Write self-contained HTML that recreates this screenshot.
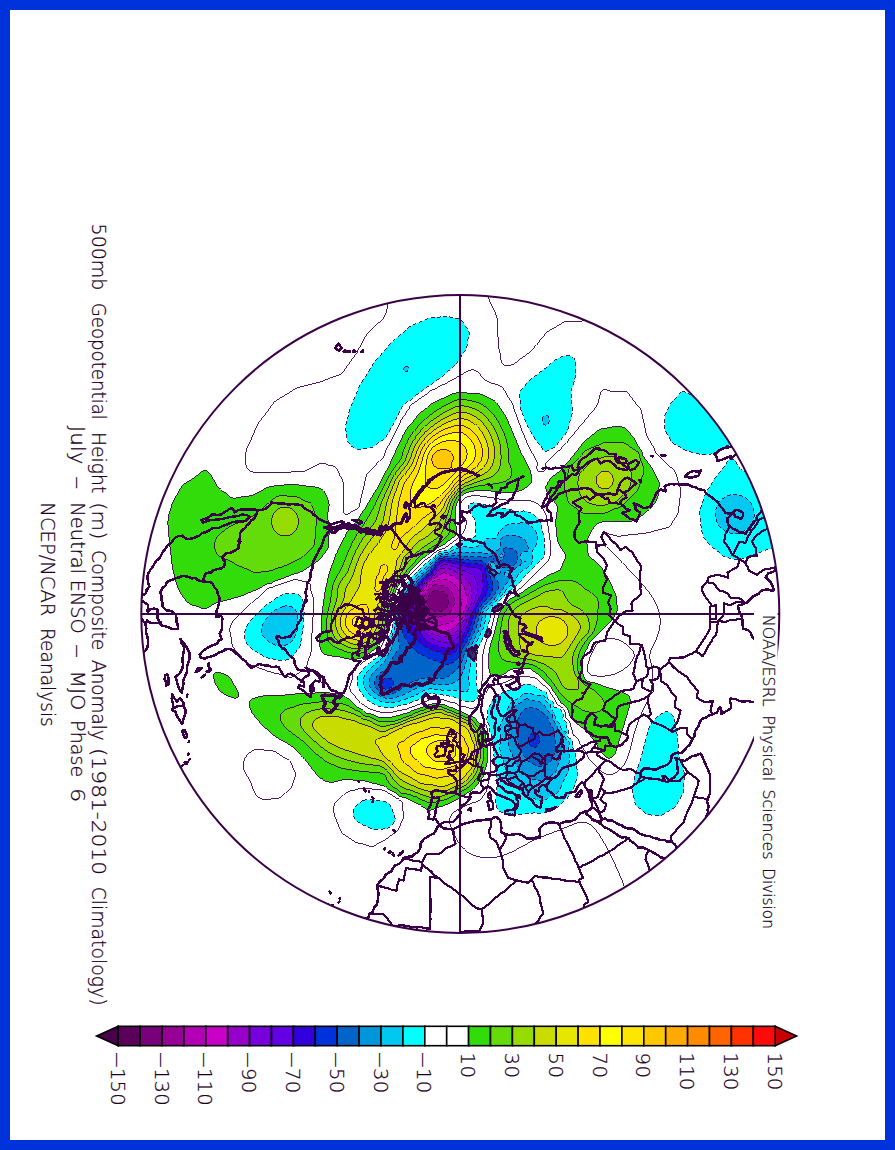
<!DOCTYPE html>
<html lang="en"><head><meta charset="utf-8"><title>500mb Geopotential Height Composite Anomaly</title>
<style>
html,body{margin:0;padding:0;background:#0032dc;}
body{width:895px;height:1150px;overflow:hidden;position:relative;}
svg{position:absolute;left:0;top:0;display:block;}
.t{font-family:"DejaVu Sans","Liberation Sans",sans-serif;font-weight:200;fill:#1c0024;stroke:#1c0024;stroke-width:0.25px;}
</style></head><body>
<svg width="895" height="1150" viewBox="0 0 895 1150">
<rect x="0" y="0" width="895" height="1150" fill="#0032dc"/>
<rect x="10" y="10" width="875" height="1130" fill="#ffffff"/>
<defs><clipPath id="c"><circle cx="460.3" cy="613.9" r="319.0"/></clipPath></defs>
<g clip-path="url(#c)" shape-rendering="crispEdges">
<g id="fills" shape-rendering="crispEdges">
<path fill="#32dc0a" fill-rule="evenodd" d="M703.8,288.9 705.3,288.9 707.3,288.9 709.3,288.9 711.3,288.9 713.3,288.9 715.3,288.9 717.3,288.9 719.3,288.9 721.3,288.9 723.3,288.9 725.3,288.9 727.3,288.9 729.3,288.9 731.3,288.9 733.3,288.9 735.3,288.9 737.3,288.9 739.3,288.9 741.3,288.9 743.3,288.9 745.3,288.9 747.3,288.9 749.3,288.9 751.3,288.9 753.3,288.9 755.3,288.9 757.3,288.9 759.3,288.9 761.3,288.9 763.3,288.9 765.3,288.9 767.3,288.9 769.3,288.9 771.3,288.9 773.3,288.9 775.3,288.9 777.3,288.9 779.3,288.9 781.3,288.9 783.3,288.9 785.3,288.9 785.3,290.9 785.3,292.9 785.3,294.9 785.3,296.9 785.3,298.9 785.3,300.9 785.3,302.9 785.3,304.9 785.3,306.9 785.3,308.9 785.3,310.9 785.3,312.9 785.3,314.9 785.3,316.9 785.3,318.1 783.3,317.8 781.3,317.6 779.3,317.4 777.3,317.2 775.3,317.1 773.3,317.0 772.1,316.9 771.3,316.9 769.3,316.8 767.3,316.7 765.3,316.7 763.3,316.6 761.3,316.6 759.3,316.6 757.3,316.6 755.3,316.7 753.3,316.7 751.3,316.8 749.3,316.8 747.3,316.8 745.3,316.9 743.3,316.9 741.3,316.9 739.3,316.8 737.3,316.7 735.3,316.6 733.3,316.4 731.3,316.1 729.3,315.7 727.3,315.2 726.5,314.9 725.3,314.5 723.3,313.6 722.1,312.9 721.3,312.5 719.3,311.1 719.0,310.9 717.3,309.4 716.7,308.9 715.3,307.5 714.8,306.9 713.3,305.1 713.1,304.9 711.6,302.9 711.3,302.5 710.3,300.9 709.3,299.4 709.0,298.9 707.8,296.9 707.3,295.9 706.7,294.9 705.7,292.9 705.3,292.1 704.7,290.9ZM457.1,392.9 457.3,392.9 459.3,392.8 461.3,392.7 463.3,392.6 465.3,392.8 466.5,392.9 467.3,393.0 469.3,393.2 471.3,393.3 473.3,393.3 475.3,393.3 477.3,393.4 479.3,393.7 481.3,394.3 482.7,394.9 483.3,395.2 485.3,396.3 486.4,396.9 487.3,397.4 489.3,398.4 490.5,398.9 491.3,399.3 493.3,400.2 494.4,400.9 495.3,401.5 496.7,402.9 497.3,403.6 498.2,404.9 499.3,406.7 499.4,406.9 500.7,408.9 501.3,409.7 502.2,410.9 503.3,412.4 503.6,412.9 504.9,414.9 505.3,415.5 506.1,416.9 507.1,418.9 507.3,419.3 508.0,420.9 508.7,422.9 509.3,424.7 509.4,424.9 510.3,426.9 511.2,428.9 511.3,429.2 512.0,430.9 512.9,432.9 513.3,434.0 513.7,434.9 514.5,436.9 515.3,438.7 515.4,438.9 516.2,440.9 517.0,442.9 517.3,443.7 517.8,444.9 518.5,446.9 519.3,448.8 519.4,448.9 520.2,450.9 521.2,452.9 521.3,453.1 522.2,454.9 523.3,456.9 523.3,456.9 524.3,458.9 525.3,460.7 525.4,460.9 526.4,462.9 527.3,464.6 527.4,464.9 528.4,466.9 529.3,468.7 529.4,468.9 530.2,470.9 530.7,472.9 531.1,474.9 531.3,476.0 531.5,476.9 531.9,478.9 532.0,480.9 531.3,482.9 531.3,482.9 529.3,484.9 529.3,484.9 527.3,486.5 526.8,486.9 525.3,488.0 524.0,488.9 523.3,489.3 521.3,490.2 519.5,490.9 519.3,491.0 517.3,491.5 515.3,491.9 513.3,492.3 511.3,492.5 509.3,492.5 507.3,492.5 505.3,492.5 503.3,492.3 501.3,492.1 499.3,491.8 497.3,491.6 495.3,491.4 493.3,491.2 491.3,491.0 489.5,490.9 489.3,490.9 487.3,490.8 485.3,490.7 483.3,490.7 481.3,490.6 479.3,490.6 477.3,490.7 475.3,490.9 475.1,490.9 473.3,491.2 471.3,491.5 469.3,491.8 467.3,492.4 465.8,492.9 465.3,493.1 463.3,494.4 462.7,494.9 461.3,496.3 460.7,496.9 459.3,498.6 459.1,498.9 457.9,500.9 457.3,502.2 457.0,502.9 456.2,504.9 455.6,506.9 455.3,508.9 455.3,509.2 455.2,510.9 455.1,512.9 455.0,514.9 455.1,516.9 455.2,518.9 455.3,520.8 455.3,520.9 455.4,522.9 455.7,524.9 456.1,526.9 456.3,528.9 456.5,530.9 456.6,532.9 456.1,534.9 455.3,535.8 454.0,536.9 453.3,537.4 451.3,538.8 451.2,538.9 449.3,540.3 448.6,540.9 447.3,542.0 446.2,542.9 445.3,543.6 443.5,544.9 443.3,545.0 441.3,546.1 439.7,546.9 439.3,547.1 437.3,547.9 435.5,548.9 435.3,549.0 433.3,550.4 432.6,550.9 431.3,552.0 430.2,552.9 429.3,553.6 427.5,554.9 427.3,555.1 425.3,556.5 424.7,556.9 423.3,558.0 422.3,558.9 421.3,559.9 420.3,560.9 419.3,561.9 418.4,562.9 417.3,564.1 416.5,564.9 415.3,566.0 414.4,566.9 413.3,568.0 412.4,568.9 411.3,570.1 410.5,570.9 409.3,572.3 408.8,572.9 407.3,574.6 407.0,574.9 405.3,576.7 405.1,576.9 403.3,578.9 403.3,578.9 401.8,580.9 401.3,581.5 400.3,582.9 399.3,584.3 398.9,584.9 397.6,586.9 397.3,587.6 396.7,588.9 395.8,590.9 395.3,592.0 394.9,592.9 393.9,594.9 393.3,596.1 392.9,596.9 392.4,598.9 392.0,600.9 391.7,602.9 391.4,604.9 391.3,605.4 391.1,606.9 390.8,608.9 390.4,610.9 390.0,612.9 389.6,614.9 389.3,616.4 389.2,616.9 388.8,618.9 388.5,620.9 388.2,622.9 387.9,624.9 387.6,626.9 387.3,627.9 387.0,628.9 386.2,630.9 385.3,632.7 385.2,632.9 384.2,634.9 383.3,636.6 383.1,636.9 382.0,638.9 381.3,640.2 380.9,640.9 379.7,642.9 379.3,643.5 378.3,644.9 377.3,646.3 376.8,646.9 375.3,648.5 374.9,648.9 373.3,650.3 372.5,650.9 371.3,651.9 369.9,652.9 369.3,653.3 367.3,654.7 367.0,654.9 365.3,655.9 363.3,656.9 363.3,656.9 361.3,657.8 359.3,658.5 357.5,658.9 357.3,659.0 355.3,659.3 353.3,659.4 351.3,659.3 349.3,659.1 348.3,658.9 347.3,658.7 345.3,658.3 343.3,657.8 341.3,657.3 340.1,656.9 339.3,656.7 337.3,656.4 335.3,656.3 333.3,656.1 331.3,655.9 329.3,655.6 327.3,655.2 326.3,654.9 325.3,654.6 323.3,653.4 322.8,652.9 321.3,650.9 321.3,650.8 320.6,648.9 320.1,646.9 319.6,644.9 319.4,642.9 319.4,640.9 319.7,638.9 320.1,636.9 320.6,634.9 321.0,632.9 321.3,631.6 321.4,630.9 321.6,628.9 321.7,626.9 321.7,624.9 321.8,622.9 321.8,620.9 321.8,618.9 321.9,616.9 322.0,614.9 322.2,612.9 322.3,610.9 322.6,608.9 322.9,606.9 323.3,604.9 323.3,604.6 323.6,602.9 323.8,600.9 324.0,598.9 324.3,596.9 324.6,594.9 324.9,592.9 325.3,590.9 325.3,590.8 325.6,588.9 326.1,586.9 326.6,584.9 327.1,582.9 327.3,581.9 327.5,580.9 327.8,578.9 328.2,576.9 328.8,574.9 329.3,573.1 329.4,572.9 329.9,570.9 330.6,568.9 331.3,567.2 331.4,566.9 332.2,564.9 332.9,562.9 333.3,561.9 333.6,560.9 334.2,558.9 335.0,556.9 335.3,556.2 335.7,554.9 336.5,552.9 337.3,551.5 337.5,550.9 338.6,548.9 339.3,547.7 339.7,546.9 340.7,544.9 341.3,543.9 341.7,542.9 342.7,540.9 343.3,539.9 343.7,538.9 344.6,536.9 345.3,535.5 345.6,534.9 346.7,532.9 347.3,532.0 348.1,530.9 349.3,529.4 349.7,528.9 351.3,527.1 351.4,526.9 353.2,524.9 353.3,524.8 354.9,522.9 355.3,522.5 356.5,520.9 357.3,519.9 358.0,518.9 359.3,517.1 359.4,516.9 360.7,514.9 361.3,514.0 362.0,512.9 363.3,511.0 363.4,510.9 364.8,508.9 365.3,508.1 366.0,506.9 367.1,504.9 367.3,504.5 368.2,502.9 369.3,501.1 369.4,500.9 370.6,498.9 371.3,497.9 371.9,496.9 373.1,494.9 373.3,494.6 374.3,492.9 375.3,491.3 375.6,490.9 376.8,488.9 377.3,488.1 378.0,486.9 379.0,484.9 379.3,484.4 380.0,482.9 381.1,480.9 381.3,480.6 382.2,478.9 383.3,476.9 383.3,476.9 384.2,474.9 385.2,472.9 385.3,472.7 386.3,470.9 387.3,469.2 387.5,468.9 388.5,466.9 389.3,465.2 389.5,464.9 390.3,462.9 391.2,460.9 391.3,460.6 392.1,458.9 393.2,456.9 393.3,456.7 394.2,454.9 395.0,452.9 395.3,452.1 395.7,450.9 396.5,448.9 397.3,447.1 397.4,446.9 398.4,444.9 399.3,443.3 399.5,442.9 400.5,440.9 401.3,439.1 401.4,438.9 402.3,436.9 403.3,434.9 403.3,434.9 404.4,432.9 405.3,431.4 405.6,430.9 406.8,428.9 407.3,428.2 408.3,426.9 409.3,425.8 410.2,424.9 411.3,423.8 412.1,422.9 413.3,421.3 413.6,420.9 415.0,418.9 415.3,418.4 416.5,416.9 417.3,416.0 418.3,414.9 419.3,413.9 420.3,412.9 421.3,411.9 422.7,410.9 423.3,410.4 425.3,409.1 425.6,408.9 427.3,407.4 427.8,406.9 429.3,405.5 430.1,404.9 431.3,404.0 433.1,402.9 433.3,402.8 435.3,401.6 437.0,400.9 437.3,400.8 439.3,400.0 441.3,399.1 441.7,398.9 443.3,398.1 445.3,397.2 446.0,396.9 447.3,396.3 449.3,395.2 450.0,394.9 451.3,394.3 453.3,393.6 455.3,393.1ZM612.4,426.9 613.3,426.7 615.3,426.4 617.3,426.2 619.3,426.3 621.3,426.7 622.1,426.9 623.3,427.3 625.3,428.3 626.2,428.9 627.3,429.8 628.2,430.9 629.3,432.3 629.7,432.9 631.1,434.9 631.3,435.1 632.8,436.9 633.3,437.4 634.4,438.9 635.3,440.3 635.6,440.9 636.5,442.9 637.3,444.8 637.3,444.9 638.5,446.9 639.3,447.8 640.3,448.9 641.3,450.1 641.8,450.9 642.4,452.9 642.7,454.9 643.3,456.3 643.7,456.9 645.2,458.9 645.3,459.0 646.8,460.9 647.3,461.7 648.3,462.9 649.3,464.2 649.9,464.9 651.2,466.9 651.3,467.1 652.4,468.9 653.3,470.7 653.5,470.9 654.5,472.9 655.3,474.7 655.4,474.9 656.4,476.9 657.3,478.5 657.6,478.9 658.6,480.9 659.3,482.8 659.3,482.9 659.4,484.9 659.3,485.6 659.1,486.9 658.7,488.9 658.5,490.9 658.3,492.9 658.2,494.9 657.8,496.9 657.3,498.4 657.1,498.9 656.0,500.9 655.3,502.2 654.8,502.9 653.4,504.9 653.3,505.1 651.8,506.9 651.3,507.4 649.8,508.9 649.3,509.4 647.6,510.9 647.3,511.1 645.3,512.8 645.2,512.9 643.3,514.5 642.9,514.9 641.3,516.1 640.1,516.9 639.3,517.4 637.3,518.5 636.6,518.9 635.3,519.5 633.3,520.5 632.6,520.9 631.3,521.4 629.3,521.8 627.3,521.9 625.3,521.8 623.3,521.8 621.3,521.8 619.3,521.8 617.3,521.8 615.3,521.7 613.3,521.4 611.3,521.3 609.3,521.2 607.3,521.3 605.3,521.5 603.3,521.8 601.3,522.2 599.3,522.9 599.3,522.9 597.3,523.9 595.8,524.9 595.3,525.3 593.8,526.9 593.3,527.5 592.3,528.9 591.4,530.9 591.3,531.1 590.5,532.9 589.5,534.9 589.3,535.3 588.3,536.9 587.4,538.9 587.3,539.1 586.9,540.9 586.9,542.9 587.2,544.9 587.3,545.4 587.5,546.9 587.6,548.9 587.7,550.9 587.8,552.9 588.5,554.9 589.3,556.0 590.0,556.9 591.3,558.1 592.2,558.9 593.3,559.8 594.7,560.9 595.3,561.4 596.9,562.9 597.3,563.3 599.0,564.9 599.3,565.2 600.9,566.9 601.3,567.4 602.5,568.9 603.3,570.2 603.8,570.9 604.9,572.9 605.3,573.6 606.0,574.9 607.3,576.9 607.3,577.0 608.5,578.9 609.3,580.2 609.7,580.9 610.7,582.9 611.3,584.2 611.6,584.9 612.4,586.9 613.1,588.9 613.3,589.3 614.0,590.9 614.9,592.9 615.3,594.0 615.6,594.9 616.2,596.9 616.5,598.9 616.6,600.9 616.7,602.9 617.0,604.9 617.3,606.9 617.3,606.9 617.5,608.9 617.3,610.2 617.2,610.9 616.4,612.9 615.3,614.8 615.3,614.9 613.9,616.9 613.3,617.7 612.4,618.9 611.3,620.2 610.8,620.9 609.3,622.4 608.8,622.9 607.3,624.3 606.8,624.9 605.3,626.3 604.8,626.9 603.3,628.3 602.8,628.9 601.3,630.4 600.9,630.9 599.3,632.4 598.9,632.9 597.3,634.4 596.9,634.9 595.3,636.5 594.9,636.9 593.3,638.5 592.9,638.9 591.3,640.4 590.9,640.9 589.7,642.9 589.3,643.6 588.7,644.9 587.8,646.9 587.3,648.0 586.8,648.9 585.7,650.9 585.3,651.7 584.7,652.9 583.9,654.9 583.4,656.9 583.3,657.3 583.0,658.9 582.7,660.9 582.2,662.9 581.6,664.9 581.3,666.4 581.2,666.9 581.1,668.9 581.3,669.5 581.7,670.9 582.4,672.9 583.2,674.9 583.3,675.2 584.0,676.9 584.8,678.9 585.3,679.7 586.7,680.9 587.3,681.3 589.3,681.9 591.3,682.3 593.3,682.6 594.4,682.9 595.3,683.1 597.3,683.8 599.3,684.5 600.4,684.9 601.3,685.2 603.3,686.0 605.3,686.6 606.2,686.9 607.3,687.3 609.3,688.0 611.3,688.6 612.3,688.9 613.3,689.3 615.3,689.9 617.3,690.6 618.3,690.9 619.3,691.3 621.3,691.9 623.3,692.6 624.1,692.9 625.3,693.5 627.3,694.7 627.6,694.9 629.3,696.8 629.4,696.9 630.1,698.9 630.3,700.9 630.1,702.9 629.7,704.9 629.3,706.9 629.3,706.9 628.7,708.9 628.1,710.9 627.6,712.9 627.3,713.8 626.9,714.9 626.3,716.9 625.7,718.9 625.3,720.3 625.1,720.9 624.5,722.9 623.9,724.9 623.3,726.9 623.3,727.0 622.7,728.9 622.1,730.9 621.6,732.9 621.3,733.8 621.0,734.9 620.3,736.9 619.8,738.9 619.3,740.5 619.2,740.9 618.5,742.9 618.0,744.9 617.4,746.9 617.3,747.4 616.9,748.9 616.2,750.9 615.4,752.9 615.3,753.0 614.2,754.9 613.3,756.0 612.4,756.9 611.3,757.7 609.3,758.3 607.3,757.7 606.0,756.9 605.3,756.4 603.8,754.9 603.3,754.4 602.1,752.9 601.3,751.8 600.7,750.9 599.4,748.9 599.3,748.7 598.2,746.9 597.3,745.5 596.9,744.9 595.6,742.9 595.3,742.4 594.3,740.9 593.3,739.5 592.8,738.9 591.3,737.0 591.2,736.9 589.5,734.9 589.3,734.6 587.8,732.9 587.3,732.4 585.9,730.9 585.3,730.4 583.7,728.9 583.3,728.6 581.3,726.9 581.3,726.9 579.3,725.4 578.6,724.9 577.3,724.0 576.2,722.9 575.3,722.1 574.4,720.9 573.3,719.7 572.6,718.9 571.3,717.5 570.8,716.9 569.3,714.9 569.3,714.9 568.9,712.9 568.5,710.9 567.6,708.9 567.3,708.4 566.2,706.9 565.3,706.0 563.9,704.9 563.3,704.4 561.3,702.9 561.3,702.9 559.7,700.9 559.3,700.2 558.7,698.9 557.5,696.9 557.3,696.7 556.1,694.9 555.3,693.9 554.6,692.9 553.3,691.1 553.2,690.9 552.1,688.9 551.3,687.7 550.8,686.9 549.3,685.1 549.1,684.9 547.3,683.3 546.7,682.9 545.3,681.7 544.5,680.9 543.3,679.3 543.0,678.9 541.3,676.9 541.3,676.9 539.3,675.1 539.0,674.9 537.3,673.7 536.1,672.9 535.3,672.4 533.3,671.0 533.1,670.9 531.3,669.8 529.5,668.9 529.3,668.8 527.3,668.5 525.3,668.4 523.3,668.5 521.3,668.6 519.3,668.7 517.3,668.7 515.3,668.7 513.3,668.9 513.3,668.9 511.3,669.5 509.3,670.5 508.6,670.9 507.3,671.8 505.7,672.9 505.3,673.2 503.3,674.4 502.1,674.9 501.3,675.2 499.3,675.7 497.3,676.0 495.3,676.0 493.3,675.8 491.3,675.1 491.0,674.9 489.7,672.9 489.3,671.5 489.2,670.9 489.0,668.9 488.8,666.9 488.7,664.9 488.6,662.9 488.5,660.9 488.5,658.9 488.7,656.9 488.8,654.9 489.0,652.9 489.2,650.9 489.3,650.4 489.6,648.9 490.1,646.9 490.6,644.9 491.1,642.9 491.3,642.0 491.6,640.9 492.3,638.9 493.0,636.9 493.3,636.0 493.7,634.9 494.4,632.9 494.9,630.9 495.3,629.2 495.4,628.9 495.9,626.9 496.4,624.9 496.9,622.9 497.3,621.2 497.4,620.9 497.8,618.9 498.3,616.9 498.9,614.9 499.3,613.9 499.7,612.9 500.7,610.9 501.3,609.9 501.9,608.9 503.3,606.9 503.3,606.8 504.8,604.9 505.3,604.4 506.6,602.9 507.3,602.1 508.5,600.9 509.3,600.1 510.6,598.9 511.3,598.4 513.3,597.2 513.8,596.9 515.3,596.2 517.3,595.2 517.9,594.9 519.3,594.1 521.3,592.9 521.3,592.9 523.3,591.6 524.3,590.9 525.3,590.1 527.0,588.9 527.3,588.6 529.3,587.3 530.0,586.9 531.3,586.0 533.3,584.9 533.3,584.9 535.3,583.5 536.3,582.9 537.3,582.2 539.3,581.0 539.6,580.9 541.3,579.9 543.2,578.9 543.3,578.8 545.3,577.4 546.1,576.9 547.3,576.1 549.3,575.0 549.6,574.9 551.3,574.0 553.3,573.1 553.8,572.9 555.3,572.2 557.3,571.3 558.3,570.9 559.3,570.2 560.8,568.9 561.3,567.9 561.8,566.9 562.4,564.9 563.1,562.9 563.3,562.4 564.0,560.9 565.0,558.9 565.3,558.0 565.6,556.9 565.3,554.9 565.3,554.9 564.3,552.9 563.3,551.4 563.0,550.9 561.6,548.9 561.3,548.5 560.4,546.9 559.3,545.0 559.3,544.9 558.4,542.9 557.5,540.9 557.3,539.9 557.1,538.9 557.0,536.9 556.8,534.9 556.6,532.9 556.4,530.9 556.2,528.9 556.0,526.9 555.7,524.9 555.7,522.9 555.8,520.9 556.0,518.9 556.2,516.9 556.5,514.9 556.9,512.9 557.3,510.9 557.3,510.5 557.4,508.9 557.3,506.9 557.3,506.9 556.5,504.9 555.3,503.0 555.3,502.9 553.7,500.9 553.3,500.4 552.0,498.9 551.3,498.1 550.3,496.9 549.3,495.6 548.8,494.9 547.5,492.9 547.3,492.4 546.5,490.9 545.9,488.9 545.8,486.9 546.4,484.9 547.3,483.5 547.6,482.9 549.0,480.9 549.3,480.5 550.4,478.9 551.3,477.9 552.2,476.9 553.3,476.0 554.7,474.9 555.3,474.4 557.3,473.0 557.5,472.9 559.3,471.8 560.6,470.9 561.3,470.4 562.7,468.9 563.3,468.0 563.8,466.9 565.2,464.9 565.3,464.8 567.2,462.9 567.3,462.8 569.2,460.9 569.3,460.7 570.5,458.9 571.3,457.9 572.1,456.9 573.3,455.6 573.9,454.9 575.3,453.0 575.4,452.9 576.9,450.9 577.3,450.4 578.6,448.9 579.3,448.1 580.2,446.9 581.3,445.3 581.6,444.9 583.2,442.9 583.3,442.7 585.2,440.9 585.3,440.8 587.3,439.0 587.5,438.9 589.3,437.4 590.1,436.9 591.3,435.9 592.6,434.9 593.3,434.3 594.9,432.9 595.3,432.5 597.3,430.9 597.3,430.9 599.3,429.7 601.3,429.0 601.6,428.9 603.3,428.5 605.3,428.2 607.3,428.0 609.3,427.6 611.3,427.1ZM202.7,470.9 203.3,470.6 205.3,470.3 206.8,470.9 207.3,471.2 209.2,472.9 209.3,473.0 210.7,474.9 211.3,475.7 212.0,476.9 213.2,478.9 213.3,479.0 214.3,480.9 215.3,482.8 215.4,482.9 216.4,484.9 217.3,486.3 217.7,486.9 219.3,488.7 219.5,488.9 221.3,490.2 222.3,490.9 223.3,491.5 225.3,492.8 225.4,492.9 227.3,494.6 227.7,494.9 229.3,496.2 230.2,496.9 231.3,497.5 233.3,498.1 235.3,498.1 237.3,497.8 239.3,497.4 241.3,496.9 241.5,496.9 243.3,496.6 245.3,496.5 247.3,496.3 249.3,496.0 251.3,495.6 253.3,494.9 253.4,494.9 255.3,494.1 257.3,493.0 257.5,492.9 259.3,491.9 261.0,490.9 261.3,490.8 263.3,489.6 264.6,488.9 265.3,488.5 267.3,487.6 269.1,486.9 269.3,486.8 271.3,486.4 273.3,486.1 275.3,485.9 277.3,485.7 279.3,485.6 281.3,485.4 283.3,485.1 284.5,484.9 285.3,484.8 287.3,484.5 289.3,484.3 291.3,484.1 293.3,484.2 295.3,484.5 297.3,484.8 298.0,484.9 299.3,485.1 301.3,485.4 303.3,485.6 305.3,485.9 307.3,486.1 309.3,486.3 311.3,486.6 313.3,486.8 313.8,486.9 315.3,487.1 317.3,487.5 319.3,488.1 321.1,488.9 321.3,489.0 323.3,490.5 323.7,490.9 325.2,492.9 325.3,493.1 326.2,494.9 327.1,496.9 327.3,497.5 327.7,498.9 328.3,500.9 328.8,502.9 329.1,504.9 328.9,506.9 328.6,508.9 328.3,510.9 327.9,512.9 327.7,514.9 327.8,516.9 327.9,518.9 328.1,520.9 328.4,522.9 328.6,524.9 328.8,526.9 329.0,528.9 329.1,530.9 329.1,532.9 329.0,534.9 328.8,536.9 328.6,538.9 328.5,540.9 328.4,542.9 328.4,544.9 328.2,546.9 327.6,548.9 327.3,549.4 326.4,550.9 325.3,552.2 324.8,552.9 323.3,554.7 323.1,554.9 321.8,556.9 321.3,557.6 320.3,558.9 319.3,559.9 318.1,560.9 317.3,561.4 315.3,562.7 315.0,562.9 313.3,564.0 311.8,564.9 311.3,565.2 309.3,566.7 309.0,566.9 307.3,568.1 306.2,568.9 305.3,569.4 303.3,570.6 302.8,570.9 301.3,571.6 299.3,572.3 297.9,572.9 297.3,573.1 295.3,573.7 293.3,574.2 291.4,574.9 291.3,574.9 289.3,575.8 287.3,576.7 286.8,576.9 285.3,577.3 283.3,578.1 281.5,578.9 281.3,579.0 279.3,579.6 277.3,580.2 275.7,580.9 275.3,581.0 273.3,582.1 271.9,582.9 271.3,583.2 269.3,583.7 267.3,584.0 265.3,584.7 265.0,584.9 263.3,585.9 261.9,586.9 261.3,587.3 259.3,588.5 258.3,588.9 257.3,589.4 255.3,590.2 253.5,590.9 253.3,591.0 251.3,591.8 249.3,592.6 248.6,592.9 247.3,593.4 245.3,594.3 243.9,594.9 243.3,595.2 241.3,596.0 239.3,596.7 238.6,596.9 237.3,597.3 235.3,597.8 233.3,598.3 231.3,598.8 231.0,598.9 229.3,599.4 227.3,600.0 225.3,600.5 223.8,600.9 223.3,601.0 221.3,601.5 219.3,602.1 217.3,602.7 216.6,602.9 215.3,603.4 213.3,604.5 212.7,604.9 211.3,605.7 209.4,606.9 209.3,606.9 207.3,607.9 205.3,608.6 203.3,608.5 201.3,608.0 199.3,607.2 198.5,606.9 197.3,606.5 195.3,605.9 193.3,605.4 191.9,604.9 191.3,604.7 189.3,603.5 188.5,602.9 187.3,601.9 186.3,600.9 185.3,599.8 184.6,598.9 183.3,597.2 183.1,596.9 181.7,594.9 181.3,594.3 180.4,592.9 179.3,590.9 179.3,590.9 178.4,588.9 177.6,586.9 177.3,586.2 176.9,584.9 176.3,582.9 175.8,580.9 175.3,578.9 175.3,578.9 174.9,576.9 174.3,574.9 173.8,572.9 173.3,570.9 173.3,570.9 172.8,568.9 172.5,566.9 172.2,564.9 171.9,562.9 171.7,560.9 171.5,558.9 171.3,557.1 171.3,556.9 171.0,554.9 170.8,552.9 170.5,550.9 170.3,548.9 170.0,546.9 169.8,544.9 169.6,542.9 169.4,540.9 169.3,539.7 169.2,538.9 169.0,536.9 168.8,534.9 168.6,532.9 168.4,530.9 168.2,528.9 168.0,526.9 168.0,524.9 167.9,522.9 168.0,520.9 168.1,518.9 168.4,516.9 168.8,514.9 169.3,513.1 169.4,512.9 170.0,510.9 170.7,508.9 171.2,506.9 171.3,506.7 171.8,504.9 172.5,502.9 173.3,501.1 173.4,500.9 174.5,498.9 175.3,497.6 175.7,496.9 177.0,494.9 177.3,494.4 178.2,492.9 179.2,490.9 179.3,490.7 180.3,488.9 181.3,487.2 181.5,486.9 183.1,484.9 183.3,484.7 185.3,483.2 185.7,482.9 187.3,481.9 189.1,480.9 189.3,480.8 191.3,479.5 192.3,478.9 193.3,478.2 195.2,476.9 195.3,476.8 197.3,475.3 197.8,474.9 199.3,473.5 200.0,472.9 201.3,471.8ZM214.9,672.9 215.3,672.7 217.3,672.3 219.3,672.5 220.5,672.9 221.3,673.1 223.3,673.9 225.3,674.7 225.7,674.9 227.3,675.6 229.1,676.9 229.3,677.1 230.9,678.9 231.3,679.5 232.1,680.9 233.0,682.9 233.3,683.5 234.3,684.9 235.3,686.7 235.5,686.9 236.7,688.9 237.3,690.3 237.7,690.9 238.6,692.9 239.0,694.9 238.5,696.9 237.3,697.7 235.3,698.1 233.3,697.9 231.3,697.3 230.3,696.9 229.3,696.5 227.3,695.6 226.2,694.9 225.3,694.5 223.3,693.4 222.5,692.9 221.3,692.2 219.9,690.9 219.3,690.2 218.4,688.9 217.4,686.9 217.3,686.8 216.1,684.9 215.3,683.3 215.1,682.9 214.3,680.9 213.9,678.9 213.6,676.9 213.7,674.9ZM315.9,692.9 317.3,692.6 319.3,692.3 321.3,692.1 323.3,692.0 325.3,692.1 327.3,692.4 329.3,692.8 329.7,692.9 331.3,693.2 333.3,693.6 335.3,693.7 337.3,693.8 339.3,694.0 341.3,694.5 342.3,694.9 343.3,695.3 345.3,696.5 345.7,696.9 347.3,698.0 348.4,698.9 349.3,699.6 350.8,700.9 351.3,701.3 352.8,702.9 353.3,703.4 354.7,704.9 355.3,705.5 356.8,706.9 357.3,707.2 359.3,708.0 361.2,708.9 361.3,709.0 363.3,710.5 363.7,710.9 365.3,712.6 365.7,712.9 367.3,713.6 369.3,713.7 371.3,714.0 373.3,714.6 374.0,714.9 375.3,715.5 377.3,716.5 378.2,716.9 379.3,717.3 381.3,717.4 383.3,717.3 385.3,717.1 387.3,717.1 389.3,717.2 391.3,717.1 392.9,716.9 393.3,716.8 395.3,716.2 397.3,715.5 399.3,715.1 400.1,714.9 401.3,714.6 403.3,714.0 405.3,713.5 407.3,713.0 407.7,712.9 409.3,712.2 411.3,711.0 411.6,710.9 413.3,710.3 415.3,709.5 417.0,708.9 417.3,708.8 419.3,708.1 421.3,707.4 423.0,706.9 423.3,706.8 425.3,706.0 427.3,705.3 428.4,704.9 429.3,704.6 431.3,704.1 433.3,703.9 435.3,703.9 437.3,704.1 439.3,704.2 441.3,704.2 443.3,704.4 444.5,704.9 445.3,705.2 447.3,706.2 449.0,706.9 449.3,707.0 451.3,707.5 453.3,708.3 454.4,708.9 455.3,709.3 457.3,710.3 459.0,710.9 459.3,711.0 461.3,711.6 463.3,712.5 464.1,712.9 465.3,713.4 467.3,714.5 468.0,714.9 469.3,715.5 471.3,716.1 473.1,716.9 473.3,717.0 475.3,718.4 475.7,718.9 477.1,720.9 477.3,721.1 479.1,722.9 479.3,723.1 481.2,724.9 481.3,725.0 482.9,726.9 483.3,727.8 483.8,728.9 484.3,730.9 484.7,732.9 485.2,734.9 485.3,735.6 485.5,736.9 485.8,738.9 485.9,740.9 486.3,742.9 486.9,744.9 487.2,746.9 487.2,748.9 487.2,750.9 487.2,752.9 487.2,754.9 487.3,756.9 487.3,757.0 487.4,758.9 487.4,760.9 487.3,761.4 487.1,762.9 486.5,764.9 485.9,766.9 485.3,768.8 485.3,768.9 484.8,770.9 484.4,772.9 483.7,774.9 483.3,775.9 482.9,776.9 481.6,778.9 481.3,779.3 480.0,780.9 479.3,781.8 478.5,782.9 477.3,784.6 477.1,784.9 475.6,786.9 475.3,787.2 473.5,788.9 473.3,789.1 471.3,790.6 470.8,790.9 469.3,791.8 467.3,792.9 467.3,792.9 465.3,794.4 464.5,794.9 463.3,795.8 461.6,796.9 461.3,797.1 459.3,798.3 458.2,798.9 457.3,799.3 455.3,800.3 454.0,800.9 453.3,801.2 451.3,802.3 450.1,802.9 449.3,803.3 447.3,804.3 445.7,804.9 445.3,805.1 443.3,805.8 441.3,806.4 439.6,806.9 439.3,807.0 437.3,807.8 435.3,808.7 434.7,808.9 433.3,809.5 431.3,810.0 429.3,810.1 427.3,809.5 426.2,808.9 425.3,808.5 423.3,807.1 423.1,806.9 421.3,805.9 419.5,804.9 419.3,804.8 417.3,803.9 415.4,802.9 415.3,802.9 413.3,801.8 411.7,800.9 411.3,800.7 409.3,799.6 408.0,798.9 407.3,798.6 405.3,797.8 403.3,797.3 401.3,796.9 401.2,796.9 399.3,796.2 397.7,794.9 397.3,794.4 395.8,792.9 395.3,792.5 393.3,791.4 392.1,790.9 391.3,790.6 389.3,789.7 387.9,788.9 387.3,788.4 385.5,786.9 385.3,786.7 383.3,785.6 381.3,785.2 379.4,784.9 379.3,784.9 377.3,784.1 375.3,783.6 373.3,783.2 371.4,782.9 371.3,782.9 369.3,782.2 367.3,781.6 365.3,781.1 363.7,780.9 363.3,780.8 361.3,780.6 359.3,780.4 357.3,780.2 355.3,780.1 353.3,780.0 351.3,779.8 349.3,779.6 347.3,779.4 345.3,779.5 343.3,779.7 341.3,780.1 339.3,780.6 338.2,780.9 337.3,781.2 335.3,781.7 333.3,782.2 331.3,782.3 329.3,782.1 327.3,781.7 325.3,781.0 325.0,780.9 323.3,780.1 321.5,778.9 321.3,778.8 319.3,777.1 319.1,776.9 317.3,775.1 317.1,774.9 315.4,772.9 315.3,772.8 313.7,770.9 313.3,770.4 312.2,768.9 311.3,767.7 310.7,766.9 309.3,765.0 309.2,764.9 307.8,762.9 307.3,762.2 306.3,760.9 305.3,759.7 304.6,758.9 303.3,757.5 302.7,756.9 301.3,755.5 300.6,754.9 299.3,753.7 298.5,752.9 297.3,751.6 296.7,750.9 295.3,749.4 294.8,748.9 293.3,747.5 292.6,746.9 291.3,745.9 289.9,744.9 289.3,744.5 287.3,743.3 286.6,742.9 285.3,742.2 283.3,741.1 282.9,740.9 281.3,740.0 279.3,738.9 279.3,738.9 277.3,737.7 275.9,736.9 275.3,736.5 273.3,735.0 273.2,734.9 271.3,733.3 270.9,732.9 269.3,731.4 268.7,730.9 267.3,729.6 266.4,728.9 265.3,727.9 264.1,726.9 263.3,726.1 262.1,724.9 261.3,723.9 260.4,722.9 259.3,721.5 258.7,720.9 257.3,719.2 257.0,718.9 255.3,717.0 255.2,716.9 253.5,714.9 253.3,714.5 252.2,712.9 251.3,711.1 251.2,710.9 250.4,708.9 249.8,706.9 249.5,704.9 249.5,702.9 250.2,700.9 251.3,699.9 252.6,698.9 253.3,698.6 255.3,697.8 257.3,697.2 258.2,696.9 259.3,696.7 261.3,696.3 263.3,695.9 265.3,695.7 267.3,695.5 269.3,695.4 271.3,695.4 273.3,695.3 275.3,695.3 277.3,695.2 279.3,695.2 281.3,695.1 283.3,695.1 285.3,695.0 287.2,694.9 287.3,694.9 289.3,694.7 291.3,694.5 293.3,694.3 295.3,694.0 297.3,693.8 299.3,693.6 301.3,693.4 303.3,693.4 305.3,693.5 307.3,693.6 309.3,693.7 311.3,693.6 313.3,693.3 315.3,693.0Z"/>
<path fill="#64dc0a" fill-rule="evenodd" d="M454.6,400.9 455.3,400.6 457.3,400.0 459.3,399.6 461.3,399.5 463.3,399.6 465.3,399.8 467.3,400.1 469.3,400.5 471.3,400.9 471.3,400.9 473.3,401.3 475.3,401.9 477.3,402.5 478.3,402.9 479.3,403.3 481.3,404.3 482.4,404.9 483.3,405.4 485.3,406.7 485.6,406.9 487.3,408.2 488.2,408.9 489.3,409.9 490.3,410.9 491.3,411.9 492.1,412.9 493.3,414.3 493.7,414.9 495.2,416.9 495.3,417.0 496.6,418.9 497.3,420.0 497.9,420.9 499.0,422.9 499.3,423.4 500.1,424.9 501.1,426.9 501.3,427.4 502.0,428.9 502.9,430.9 503.3,431.8 503.8,432.9 504.6,434.9 505.3,436.9 505.3,436.9 506.0,438.9 506.6,440.9 507.1,442.9 507.3,443.7 507.6,444.9 507.9,446.9 508.2,448.9 508.3,450.9 508.3,452.9 508.2,454.9 508.1,456.9 508.1,458.9 508.5,460.9 509.1,462.9 509.3,463.6 509.8,464.9 510.5,466.9 511.2,468.9 511.3,469.6 511.6,470.9 511.8,472.9 511.5,474.9 511.3,475.3 510.6,476.9 509.3,478.4 508.9,478.9 507.3,480.0 505.9,480.9 505.3,481.2 503.3,482.0 501.3,482.6 500.0,482.9 499.3,483.0 497.3,483.4 495.3,483.7 493.3,484.0 491.3,484.3 489.3,484.6 487.3,484.8 486.6,484.9 485.3,485.0 483.3,485.3 481.3,485.5 479.3,485.8 477.3,486.2 475.3,486.7 474.4,486.9 473.3,487.2 471.3,487.7 469.3,488.3 467.3,488.9 467.3,488.9 465.3,489.7 463.3,490.9 463.2,490.9 461.3,492.4 460.8,492.9 459.3,494.4 458.9,494.9 457.3,496.8 457.2,496.9 455.9,498.9 455.3,500.0 454.8,500.9 453.9,502.9 453.3,504.6 453.2,504.9 452.6,506.9 452.2,508.9 451.8,510.9 451.4,512.9 451.3,513.3 451.0,514.9 450.7,516.9 450.4,518.9 450.1,520.9 450.0,522.9 449.9,524.9 449.9,526.9 449.9,528.9 449.8,530.9 449.3,532.8 449.3,532.9 448.1,534.9 447.3,535.8 446.3,536.9 445.3,537.9 444.3,538.9 443.3,539.8 442.1,540.9 441.3,541.5 439.4,542.9 439.3,543.0 437.3,544.1 435.9,544.9 435.3,545.2 433.3,546.4 432.5,546.9 431.3,547.7 429.6,548.9 429.3,549.1 427.3,550.5 426.8,550.9 425.3,552.0 424.1,552.9 423.3,553.5 421.6,554.9 421.3,555.1 419.3,556.9 419.3,556.9 417.4,558.9 417.3,559.0 415.5,560.9 415.3,561.2 413.7,562.9 413.3,563.3 411.8,564.9 411.3,565.4 410.0,566.9 409.3,567.7 408.3,568.9 407.3,570.1 406.7,570.9 405.3,572.6 405.0,572.9 403.3,574.9 403.3,574.9 401.7,576.9 401.3,577.3 400.1,578.9 399.3,580.0 398.6,580.9 397.3,582.8 397.2,582.9 396.0,584.9 395.3,586.3 395.0,586.9 394.2,588.9 393.3,590.9 393.3,590.9 392.4,592.9 391.4,594.9 391.3,595.1 390.5,596.9 389.9,598.9 389.4,600.9 389.3,601.4 389.0,602.9 388.6,604.9 388.2,606.9 387.8,608.9 387.4,610.9 387.3,611.7 387.1,612.9 386.7,614.9 386.4,616.9 386.1,618.9 385.8,620.9 385.6,622.9 385.3,624.7 385.3,624.9 384.7,626.9 384.0,628.9 383.3,630.5 383.1,630.9 382.1,632.9 381.3,634.4 381.0,634.9 379.8,636.9 379.3,637.7 378.5,638.9 377.3,640.7 377.2,640.9 375.6,642.9 375.3,643.3 373.8,644.9 373.3,645.4 371.7,646.9 371.3,647.2 369.3,648.8 369.1,648.9 367.3,650.1 366.0,650.9 365.3,651.3 363.3,652.2 361.3,652.9 361.3,652.9 359.3,653.4 357.3,653.6 355.3,653.6 353.3,653.4 351.3,653.0 350.7,652.9 349.3,652.6 347.3,652.0 345.3,651.3 344.1,650.9 343.3,650.6 341.3,649.8 339.3,649.0 338.9,648.9 337.3,648.2 335.3,647.2 334.6,646.9 333.3,646.1 331.7,644.9 331.3,644.6 329.8,642.9 329.3,642.1 328.6,640.9 327.9,638.9 327.5,636.9 327.3,634.9 327.3,634.8 327.2,632.9 327.1,630.9 326.9,628.9 326.9,626.9 326.8,624.9 326.8,622.9 326.8,620.9 326.9,618.9 327.1,616.9 327.3,615.8 327.4,614.9 327.7,612.9 328.1,610.9 328.6,608.9 329.0,606.9 329.3,605.7 329.5,604.9 330.0,602.9 330.4,600.9 330.7,598.9 331.1,596.9 331.3,595.4 331.4,594.9 331.6,592.9 331.9,590.9 332.2,588.9 332.6,586.9 333.1,584.9 333.3,584.4 333.8,582.9 334.5,580.9 335.3,579.2 335.4,578.9 336.5,576.9 337.3,575.4 337.6,574.9 338.8,572.9 339.3,572.1 340.0,570.9 341.2,568.9 341.3,568.6 342.2,566.9 343.0,564.9 343.3,564.3 343.8,562.9 344.6,560.9 345.3,559.1 345.4,558.9 346.1,556.9 346.9,554.9 347.3,554.0 347.7,552.9 348.6,550.9 349.3,549.3 349.5,548.9 350.4,546.9 351.3,545.0 351.3,544.9 352.3,542.9 353.3,540.9 353.3,540.9 354.4,538.9 355.3,537.2 355.5,536.9 356.7,534.9 357.3,533.9 357.9,532.9 359.3,530.9 359.3,530.9 360.7,528.9 361.3,528.0 362.1,526.9 363.3,525.1 363.4,524.9 364.7,522.9 365.3,521.9 366.0,520.9 367.1,518.9 367.3,518.6 368.3,516.9 369.3,515.1 369.4,514.9 370.5,512.9 371.3,511.4 371.6,510.9 372.6,508.9 373.3,507.5 373.6,506.9 374.6,504.9 375.3,503.5 375.6,502.9 376.6,500.9 377.3,499.6 377.6,498.9 378.6,496.9 379.3,495.7 379.7,494.9 380.7,492.9 381.3,491.9 381.8,490.9 382.8,488.9 383.3,487.9 383.8,486.9 384.8,484.9 385.3,483.8 385.7,482.9 386.7,480.9 387.3,479.7 387.7,478.9 388.7,476.9 389.3,475.8 389.8,474.9 390.9,472.9 391.3,472.3 392.2,470.9 393.3,469.2 393.5,468.9 394.9,466.9 395.3,466.3 396.3,464.9 397.3,463.7 398.0,462.9 399.3,461.3 399.6,460.9 401.0,458.9 401.3,458.1 401.7,456.9 402.2,454.9 402.8,452.9 403.3,451.3 403.4,450.9 404.1,448.9 404.9,446.9 405.3,445.9 405.7,444.9 406.6,442.9 407.3,441.5 407.6,440.9 408.7,438.9 409.3,437.8 409.8,436.9 411.1,434.9 411.3,434.6 412.5,432.9 413.3,431.9 414.1,430.9 415.3,429.5 415.8,428.9 417.3,427.2 417.6,426.9 419.3,425.0 419.4,424.9 421.3,422.9 421.3,422.9 423.3,421.0 423.4,420.9 425.3,419.2 425.6,418.9 427.3,417.5 428.0,416.9 429.3,415.9 430.6,414.9 431.3,414.4 433.3,412.9 433.3,412.9 435.3,411.4 436.1,410.9 437.3,410.1 439.2,408.9 439.3,408.8 441.3,407.6 442.6,406.9 443.3,406.5 445.3,405.4 446.3,404.9 447.3,404.4 449.3,403.3 450.2,402.9 451.3,402.3 453.3,401.4ZM603.2,442.9 603.3,442.8 605.3,442.3 607.3,442.1 609.3,442.1 611.3,442.3 613.3,442.5 615.3,442.7 617.3,442.5 619.3,442.4 621.3,442.4 623.3,442.6 624.2,442.9 625.3,443.3 627.3,444.5 627.8,444.9 629.3,446.0 630.3,446.9 631.3,447.6 633.1,448.9 633.3,449.0 635.3,450.3 636.2,450.9 637.3,451.6 638.8,452.9 639.3,454.4 639.4,454.9 639.6,456.9 640.2,458.9 641.1,460.9 641.3,461.3 642.0,462.9 642.7,464.9 643.3,466.9 643.3,466.9 643.8,468.9 643.9,470.9 643.7,472.9 643.3,474.1 643.1,474.9 642.2,476.9 641.3,478.9 641.3,478.9 640.7,480.9 640.3,482.9 639.7,484.9 639.3,486.1 639.0,486.9 638.1,488.9 637.3,490.2 636.9,490.9 635.3,492.8 635.3,492.9 633.3,494.7 633.1,494.9 631.3,496.4 630.8,496.9 629.3,498.5 629.0,498.9 627.3,500.9 627.3,500.9 625.4,502.9 625.3,503.0 623.3,504.8 623.1,504.9 621.3,506.3 620.3,506.9 619.3,507.5 617.3,508.3 615.3,508.8 614.8,508.9 613.3,509.3 611.3,510.2 609.9,510.9 609.3,511.2 607.3,512.2 605.7,512.9 605.3,513.0 603.3,513.6 601.3,513.9 599.3,513.9 597.3,513.8 595.3,513.6 593.3,513.4 591.3,513.4 589.3,513.4 587.3,513.5 585.3,513.4 583.3,513.0 583.1,512.9 581.3,512.2 579.4,510.9 579.3,510.8 577.3,509.0 577.1,508.9 575.3,507.5 574.3,506.9 573.3,506.4 571.3,505.1 571.0,504.9 569.3,503.3 569.0,502.9 568.1,500.9 567.5,498.9 567.3,498.1 567.0,496.9 566.5,494.9 565.9,492.9 565.3,491.3 565.1,490.9 564.5,488.9 564.1,486.9 564.1,484.9 564.5,482.9 565.2,480.9 565.3,480.6 566.0,478.9 566.8,476.9 567.3,475.5 567.5,474.9 568.1,472.9 568.6,470.9 569.1,468.9 569.3,468.5 570.2,466.9 571.3,465.8 572.3,464.9 573.3,464.0 574.4,462.9 575.3,461.8 576.1,460.9 577.3,459.3 577.6,458.9 579.3,457.3 579.7,456.9 581.3,455.3 581.7,454.9 583.3,453.0 583.4,452.9 585.2,450.9 585.3,450.8 587.3,449.6 588.8,448.9 589.3,448.7 591.3,447.9 593.3,447.3 594.4,446.9 595.3,446.5 597.3,445.6 598.8,444.9 599.3,444.7 601.3,443.7ZM276.4,496.9 277.3,496.5 279.3,495.8 281.3,495.5 283.3,495.6 285.3,495.8 287.3,496.1 289.3,496.3 291.3,496.4 293.3,496.5 295.3,496.7 296.4,496.9 297.3,497.1 299.3,497.9 301.2,498.9 301.3,499.0 303.3,500.1 305.0,500.9 305.3,501.0 307.3,501.9 309.3,502.8 309.5,502.9 311.3,504.5 311.6,504.9 312.6,506.9 313.2,508.9 313.3,509.2 313.8,510.9 314.7,512.9 315.3,514.1 315.6,514.9 316.3,516.9 316.6,518.9 316.5,520.9 316.3,522.9 316.1,524.9 315.8,526.9 315.6,528.9 315.5,530.9 315.3,532.9 315.3,533.0 315.2,534.9 315.1,536.9 315.0,538.9 314.9,540.9 314.6,542.9 314.1,544.9 313.3,546.6 313.1,546.9 311.3,548.8 311.2,548.9 309.3,550.5 308.8,550.9 307.3,552.3 306.8,552.9 305.3,554.4 304.8,554.9 303.3,556.4 302.6,556.9 301.3,557.8 299.4,558.9 299.3,558.9 297.3,559.9 295.3,560.7 294.9,560.9 293.3,561.7 291.3,562.8 291.1,562.9 289.3,563.8 287.3,564.8 287.0,564.9 285.3,565.6 283.3,566.5 282.2,566.9 281.3,567.2 279.3,567.7 277.3,568.3 275.7,568.9 275.3,569.1 273.3,569.9 271.3,570.5 269.6,570.9 269.3,571.0 267.3,571.4 265.3,571.7 263.3,571.8 261.3,571.9 259.3,572.2 257.3,572.4 255.3,572.4 253.3,572.0 251.3,571.3 250.5,570.9 249.3,570.3 247.3,569.3 246.3,568.9 245.3,568.5 243.3,567.7 241.3,566.9 241.3,566.9 239.3,566.0 237.3,565.0 237.1,564.9 235.3,563.9 233.4,562.9 233.3,562.9 231.3,561.9 229.4,560.9 229.3,560.8 227.3,559.9 225.3,559.0 224.9,558.9 223.3,558.2 221.3,557.3 220.7,556.9 219.3,556.0 218.1,554.9 217.3,554.0 216.6,552.9 215.6,550.9 215.3,549.9 215.0,548.9 214.7,546.9 214.6,544.9 214.8,542.9 215.3,540.9 215.3,540.8 216.0,538.9 217.1,536.9 217.3,536.6 218.7,534.9 219.3,534.3 221.0,532.9 221.3,532.7 223.3,531.3 223.8,530.9 225.3,529.8 226.3,528.9 227.3,528.2 229.0,526.9 229.3,526.7 231.3,525.7 233.1,524.9 233.3,524.8 235.3,524.0 237.3,523.2 238.1,522.9 239.3,522.5 241.3,521.7 243.2,520.9 243.3,520.9 245.3,520.0 247.3,519.0 247.5,518.9 249.3,518.0 251.2,516.9 251.3,516.8 253.3,515.6 254.3,514.9 255.3,514.3 257.1,512.9 257.3,512.8 259.3,511.1 259.5,510.9 261.3,509.4 261.8,508.9 263.3,507.6 264.1,506.9 265.3,505.9 266.4,504.9 267.3,504.1 268.7,502.9 269.3,502.4 270.8,500.9 271.3,500.5 273.2,498.9 273.3,498.8 275.3,497.5ZM558.8,580.9 559.3,580.8 561.3,580.5 563.3,580.4 565.3,580.3 567.3,580.2 569.3,580.3 571.3,580.5 573.0,580.9 573.3,581.0 575.3,581.7 577.3,582.7 577.7,582.9 579.3,584.1 580.4,584.9 581.3,585.7 582.7,586.9 583.3,587.4 585.3,588.9 585.3,588.9 587.3,590.2 588.4,590.9 589.3,591.4 591.3,592.6 591.6,592.9 593.3,594.1 594.3,594.9 595.3,595.8 596.2,596.9 597.3,598.5 597.5,598.9 598.1,600.9 598.2,602.9 598.1,604.9 598.0,606.9 598.0,608.9 597.9,610.9 597.9,612.9 597.8,614.9 597.7,616.9 597.4,618.9 597.3,619.4 597.1,620.9 596.6,622.9 596.1,624.9 595.5,626.9 595.3,627.3 594.8,628.9 593.9,630.9 593.3,631.9 592.8,632.9 591.3,634.9 591.3,634.9 589.5,636.9 589.3,637.1 587.6,638.9 587.3,639.2 585.9,640.9 585.3,641.8 584.5,642.9 583.3,644.9 583.3,644.9 582.1,646.9 581.3,648.4 581.0,648.9 580.1,650.9 579.3,652.9 579.3,652.9 578.7,654.9 578.3,656.9 577.9,658.9 577.7,660.9 577.5,662.9 577.3,664.9 577.3,666.9 577.5,668.9 577.9,670.9 578.7,672.9 579.3,674.4 579.5,674.9 580.4,676.9 581.2,678.9 581.3,679.2 582.0,680.9 583.1,682.9 583.3,683.2 585.1,684.9 585.3,685.1 587.3,686.3 588.5,686.9 589.3,687.4 591.3,688.5 592.1,688.9 593.3,689.7 595.0,690.9 595.3,691.2 597.3,692.9 597.3,692.9 599.3,694.8 599.4,694.9 601.1,696.9 601.3,697.2 602.5,698.9 603.3,700.4 603.6,700.9 604.2,702.9 604.2,704.9 603.6,706.9 603.3,707.5 602.3,708.9 601.3,709.8 599.8,710.9 599.3,711.2 597.3,711.9 595.3,712.3 593.3,712.4 591.3,712.2 589.3,712.0 587.3,711.7 585.3,711.2 584.3,710.9 583.3,710.5 581.3,709.5 580.5,708.9 579.3,708.1 577.7,706.9 577.3,706.7 575.3,705.6 574.2,704.9 573.3,704.4 571.3,703.1 571.1,702.9 569.3,701.7 568.1,700.9 567.3,700.3 565.4,698.9 565.3,698.8 563.5,696.9 563.3,696.7 561.8,694.9 561.3,694.3 560.1,692.9 559.3,691.9 558.5,690.9 557.3,689.3 557.0,688.9 555.8,686.9 555.3,686.1 554.5,684.9 553.3,683.1 553.1,682.9 551.5,680.9 551.3,680.6 549.7,678.9 549.3,678.4 548.0,676.9 547.3,676.0 546.4,674.9 545.3,673.7 544.6,672.9 543.3,671.7 542.4,670.9 541.3,670.1 539.7,668.9 539.3,668.6 537.3,667.4 536.5,666.9 535.3,666.2 533.3,665.3 532.4,664.9 531.3,664.5 529.3,664.0 527.3,663.6 525.3,663.4 523.3,663.3 521.3,663.2 519.3,663.1 517.4,662.9 517.3,662.9 515.3,662.6 513.3,662.3 511.3,662.0 509.3,661.6 507.3,661.2 505.9,660.9 505.3,660.7 503.3,659.7 502.2,658.9 501.3,657.8 500.8,656.9 499.9,654.9 499.3,653.2 499.2,652.9 498.7,650.9 498.5,648.9 498.4,646.9 498.5,644.9 498.7,642.9 499.0,640.9 499.3,638.9 499.3,638.8 499.6,636.9 499.9,634.9 500.2,632.9 500.5,630.9 500.7,628.9 501.0,626.9 501.3,625.3 501.4,624.9 501.7,622.9 502.1,620.9 502.5,618.9 503.1,616.9 503.3,616.3 503.8,614.9 504.8,612.9 505.3,611.9 505.9,610.9 507.1,608.9 507.3,608.7 508.6,606.9 509.3,606.1 510.4,604.9 511.3,604.0 512.5,602.9 513.3,602.3 515.3,601.0 515.6,600.9 517.3,600.1 519.3,599.1 519.7,598.9 521.3,598.1 523.3,597.1 523.7,596.9 525.3,596.0 527.2,594.9 527.3,594.8 529.3,593.7 530.6,592.9 531.3,592.5 533.3,591.4 534.1,590.9 535.3,590.2 537.3,589.1 537.6,588.9 539.3,588.0 541.3,586.9 541.3,586.9 543.3,585.9 545.3,585.0 545.7,584.9 547.3,584.2 549.3,583.5 550.9,582.9 551.3,582.8 553.3,582.1 555.3,581.6 557.3,581.2ZM312.6,702.9 313.3,702.8 315.3,702.6 317.3,702.3 319.3,702.0 321.3,701.7 323.3,701.5 325.3,701.5 327.3,701.7 329.3,702.0 331.3,702.4 333.3,702.7 334.4,702.9 335.3,703.0 337.3,703.1 339.3,703.3 341.3,703.5 343.3,704.0 345.3,704.6 346.0,704.9 347.3,705.4 349.3,706.4 350.1,706.9 351.3,707.5 353.3,708.8 353.4,708.9 355.3,710.1 357.3,710.9 357.3,710.9 359.3,711.7 361.0,712.9 361.3,713.2 363.1,714.9 363.3,715.0 365.3,716.1 367.3,716.5 369.3,716.6 370.2,716.9 371.3,717.4 373.3,718.5 374.0,718.9 375.3,719.7 377.3,720.7 377.9,720.9 379.3,721.3 381.3,721.6 383.3,721.4 385.3,721.2 387.3,721.0 389.3,721.2 391.3,721.2 393.3,721.2 395.3,720.9 395.3,720.9 397.3,720.1 399.3,719.4 401.2,718.9 401.3,718.9 403.3,718.0 405.3,717.2 406.1,716.9 407.3,716.5 409.3,716.0 411.3,715.2 411.9,714.9 413.3,714.0 415.3,713.1 415.7,712.9 417.3,712.2 419.3,711.4 420.8,710.9 421.3,710.7 423.3,710.1 425.3,709.4 426.7,708.9 427.3,708.7 429.3,708.0 431.3,707.5 433.3,707.1 435.3,706.9 435.3,706.9 437.3,706.8 439.3,706.7 441.3,706.9 441.3,706.9 443.3,707.5 445.3,708.4 446.3,708.9 447.3,709.3 449.3,710.1 451.3,710.8 451.4,710.9 453.3,711.6 455.3,712.5 456.2,712.9 457.3,713.4 459.3,714.2 460.9,714.9 461.3,715.1 463.3,716.0 465.2,716.9 465.3,717.0 467.3,717.9 469.3,718.7 469.6,718.9 471.3,719.8 472.8,720.9 473.3,721.4 474.6,722.9 475.3,723.7 476.3,724.9 477.3,726.1 478.0,726.9 479.3,728.9 479.3,728.9 480.2,730.9 480.9,732.9 481.3,734.7 481.4,734.9 481.7,736.9 481.9,738.9 481.9,740.9 481.8,742.9 482.0,744.9 482.7,746.9 483.3,748.9 483.3,748.9 483.7,750.9 483.8,752.9 483.9,754.9 483.8,756.9 483.6,758.9 483.3,760.3 483.2,760.9 482.5,762.9 481.7,764.9 481.3,766.3 481.2,766.9 480.8,768.9 480.4,770.9 479.7,772.9 479.3,773.8 478.8,774.9 477.6,776.9 477.3,777.4 476.2,778.9 475.3,780.1 474.7,780.9 473.3,782.6 473.1,782.9 471.3,784.8 471.2,784.9 469.3,786.6 468.8,786.9 467.3,788.0 465.8,788.9 465.3,789.2 463.3,790.3 462.3,790.9 461.3,791.5 459.3,792.6 458.9,792.9 457.3,793.8 455.3,794.9 455.3,794.9 453.3,796.0 451.3,796.9 451.3,796.9 449.3,797.9 447.3,798.7 446.8,798.9 445.3,799.5 443.3,800.1 441.3,800.7 440.6,800.9 439.3,801.3 437.3,801.8 435.3,802.2 433.3,802.6 431.3,802.8 429.3,802.6 427.3,802.1 425.3,801.3 424.5,800.9 423.3,800.4 421.3,799.5 420.1,798.9 419.3,798.6 417.3,797.7 415.5,796.9 415.3,796.8 413.3,796.0 411.3,795.2 410.3,794.9 409.3,794.6 407.3,794.0 405.3,793.7 403.3,793.5 401.3,793.0 401.1,792.9 399.3,791.4 398.9,790.9 397.3,789.5 396.5,788.9 395.3,788.1 393.3,786.9 393.3,786.9 391.3,785.5 390.6,784.9 389.3,783.4 388.9,782.9 387.7,780.9 387.3,780.1 386.7,778.9 385.9,776.9 385.3,775.8 384.5,774.9 383.3,774.1 381.3,773.2 379.9,772.9 379.3,772.8 377.3,772.6 375.3,772.4 373.3,772.4 371.3,772.2 369.3,772.0 367.3,771.8 365.3,771.6 363.3,771.5 361.3,771.3 359.3,771.1 357.8,770.9 357.3,770.8 355.3,770.5 353.3,770.2 351.3,769.8 349.3,769.5 347.3,769.2 345.3,768.9 345.3,768.9 343.3,768.6 341.3,768.1 339.3,767.4 338.1,766.9 337.3,766.6 335.3,765.7 333.3,764.9 333.3,764.9 331.3,764.2 329.3,763.4 328.3,762.9 327.3,762.4 325.3,760.9 325.2,760.9 323.3,759.4 322.7,758.9 321.3,757.8 320.1,756.9 319.3,756.4 317.4,754.9 317.3,754.8 315.3,753.0 315.2,752.9 313.3,751.1 313.1,750.9 311.3,749.0 311.2,748.9 309.3,746.9 309.3,746.9 307.3,744.9 307.3,744.9 305.3,743.0 305.1,742.9 303.3,741.5 302.5,740.9 301.3,740.0 299.8,738.9 299.3,738.5 297.3,737.0 297.1,736.9 295.3,735.5 294.4,734.9 293.3,734.0 291.8,732.9 291.3,732.5 289.3,730.9 289.3,730.9 287.3,729.1 287.0,728.9 285.3,727.2 285.0,726.9 283.4,724.9 283.3,724.7 282.1,722.9 281.3,721.2 281.1,720.9 280.5,718.9 280.3,716.9 280.7,714.9 281.3,713.8 281.8,712.9 283.3,711.4 283.8,710.9 285.3,709.9 287.3,709.0 287.5,708.9 289.3,708.3 291.3,707.7 293.3,707.1 293.8,706.9 295.3,706.4 297.3,705.6 299.3,704.9 299.4,704.9 301.3,704.3 303.3,703.9 305.3,703.6 307.3,703.4 309.3,703.2 311.3,703.0Z"/>
<path fill="#96dc00" fill-rule="evenodd" d="M455.7,406.9 457.3,406.4 459.3,406.0 461.3,405.8 463.3,405.9 465.3,406.1 467.3,406.5 468.9,406.9 469.3,407.0 471.3,407.6 473.3,408.4 474.5,408.9 475.3,409.2 477.3,410.3 478.4,410.9 479.3,411.5 481.3,412.9 481.4,412.9 483.3,414.5 483.8,414.9 485.3,416.3 485.9,416.9 487.3,418.4 487.7,418.9 489.3,420.9 489.3,420.9 490.8,422.9 491.3,423.7 492.1,424.9 493.3,426.9 493.3,426.9 494.4,428.9 495.3,430.7 495.4,430.9 496.3,432.9 497.2,434.9 497.3,435.3 497.9,436.9 498.6,438.9 499.2,440.9 499.3,441.3 499.7,442.9 500.1,444.9 500.5,446.9 500.7,448.9 500.8,450.9 500.9,452.9 501.0,454.9 501.0,456.9 501.0,458.9 500.8,460.9 500.5,462.9 500.2,464.9 499.7,466.9 499.3,468.1 499.0,468.9 498.0,470.9 497.3,471.9 496.5,472.9 495.3,474.1 494.4,474.9 493.3,475.6 491.3,476.9 491.2,476.9 489.3,477.8 487.3,478.6 486.7,478.9 485.3,479.4 483.3,480.0 481.3,480.7 480.6,480.9 479.3,481.3 477.3,482.0 475.3,482.7 474.7,482.9 473.3,483.4 471.3,484.1 469.3,484.9 469.2,484.9 467.3,485.6 465.3,486.5 464.6,486.9 463.3,487.6 461.6,488.9 461.3,489.1 459.3,490.9 459.3,490.9 457.5,492.9 457.3,493.1 455.9,494.9 455.3,495.6 454.4,496.9 453.3,498.7 453.1,498.9 452.1,500.9 451.3,502.6 451.2,502.9 450.4,504.9 449.8,506.9 449.3,508.8 449.3,508.9 448.7,510.9 448.0,512.9 447.4,514.9 447.3,515.1 446.7,516.9 446.0,518.9 445.5,520.9 445.3,521.5 444.9,522.9 444.4,524.9 443.9,526.9 443.3,528.8 443.3,528.9 442.5,530.9 441.4,532.9 441.3,533.1 440.0,534.9 439.3,535.7 438.2,536.9 437.3,537.7 436.0,538.9 435.3,539.4 433.3,540.8 433.2,540.9 431.3,542.1 430.0,542.9 429.3,543.3 427.3,544.6 426.8,544.9 425.3,545.9 423.8,546.9 423.3,547.3 421.3,548.8 421.1,548.9 419.3,550.4 418.7,550.9 417.3,552.2 416.6,552.9 415.3,554.2 414.6,554.9 413.3,556.2 412.6,556.9 411.3,558.3 410.7,558.9 409.3,560.6 409.0,560.9 407.6,562.9 407.3,563.4 406.4,564.9 405.3,566.6 405.1,566.9 403.9,568.9 403.3,569.8 402.6,570.9 401.3,572.8 401.3,572.9 399.8,574.9 399.3,575.6 398.4,576.9 397.3,578.5 397.0,578.9 395.7,580.9 395.3,581.4 394.4,582.9 393.4,584.9 393.3,585.2 392.6,586.9 391.8,588.9 391.3,590.0 390.9,590.9 390.0,592.9 389.3,594.4 389.1,594.9 388.2,596.9 387.4,598.9 387.3,599.3 386.8,600.9 386.2,602.9 385.7,604.9 385.3,606.4 385.2,606.9 384.7,608.9 384.2,610.9 383.8,612.9 383.5,614.9 383.3,616.3 383.2,616.9 382.9,618.9 382.7,620.9 382.3,622.9 381.9,624.9 381.3,626.9 381.3,626.9 380.5,628.9 379.5,630.9 379.3,631.3 378.4,632.9 377.3,634.7 377.2,634.9 375.8,636.9 375.3,637.6 374.3,638.9 373.3,640.2 372.7,640.9 371.3,642.4 370.7,642.9 369.3,644.2 368.3,644.9 367.3,645.6 365.3,646.9 365.2,646.9 363.3,647.8 361.3,648.5 359.3,648.9 358.7,648.9 357.3,649.0 355.3,648.9 355.2,648.9 353.3,648.6 351.3,648.1 349.3,647.5 347.8,646.9 347.3,646.7 345.3,645.8 343.6,644.9 343.3,644.8 341.3,643.6 340.2,642.9 339.3,642.3 337.6,640.9 337.3,640.6 335.7,638.9 335.3,638.4 334.3,636.9 333.3,634.9 333.3,634.8 332.6,632.9 332.1,630.9 331.7,628.9 331.3,626.9 331.3,626.6 331.1,624.9 331.0,622.9 331.1,620.9 331.3,618.9 331.3,618.8 331.6,616.9 332.0,614.9 332.5,612.9 333.1,610.9 333.3,610.2 333.7,608.9 334.4,606.9 335.1,604.9 335.3,604.1 335.7,602.9 336.3,600.9 336.8,598.9 337.1,596.9 337.3,595.4 337.4,594.9 337.5,592.9 337.6,590.9 337.8,588.9 338.2,586.9 338.9,584.9 339.3,584.1 340.0,582.9 341.3,580.9 341.3,580.9 342.7,578.9 343.3,578.1 344.2,576.9 345.3,575.3 345.5,574.9 346.8,572.9 347.3,572.0 347.9,570.9 348.7,568.9 349.3,567.4 349.5,566.9 350.2,564.9 350.9,562.9 351.3,561.7 351.6,560.9 352.4,558.9 353.2,556.9 353.3,556.6 354.0,554.9 354.9,552.9 355.3,552.0 355.8,550.9 356.8,548.9 357.3,548.0 357.9,546.9 359.0,544.9 359.3,544.4 360.2,542.9 361.3,541.1 361.4,540.9 362.7,538.9 363.3,538.1 364.1,536.9 365.3,535.2 365.5,534.9 366.9,532.9 367.3,532.4 368.4,530.9 369.3,529.7 369.9,528.9 371.3,527.0 371.4,526.9 372.8,524.9 373.3,524.2 374.2,522.9 375.3,521.1 375.4,520.9 376.4,518.9 377.2,516.9 377.3,516.7 377.8,514.9 378.4,512.9 378.9,510.9 379.3,509.7 379.5,508.9 380.1,506.9 380.8,504.9 381.3,503.4 381.5,502.9 382.2,500.9 383.0,498.9 383.3,498.2 383.9,496.9 384.8,494.9 385.3,493.7 385.7,492.9 386.6,490.9 387.3,489.4 387.5,488.9 388.4,486.9 389.3,484.9 389.3,484.9 390.2,482.9 391.1,480.9 391.3,480.5 392.1,478.9 393.1,476.9 393.3,476.6 394.3,474.9 395.3,473.5 395.7,472.9 397.2,470.9 397.3,470.8 398.8,468.9 399.3,468.3 400.5,466.9 401.3,465.9 402.1,464.9 403.3,463.2 403.5,462.9 404.6,460.9 405.3,459.5 405.6,458.9 406.4,456.9 407.2,454.9 407.3,454.6 407.9,452.9 408.6,450.9 409.3,449.1 409.4,448.9 410.2,446.9 411.1,444.9 411.3,444.5 412.1,442.9 413.2,440.9 413.3,440.7 414.4,438.9 415.3,437.5 415.7,436.9 417.2,434.9 417.3,434.8 418.8,432.9 419.3,432.4 420.6,430.9 421.3,430.2 422.5,428.9 423.3,428.1 424.5,426.9 425.3,426.2 426.7,424.9 427.3,424.4 429.1,422.9 429.3,422.7 431.3,421.1 431.6,420.9 433.3,419.6 434.3,418.9 435.3,418.2 437.1,416.9 437.3,416.8 439.3,415.5 440.2,414.9 441.3,414.2 443.3,413.0 443.5,412.9 445.3,411.8 447.0,410.9 447.3,410.7 449.3,409.7 450.9,408.9 451.3,408.7 453.3,407.8 455.3,407.0ZM604.6,456.9 605.3,456.7 607.3,456.3 609.3,456.3 611.3,456.5 613.3,456.8 613.8,456.9 615.3,457.3 617.3,457.8 619.3,458.5 621.0,458.9 621.3,459.0 623.3,459.3 625.3,459.8 627.3,460.6 627.7,460.9 628.7,462.9 628.9,464.9 629.1,466.9 629.3,467.4 630.0,468.9 630.7,470.9 631.3,472.9 631.3,473.0 631.6,474.9 631.7,476.9 631.7,478.9 631.3,480.9 631.3,481.1 630.9,482.9 630.3,484.9 629.6,486.9 629.3,487.6 628.7,488.9 627.6,490.9 627.3,491.3 625.7,492.9 625.3,493.3 623.5,494.9 623.3,495.1 621.4,496.9 621.3,497.0 619.4,498.9 619.3,499.0 617.3,500.8 617.2,500.9 615.3,501.8 613.3,502.4 611.7,502.9 611.3,503.0 609.3,503.6 607.3,504.3 605.5,504.9 605.3,505.0 603.3,505.5 601.3,505.7 599.3,505.6 597.3,505.3 595.3,504.9 595.3,504.9 593.3,504.4 591.3,503.8 589.3,503.1 588.9,502.9 587.3,501.9 586.0,500.9 585.3,500.3 583.7,498.9 583.3,498.5 581.9,496.9 581.3,496.1 580.5,494.9 579.6,492.9 579.3,492.1 578.9,490.9 578.4,488.9 578.1,486.9 578.0,484.9 577.9,482.9 578.0,480.9 578.2,478.9 578.6,476.9 579.2,474.9 579.3,474.8 580.3,472.9 581.3,471.7 582.0,470.9 583.3,469.5 583.9,468.9 585.3,467.6 586.1,466.9 587.3,465.9 588.3,464.9 589.3,463.8 590.1,462.9 591.3,461.8 592.7,460.9 593.3,460.5 595.3,459.7 597.3,459.2 598.3,458.9 599.3,458.7 601.3,458.0 603.3,457.3ZM278.5,508.9 279.3,508.4 281.3,507.6 283.3,507.1 285.3,507.0 287.3,507.3 289.3,507.9 291.3,508.7 291.6,508.9 293.3,510.2 294.1,510.9 295.3,512.3 295.8,512.9 296.9,514.9 297.3,515.8 297.7,516.9 298.2,518.9 298.4,520.9 298.3,522.9 298.0,524.9 297.4,526.9 297.3,527.2 296.5,528.9 295.3,530.8 295.3,530.9 293.3,532.9 293.3,532.9 291.3,534.3 290.1,534.9 289.3,535.3 287.3,535.8 285.3,536.0 283.3,535.9 281.3,535.5 279.9,534.9 279.3,534.6 277.3,533.4 276.7,532.9 275.3,531.6 274.8,530.9 273.5,528.9 273.3,528.6 272.5,526.9 271.9,524.9 271.6,522.9 271.6,520.9 271.8,518.9 272.3,516.9 273.1,514.9 273.3,514.5 274.3,512.9 275.3,511.7 276.1,510.9 277.3,509.8ZM549.4,590.9 551.3,590.6 553.3,590.3 555.3,590.0 557.3,589.9 559.3,590.0 561.3,590.7 561.5,590.9 563.3,592.8 563.4,592.9 564.6,594.9 565.3,596.3 565.6,596.9 566.7,598.9 567.3,599.8 568.1,600.9 569.3,602.3 569.9,602.9 571.3,604.1 572.3,604.9 573.3,605.5 575.3,606.7 575.6,606.9 577.3,607.8 579.3,608.8 579.4,608.9 581.3,610.0 582.5,610.9 583.3,611.5 584.7,612.9 585.3,613.5 586.3,614.9 587.3,616.6 587.5,616.9 588.3,618.9 588.8,620.9 589.2,622.9 589.3,623.5 589.4,624.9 589.5,626.9 589.3,628.9 589.3,629.0 588.9,630.9 587.9,632.9 587.3,633.6 586.0,634.9 585.3,635.5 583.7,636.9 583.3,637.3 581.8,638.9 581.3,639.5 580.2,640.9 579.3,642.1 578.8,642.9 577.5,644.9 577.3,645.3 576.4,646.9 575.4,648.9 575.3,649.1 574.5,650.9 573.8,652.9 573.3,654.7 573.2,654.9 572.8,656.9 572.6,658.9 572.6,660.9 572.7,662.9 573.0,664.9 573.3,666.9 573.3,667.0 573.6,668.9 574.0,670.9 574.6,672.9 575.3,674.2 575.6,674.9 576.7,676.9 577.3,677.9 577.8,678.9 578.4,680.9 578.6,682.9 578.8,684.9 578.9,686.9 578.7,688.9 577.3,689.6 575.3,689.6 573.3,689.8 571.3,690.0 569.3,689.8 567.3,689.2 566.7,688.9 565.3,688.1 563.9,686.9 563.3,686.4 562.1,684.9 561.3,683.8 560.8,682.9 559.7,680.9 559.3,680.0 558.8,678.9 558.0,676.9 557.3,675.3 557.1,674.9 555.9,672.9 555.3,672.3 554.0,670.9 553.3,670.3 551.7,668.9 551.3,668.6 549.3,667.2 548.9,666.9 547.3,666.0 545.4,664.9 545.3,664.9 543.3,663.9 541.3,663.0 541.0,662.9 539.3,662.3 537.3,661.6 535.3,660.9 535.2,660.9 533.3,660.3 531.3,659.8 529.3,659.4 527.3,659.1 526.0,658.9 525.3,658.8 523.3,658.6 521.3,658.3 519.3,657.9 517.3,657.2 516.7,656.9 515.3,656.1 513.7,654.9 513.3,654.4 512.0,652.9 511.3,651.6 510.9,650.9 510.3,648.9 510.0,646.9 509.9,644.9 509.9,642.9 510.0,640.9 509.8,638.9 509.4,636.9 509.3,636.4 509.0,634.9 508.6,632.9 508.3,630.9 508.2,628.9 508.1,626.9 508.1,624.9 508.3,622.9 508.6,620.9 509.0,618.9 509.3,618.1 509.7,616.9 510.5,614.9 511.3,613.5 511.6,612.9 513.0,610.9 513.3,610.5 514.8,608.9 515.3,608.4 517.1,606.9 517.3,606.8 519.3,605.6 520.5,604.9 521.3,604.5 523.3,603.5 524.5,602.9 525.3,602.5 527.3,601.6 528.7,600.9 529.3,600.6 531.3,599.6 532.7,598.9 533.3,598.6 535.3,597.6 536.5,596.9 537.3,596.5 539.3,595.3 540.0,594.9 541.3,594.1 543.3,592.9 543.3,592.9 545.3,592.0 547.3,591.4 549.3,590.9ZM581.3,692.9 581.3,692.8 583.3,692.2 584.0,692.9 583.3,694.0 581.3,692.9ZM321.2,708.9 321.3,708.9 323.3,708.7 325.3,708.7 327.3,708.8 329.2,708.9 329.3,708.9 331.3,709.1 333.3,709.3 335.3,709.4 337.3,709.6 339.3,709.9 341.3,710.2 343.3,710.6 344.7,710.9 345.3,711.1 347.3,711.6 349.3,712.3 350.8,712.9 351.3,713.1 353.3,713.9 355.3,714.7 355.8,714.9 357.3,715.6 359.3,716.8 359.5,716.9 361.3,718.0 363.1,718.9 363.3,719.0 365.3,719.6 367.3,720.1 369.3,720.7 369.7,720.9 371.3,721.7 373.3,722.9 373.3,722.9 375.3,724.0 377.1,724.9 377.3,725.0 379.3,725.8 381.3,726.2 383.3,726.4 385.3,726.1 387.3,725.6 389.3,725.2 390.9,724.9 391.3,724.8 393.3,724.5 395.3,724.0 397.3,723.4 398.5,722.9 399.3,722.6 401.3,721.8 403.3,721.0 403.5,720.9 405.3,720.1 407.3,719.2 407.8,718.9 409.3,718.3 411.3,717.8 413.3,717.1 413.8,716.9 415.3,716.3 417.3,715.5 418.7,714.9 419.3,714.7 421.3,713.9 423.3,713.2 424.2,712.9 425.3,712.5 427.3,711.9 429.3,711.2 430.3,710.9 431.3,710.6 433.3,710.1 435.3,709.6 437.3,709.3 439.3,709.0 441.3,709.4 443.3,710.3 444.5,710.9 445.3,711.3 447.3,712.1 449.3,712.8 449.5,712.9 451.3,713.5 453.3,714.2 454.9,714.9 455.3,715.1 457.3,716.0 459.2,716.9 459.3,717.0 461.3,717.9 463.3,718.9 463.3,718.9 465.3,719.8 467.3,720.7 467.8,720.9 469.3,721.6 471.0,722.9 471.3,723.2 472.7,724.9 473.3,725.7 474.2,726.9 475.3,728.6 475.5,728.9 476.5,730.9 477.3,732.9 477.3,732.9 477.9,734.9 478.3,736.9 478.6,738.9 478.7,740.9 478.7,742.9 478.9,744.9 479.3,746.8 479.3,746.9 480.0,748.9 480.4,750.9 480.6,752.9 480.6,754.9 480.4,756.9 480.1,758.9 479.5,760.9 479.3,761.3 478.8,762.9 478.2,764.9 477.9,766.9 477.5,768.9 477.3,769.6 476.9,770.9 476.0,772.9 475.3,774.2 474.9,774.9 473.5,776.9 473.3,777.2 472.0,778.9 471.3,779.7 470.3,780.9 469.3,782.0 468.4,782.9 467.3,783.8 465.9,784.9 465.3,785.3 463.3,786.5 462.5,786.9 461.3,787.5 459.3,788.5 458.4,788.9 457.3,789.5 455.3,790.6 454.6,790.9 453.3,791.6 451.3,792.6 450.6,792.9 449.3,793.5 447.3,794.3 445.6,794.9 445.3,795.0 443.3,795.6 441.3,796.1 439.3,796.5 437.3,796.8 436.7,796.9 435.3,797.1 433.3,797.3 431.3,797.3 429.3,797.0 428.9,796.9 427.3,796.5 425.3,795.8 423.3,795.1 422.8,794.9 421.3,794.3 419.3,793.6 417.6,792.9 417.3,792.8 415.3,792.0 413.3,791.2 412.3,790.9 411.3,790.5 409.3,789.9 407.3,789.3 405.8,788.9 405.3,788.7 403.3,787.9 401.6,786.9 401.3,786.7 399.3,785.2 398.9,784.9 397.3,783.6 396.4,782.9 395.3,781.8 394.5,780.9 393.3,779.4 393.0,778.9 391.7,776.9 391.3,776.3 390.5,774.9 389.3,773.2 389.1,772.9 387.4,770.9 387.3,770.7 385.3,768.9 385.3,768.9 383.3,767.4 382.2,766.9 381.3,766.5 379.3,765.9 377.3,765.5 375.3,765.2 373.3,765.0 372.0,764.9 371.3,764.8 369.3,764.6 367.3,764.3 365.3,764.0 363.3,763.7 361.3,763.3 359.3,763.0 359.0,762.9 357.3,762.5 355.3,762.1 353.3,761.6 351.3,761.1 350.4,760.9 349.3,760.6 347.3,760.1 345.3,759.5 343.6,758.9 343.3,758.8 341.3,758.1 339.3,757.3 338.3,756.9 337.3,756.5 335.3,755.6 333.9,754.9 333.3,754.6 331.3,753.6 330.1,752.9 329.3,752.5 327.3,751.3 326.7,750.9 325.3,750.0 323.7,748.9 323.3,748.6 321.3,747.1 321.0,746.9 319.3,745.4 318.7,744.9 317.3,743.6 316.5,742.9 315.3,741.8 314.3,740.9 313.3,740.0 312.1,738.9 311.3,738.2 309.9,736.9 309.3,736.3 307.8,734.9 307.3,734.4 305.8,732.9 305.3,732.3 304.0,730.9 303.3,729.9 302.6,728.9 301.4,726.9 301.3,726.6 300.6,724.9 300.2,722.9 300.2,720.9 300.7,718.9 301.3,717.9 301.9,716.9 303.3,715.3 303.7,714.9 305.3,713.7 306.7,712.9 307.3,712.6 309.3,711.7 311.3,711.0 311.5,710.9 313.3,710.4 315.3,709.9 317.3,709.5 319.3,709.1Z"/>
<path fill="#c8dc00" fill-rule="evenodd" d="M456.1,412.9 457.3,412.6 459.3,412.2 461.3,412.0 463.3,412.1 465.3,412.5 467.0,412.9 467.3,413.0 469.3,413.6 471.3,414.5 472.1,414.9 473.3,415.5 475.3,416.7 475.6,416.9 477.3,418.1 478.3,418.9 479.3,419.7 480.6,420.9 481.3,421.6 482.5,422.9 483.3,423.8 484.2,424.9 485.3,426.3 485.8,426.9 487.1,428.9 487.3,429.2 488.3,430.9 489.3,432.7 489.4,432.9 490.4,434.9 491.2,436.9 491.3,437.0 492.0,438.9 492.7,440.9 493.2,442.9 493.3,443.1 493.7,444.9 494.1,446.9 494.3,448.9 494.5,450.9 494.6,452.9 494.5,454.9 494.3,456.9 494.0,458.9 493.7,460.9 493.3,462.3 493.1,462.9 492.4,464.9 491.4,466.9 491.3,467.0 490.0,468.9 489.3,469.7 488.1,470.9 487.3,471.6 485.6,472.9 485.3,473.1 483.3,474.3 482.4,474.9 481.3,475.5 479.3,476.5 478.5,476.9 477.3,477.5 475.3,478.4 474.4,478.9 473.3,479.4 471.3,480.4 470.2,480.9 469.3,481.3 467.3,482.1 465.7,482.9 465.3,483.1 463.3,484.2 462.4,484.9 461.3,485.7 459.9,486.9 459.3,487.5 457.9,488.9 457.3,489.5 456.2,490.9 455.3,491.9 454.6,492.9 453.3,494.6 453.0,494.9 451.6,496.9 451.3,497.4 450.3,498.9 449.3,500.9 449.3,500.9 448.4,502.9 447.6,504.9 447.3,506.0 447.0,506.9 446.3,508.9 445.4,510.9 445.3,511.1 444.3,512.9 443.3,514.9 443.3,514.9 442.1,516.9 441.3,518.4 441.0,518.9 439.8,520.9 439.3,521.9 438.7,522.9 437.5,524.9 437.3,525.2 436.2,526.9 435.3,528.3 434.8,528.9 433.3,530.9 433.3,530.9 431.5,532.9 431.3,533.0 429.3,534.8 429.2,534.9 427.3,536.3 426.4,536.9 425.3,537.6 423.3,538.8 423.1,538.9 421.3,539.9 419.6,540.9 419.3,541.1 417.3,542.5 416.9,542.9 415.3,544.5 415.0,544.9 413.5,546.9 413.3,547.1 411.9,548.9 411.3,549.6 410.2,550.9 409.3,551.9 408.3,552.9 407.3,553.8 406.0,554.9 405.3,555.6 404.1,556.9 403.3,558.3 403.1,558.9 402.4,560.9 401.8,562.9 401.3,564.6 401.2,564.9 400.5,566.9 399.7,568.9 399.3,569.7 398.7,570.9 397.7,572.9 397.3,573.5 396.4,574.9 395.3,576.7 395.1,576.9 393.8,578.9 393.3,579.7 392.6,580.9 391.6,582.9 391.3,583.6 390.7,584.9 390.0,586.9 389.3,588.9 389.3,589.0 388.5,590.9 387.6,592.9 387.3,593.5 386.5,594.9 385.5,596.9 385.3,597.4 384.6,598.9 383.8,600.9 383.3,602.2 383.0,602.9 382.3,604.9 381.7,606.9 381.3,608.2 381.1,608.9 380.5,610.9 380.1,612.9 379.7,614.9 379.4,616.9 379.3,617.9 379.2,618.9 378.8,620.9 378.4,622.9 377.9,624.9 377.3,626.6 377.2,626.9 376.2,628.9 375.3,630.6 375.2,630.9 373.9,632.9 373.3,633.8 372.6,634.9 371.3,636.6 371.1,636.9 369.4,638.9 369.3,639.0 367.3,640.9 367.2,640.9 365.3,642.3 364.3,642.9 363.3,643.4 361.3,644.2 359.3,644.6 357.3,644.7 355.3,644.5 353.3,644.1 351.3,643.4 350.1,642.9 349.3,642.6 347.3,641.5 346.3,640.9 345.3,640.2 343.5,638.9 343.3,638.8 341.3,637.0 341.2,636.9 339.4,634.9 339.3,634.7 338.1,632.9 337.3,631.2 337.2,630.9 336.4,628.9 335.9,626.9 335.6,624.9 335.4,622.9 335.4,620.9 335.7,618.9 336.1,616.9 336.6,614.9 337.3,612.9 337.3,612.9 338.1,610.9 339.0,608.9 339.3,608.2 339.9,606.9 341.0,604.9 341.3,604.3 342.0,602.9 343.1,600.9 343.3,600.3 343.8,598.9 344.3,596.9 344.7,594.9 344.9,592.9 345.2,590.9 345.3,590.5 345.7,588.9 346.5,586.9 347.3,585.4 347.6,584.9 348.8,582.9 349.3,582.1 350.0,580.9 351.2,578.9 351.3,578.7 352.2,576.9 353.0,574.9 353.3,574.2 353.8,572.9 354.5,570.9 355.1,568.9 355.3,568.3 355.7,566.9 356.4,564.9 357.2,562.9 357.3,562.5 358.0,560.9 358.8,558.9 359.3,557.8 359.7,556.9 360.7,554.9 361.3,553.8 361.8,552.9 362.9,550.9 363.3,550.3 364.2,548.9 365.3,547.2 365.5,546.9 366.9,544.9 367.3,544.3 368.4,542.9 369.3,541.6 369.9,540.9 371.3,539.0 371.4,538.9 372.9,536.9 373.3,536.3 374.4,534.9 375.3,533.7 375.9,532.9 377.3,530.9 377.3,530.9 378.7,528.9 379.3,528.0 380.0,526.9 381.1,524.9 381.3,524.6 382.1,522.9 382.9,520.9 383.3,519.6 383.5,518.9 383.9,516.9 384.3,514.9 384.6,512.9 385.0,510.9 385.3,509.0 385.3,508.9 385.7,506.9 386.2,504.9 386.7,502.9 387.2,500.9 387.3,500.7 387.9,498.9 388.7,496.9 389.3,495.3 389.5,494.9 390.3,492.9 391.1,490.9 391.3,490.5 391.9,488.9 392.7,486.9 393.3,485.4 393.5,484.9 394.3,482.9 395.2,480.9 395.3,480.7 396.2,478.9 397.3,477.1 397.4,476.9 398.9,474.9 399.3,474.4 400.5,472.9 401.3,472.0 402.2,470.9 403.3,469.6 403.9,468.9 405.3,467.1 405.5,466.9 406.8,464.9 407.3,464.1 408.0,462.9 409.1,460.9 409.3,460.5 410.0,458.9 410.8,456.9 411.3,455.5 411.5,454.9 412.2,452.9 413.0,450.9 413.3,450.2 413.8,448.9 414.7,446.9 415.3,445.8 415.7,444.9 416.9,442.9 417.3,442.2 418.1,440.9 419.3,439.2 419.5,438.9 421.0,436.9 421.3,436.6 422.8,434.9 423.3,434.3 424.6,432.9 425.3,432.2 426.7,430.9 427.3,430.3 428.9,428.9 429.3,428.6 431.3,427.0 431.4,426.9 433.3,425.4 434.1,424.9 435.3,424.0 436.9,422.9 437.3,422.6 439.3,421.3 440.0,420.9 441.3,420.1 443.3,418.9 443.3,418.9 445.3,417.8 446.9,416.9 447.3,416.7 449.3,415.7 450.9,414.9 451.3,414.7 453.3,413.9 455.3,413.1ZM599.6,472.9 601.3,471.8 603.3,471.2 605.3,471.0 607.3,471.4 609.3,472.4 610.0,472.9 611.3,474.2 611.8,474.9 612.8,476.9 613.3,478.9 613.3,480.9 612.9,482.9 612.0,484.9 611.3,485.8 610.3,486.9 609.3,487.7 607.3,488.7 605.9,488.9 605.3,489.0 603.5,488.9 603.3,488.9 601.3,488.3 599.3,486.9 599.3,486.9 597.7,484.9 597.3,484.2 596.7,482.9 596.3,480.9 596.3,478.9 596.8,476.9 597.3,475.9 597.8,474.9 599.3,473.2ZM538.1,606.9 539.3,606.6 541.3,606.3 543.3,606.2 545.3,606.4 547.2,606.9 547.3,606.9 549.3,607.6 551.3,608.4 552.9,608.9 553.3,609.0 555.3,609.1 557.3,609.2 559.3,609.4 561.3,609.9 563.3,610.6 564.0,610.9 565.3,611.5 567.3,612.5 567.9,612.9 569.3,613.7 571.1,614.9 571.3,615.1 573.3,616.6 573.7,616.9 575.3,618.3 576.0,618.9 577.3,620.4 577.7,620.9 579.0,622.9 579.3,623.5 579.9,624.9 580.3,626.9 580.1,628.9 579.3,630.9 579.3,630.9 578.1,632.9 577.3,634.1 576.9,634.9 575.6,636.9 575.3,637.4 574.4,638.9 573.3,640.8 573.2,640.9 572.0,642.9 571.3,644.0 570.7,644.9 569.5,646.9 569.3,647.2 568.2,648.9 567.3,650.5 567.0,650.9 565.7,652.9 565.3,653.6 564.3,654.9 563.3,656.2 562.3,656.9 561.3,657.5 559.3,657.9 557.3,657.8 555.3,657.4 553.3,657.1 552.0,656.9 551.3,656.8 549.3,656.6 547.3,656.4 545.3,656.2 543.3,656.0 541.3,655.8 539.3,655.5 537.3,655.3 535.3,655.0 534.7,654.9 533.3,654.5 531.3,653.9 529.3,653.3 527.7,652.9 527.3,652.8 525.3,652.1 523.3,651.2 522.9,650.9 521.3,649.2 521.1,648.9 520.3,646.9 519.9,644.9 519.7,642.9 519.6,640.9 519.4,638.9 519.3,637.7 519.2,636.9 519.0,634.9 518.8,632.9 518.5,630.9 518.3,628.9 518.2,626.9 518.2,624.9 518.4,622.9 518.9,620.9 519.3,619.6 519.6,618.9 520.7,616.9 521.3,616.1 522.4,614.9 523.3,614.0 524.7,612.9 525.3,612.5 527.3,611.3 527.9,610.9 529.3,610.2 531.3,609.3 532.2,608.9 533.3,608.5 535.3,607.7 537.3,607.1ZM435.2,712.9 435.3,712.9 437.3,712.6 439.3,712.5 441.1,712.9 441.3,712.9 443.3,713.8 445.3,714.5 446.6,714.9 447.3,715.1 449.3,715.6 451.3,716.1 453.3,716.7 453.7,716.9 455.3,717.7 457.3,718.8 457.5,718.9 459.3,719.9 461.2,720.9 461.3,721.0 463.3,722.0 465.3,722.9 465.4,722.9 467.3,723.9 468.7,724.9 469.3,725.4 470.6,726.9 471.3,727.9 471.9,728.9 472.9,730.9 473.3,731.8 473.8,732.9 474.4,734.9 475.0,736.9 475.3,738.1 475.5,738.9 475.9,740.9 476.3,742.9 476.7,744.9 477.1,746.9 477.3,748.5 477.4,748.9 477.5,750.9 477.6,752.9 477.5,754.9 477.3,756.8 477.3,756.9 476.9,758.9 476.5,760.9 476.1,762.9 475.8,764.9 475.4,766.9 475.3,767.2 474.7,768.9 473.7,770.9 473.3,771.5 472.3,772.9 471.3,774.3 470.8,774.9 469.3,776.9 469.3,776.9 467.7,778.9 467.3,779.3 465.8,780.9 465.3,781.4 463.3,782.9 463.2,782.9 461.3,783.9 459.3,784.8 459.1,784.9 457.3,785.7 455.3,786.5 454.5,786.9 453.3,787.5 451.3,788.4 450.2,788.9 449.3,789.3 447.3,790.1 445.3,790.8 444.9,790.9 443.3,791.3 441.3,791.6 439.3,791.8 437.3,791.8 435.3,791.8 433.3,791.7 431.3,791.5 429.3,791.2 427.8,790.9 427.3,790.8 425.3,790.4 423.3,789.8 421.3,789.3 420.3,788.9 419.3,788.5 417.3,787.7 415.4,786.9 415.3,786.9 413.3,785.9 411.3,785.1 410.9,784.9 409.3,784.2 407.3,783.2 406.6,782.9 405.3,782.2 403.3,781.1 403.0,780.9 401.3,779.7 400.2,778.9 399.3,778.2 397.9,776.9 397.3,776.4 395.9,774.9 395.3,774.2 394.2,772.9 393.3,771.8 392.6,770.9 391.3,769.3 390.9,768.9 389.3,767.0 389.2,766.9 387.4,764.9 387.3,764.8 385.3,762.9 385.3,762.9 383.3,761.6 381.7,760.9 381.3,760.7 379.3,760.0 377.3,759.4 375.3,758.9 375.0,758.9 373.3,758.5 371.3,758.0 369.3,757.5 367.4,756.9 367.3,756.9 365.3,756.2 363.3,755.6 361.3,755.0 360.8,754.9 359.3,754.4 357.3,753.8 355.3,753.2 354.5,752.9 353.3,752.5 351.3,751.8 349.3,751.2 348.3,750.9 347.3,750.6 345.3,750.0 343.3,749.3 342.3,748.9 341.3,748.5 339.3,747.6 338.0,746.9 337.3,746.5 335.3,745.5 334.0,744.9 333.3,744.5 331.3,743.6 329.8,742.9 329.3,742.6 327.3,741.4 326.7,740.9 325.3,739.7 324.4,738.9 323.3,737.9 322.3,736.9 321.3,736.0 320.0,734.9 319.3,734.3 317.7,732.9 317.3,732.5 315.7,730.9 315.3,730.4 314.2,728.9 313.3,727.3 313.1,726.9 312.5,724.9 312.6,722.9 313.3,721.5 313.7,720.9 315.3,719.4 316.0,718.9 317.3,718.2 319.3,717.3 320.5,716.9 321.3,716.7 323.3,716.4 325.3,716.4 327.3,716.5 329.3,716.5 331.3,716.5 333.3,716.4 335.3,716.5 337.3,716.7 338.2,716.9 339.3,717.2 341.3,717.7 343.3,718.3 345.3,718.8 345.8,718.9 347.3,719.2 349.3,719.7 351.3,720.2 353.3,720.8 353.5,720.9 355.3,721.5 357.3,722.3 358.9,722.9 359.3,723.1 361.3,723.8 363.3,724.4 365.1,724.9 365.3,725.0 367.3,725.6 369.3,726.3 370.7,726.9 371.3,727.2 373.3,728.3 374.4,728.9 375.3,729.4 377.3,730.4 378.5,730.9 379.3,731.2 381.3,731.7 383.3,731.9 385.3,731.7 386.7,730.9 387.3,730.6 389.3,729.4 390.3,728.9 391.3,728.5 393.3,727.7 395.3,727.0 395.6,726.9 397.3,726.3 399.3,725.5 400.7,724.9 401.3,724.6 403.3,723.8 405.2,722.9 405.3,722.9 407.3,722.0 409.3,721.1 409.9,720.9 411.3,720.4 413.3,719.9 415.3,719.4 416.8,718.9 417.3,718.7 419.3,718.0 421.3,717.3 422.4,716.9 423.3,716.6 425.3,715.9 427.3,715.2 428.3,714.9 429.3,714.6 431.3,714.0 433.3,713.4Z"/>
<path fill="#e6e600" fill-rule="evenodd" d="M457.1,418.9 457.3,418.8 459.3,418.6 461.3,418.5 463.3,418.8 463.9,418.9 465.3,419.2 467.3,419.9 469.3,420.8 469.6,420.9 471.3,421.9 472.9,422.9 473.3,423.2 475.3,424.7 475.5,424.9 477.3,426.6 477.6,426.9 479.3,428.8 479.4,428.9 481.0,430.9 481.3,431.3 482.3,432.9 483.3,434.5 483.6,434.9 484.6,436.9 485.3,438.4 485.5,438.9 486.3,440.9 487.0,442.9 487.3,444.0 487.6,444.9 488.0,446.9 488.3,448.9 488.5,450.9 488.6,452.9 488.6,454.9 488.4,456.9 488.0,458.9 487.4,460.9 487.3,461.1 486.5,462.9 485.3,464.8 485.3,464.9 483.7,466.9 483.3,467.3 481.7,468.9 481.3,469.2 479.3,470.8 479.2,470.9 477.3,472.2 476.3,472.9 475.3,473.5 473.3,474.7 472.9,474.9 471.3,475.8 469.3,476.9 469.3,476.9 467.3,478.0 465.6,478.9 465.3,479.1 463.3,480.4 462.6,480.9 461.3,481.9 460.2,482.9 459.3,483.7 458.1,484.9 457.3,485.8 456.3,486.9 455.3,488.1 454.7,488.9 453.3,490.8 453.2,490.9 451.6,492.9 451.3,493.3 450.0,494.9 449.3,495.9 448.5,496.9 447.3,498.8 447.3,498.9 446.1,500.9 445.3,502.7 445.2,502.9 444.3,504.9 443.5,506.9 443.3,507.2 442.3,508.9 441.3,510.4 440.9,510.9 439.3,512.9 439.3,512.9 437.5,514.9 437.3,515.1 435.6,516.9 435.3,517.2 433.5,518.9 433.3,519.0 431.3,520.8 431.2,520.9 429.3,522.8 429.2,522.9 427.4,524.9 427.3,525.0 425.5,526.9 425.3,527.1 423.4,528.9 423.3,529.0 421.3,530.6 420.9,530.9 419.3,532.1 418.1,532.9 417.3,533.5 415.3,534.8 415.2,534.9 413.3,536.3 412.7,536.9 411.3,538.3 410.8,538.9 409.4,540.9 409.3,541.1 408.3,542.9 407.3,544.8 407.2,544.9 406.1,546.9 405.3,548.2 404.9,548.9 403.5,550.9 403.3,551.1 401.7,552.9 401.3,553.3 399.7,554.9 399.3,555.5 398.3,556.9 397.4,558.9 397.3,559.3 396.8,560.9 396.4,562.9 396.1,564.9 395.8,566.9 395.4,568.9 395.3,569.1 394.7,570.9 393.9,572.9 393.3,573.9 392.6,574.9 391.3,576.9 391.3,577.0 390.1,578.9 389.3,580.4 389.1,580.9 388.3,582.9 387.7,584.9 387.3,586.5 387.2,586.9 386.6,588.9 385.8,590.9 385.3,591.9 384.6,592.9 383.3,594.9 383.3,594.9 382.0,596.9 381.3,598.1 380.8,598.9 379.8,600.9 379.3,602.0 378.8,602.9 377.8,604.9 377.3,606.3 377.1,606.9 376.3,608.9 375.8,610.9 375.4,612.9 375.3,613.3 375.0,614.9 374.8,616.9 374.6,618.9 374.3,620.9 373.8,622.9 373.3,624.7 373.2,624.9 372.4,626.9 371.4,628.9 371.3,629.1 370.2,630.9 369.3,632.3 368.9,632.9 367.3,634.9 367.3,634.9 365.4,636.9 365.3,637.0 363.3,638.5 362.6,638.9 361.3,639.5 359.3,640.1 357.3,640.1 355.3,639.8 353.3,639.3 352.4,638.9 351.3,638.4 349.3,637.3 348.7,636.9 347.3,635.9 346.1,634.9 345.3,634.1 344.2,632.9 343.3,631.8 342.7,630.9 341.6,628.9 341.3,628.2 340.8,626.9 340.3,624.9 340.0,622.9 340.1,620.9 340.4,618.9 340.9,616.9 341.3,615.6 341.6,614.9 342.5,612.9 343.3,611.3 343.5,610.9 344.8,608.9 345.3,608.2 346.3,606.9 347.3,605.5 347.8,604.9 349.3,602.9 349.3,602.9 350.8,600.9 351.3,600.0 352.1,598.9 353.3,596.9 353.3,596.8 354.5,594.9 355.3,593.4 355.7,592.9 356.8,590.9 357.3,590.0 357.9,588.9 358.9,586.9 359.3,585.8 359.6,584.9 360.2,582.9 360.5,580.9 360.7,578.9 360.8,576.9 361.0,574.9 361.1,572.9 361.3,571.6 361.4,570.9 361.9,568.9 362.5,566.9 363.3,564.9 363.3,564.9 364.3,562.9 365.3,560.9 365.3,560.8 366.4,558.9 367.3,557.2 367.5,556.9 368.7,554.9 369.3,554.1 370.2,552.9 371.3,551.5 371.8,550.9 373.3,549.2 373.6,548.9 375.3,546.9 375.3,546.9 376.9,544.9 377.3,544.4 378.4,542.9 379.3,541.5 379.7,540.9 381.0,538.9 381.3,538.4 382.2,536.9 383.3,535.1 383.4,534.9 384.6,532.9 385.3,531.5 385.6,530.9 386.5,528.9 387.3,527.0 387.4,526.9 388.1,524.9 388.7,522.9 389.1,520.9 389.3,520.1 389.5,518.9 389.9,516.9 390.2,514.9 390.5,512.9 390.7,510.9 391.0,508.9 391.3,506.9 391.3,506.8 391.6,504.9 392.0,502.9 392.5,500.9 393.1,498.9 393.3,498.4 393.8,496.9 394.5,494.9 395.2,492.9 395.3,492.7 395.9,490.9 396.6,488.9 397.3,486.9 397.3,486.8 398.0,484.9 398.7,482.9 399.3,481.4 399.6,480.9 400.8,478.9 401.3,478.2 402.4,476.9 403.3,475.8 404.1,474.9 405.3,473.5 405.8,472.9 407.3,471.1 407.5,470.9 408.9,468.9 409.3,468.3 410.2,466.9 411.3,465.0 411.4,464.9 412.4,462.9 413.3,460.9 413.3,460.8 414.0,458.9 414.8,456.9 415.3,455.5 415.5,454.9 416.3,452.9 417.1,450.9 417.3,450.6 418.0,448.9 419.0,446.9 419.3,446.4 420.2,444.9 421.3,443.1 421.4,442.9 422.9,440.9 423.3,440.4 424.5,438.9 425.3,438.0 426.3,436.9 427.3,435.9 428.4,434.9 429.3,434.1 430.7,432.9 431.3,432.4 433.2,430.9 433.3,430.8 435.3,429.4 436.1,428.9 437.3,428.1 439.2,426.9 439.3,426.8 441.3,425.6 442.6,424.9 443.3,424.5 445.3,423.4 446.4,422.9 447.3,422.5 449.3,421.5 450.8,420.9 451.3,420.7 453.3,420.0 455.3,419.3ZM548.6,616.9 549.3,616.8 551.3,616.6 553.3,616.6 554.9,616.9 555.3,617.0 557.3,617.5 559.3,618.2 560.8,618.9 561.3,619.2 563.3,620.8 563.5,620.9 565.3,622.9 565.3,623.0 566.6,624.9 567.3,626.5 567.5,626.9 567.9,628.9 568.0,630.9 567.8,632.9 567.3,634.9 567.3,635.0 566.5,636.9 565.4,638.9 565.3,639.0 563.6,640.9 563.3,641.2 561.3,642.8 561.1,642.9 559.3,643.9 557.3,644.7 556.7,644.9 555.3,645.2 553.3,645.5 551.3,645.5 549.3,645.2 547.7,644.9 547.3,644.8 545.3,644.1 543.3,643.2 542.7,642.9 541.3,642.0 540.0,640.9 539.3,640.1 538.5,638.9 537.4,636.9 537.3,636.7 536.5,634.9 536.1,632.9 536.0,630.9 536.1,628.9 536.6,626.9 537.3,625.3 537.4,624.9 538.7,622.9 539.3,622.1 540.4,620.9 541.3,620.2 543.1,618.9 543.3,618.8 545.3,617.9 547.3,617.2ZM429.5,718.9 431.3,718.4 433.3,717.9 435.3,717.7 437.3,717.7 439.3,717.9 441.3,718.4 443.3,718.7 445.3,718.8 447.3,718.8 449.3,718.9 449.4,718.9 451.3,719.1 453.3,720.0 454.9,720.9 455.3,721.2 457.3,722.6 457.8,722.9 459.3,723.9 461.2,724.9 461.3,725.0 463.3,726.1 464.8,726.9 465.3,727.2 467.3,728.7 467.5,728.9 468.7,730.9 469.3,732.3 469.5,732.9 470.2,734.9 470.9,736.9 471.3,737.8 471.7,738.9 472.4,740.9 473.3,742.6 473.4,742.9 474.2,744.9 474.6,746.9 474.5,748.9 474.4,750.9 474.2,752.9 474.0,754.9 473.7,756.9 473.5,758.9 473.4,760.9 473.4,762.9 473.3,764.9 473.3,765.0 472.4,766.9 471.3,768.6 471.0,768.9 469.3,770.7 469.1,770.9 467.3,772.9 467.3,772.9 465.7,774.9 465.3,775.4 464.2,776.9 463.3,778.1 462.5,778.9 461.3,779.7 459.3,780.7 458.7,780.9 457.3,781.3 455.3,782.0 453.3,782.8 453.0,782.9 451.3,783.5 449.3,784.3 447.9,784.9 447.3,785.1 445.3,785.9 443.3,786.4 441.3,786.5 439.3,786.3 437.3,786.0 435.3,785.6 433.3,785.1 431.9,784.9 431.3,784.8 429.3,784.6 427.3,784.4 425.3,784.2 423.3,783.9 421.3,783.4 420.1,782.9 419.3,782.5 417.3,781.3 416.6,780.9 415.3,780.1 413.3,778.9 413.2,778.9 411.3,777.9 409.6,776.9 409.3,776.7 407.3,775.6 406.1,774.9 405.3,774.5 403.3,773.5 402.3,772.9 401.3,772.4 399.3,771.1 399.1,770.9 397.3,769.1 397.1,768.9 395.3,767.1 395.1,766.9 393.3,765.0 393.2,764.9 391.5,762.9 391.3,762.7 389.4,760.9 389.3,760.8 387.3,759.0 387.2,758.9 385.3,756.9 385.3,756.9 383.3,755.0 383.2,754.9 381.5,752.9 381.3,752.5 380.3,750.9 379.5,748.9 379.3,748.2 378.6,746.9 377.3,745.1 377.0,744.9 375.4,742.9 375.3,742.4 375.0,740.9 375.3,740.7 377.3,739.2 377.6,738.9 379.3,738.3 381.3,737.4 382.6,736.9 383.3,736.8 385.3,736.4 387.3,735.4 388.0,734.9 389.3,734.0 390.9,732.9 391.3,732.7 393.3,731.8 395.1,730.9 395.3,730.8 397.3,730.0 399.3,729.1 399.7,728.9 401.3,728.2 403.3,727.1 403.7,726.9 405.3,726.2 407.3,725.6 409.2,724.9 409.3,724.9 411.3,724.3 413.3,723.8 415.3,723.3 417.0,722.9 417.3,722.8 419.3,722.3 421.3,721.6 423.0,720.9 423.3,720.8 425.3,720.2 427.3,719.6 429.3,719.0Z"/>
<path fill="#ffe100" fill-rule="evenodd" d="M450.9,426.9 451.3,426.7 453.3,426.2 455.3,425.8 457.3,425.5 459.3,425.5 461.3,425.6 463.3,425.9 465.3,426.5 466.1,426.9 467.3,427.4 469.3,428.6 469.8,428.9 471.3,430.0 472.3,430.9 473.3,431.8 474.3,432.9 475.3,434.0 476.0,434.9 477.3,436.8 477.4,436.9 478.6,438.9 479.3,440.3 479.6,440.9 480.4,442.9 481.2,444.9 481.3,445.4 481.7,446.9 482.1,448.9 482.4,450.9 482.5,452.9 482.4,454.9 482.1,456.9 481.5,458.9 481.3,459.5 480.7,460.9 479.5,462.9 479.3,463.1 477.9,464.9 477.3,465.5 476.0,466.9 475.3,467.5 473.6,468.9 473.3,469.1 471.3,470.6 470.8,470.9 469.3,471.9 467.8,472.9 467.3,473.2 465.3,474.4 464.6,474.9 463.3,475.8 462.0,476.9 461.3,477.5 459.8,478.9 459.3,479.4 457.8,480.9 457.3,481.4 456.0,482.9 455.3,483.7 454.4,484.9 453.3,486.3 452.9,486.9 451.5,488.9 451.3,489.2 449.9,490.9 449.3,491.7 448.1,492.9 447.3,493.9 446.3,494.9 445.3,496.2 444.7,496.9 443.3,498.9 443.3,499.0 442.0,500.9 441.3,502.0 440.7,502.9 439.3,504.9 439.3,504.9 437.6,506.9 437.3,507.2 435.5,508.9 435.3,509.1 433.3,510.7 433.1,510.9 431.3,512.2 430.3,512.9 429.3,513.6 427.4,514.9 427.3,515.0 425.3,516.5 424.7,516.9 423.3,518.1 422.3,518.9 421.3,519.8 420.1,520.9 419.3,521.7 418.0,522.9 417.3,523.5 415.8,524.9 415.3,525.4 413.6,526.9 413.3,527.2 411.4,528.9 411.3,529.0 409.3,530.7 409.1,530.9 407.3,532.4 406.6,532.9 405.3,534.0 404.1,534.9 403.3,535.7 401.9,536.9 401.3,537.8 400.3,538.9 399.5,540.9 399.3,541.7 398.9,542.9 398.3,544.9 397.8,546.9 397.3,547.9 396.3,548.9 395.3,549.4 393.3,549.4 392.5,548.9 391.5,546.9 391.6,544.9 392.2,542.9 393.0,540.9 393.3,540.0 393.9,538.9 394.6,536.9 395.0,534.9 395.3,532.9 395.3,532.4 395.4,530.9 395.6,528.9 395.8,526.9 396.0,524.9 396.2,522.9 396.4,520.9 396.6,518.9 396.8,516.9 397.0,514.9 397.2,512.9 397.3,512.1 397.4,510.9 397.7,508.9 398.0,506.9 398.3,504.9 398.7,502.9 399.1,500.9 399.3,500.1 399.6,498.9 400.1,496.9 400.7,494.9 401.2,492.9 401.3,492.4 401.7,490.9 402.3,488.9 402.9,486.9 403.3,485.8 403.6,484.9 404.6,482.9 405.3,481.7 405.8,480.9 407.2,478.9 407.3,478.8 408.8,476.9 409.3,476.2 410.3,474.9 411.3,473.4 411.7,472.9 412.9,470.9 413.3,470.2 414.0,468.9 415.0,466.9 415.3,466.2 415.9,464.9 416.7,462.9 417.3,461.1 417.4,460.9 418.1,458.9 418.8,456.9 419.3,455.6 419.6,454.9 420.4,452.9 421.2,450.9 421.3,450.8 422.2,448.9 423.3,446.9 423.3,446.9 424.6,444.9 425.3,444.0 426.1,442.9 427.3,441.5 427.9,440.9 429.3,439.5 429.9,438.9 431.3,437.7 432.3,436.9 433.3,436.1 434.9,434.9 435.3,434.6 437.3,433.3 438.1,432.9 439.3,432.1 441.3,431.0 441.6,430.9 443.3,430.0 445.3,429.1 445.7,428.9 447.3,428.2 449.3,427.4ZM382.9,564.9 383.3,564.7 385.3,564.9 385.4,564.9 387.3,566.8 387.3,566.9 387.7,568.9 387.4,570.9 387.3,571.2 386.2,572.9 385.3,574.2 384.8,574.9 383.7,576.9 383.3,578.5 383.1,578.9 382.7,580.9 382.5,582.9 382.4,584.9 382.1,586.9 381.5,588.9 381.3,589.2 379.4,590.9 379.3,591.0 377.3,591.8 375.3,590.9 375.3,590.9 374.9,588.9 375.0,586.9 375.2,584.9 375.3,583.6 375.4,582.9 375.7,580.9 376.1,578.9 376.8,576.9 377.3,575.9 378.0,574.9 379.2,572.9 379.3,572.7 379.7,570.9 379.9,568.9 380.6,566.9 381.3,565.9ZM360.3,604.9 361.3,604.5 363.3,604.2 365.3,604.3 366.4,604.9 367.3,605.7 367.8,606.9 368.4,608.9 368.7,610.9 368.9,612.9 369.1,614.9 369.2,616.9 369.1,618.9 368.9,620.9 368.5,622.9 367.9,624.9 367.3,626.3 367.0,626.9 365.8,628.9 365.3,629.6 364.2,630.9 363.3,631.9 362.0,632.9 361.3,633.4 359.3,634.2 357.3,634.5 355.3,634.3 353.3,633.6 352.0,632.9 351.3,632.5 349.3,630.9 349.3,630.9 347.6,628.9 347.3,628.5 346.4,626.9 345.7,624.9 345.3,623.0 345.3,622.9 345.3,620.9 345.3,620.8 345.6,618.9 346.3,616.9 347.3,614.9 347.3,614.9 348.7,612.9 349.3,612.1 350.5,610.9 351.3,610.1 352.8,608.9 353.3,608.5 355.3,607.1 355.8,606.9 357.3,606.0 359.3,605.2ZM427.8,728.9 429.3,728.3 431.3,727.8 433.3,727.6 435.3,727.4 437.3,727.5 439.3,727.8 441.3,728.2 443.3,728.3 445.3,728.0 447.3,727.8 449.3,727.8 451.3,728.5 451.9,728.9 453.3,729.6 455.0,730.9 455.3,731.1 457.3,732.8 457.4,732.9 459.3,733.9 461.0,734.9 461.3,735.1 463.1,736.9 463.3,737.2 464.3,738.9 465.1,740.9 465.3,741.7 465.8,742.9 466.8,744.9 467.3,745.7 468.1,746.9 468.5,748.9 468.5,750.9 468.1,752.9 467.6,754.9 467.3,755.8 467.0,756.9 466.8,758.9 466.8,760.9 466.5,762.9 465.4,764.9 465.3,765.0 463.5,766.9 463.3,767.0 461.3,768.6 460.8,768.9 459.3,770.0 458.1,770.9 457.3,771.8 456.1,772.9 455.3,773.6 453.3,774.8 453.0,774.9 451.3,775.5 449.3,775.9 447.3,776.2 445.3,776.5 443.3,776.8 443.0,776.9 441.3,777.5 439.3,777.9 437.3,778.1 435.3,777.9 433.3,777.5 431.4,776.9 431.3,776.9 429.3,776.2 427.3,775.6 425.3,775.2 423.5,774.9 423.3,774.9 421.3,774.5 419.3,773.9 417.3,773.1 417.0,772.9 415.3,771.8 414.1,770.9 413.3,770.2 411.9,768.9 411.3,768.3 409.8,766.9 409.3,766.4 407.3,764.9 407.3,764.9 405.3,763.4 404.6,762.9 403.3,761.5 402.7,760.9 401.4,758.9 401.3,758.5 400.6,756.9 400.1,754.9 399.8,752.9 399.3,751.4 399.1,750.9 398.2,748.9 397.8,746.9 397.9,744.9 399.2,742.9 399.3,742.8 401.3,741.8 403.3,741.2 403.9,740.9 405.3,740.2 406.6,738.9 407.3,738.1 408.7,736.9 409.3,736.4 411.3,735.4 412.5,734.9 413.3,734.6 415.3,733.3 416.2,732.9 417.3,732.4 419.3,731.8 421.3,731.4 423.3,731.0 423.7,730.9 425.3,730.0 427.3,729.1Z"/>
<path fill="#ffff00" fill-rule="evenodd" d="M452.2,432.9 453.3,432.7 455.3,432.4 457.3,432.3 459.3,432.4 461.3,432.8 461.5,432.9 463.3,433.6 465.3,434.7 465.6,434.9 467.3,436.2 468.1,436.9 469.3,438.1 470.0,438.9 471.3,440.5 471.6,440.9 472.8,442.9 473.3,443.9 473.8,444.9 474.6,446.9 475.1,448.9 475.3,449.8 475.5,450.9 475.6,452.9 475.6,454.9 475.3,456.4 475.2,456.9 474.5,458.9 473.4,460.9 473.3,461.1 472.0,462.9 471.3,463.6 470.1,464.9 469.3,465.7 468.0,466.9 467.3,467.5 465.7,468.9 465.3,469.2 463.3,470.9 463.3,470.9 461.3,472.6 461.0,472.9 459.3,474.5 458.9,474.9 457.3,476.6 457.0,476.9 455.3,478.7 455.1,478.9 453.3,480.9 453.3,480.9 451.7,482.9 451.3,483.4 450.2,484.9 449.3,486.2 448.7,486.9 447.3,488.7 447.1,488.9 445.3,490.6 445.0,490.9 443.3,492.5 442.8,492.9 441.3,494.4 440.7,494.9 439.3,496.3 438.7,496.9 437.3,498.2 436.5,498.9 435.3,500.0 434.1,500.9 433.3,501.5 431.3,502.7 431.0,502.9 429.3,503.8 427.3,504.7 426.8,504.9 425.3,505.5 423.3,506.2 421.3,506.8 421.0,506.9 419.3,507.4 417.3,507.8 415.3,508.1 413.3,507.8 412.1,506.9 411.3,505.8 411.0,504.9 410.6,502.9 410.4,500.9 410.2,498.9 410.2,496.9 410.3,494.9 410.4,492.9 410.7,490.9 411.1,488.9 411.3,488.1 411.7,486.9 412.4,484.9 413.2,482.9 413.3,482.8 414.2,480.9 415.2,478.9 415.3,478.7 416.2,476.9 417.1,474.9 417.3,474.5 418.0,472.9 418.7,470.9 419.3,469.3 419.4,468.9 420.1,466.9 420.7,464.9 421.3,462.9 421.3,462.9 421.9,460.9 422.5,458.9 423.1,456.9 423.3,456.3 423.7,454.9 424.5,452.9 425.3,451.1 425.4,450.9 426.5,448.9 427.3,447.7 427.9,446.9 429.3,445.1 429.5,444.9 431.3,443.1 431.5,442.9 433.3,441.4 433.9,440.9 435.3,439.9 436.9,438.9 437.3,438.6 439.3,437.5 440.5,436.9 441.3,436.5 443.3,435.6 445.2,434.9 445.3,434.9 447.3,434.2 449.3,433.6 451.3,433.1ZM354.9,616.9 355.3,616.6 357.3,616.2 359.3,616.6 359.7,616.9 361.3,618.8 361.4,618.9 361.7,620.9 361.4,622.9 361.3,623.1 360.2,624.9 359.3,625.8 357.3,626.7 355.3,626.5 353.3,625.2 353.1,624.9 352.2,622.9 352.1,620.9 352.8,618.9 353.3,618.2ZM434.4,734.9 435.3,734.7 437.3,734.7 438.6,734.9 439.3,735.0 441.3,735.2 443.3,735.4 445.3,735.4 447.3,735.5 449.3,736.0 451.3,736.7 451.8,736.9 453.3,737.6 455.3,738.9 455.4,738.9 457.3,740.5 457.7,740.9 459.2,742.9 459.3,743.1 460.2,744.9 461.0,746.9 461.3,748.4 461.4,748.9 461.6,750.9 461.5,752.9 461.3,754.1 461.2,754.9 460.7,756.9 460.1,758.9 459.3,760.6 459.1,760.9 457.8,762.9 457.3,763.4 455.7,764.9 455.3,765.2 453.3,766.2 451.3,766.8 451.0,766.9 449.3,767.3 447.3,767.8 445.3,768.5 443.9,768.9 443.3,769.1 441.3,769.5 439.3,769.6 437.3,769.4 435.3,768.9 435.2,768.9 433.3,768.4 431.3,768.0 429.3,767.7 427.3,767.4 425.3,767.1 424.9,766.9 423.3,766.2 421.6,764.9 421.3,764.6 419.7,762.9 419.3,762.5 417.6,760.9 417.3,760.6 415.3,759.0 415.2,758.9 413.3,757.1 413.1,756.9 411.7,754.9 411.3,754.2 410.7,752.9 410.1,750.9 410.0,748.9 410.8,746.9 411.3,746.4 413.3,744.9 413.3,744.9 415.3,743.6 416.2,742.9 417.3,742.1 418.7,740.9 419.3,740.5 421.3,739.1 421.7,738.9 423.3,738.3 425.3,737.8 427.3,737.2 428.2,736.9 429.3,736.5 431.3,735.7 433.3,735.1Z"/>
<path fill="#ffe600" fill-rule="evenodd" d="M446.8,440.9 447.3,440.8 449.3,440.6 451.3,440.5 453.3,440.6 455.3,440.8 455.6,440.9 457.3,441.3 459.3,442.1 460.8,442.9 461.3,443.2 463.3,444.9 463.3,444.9 464.8,446.9 465.3,447.7 465.9,448.9 466.6,450.9 467.0,452.9 467.0,454.9 466.7,456.9 466.0,458.9 465.3,460.3 465.0,460.9 463.7,462.9 463.3,463.4 462.2,464.9 461.3,466.0 460.7,466.9 459.3,468.6 459.1,468.9 457.4,470.9 457.3,471.0 455.5,472.9 455.3,473.1 453.4,474.9 453.3,475.0 451.3,476.8 451.1,476.9 449.3,478.7 449.0,478.9 447.3,480.7 447.1,480.9 445.3,482.7 445.1,482.9 443.3,484.5 442.8,484.9 441.3,486.0 439.8,486.9 439.3,487.2 437.3,488.1 435.3,488.7 434.2,488.9 433.3,489.0 431.8,488.9 431.3,488.8 429.3,487.9 428.2,486.9 427.3,485.6 426.9,484.9 426.1,482.9 425.6,480.9 425.4,478.9 425.3,477.8 425.3,476.9 425.3,474.9 425.3,474.6 425.4,472.9 425.5,470.9 425.6,468.9 425.8,466.9 426.0,464.9 426.3,462.9 426.6,460.9 427.0,458.9 427.3,457.4 427.4,456.9 428.0,454.9 428.8,452.9 429.3,452.0 430.0,450.9 431.3,449.1 431.5,448.9 433.3,447.0 433.5,446.9 435.3,445.5 436.2,444.9 437.3,444.2 439.3,443.2 440.0,442.9 441.3,442.4 443.3,441.7 445.3,441.2ZM437.7,740.9 439.3,740.7 441.3,740.6 443.3,740.4 445.3,740.3 447.3,740.5 448.5,740.9 449.3,741.2 451.3,742.3 452.1,742.9 453.3,743.9 454.3,744.9 455.3,746.5 455.5,746.9 455.9,748.9 456.0,750.9 455.8,752.9 455.4,754.9 455.3,755.0 454.2,756.9 453.3,758.0 452.3,758.9 451.3,759.5 449.3,760.4 447.8,760.9 447.3,761.0 445.3,761.5 443.3,761.8 441.3,761.9 439.3,761.9 437.3,761.6 435.3,761.1 434.9,760.9 433.3,760.0 431.6,758.9 431.3,758.6 429.6,756.9 429.3,756.5 428.1,754.9 427.3,753.5 427.0,752.9 426.4,750.9 426.5,748.9 427.3,747.2 427.4,746.9 429.2,744.9 429.3,744.8 431.3,743.3 431.9,742.9 433.3,742.2 435.3,741.4 437.3,741.0Z"/>
<path fill="#ffc800" fill-rule="evenodd" d="M437.5,450.9 439.3,450.1 441.3,449.6 443.3,449.4 445.3,449.5 447.3,450.0 449.3,450.9 449.3,450.9 451.3,452.6 451.6,452.9 452.7,454.9 453.3,456.9 453.3,458.5 453.3,458.9 453.3,458.9 452.8,460.9 451.8,462.9 451.3,464.4 451.0,464.9 451.3,465.2 451.8,466.9 451.3,467.8 449.3,468.3 447.3,468.0 445.3,468.1 443.3,468.5 441.3,468.7 439.3,468.6 437.3,468.1 435.4,466.9 435.3,466.8 433.3,464.9 433.3,464.9 432.3,462.9 431.9,460.9 431.9,458.9 432.3,456.9 433.2,454.9 433.3,454.8 434.9,452.9 435.3,452.5 437.3,451.0Z"/>
<path fill="#00ffff" fill-rule="evenodd" d="M135.3,288.9 137.3,288.9 139.3,288.9 141.3,288.9 143.3,288.9 145.3,288.9 147.3,288.9 149.3,288.9 151.3,288.9 153.3,288.9 155.3,288.9 157.3,288.9 159.3,288.9 161.3,288.9 163.3,288.9 165.3,288.9 167.3,288.9 169.3,288.9 171.3,288.9 173.3,288.9 175.3,288.9 177.3,288.9 179.3,288.9 181.3,288.9 183.3,288.9 185.3,288.9 187.3,288.9 189.3,288.9 189.8,288.9 189.3,289.7 188.6,290.9 187.4,292.9 187.3,293.1 186.3,294.9 185.3,296.6 185.1,296.9 184.0,298.9 183.3,300.1 182.8,300.9 181.7,302.9 181.3,303.7 180.7,304.9 179.6,306.9 179.3,307.4 178.5,308.9 177.5,310.9 177.3,311.2 176.4,312.9 175.4,314.9 175.3,315.2 174.4,316.9 173.5,318.9 173.3,319.2 172.5,320.9 171.5,322.9 171.3,323.4 170.6,324.9 169.7,326.9 169.3,327.7 168.8,328.9 167.9,330.9 167.3,332.2 167.0,332.9 166.1,334.9 165.3,336.9 165.3,336.9 164.5,338.9 163.6,340.9 163.3,341.8 162.8,342.9 162.0,344.9 161.3,346.8 161.3,346.9 160.5,348.9 159.7,350.9 159.3,352.1 159.0,352.9 158.3,354.9 157.5,356.9 157.3,357.6 156.8,358.9 156.1,360.9 155.4,362.9 155.3,363.3 154.8,364.9 154.1,366.9 153.4,368.9 153.3,369.3 152.8,370.9 152.1,372.9 151.5,374.9 151.3,375.5 150.9,376.9 150.2,378.9 149.6,380.9 149.3,381.9 149.0,382.9 148.4,384.9 147.8,386.9 147.3,388.6 147.2,388.9 146.6,390.9 146.0,392.9 145.4,394.9 145.3,395.4 144.9,396.9 144.3,398.9 143.7,400.9 143.3,402.3 143.1,402.9 142.6,404.9 142.0,406.9 141.4,408.9 141.3,409.3 140.8,410.9 140.3,412.9 139.7,414.9 139.3,416.3 139.1,416.9 138.5,418.9 138.0,420.9 137.4,422.9 137.3,423.2 136.8,424.9 136.2,426.9 135.7,428.9 135.3,430.1 135.3,428.9 135.3,426.9 135.3,424.9 135.3,422.9 135.3,420.9 135.3,418.9 135.3,416.9 135.3,414.9 135.3,412.9 135.3,410.9 135.3,408.9 135.3,406.9 135.3,404.9 135.3,402.9 135.3,400.9 135.3,398.9 135.3,396.9 135.3,394.9 135.3,392.9 135.3,390.9 135.3,388.9 135.3,386.9 135.3,384.9 135.3,382.9 135.3,380.9 135.3,378.9 135.3,376.9 135.3,374.9 135.3,372.9 135.3,370.9 135.3,368.9 135.3,366.9 135.3,364.9 135.3,362.9 135.3,360.9 135.3,358.9 135.3,356.9 135.3,354.9 135.3,352.9 135.3,350.9 135.3,348.9 135.3,346.9 135.3,344.9 135.3,342.9 135.3,340.9 135.3,338.9 135.3,336.9 135.3,334.9 135.3,332.9 135.3,330.9 135.3,328.9 135.3,326.9 135.3,324.9 135.3,322.9 135.3,320.9 135.3,318.9 135.3,316.9 135.3,314.9 135.3,312.9 135.3,310.9 135.3,308.9 135.3,306.9 135.3,304.9 135.3,302.9 135.3,300.9 135.3,298.9 135.3,296.9 135.3,294.9 135.3,292.9 135.3,290.9ZM441.1,316.9 441.3,316.9 443.3,316.7 445.3,316.5 447.3,316.6 449.3,316.9 449.4,316.9 451.3,317.3 453.3,317.8 455.3,318.1 457.3,318.3 459.3,318.7 459.7,318.9 461.3,319.9 462.2,320.9 463.3,322.7 463.4,322.9 464.5,324.9 465.3,326.0 465.9,326.9 467.3,328.6 467.5,328.9 468.7,330.9 469.2,332.9 469.0,334.9 468.5,336.9 468.0,338.9 467.6,340.9 467.5,342.9 467.3,344.4 467.2,344.9 466.9,346.9 466.2,348.9 465.3,350.4 465.0,350.9 463.6,352.9 463.3,353.3 462.2,354.9 461.3,356.1 460.8,356.9 459.5,358.9 459.3,359.3 458.3,360.9 457.3,362.4 457.0,362.9 455.5,364.9 455.3,365.1 453.4,366.9 453.3,367.0 451.3,368.6 450.9,368.9 449.3,370.2 448.5,370.9 447.3,371.9 446.1,372.9 445.3,373.5 443.7,374.9 443.3,375.2 441.3,376.9 441.3,376.9 439.3,378.6 439.0,378.9 437.3,380.1 436.2,380.9 435.3,381.5 433.5,382.9 433.3,383.0 431.3,384.3 430.4,384.9 429.3,385.5 427.4,386.9 427.3,387.0 425.3,388.7 425.1,388.9 423.3,390.1 422.2,390.9 421.3,391.5 419.4,392.9 419.3,393.0 417.3,394.3 416.5,394.9 415.3,395.8 414.1,396.9 413.3,397.6 412.0,398.9 411.3,399.5 409.4,400.9 409.3,401.0 407.3,402.1 406.2,402.9 405.3,403.6 403.9,404.9 403.3,405.6 402.3,406.9 401.3,408.4 401.0,408.9 399.9,410.9 399.3,412.4 399.1,412.9 398.2,414.9 397.3,416.5 397.1,416.9 395.9,418.9 395.3,420.2 395.0,420.9 394.1,422.9 393.3,424.7 393.2,424.9 391.9,426.9 391.3,427.9 390.7,428.9 389.6,430.9 389.3,431.4 388.3,432.9 387.3,434.8 387.2,434.9 386.0,436.9 385.3,437.9 384.3,438.9 383.3,439.7 381.6,440.9 381.3,441.1 379.3,442.3 378.3,442.9 377.3,443.6 375.6,444.9 375.3,445.2 373.3,446.6 372.8,446.9 371.3,447.7 369.3,448.3 367.3,448.5 365.3,448.5 363.3,448.6 361.5,448.9 361.3,448.9 359.3,449.2 357.3,449.2 356.2,448.9 355.3,448.6 353.3,447.5 352.4,446.9 351.3,446.0 350.2,444.9 349.3,443.7 348.7,442.9 347.7,440.9 347.3,439.7 347.1,438.9 346.8,436.9 346.7,434.9 346.4,432.9 346.0,430.9 345.7,428.9 345.6,426.9 345.8,424.9 346.2,422.9 346.8,420.9 347.3,419.3 347.4,418.9 348.0,416.9 348.5,414.9 348.9,412.9 349.3,411.4 349.4,410.9 349.9,408.9 350.6,406.9 351.3,405.1 351.4,404.9 352.3,402.9 353.2,400.9 353.3,400.6 354.1,398.9 355.0,396.9 355.3,396.2 355.8,394.9 356.7,392.9 357.3,391.4 357.5,390.9 358.3,388.9 359.2,386.9 359.3,386.7 360.2,384.9 361.3,383.0 361.3,382.9 362.6,380.9 363.3,379.8 363.9,378.9 365.2,376.9 365.3,376.7 366.4,374.9 367.3,373.5 367.7,372.9 368.9,370.9 369.3,370.3 370.1,368.9 371.3,367.0 371.3,366.9 372.6,364.9 373.3,363.8 373.9,362.9 375.3,361.1 375.5,360.9 377.2,358.9 377.3,358.8 379.0,356.9 379.3,356.5 380.8,354.9 381.3,354.3 382.5,352.9 383.3,352.0 384.2,350.9 385.3,349.6 385.9,348.9 387.3,347.2 387.6,346.9 389.3,344.9 389.3,344.8 391.1,342.9 391.3,342.7 393.3,340.9 393.3,340.9 395.3,339.3 395.7,338.9 397.3,337.6 398.1,336.9 399.3,335.9 400.5,334.9 401.3,334.2 402.8,332.9 403.3,332.4 405.0,330.9 405.3,330.6 407.2,328.9 407.3,328.8 409.3,327.1 409.6,326.9 411.3,325.8 413.1,324.9 413.3,324.8 415.3,324.0 417.3,323.2 418.1,322.9 419.3,322.5 421.3,321.6 422.8,320.9 423.3,320.7 425.3,319.7 427.1,318.9 427.3,318.8 429.3,318.1 431.3,317.7 433.3,317.5 435.3,317.4 437.3,317.3 439.3,317.1ZM561.3,356.9 563.3,356.3 565.3,355.8 567.3,355.7 569.3,355.9 571.3,356.5 572.1,356.9 573.3,357.7 574.5,358.9 575.3,360.3 575.5,360.9 575.7,362.9 575.6,364.9 575.5,366.9 575.7,368.9 575.8,370.9 575.8,372.9 575.6,374.9 575.3,376.6 575.2,376.9 574.7,378.9 574.2,380.9 573.6,382.9 573.3,383.9 573.0,384.9 572.4,386.9 571.8,388.9 571.4,390.9 571.3,391.3 571.1,392.9 571.0,394.9 571.0,396.9 571.2,398.9 571.3,399.8 571.4,400.9 571.7,402.9 572.0,404.9 572.3,406.9 572.5,408.9 572.5,410.9 572.4,412.9 571.9,414.9 571.3,416.9 571.3,417.0 570.7,418.9 570.1,420.9 569.5,422.9 569.3,423.9 569.1,424.9 568.6,426.9 568.1,428.9 567.5,430.9 567.3,431.3 566.4,432.9 565.3,434.2 564.7,434.9 563.3,436.7 563.1,436.9 561.6,438.9 561.3,439.3 560.0,440.9 559.3,441.7 558.4,442.9 557.3,444.4 556.9,444.9 555.3,446.6 554.9,446.9 553.3,447.8 551.4,448.9 551.3,449.0 549.3,450.0 547.6,450.9 547.3,451.1 545.3,451.3 544.4,450.9 543.3,450.0 542.5,448.9 541.4,446.9 541.3,446.7 539.9,444.9 539.3,444.3 538.0,442.9 537.3,442.2 536.2,440.9 535.3,439.6 534.9,438.9 533.7,436.9 533.3,436.3 532.5,434.9 531.3,432.9 531.3,432.8 530.2,430.9 529.3,429.6 528.9,428.9 527.8,426.9 527.3,425.8 527.0,424.9 526.2,422.9 525.4,420.9 525.3,420.8 524.5,418.9 523.7,416.9 523.3,416.0 522.9,414.9 522.1,412.9 521.3,411.3 521.1,410.9 520.7,408.9 520.5,406.9 520.4,404.9 520.2,402.9 520.1,400.9 519.8,398.9 519.5,396.9 519.3,394.9 519.6,392.9 520.7,390.9 521.3,390.1 522.4,388.9 523.3,388.0 524.2,386.9 525.3,385.4 525.7,384.9 527.1,382.9 527.3,382.7 529.1,380.9 529.3,380.7 531.3,379.1 531.6,378.9 533.3,377.6 534.3,376.9 535.3,376.1 536.9,374.9 537.3,374.6 539.3,373.0 539.4,372.9 541.3,371.3 541.9,370.9 543.3,369.8 544.4,368.9 545.3,368.2 546.9,366.9 547.3,366.6 549.3,364.9 549.3,364.9 551.3,363.3 551.7,362.9 553.3,361.6 554.2,360.9 555.3,360.1 557.2,358.9 557.3,358.8 559.3,357.8 561.3,356.9ZM679.6,392.9 681.3,391.6 683.3,391.3 685.3,392.1 686.9,392.9 687.3,393.1 689.3,394.1 691.2,394.9 691.3,394.9 693.3,395.6 695.3,396.1 697.3,396.3 699.3,396.4 701.3,396.3 703.3,396.1 705.3,395.7 707.3,395.2 708.4,394.9 709.3,394.7 711.3,394.1 713.3,393.6 715.3,393.2 717.3,392.9 717.4,392.9 719.3,392.7 721.3,392.7 723.3,392.8 724.8,392.9 725.3,392.9 727.3,393.2 729.3,393.6 731.3,394.1 733.3,394.7 734.1,394.9 735.3,395.3 737.3,396.1 739.2,396.9 739.3,396.9 741.3,397.9 743.2,398.9 743.3,398.9 745.3,400.1 746.5,400.9 747.3,401.5 749.2,402.9 749.3,403.0 751.3,404.7 751.5,404.9 753.3,406.8 753.4,406.9 754.9,408.9 755.3,409.6 756.1,410.9 757.1,412.9 757.3,413.5 757.8,414.9 758.3,416.9 758.6,418.9 758.6,420.9 758.5,422.9 758.3,424.9 757.8,426.9 757.3,428.3 757.1,428.9 756.3,430.9 755.3,432.7 755.2,432.9 754.0,434.9 753.3,435.8 752.5,436.9 751.3,438.3 750.8,438.9 749.3,440.3 748.7,440.9 747.3,442.1 746.1,442.9 745.3,443.5 743.3,444.7 742.8,444.9 741.3,445.6 739.3,446.4 737.3,446.9 736.7,446.9 735.3,447.0 734.6,446.9 733.3,446.7 731.3,446.0 729.3,445.1 727.3,445.4 725.3,446.6 724.9,446.9 723.3,448.7 723.1,448.9 721.3,450.8 721.2,450.9 719.3,452.3 718.0,452.9 717.3,453.2 715.3,453.6 713.3,453.8 711.3,454.0 709.3,454.2 707.3,454.5 705.3,454.8 703.3,454.8 701.3,454.6 699.3,454.1 697.3,453.6 695.3,453.0 695.0,452.9 693.3,452.5 691.3,452.1 689.3,451.7 687.3,451.1 686.7,450.9 685.3,450.3 683.3,449.2 682.8,448.9 681.3,447.9 679.7,446.9 679.3,446.7 677.3,445.6 675.9,444.9 675.3,444.6 673.3,443.4 672.8,442.9 671.3,441.3 671.0,440.9 669.9,438.9 669.3,437.7 668.9,436.9 667.8,434.9 667.3,434.2 666.5,432.9 665.4,430.9 665.3,430.6 664.8,428.9 664.7,426.9 664.7,424.9 664.9,422.9 664.8,420.9 664.8,418.9 664.8,416.9 665.1,414.9 665.3,414.5 666.0,412.9 667.1,410.9 667.3,410.5 668.3,408.9 669.2,406.9 669.3,406.7 670.1,404.9 671.2,402.9 671.3,402.7 672.6,400.9 673.3,400.1 674.7,398.9 675.3,398.3 676.9,396.9 677.3,396.4 678.3,394.9 679.3,393.2ZM727.5,460.9 729.3,459.4 731.3,459.0 733.3,459.5 735.3,460.9 735.3,460.9 736.5,462.9 737.3,464.4 737.5,464.9 738.8,466.9 739.3,467.5 740.6,468.9 741.3,469.4 743.3,470.8 743.5,470.9 745.3,471.8 747.3,472.5 748.7,472.9 749.3,473.0 751.3,473.3 753.3,473.5 755.3,473.4 757.3,473.2 759.3,473.0 759.8,472.9 761.3,472.7 763.3,472.5 765.3,472.3 767.3,472.3 769.3,472.4 771.3,472.6 773.2,472.9 773.3,472.9 775.3,473.4 777.3,474.0 779.3,474.8 779.6,474.9 781.3,475.7 783.3,476.8 783.5,476.9 785.3,478.0 785.3,478.9 785.3,480.9 785.3,482.9 785.3,484.9 785.3,486.9 785.3,488.9 785.3,490.9 785.3,492.9 785.3,494.9 785.3,496.9 785.3,498.9 785.3,500.9 785.3,502.9 785.3,504.9 785.3,506.9 785.3,508.9 785.3,510.9 785.3,512.9 785.3,514.9 785.3,516.9 785.3,518.9 785.3,520.9 785.3,522.9 785.3,524.9 785.3,526.9 785.3,528.9 785.3,530.9 785.3,532.9 785.3,534.9 785.3,536.9 785.3,538.9 785.3,540.9 785.3,542.9 785.3,544.9 785.3,546.9 785.3,548.9 785.3,550.9 785.3,551.7 783.3,551.6 781.3,551.3 779.3,551.0 779.0,550.9 777.3,550.5 775.3,549.9 773.3,549.3 771.5,548.9 771.3,548.9 769.3,548.7 768.6,548.9 767.3,549.2 765.3,550.1 763.7,550.9 763.3,551.1 761.3,552.0 759.3,552.8 759.2,552.9 757.3,553.6 755.3,554.3 753.7,554.9 753.3,555.0 751.3,555.7 749.3,556.3 747.6,556.9 747.3,557.0 745.3,557.8 743.3,558.6 742.5,558.9 741.3,559.3 739.3,559.7 737.3,559.7 735.3,559.3 733.8,558.9 733.3,558.8 731.3,558.3 729.3,558.1 727.3,557.7 725.3,557.1 724.8,556.9 723.3,556.0 721.8,554.9 721.3,554.5 719.6,552.9 719.3,552.7 717.3,550.9 717.2,550.9 715.3,549.4 714.6,548.9 713.3,547.9 712.2,546.9 711.3,546.2 709.8,544.9 709.3,544.4 707.8,542.9 707.3,542.4 706.0,540.9 705.3,539.8 704.7,538.9 703.7,536.9 703.3,535.9 702.9,534.9 702.3,532.9 701.8,530.9 701.4,528.9 701.3,528.1 701.1,526.9 700.9,524.9 700.8,522.9 700.6,520.9 700.4,518.9 700.2,516.9 699.9,514.9 699.8,512.9 699.8,510.9 700.2,508.9 700.8,506.9 701.3,505.5 701.5,504.9 702.3,502.9 703.0,500.9 703.3,500.0 703.6,498.9 704.3,496.9 705.0,494.9 705.3,494.2 705.9,492.9 707.0,490.9 707.3,490.4 708.3,488.9 709.3,487.3 709.6,486.9 710.8,484.9 711.3,484.0 711.9,482.9 713.2,480.9 713.3,480.7 714.5,478.9 715.3,477.7 716.0,476.9 717.3,475.3 717.6,474.9 719.3,473.0 719.4,472.9 721.0,470.9 721.3,470.5 722.6,468.9 723.3,468.0 724.2,466.9 725.3,465.1 725.4,464.9 726.3,462.9 727.3,461.1ZM469.1,504.9 469.3,504.7 471.3,503.4 473.3,502.9 475.3,502.9 477.3,503.2 479.3,503.7 481.3,504.1 483.3,504.5 485.3,504.9 485.3,504.9 487.3,505.3 489.3,505.7 491.3,506.1 493.3,506.5 495.3,506.8 495.8,506.9 497.3,507.2 499.3,507.6 501.3,507.9 503.3,508.2 505.3,508.5 507.3,508.8 508.2,508.9 509.3,509.1 511.3,509.6 513.3,510.3 515.2,510.9 515.3,511.0 517.3,511.5 519.3,511.6 521.3,511.3 523.3,510.9 525.3,511.1 527.3,511.7 529.3,512.4 530.3,512.9 531.3,513.4 533.3,514.7 533.6,514.9 535.3,516.2 536.0,516.9 537.3,518.2 537.8,518.9 539.3,520.9 539.3,520.9 540.3,522.9 541.0,524.9 541.3,525.9 541.5,526.9 542.0,528.9 542.5,530.9 543.0,532.9 543.3,534.0 543.5,534.9 543.9,536.9 544.1,538.9 544.3,540.9 544.3,542.9 544.4,544.9 544.5,546.9 544.6,548.9 544.6,550.9 544.5,552.9 544.3,554.9 543.8,556.9 543.3,557.6 541.9,558.9 541.3,559.4 539.6,560.9 539.3,561.2 537.7,562.9 537.3,563.3 536.0,564.9 535.3,565.7 534.4,566.9 533.3,568.2 532.6,568.9 531.3,570.3 530.6,570.9 529.3,572.0 528.2,572.9 527.3,573.7 526.0,574.9 525.3,575.6 524.1,576.9 523.3,577.9 522.6,578.9 521.3,580.5 521.0,580.9 519.3,582.9 519.3,582.9 517.3,584.9 517.3,584.9 515.3,586.8 515.2,586.9 513.3,588.4 512.5,588.9 511.3,589.7 509.6,590.9 509.3,591.1 507.7,592.9 507.3,593.3 505.7,594.9 505.3,595.3 503.5,596.9 503.3,597.1 501.6,598.9 501.3,599.2 499.6,600.9 499.3,601.2 497.8,602.9 497.3,603.5 496.3,604.9 495.3,606.3 494.8,606.9 493.3,608.9 493.3,608.9 492.0,610.9 491.3,612.9 491.3,613.0 490.8,614.9 490.3,616.9 489.8,618.9 489.3,620.9 489.3,621.0 488.8,622.9 488.4,624.9 487.8,626.9 487.3,628.4 487.1,628.9 486.3,630.9 485.4,632.9 485.3,633.1 484.5,634.9 483.5,636.9 483.3,637.3 482.5,638.9 481.5,640.9 481.3,641.2 480.5,642.9 479.6,644.9 479.3,645.7 478.8,646.9 478.3,648.9 477.8,650.9 477.4,652.9 477.3,653.5 477.1,654.9 476.8,656.9 476.5,658.9 476.4,660.9 476.4,662.9 476.4,664.9 476.4,666.9 476.4,668.9 476.4,670.9 476.5,672.9 476.5,674.9 476.5,676.9 476.4,678.9 476.2,680.9 476.1,682.9 476.4,684.9 477.0,686.9 477.3,687.9 477.6,688.9 477.8,690.9 478.1,692.9 478.3,694.9 478.1,696.9 477.3,698.3 476.8,698.9 475.3,700.3 474.3,700.9 473.3,701.3 471.3,701.7 469.3,701.7 467.3,701.5 465.3,701.2 464.0,700.9 463.3,700.7 461.3,700.1 459.3,699.4 458.4,698.9 457.3,698.3 455.3,697.5 453.3,696.9 453.3,696.9 451.3,696.5 449.3,696.1 447.3,695.7 445.3,695.3 443.3,695.0 442.7,694.9 441.3,694.8 439.3,694.6 437.3,694.4 435.3,694.1 433.3,693.8 431.3,693.7 429.3,694.0 427.3,694.8 427.1,694.9 425.3,696.0 423.9,696.9 423.3,697.2 421.3,698.5 420.4,698.9 419.3,699.4 417.3,700.1 415.3,700.8 415.2,700.9 413.3,701.6 411.3,702.4 409.9,702.9 409.3,703.1 407.3,703.8 405.3,704.4 403.3,704.9 403.3,704.9 401.3,705.3 399.3,705.8 397.3,706.3 395.3,706.8 394.7,706.9 393.3,707.2 391.3,707.5 389.3,707.7 387.3,707.7 385.3,707.6 383.3,707.3 381.3,706.9 381.3,706.9 379.3,706.3 377.3,705.7 375.4,704.9 375.3,704.8 373.3,703.9 371.7,702.9 371.3,702.7 369.3,701.4 368.6,700.9 367.3,699.9 366.2,698.9 365.3,698.0 364.3,696.9 363.3,695.6 362.8,694.9 361.4,692.9 361.3,692.8 360.0,690.9 359.3,689.6 358.9,688.9 358.2,686.9 357.7,684.9 357.4,682.9 357.3,682.2 357.2,680.9 357.0,678.9 357.1,676.9 357.3,676.5 358.4,674.9 359.3,673.8 360.0,672.9 361.3,671.3 361.7,670.9 363.3,669.0 363.4,668.9 365.3,666.9 365.3,666.9 367.3,665.0 367.4,664.9 369.3,663.2 369.6,662.9 371.3,661.5 372.0,660.9 373.3,659.9 374.8,658.9 375.3,658.6 377.3,657.2 377.7,656.9 379.3,655.6 379.9,654.9 381.3,653.1 381.4,652.9 382.6,650.9 383.3,649.8 383.8,648.9 384.9,646.9 385.3,646.0 385.7,644.9 386.4,642.9 387.0,640.9 387.3,640.1 387.7,638.9 388.6,636.9 389.3,635.6 389.6,634.9 390.7,632.9 391.3,631.5 391.5,630.9 391.9,628.9 392.2,626.9 392.5,624.9 392.8,622.9 393.3,620.9 393.3,620.9 393.8,618.9 394.4,616.9 395.1,614.9 395.3,614.0 395.5,612.9 395.8,610.9 396.2,608.9 396.5,606.9 396.7,604.9 396.9,602.9 397.3,601.1 397.3,600.9 397.9,598.9 398.5,596.9 399.3,595.0 399.4,594.9 400.3,592.9 401.3,591.3 401.5,590.9 402.8,588.9 403.3,588.0 404.0,586.9 405.3,584.9 405.3,584.9 406.9,582.9 407.3,582.4 408.5,580.9 409.3,580.0 410.3,578.9 411.3,577.7 412.0,576.9 413.3,575.5 413.8,574.9 415.3,573.3 415.7,572.9 417.3,571.3 417.7,570.9 419.3,569.3 419.8,568.9 421.3,567.6 422.1,566.9 423.3,565.9 424.4,564.9 425.3,564.0 426.5,562.9 427.3,562.1 428.7,560.9 429.3,560.4 431.3,558.9 431.3,558.9 433.3,557.5 434.1,556.9 435.3,555.5 435.7,554.9 437.3,553.2 437.7,552.9 439.3,552.0 441.3,551.5 443.3,551.3 444.7,550.9 445.3,550.7 447.3,549.8 449.1,548.9 449.3,548.8 451.3,547.6 452.5,546.9 453.3,546.3 455.3,544.9 455.3,544.9 457.3,543.3 457.9,542.9 459.3,541.8 460.9,540.9 461.3,540.7 463.3,540.0 465.3,539.4 467.2,538.9 467.3,538.9 469.3,538.5 471.3,538.1 473.3,537.6 474.7,536.9 475.3,536.2 475.9,534.9 475.6,532.9 475.3,531.3 475.2,530.9 475.1,528.9 475.2,526.9 475.3,524.9 475.2,522.9 474.9,520.9 474.3,518.9 473.3,517.3 473.1,516.9 471.8,514.9 471.3,514.1 470.6,512.9 469.5,510.9 469.3,510.4 468.7,508.9 468.5,506.9ZM281.8,594.9 283.3,594.3 285.3,594.0 287.3,593.8 289.3,593.7 291.3,593.5 293.3,593.4 295.3,593.8 297.3,594.4 298.3,594.9 299.3,595.4 301.1,596.9 301.3,597.1 302.5,598.9 303.0,600.9 303.2,602.9 303.2,604.9 303.3,605.4 303.5,606.9 303.8,608.9 304.0,610.9 304.0,612.9 304.0,614.9 303.8,616.9 303.6,618.9 303.3,620.9 303.4,622.9 303.4,624.9 303.3,626.3 303.2,626.9 302.9,628.9 302.5,630.9 302.2,632.9 301.9,634.9 301.4,636.9 301.3,637.8 301.1,638.9 301.0,640.9 300.8,642.9 300.3,644.9 299.5,646.9 299.3,647.3 298.3,648.9 297.3,650.1 296.6,650.9 295.3,652.5 295.0,652.9 293.6,654.9 293.3,655.4 292.0,656.9 291.3,657.6 289.4,658.9 289.3,658.9 287.3,659.7 285.3,660.2 283.3,660.4 281.3,660.5 279.3,660.3 277.3,659.9 275.3,659.5 273.3,659.0 272.6,658.9 271.3,658.7 269.3,658.3 267.3,657.9 265.3,657.1 264.9,656.9 263.3,656.0 261.6,654.9 261.3,654.7 259.3,653.4 258.4,652.9 257.3,652.3 255.3,651.1 254.9,650.9 253.3,649.9 252.0,648.9 251.3,648.4 249.7,646.9 249.3,646.5 247.9,644.9 247.3,644.1 246.4,642.9 245.4,640.9 245.3,640.7 244.8,638.9 244.6,636.9 244.5,634.9 244.7,632.9 245.0,630.9 245.3,629.8 245.6,628.9 246.4,626.9 247.3,625.3 247.5,624.9 248.8,622.9 249.3,622.2 250.3,620.9 251.3,619.7 251.9,618.9 253.3,617.4 253.8,616.9 255.3,615.4 255.8,614.9 257.3,613.5 257.9,612.9 259.3,611.4 259.8,610.9 261.3,609.3 261.7,608.9 263.3,607.5 264.0,606.9 265.3,605.8 266.5,604.9 267.3,604.3 269.3,603.1 269.6,602.9 271.3,601.6 272.2,600.9 273.3,600.0 274.9,598.9 275.3,598.6 277.3,597.5 278.3,596.9 279.3,596.2 281.3,595.1ZM523.3,684.9 523.3,684.9 525.3,684.5 527.3,684.4 529.3,684.4 531.3,684.6 532.5,684.9 533.3,685.2 535.3,686.6 535.6,686.9 537.3,688.5 537.8,688.9 539.3,689.8 541.3,690.4 543.3,690.8 543.4,690.9 545.3,691.8 546.4,692.9 547.3,694.1 547.7,694.9 548.0,696.9 547.4,698.9 549.3,699.9 551.3,700.6 551.6,700.9 553.3,702.7 553.4,702.9 553.9,704.9 554.0,706.9 555.3,707.3 557.3,707.5 559.3,708.6 559.8,708.9 561.3,710.6 561.5,710.9 562.6,712.9 563.2,714.9 563.2,716.9 562.5,718.9 563.3,719.8 564.4,720.9 565.3,721.3 566.7,722.9 567.1,724.9 566.0,726.9 567.3,728.5 567.5,728.9 568.7,730.9 568.6,732.9 567.3,734.8 567.2,734.9 567.3,735.2 568.1,736.9 569.3,737.9 570.9,738.9 571.3,739.2 572.7,740.9 573.0,742.9 572.7,744.9 572.6,746.9 573.3,748.9 573.3,749.0 574.2,750.9 575.0,752.9 575.3,754.2 575.5,754.9 576.0,756.9 576.3,758.9 576.6,760.9 576.8,762.9 576.9,764.9 576.9,766.9 577.0,768.9 577.1,770.9 577.2,772.9 577.1,774.9 576.8,776.9 576.5,778.9 576.0,780.9 575.4,782.9 575.3,783.2 574.7,784.9 574.0,786.9 573.3,788.4 573.1,788.9 572.1,790.9 571.3,792.2 570.9,792.9 569.5,794.9 569.3,795.1 567.8,796.9 567.3,797.5 566.0,798.9 565.3,799.5 563.8,800.9 563.3,801.4 561.8,802.9 561.3,803.5 560.0,804.9 559.3,805.6 557.8,806.9 557.3,807.3 555.3,808.3 553.8,808.9 553.3,809.1 551.3,809.8 549.3,810.6 548.7,810.9 547.3,811.6 545.3,812.4 543.4,812.9 543.3,812.9 541.3,813.1 539.3,813.1 537.3,813.0 535.3,812.9 533.3,813.0 531.3,813.2 529.3,813.3 527.3,813.5 525.3,813.7 523.3,813.9 521.3,814.1 519.3,814.2 517.3,814.3 515.3,814.2 513.3,814.1 511.3,813.8 509.3,813.6 507.3,813.5 505.3,813.4 503.3,813.1 502.8,812.9 501.3,812.3 499.3,810.9 499.3,810.9 497.7,808.9 497.3,808.3 496.7,806.9 496.1,804.9 495.7,802.9 495.7,800.9 495.8,798.9 496.0,796.9 496.2,794.9 496.4,792.9 496.7,790.9 496.9,788.9 497.0,786.9 497.0,784.9 496.9,782.9 496.8,780.9 496.6,778.9 496.4,776.9 496.3,774.9 496.2,772.9 496.0,770.9 495.7,768.9 495.5,766.9 495.3,765.6 495.2,764.9 494.9,762.9 494.7,760.9 494.5,758.9 494.2,756.9 493.8,754.9 493.6,752.9 493.4,750.9 493.3,750.5 493.1,748.9 492.8,746.9 492.8,744.9 492.5,742.9 492.1,740.9 492.0,738.9 491.9,736.9 491.3,734.9 491.3,734.9 490.6,732.9 489.7,730.9 489.5,728.9 489.5,726.9 489.3,725.7 489.2,724.9 488.1,722.9 487.3,721.9 486.5,720.9 486.7,718.9 487.3,717.1 487.4,716.9 487.8,714.9 487.8,712.9 487.8,710.9 488.3,708.9 489.2,706.9 489.3,706.7 490.2,704.9 491.0,702.9 491.3,701.9 491.8,700.9 493.2,698.9 493.3,698.7 495.3,696.9 495.4,696.9 497.3,695.5 498.2,694.9 499.3,694.3 501.3,693.3 502.4,692.9 503.3,692.6 505.3,691.9 507.3,691.0 507.5,690.9 509.3,690.2 511.3,689.6 512.9,688.9 513.3,688.8 515.3,687.9 517.2,686.9 517.3,686.9 519.3,686.1 521.3,685.5ZM663.1,712.9 663.3,712.8 665.3,712.0 667.3,711.9 669.3,712.5 669.9,712.9 671.3,714.0 672.1,714.9 673.3,716.8 673.3,716.9 674.1,718.9 674.7,720.9 675.2,722.9 675.3,723.4 675.6,724.9 675.8,726.9 676.1,728.9 676.4,730.9 676.8,732.9 677.1,734.9 677.3,736.0 677.4,736.9 677.7,738.9 677.9,740.9 678.0,742.9 678.1,744.9 678.3,746.9 678.4,748.9 678.5,750.9 678.7,752.9 679.0,754.9 679.3,756.2 679.5,756.9 680.0,758.9 680.6,760.9 681.3,762.9 681.3,763.0 681.9,764.9 682.6,766.9 683.2,768.9 683.3,769.3 683.8,770.9 684.2,772.9 684.5,774.9 684.5,776.9 684.3,778.9 684.1,780.9 683.8,782.9 683.7,784.9 683.6,786.9 683.6,788.9 683.4,790.9 683.3,791.8 683.1,792.9 682.3,794.9 681.3,796.8 681.2,796.9 679.8,798.9 679.3,799.7 678.6,800.9 677.5,802.9 677.3,803.3 676.4,804.9 675.3,806.6 675.0,806.9 673.3,808.4 672.6,808.9 671.3,809.7 669.3,810.7 668.9,810.9 667.3,811.8 665.7,812.9 665.3,813.2 663.3,814.5 662.5,814.9 661.3,815.5 659.3,815.8 657.3,815.6 655.3,815.3 653.3,815.0 651.3,815.0 650.0,814.9 649.3,814.9 647.3,814.5 645.3,813.4 644.7,812.9 643.3,811.6 642.6,810.9 641.3,809.6 640.5,808.9 639.3,808.1 637.8,806.9 637.3,806.4 635.9,804.9 635.3,803.7 635.0,802.9 634.5,800.9 634.2,798.9 633.7,796.9 633.3,795.8 633.0,794.9 632.5,792.9 632.3,790.9 632.4,788.9 632.8,786.9 633.2,784.9 633.3,784.7 633.7,782.9 634.2,780.9 634.5,778.9 634.9,776.9 635.3,775.0 635.3,774.9 635.9,772.9 636.5,770.9 637.2,768.9 637.3,768.5 637.9,766.9 638.6,764.9 639.2,762.9 639.3,762.7 639.9,760.9 640.6,758.9 641.1,756.9 641.3,756.3 641.7,754.9 642.2,752.9 642.7,750.9 643.2,748.9 643.3,748.3 643.7,746.9 644.2,744.9 644.7,742.9 645.2,740.9 645.3,740.3 645.7,738.9 646.4,736.9 647.0,734.9 647.3,733.6 647.5,732.9 648.1,730.9 648.6,728.9 649.3,726.9 649.3,726.8 650.4,724.9 651.3,723.5 651.8,722.9 653.3,721.1 653.4,720.9 655.3,718.9 655.3,718.9 657.3,717.0 657.5,716.9 659.3,715.4 660.0,714.9 661.3,713.9ZM362.5,800.9 363.3,800.5 365.3,799.9 367.3,799.6 369.3,799.5 371.3,799.7 373.3,800.1 375.3,800.5 377.3,800.7 379.2,800.9 379.3,800.9 381.3,801.3 383.3,801.6 385.3,801.9 387.3,802.5 387.9,802.9 389.3,803.9 390.1,804.9 391.2,806.9 391.3,807.1 391.9,808.9 392.6,810.9 393.3,812.3 393.5,812.9 394.3,814.9 394.9,816.9 395.1,818.9 394.6,820.9 393.6,822.9 393.3,823.3 392.0,824.9 391.3,825.7 390.0,826.9 389.3,827.5 387.3,828.5 385.3,828.9 385.3,828.9 383.3,829.0 381.3,829.0 379.3,829.2 377.3,829.5 375.3,829.7 373.3,829.5 371.6,828.9 371.3,828.8 369.3,827.7 367.7,826.9 367.3,826.7 365.3,825.8 363.3,825.0 363.2,824.9 361.3,824.0 359.4,822.9 359.3,822.8 357.3,821.4 356.7,820.9 355.3,819.4 354.9,818.9 353.9,816.9 353.3,814.9 353.3,814.4 353.2,812.9 353.3,812.2 353.5,810.9 354.2,808.9 355.3,806.9 355.3,806.9 356.9,804.9 357.3,804.5 359.1,802.9 359.3,802.8 361.3,801.5Z"/>
<path fill="#00c8f0" fill-rule="evenodd" d="M404.9,366.9 405.3,366.6 407.3,366.5 407.9,366.9 408.8,368.9 407.7,370.9 407.3,371.2 405.3,371.6 404.0,370.9 403.3,368.9ZM543.2,416.9 543.3,416.8 545.3,415.5 547.3,415.7 548.6,416.9 549.3,418.4 549.4,418.9 549.5,420.9 549.3,421.7 548.8,422.9 547.3,424.6 546.1,424.9 545.3,425.1 544.9,424.9 543.3,423.9 542.8,422.9 542.3,420.9 542.4,418.9ZM730.8,494.9 731.3,494.8 733.3,494.5 735.3,494.5 737.3,494.7 738.6,494.9 739.3,495.0 741.3,495.6 743.3,496.5 744.1,496.9 745.3,497.6 747.3,498.9 747.3,498.9 749.3,500.8 749.4,500.9 750.8,502.9 751.3,503.7 752.0,504.9 752.9,506.9 753.3,508.3 753.5,508.9 754.0,510.9 754.2,512.9 754.2,514.9 754.1,516.9 753.7,518.9 753.3,520.0 753.0,520.9 752.1,522.9 751.3,524.2 750.9,524.9 749.4,526.9 749.3,527.0 747.3,528.9 747.3,528.9 745.3,530.4 744.4,530.9 743.3,531.5 741.3,532.4 739.6,532.9 739.3,533.0 737.3,533.3 735.3,533.5 733.3,533.5 731.3,533.2 730.0,532.9 729.3,532.7 727.3,532.0 725.3,531.1 725.0,530.9 723.3,529.8 722.1,528.9 721.3,528.2 720.1,526.9 719.3,526.0 718.5,524.9 717.4,522.9 717.3,522.8 716.5,520.9 715.9,518.9 715.5,516.9 715.3,515.6 715.2,514.9 715.2,512.9 715.3,512.4 715.5,510.9 715.9,508.9 716.6,506.9 717.3,505.3 717.5,504.9 718.7,502.9 719.3,502.1 720.3,500.9 721.3,499.9 722.4,498.9 723.3,498.2 725.3,496.9 725.3,496.9 727.3,495.9 729.3,495.2ZM519.8,522.9 521.3,522.5 523.3,522.4 525.3,522.7 526.0,522.9 527.3,523.4 529.3,524.6 529.7,524.9 531.3,526.2 532.1,526.9 533.3,528.1 534.0,528.9 535.3,530.7 535.4,530.9 536.4,532.9 537.1,534.9 537.3,536.5 537.4,536.9 537.4,538.9 537.4,540.9 537.3,541.4 537.0,542.9 536.3,544.9 535.3,546.6 535.1,546.9 533.7,548.9 533.3,549.4 532.6,550.9 532.1,552.9 532.3,554.9 532.6,556.9 532.7,558.9 532.4,560.9 531.6,562.9 531.3,563.5 530.4,564.9 529.3,566.1 528.4,566.9 527.3,567.7 525.5,568.9 525.3,569.0 523.3,570.2 522.1,570.9 521.3,571.6 519.8,572.9 519.3,573.4 518.1,574.9 517.3,576.4 517.0,576.9 516.1,578.9 515.3,580.5 515.1,580.9 513.7,582.9 513.3,583.4 511.8,584.9 511.3,585.3 509.4,586.9 509.3,586.9 507.3,588.8 507.2,588.9 505.6,590.9 505.3,591.3 504.0,592.9 503.3,593.6 501.9,594.9 501.3,595.5 499.9,596.9 499.3,597.5 498.0,598.9 497.3,599.7 496.3,600.9 495.3,602.1 494.6,602.9 493.3,604.3 492.7,604.9 491.3,606.2 490.5,606.9 489.3,608.0 488.1,608.9 487.3,609.8 486.5,610.9 486.1,612.9 485.9,614.9 485.8,616.9 485.5,618.9 485.3,620.2 485.2,620.9 484.8,622.9 484.3,624.9 483.7,626.9 483.3,628.1 483.0,628.9 482.2,630.9 481.3,632.7 481.2,632.9 480.2,634.9 479.3,636.5 479.1,636.9 477.9,638.9 477.3,640.0 476.9,640.9 476.1,642.9 475.3,644.8 475.3,644.9 474.5,646.9 473.9,648.9 473.3,650.9 473.3,650.9 472.7,652.9 472.2,654.9 471.7,656.9 471.3,658.5 471.2,658.9 470.8,660.9 470.6,662.9 470.4,664.9 470.2,666.9 469.9,668.9 469.5,670.9 469.3,672.2 469.2,672.9 469.0,674.9 468.9,676.9 468.9,678.9 469.0,680.9 469.0,682.9 469.0,684.9 469.1,686.9 468.9,688.9 467.7,690.9 467.3,691.2 465.3,691.6 463.3,691.5 461.3,691.1 460.5,690.9 459.3,690.6 457.3,690.3 455.3,690.0 453.3,690.1 451.3,690.3 449.3,690.4 447.3,690.4 445.3,690.3 443.3,690.2 441.3,690.0 439.3,689.7 437.3,689.4 435.3,689.1 433.3,688.9 432.7,688.9 431.3,688.9 430.7,688.9 429.3,689.0 427.3,689.5 425.3,690.2 423.7,690.9 423.3,691.1 421.3,692.2 420.1,692.9 419.3,693.3 417.3,694.4 416.2,694.9 415.3,695.3 413.3,696.1 411.5,696.9 411.3,697.0 409.3,697.8 407.3,698.5 406.4,698.9 405.3,699.3 403.3,699.9 401.3,700.5 400.1,700.9 399.3,701.1 397.3,701.7 395.3,702.2 393.3,702.6 391.3,702.9 390.6,702.9 389.3,703.0 387.3,702.9 387.2,702.9 385.3,702.7 383.3,702.2 381.3,701.6 379.7,700.9 379.3,700.7 377.3,699.8 375.5,698.9 375.3,698.8 373.3,697.6 372.3,696.9 371.3,696.2 369.9,694.9 369.3,694.3 368.1,692.9 367.3,691.9 366.6,690.9 365.4,688.9 365.3,688.7 364.4,686.9 363.7,684.9 363.3,683.1 363.2,682.9 363.1,680.9 363.3,678.9 363.3,678.8 364.0,676.9 365.1,674.9 365.3,674.7 366.5,672.9 367.3,671.9 368.1,670.9 369.3,669.6 369.9,668.9 371.3,667.5 371.9,666.9 373.3,665.6 374.1,664.9 375.3,663.9 376.6,662.9 377.3,662.4 379.1,660.9 379.3,660.8 381.3,658.9 381.3,658.9 383.0,656.9 383.3,656.5 384.3,654.9 385.3,653.0 385.4,652.9 386.4,650.9 387.3,649.2 387.5,648.9 388.3,646.9 388.9,644.9 389.3,643.4 389.4,642.9 389.9,640.9 390.5,638.9 391.3,637.1 391.4,636.9 392.3,634.9 393.2,632.9 393.3,632.6 393.8,630.9 394.2,628.9 394.4,626.9 394.7,624.9 395.1,622.9 395.3,622.2 395.6,620.9 396.1,618.9 396.7,616.9 397.2,614.9 397.3,614.7 397.7,612.9 398.0,610.9 398.3,608.9 398.6,606.9 398.9,604.9 399.2,602.9 399.3,602.4 399.6,600.9 400.2,598.9 401.0,596.9 401.3,596.2 401.9,594.9 403.0,592.9 403.3,592.4 404.2,590.9 405.3,589.1 405.4,588.9 406.7,586.9 407.3,586.1 408.2,584.9 409.3,583.6 409.9,582.9 411.3,581.3 411.7,580.9 413.3,579.1 413.4,578.9 415.2,576.9 415.3,576.8 417.1,574.9 417.3,574.7 419.2,572.9 419.3,572.8 421.3,571.0 421.4,570.9 423.3,569.4 423.9,568.9 425.3,567.6 426.0,566.9 427.3,565.5 427.8,564.9 429.3,563.3 429.7,562.9 431.3,561.3 431.7,560.9 433.3,559.6 434.1,558.9 435.3,557.8 436.2,556.9 437.3,555.4 437.9,554.9 439.3,553.9 441.3,553.3 443.3,553.1 444.6,552.9 445.3,552.8 447.3,552.2 449.3,551.5 451.2,550.9 451.3,550.9 453.3,550.1 455.3,549.2 456.2,548.9 457.3,548.4 459.3,547.6 461.3,547.0 462.1,546.9 463.3,546.7 465.3,546.7 467.2,546.9 467.3,546.9 469.3,547.1 471.3,547.2 473.3,547.0 474.4,546.9 475.3,546.8 477.3,546.3 479.3,545.6 480.7,544.9 481.3,544.5 482.9,542.9 483.3,542.5 484.5,540.9 485.3,539.9 486.5,538.9 487.3,538.4 489.3,537.8 491.3,537.9 493.3,538.3 495.3,538.6 496.6,536.9 497.3,535.3 497.4,534.9 498.4,532.9 499.3,531.6 499.9,530.9 501.3,529.4 501.8,528.9 503.3,527.4 503.9,526.9 505.3,525.8 506.9,524.9 507.3,524.7 509.3,524.0 511.3,523.7 513.3,523.7 515.3,523.7 517.3,523.5 519.3,523.1ZM281.8,606.9 283.3,606.4 285.3,606.0 287.3,605.8 289.3,606.0 291.3,606.6 291.9,606.9 293.3,607.7 294.6,608.9 295.3,609.7 296.0,610.9 296.9,612.9 297.3,614.8 297.3,614.9 297.5,616.9 297.6,618.9 297.8,620.9 298.0,622.9 298.3,624.9 298.3,626.9 297.7,628.9 297.3,630.1 296.9,630.9 296.1,632.9 295.4,634.9 295.3,635.2 294.6,636.9 293.6,638.9 293.3,639.4 292.0,640.9 291.3,641.6 289.7,642.9 289.3,643.2 287.3,644.3 286.0,644.9 285.3,645.2 283.3,645.7 281.3,646.0 279.3,645.9 277.3,645.7 275.3,645.2 274.5,644.9 273.3,644.4 271.3,643.4 270.4,642.9 269.3,642.1 267.8,640.9 267.3,640.5 265.7,638.9 265.3,638.5 264.0,636.9 263.3,636.0 262.6,634.9 261.7,632.9 261.3,630.9 261.4,628.9 261.9,626.9 262.7,624.9 263.3,623.6 263.6,622.9 264.7,620.9 265.3,620.0 266.0,618.9 267.3,617.3 267.6,616.9 269.3,615.0 269.4,614.9 271.3,613.0 271.4,612.9 273.3,611.2 273.7,610.9 275.3,609.8 276.9,608.9 277.3,608.7 279.3,607.9 281.3,607.1ZM522.3,694.9 523.3,694.2 525.3,693.3 527.3,693.0 529.3,693.1 531.3,693.6 533.3,694.4 534.6,694.9 535.3,695.1 537.3,695.4 539.3,695.2 541.3,695.0 543.3,695.2 545.3,696.6 545.4,696.9 545.4,698.9 545.6,700.9 547.3,702.6 548.5,702.9 549.3,703.3 550.7,704.9 550.3,706.9 550.5,708.9 551.3,709.9 552.5,710.9 553.3,711.5 554.7,712.9 554.7,714.9 555.1,716.9 555.3,717.7 555.9,718.9 556.9,720.9 557.3,721.4 558.6,722.9 559.3,723.8 560.8,724.9 560.8,726.9 561.2,728.9 561.3,729.0 563.3,730.7 564.0,730.9 565.3,731.4 566.3,732.9 565.3,734.8 565.3,734.9 564.9,736.9 565.3,738.0 565.7,738.9 567.3,740.4 568.1,740.9 569.3,742.3 569.5,742.9 569.3,743.9 569.0,744.9 568.6,746.9 568.7,748.9 569.3,750.9 569.3,751.3 569.5,752.9 569.4,754.9 569.3,756.9 569.3,757.3 569.2,758.9 569.1,760.9 569.0,762.9 568.9,764.9 568.9,766.9 568.8,768.9 568.4,770.9 567.6,772.9 567.3,773.6 566.6,774.9 565.5,776.9 565.3,777.4 564.6,778.9 563.6,780.9 563.3,781.6 562.7,782.9 561.9,784.9 561.3,786.5 561.2,786.9 560.3,788.9 559.3,790.7 559.2,790.9 557.3,792.6 556.8,792.9 555.3,793.8 553.3,794.8 553.2,794.9 551.3,795.9 549.6,796.9 549.3,797.1 547.3,798.5 546.7,798.9 545.3,799.8 543.3,800.7 542.1,800.9 541.3,801.0 540.8,800.9 539.3,800.6 537.3,800.0 535.3,799.3 534.3,798.9 533.3,798.6 531.3,798.1 529.3,797.7 527.3,797.2 526.1,796.9 525.3,796.6 523.3,795.4 522.7,794.9 521.3,793.3 521.0,792.9 519.6,790.9 519.3,790.5 518.0,788.9 517.3,788.1 516.2,786.9 515.3,785.8 514.5,784.9 513.3,783.6 512.6,782.9 511.3,781.6 510.7,780.9 509.3,779.0 509.2,778.9 508.2,776.9 507.4,774.9 507.3,774.5 506.9,772.9 506.3,770.9 505.8,768.9 505.3,767.5 505.1,766.9 504.4,764.9 503.8,762.9 503.3,761.1 503.2,760.9 502.3,758.9 501.5,756.9 501.3,756.2 500.9,754.9 500.5,752.9 500.1,750.9 499.7,748.9 499.6,746.9 499.9,744.9 500.4,742.9 500.4,740.9 500.3,738.9 500.3,736.9 500.6,734.9 500.4,732.9 499.3,730.9 499.3,730.9 497.3,729.1 497.0,728.9 497.3,728.6 498.7,726.9 499.3,726.7 500.5,724.9 501.3,723.5 501.5,722.9 502.0,720.9 503.3,718.9 503.3,718.9 504.4,716.9 505.3,715.1 505.4,714.9 506.2,712.9 507.3,710.9 507.3,710.9 507.9,708.9 508.4,706.9 509.3,705.0 509.3,704.9 510.8,702.9 511.3,702.5 513.2,700.9 513.3,700.8 515.3,699.7 517.1,698.9 517.3,698.8 519.3,697.7 520.2,696.9 521.3,695.8Z"/>
<path fill="#0096dc" fill-rule="evenodd" d="M502.8,536.9 503.3,536.5 505.3,535.7 507.3,535.3 509.3,535.2 511.3,535.2 513.3,535.3 515.3,535.5 517.3,535.9 519.3,536.6 520.0,536.9 521.3,537.4 523.3,538.6 523.6,538.9 525.3,540.8 525.3,540.9 526.5,542.9 527.3,544.5 527.4,544.9 528.0,546.9 528.2,548.9 527.9,550.9 527.3,551.6 525.3,551.6 523.3,551.7 521.8,552.9 521.3,553.3 520.6,554.9 520.2,556.9 520.4,558.9 521.3,560.9 521.3,560.9 523.3,562.9 521.3,564.1 520.7,564.9 519.3,565.8 517.8,566.9 517.3,567.3 515.4,568.9 515.3,569.0 513.3,570.0 511.3,570.1 509.3,570.0 507.3,570.6 506.7,570.9 505.3,572.5 504.3,572.9 504.5,574.9 505.3,575.4 507.3,576.8 507.5,576.9 509.3,578.3 509.7,578.9 509.4,580.9 509.3,581.0 507.4,582.9 507.3,583.0 505.6,584.9 505.3,585.2 504.2,586.9 503.3,588.4 503.0,588.9 501.7,590.9 501.3,591.4 499.9,592.9 499.3,593.5 498.0,594.9 497.3,595.7 496.3,596.9 495.3,598.1 494.7,598.9 493.3,600.5 493.0,600.9 491.3,602.6 491.0,602.9 489.3,604.4 488.6,604.9 487.3,606.0 486.1,606.9 485.3,607.7 484.3,608.9 483.3,610.9 483.3,611.1 482.9,612.9 482.5,614.9 482.2,616.9 481.9,618.9 481.5,620.9 481.3,621.7 481.0,622.9 480.5,624.9 479.9,626.9 479.3,628.6 479.2,628.9 478.4,630.9 477.5,632.9 477.3,633.2 476.5,634.9 475.3,636.9 475.3,637.0 474.3,638.9 473.4,640.9 473.3,641.1 472.5,642.9 471.7,644.9 471.3,645.8 470.9,646.9 470.1,648.9 469.4,650.9 469.3,651.1 468.7,652.9 468.1,654.9 467.5,656.9 467.3,657.5 466.9,658.9 466.4,660.9 465.9,662.9 465.4,664.9 465.3,665.1 464.7,666.9 464.0,668.9 463.3,670.7 463.2,670.9 462.4,672.9 461.5,674.9 461.3,675.3 460.4,676.9 459.3,678.5 459.0,678.9 457.3,680.5 456.8,680.9 455.3,681.8 453.3,682.8 453.0,682.9 451.3,683.5 449.3,684.2 447.3,684.7 445.8,684.9 445.3,685.0 443.3,685.0 441.6,684.9 441.3,684.9 439.3,684.7 437.3,684.4 435.3,684.2 433.3,684.0 431.3,683.9 429.3,684.0 427.3,684.3 425.3,684.7 424.7,684.9 423.3,685.3 421.3,686.1 419.4,686.9 419.3,686.9 417.3,687.9 415.3,688.9 415.2,688.9 413.3,689.8 411.3,690.9 411.2,690.9 409.3,691.8 407.3,692.8 407.1,692.9 405.3,693.8 403.3,694.7 402.8,694.9 401.3,695.5 399.3,696.3 397.7,696.9 397.3,697.0 395.3,697.6 393.3,698.1 391.3,698.4 389.3,698.5 387.3,698.4 385.3,698.1 383.3,697.5 381.9,696.9 381.3,696.6 379.3,695.7 377.6,694.9 377.3,694.8 375.3,693.5 374.5,692.9 373.3,691.8 372.4,690.9 371.3,689.3 371.0,688.9 370.0,686.9 369.3,684.9 369.3,684.8 369.0,682.9 369.0,680.9 369.3,679.5 369.4,678.9 370.2,676.9 371.3,675.0 371.4,674.9 372.9,672.9 373.3,672.4 374.7,670.9 375.3,670.3 376.9,668.9 377.3,668.5 379.2,666.9 379.3,666.8 381.3,665.1 381.6,664.9 383.3,663.2 383.5,662.9 385.1,660.9 385.3,660.6 386.3,658.9 387.3,656.9 387.3,656.9 388.3,654.9 389.2,652.9 389.3,652.8 390.4,650.9 391.3,648.9 391.3,648.9 392.1,646.9 392.6,644.9 392.8,642.9 393.0,640.9 393.3,639.8 393.5,638.9 394.4,636.9 395.1,634.9 395.3,634.4 395.8,632.9 396.2,630.9 396.4,628.9 396.7,626.9 397.0,624.9 397.3,623.5 397.4,622.9 397.9,620.9 398.3,618.9 398.7,616.9 399.2,614.9 399.3,614.4 399.6,612.9 400.0,610.9 400.3,608.9 400.6,606.9 400.8,604.9 401.2,602.9 401.3,602.5 401.7,600.9 402.4,598.9 403.3,596.9 403.3,596.9 404.3,594.9 405.3,593.0 405.4,592.9 406.6,590.9 407.3,589.8 407.9,588.9 409.3,587.0 409.4,586.9 411.0,584.9 411.3,584.6 412.8,582.9 413.3,582.3 414.6,580.9 415.3,580.1 416.4,578.9 417.3,577.9 418.2,576.9 419.3,575.8 420.3,574.9 421.3,574.0 422.7,572.9 423.3,572.5 425.3,571.0 425.4,570.9 427.3,569.0 427.3,568.9 428.8,566.9 429.3,566.3 430.3,564.9 431.3,563.8 432.1,562.9 433.3,561.6 434.0,560.9 435.3,559.6 435.9,558.9 437.3,557.4 437.9,556.9 439.3,555.7 441.3,555.0 442.0,554.9 443.3,554.7 445.3,554.5 447.3,554.2 449.3,553.8 451.3,553.4 453.3,553.1 454.3,552.9 455.3,552.7 457.3,552.4 459.3,552.2 461.3,552.1 463.3,552.2 465.3,552.4 467.3,552.6 469.3,552.8 471.3,552.8 473.3,552.7 475.3,552.5 477.3,552.4 479.3,552.4 481.3,552.6 483.3,552.9 483.3,552.9 485.3,553.3 487.3,553.6 489.3,553.8 491.3,553.3 492.2,552.9 493.3,552.2 495.3,551.4 496.4,550.9 497.3,550.5 499.3,548.9 499.3,548.8 500.0,546.9 500.2,544.9 500.2,542.9 500.6,540.9 501.1,538.9 501.3,538.4ZM491.3,562.8 491.2,562.9 490.7,564.9 491.3,566.7 491.4,566.9 492.9,568.9 493.3,569.5 494.7,570.9 495.3,571.5 497.3,572.8 497.8,572.9 499.3,573.2 500.3,572.9 500.3,570.9 499.4,568.9 499.3,568.8 497.4,566.9 497.3,566.8 495.5,564.9 495.3,564.7 493.6,562.9 493.3,562.8ZM501.3,553.3 499.8,554.9 499.4,556.9 501.3,558.0 502.2,556.9 502.6,554.9ZM524.5,560.9 525.3,560.6 526.0,560.9 525.3,562.1ZM526.7,698.9 527.3,698.8 527.9,698.9 529.3,699.2 531.3,699.8 533.3,700.4 535.3,700.8 536.3,700.9 537.3,701.1 539.3,701.4 541.3,702.6 541.6,702.9 543.3,704.6 543.5,704.9 545.3,706.8 545.3,706.9 546.7,708.9 547.3,709.7 548.1,710.9 549.3,711.9 550.6,712.9 551.3,713.5 552.3,714.9 552.6,716.9 552.9,718.9 553.3,720.0 553.6,720.9 555.0,722.9 555.3,723.3 556.5,724.9 557.3,726.7 557.4,726.9 557.9,728.9 558.6,730.9 559.3,732.3 559.7,732.9 560.6,734.9 560.8,736.9 560.9,738.9 561.0,740.9 561.0,742.9 561.0,744.9 561.3,746.7 561.3,746.9 561.8,748.9 562.1,750.9 561.9,752.9 561.6,754.9 561.3,755.9 561.1,756.9 560.5,758.9 559.7,760.9 559.3,761.9 558.8,762.9 558.0,764.9 557.4,766.9 557.3,767.4 556.9,768.9 556.1,770.9 555.3,772.4 554.9,772.9 553.3,774.4 552.6,774.9 551.3,775.8 549.3,776.9 549.2,776.9 547.3,778.5 546.8,778.9 545.3,780.1 543.6,780.9 543.3,781.0 541.3,781.1 540.4,780.9 539.3,780.7 537.3,780.1 535.3,779.7 533.3,779.4 531.3,779.1 530.7,778.9 529.3,778.4 527.3,776.9 527.3,776.9 525.4,774.9 525.3,774.7 523.7,772.9 523.3,772.5 521.7,770.9 521.3,770.5 519.5,768.9 519.3,768.7 517.6,766.9 517.3,766.5 516.2,764.9 515.3,763.0 515.3,762.9 514.5,760.9 513.8,758.9 513.3,757.6 513.1,756.9 512.3,754.9 511.3,752.9 511.3,752.9 510.4,750.9 509.5,748.9 509.3,748.2 508.9,746.9 508.6,744.9 508.5,742.9 508.5,740.9 508.4,738.9 508.3,736.9 508.2,734.9 508.1,732.9 508.0,730.9 507.8,728.9 507.6,726.9 507.7,724.9 508.2,722.9 508.9,720.9 509.3,720.0 509.7,718.9 510.5,716.9 511.2,714.9 511.3,714.6 512.0,712.9 512.7,710.9 513.3,708.9 513.3,708.8 514.4,706.9 515.3,706.0 516.8,704.9 517.3,704.6 519.3,703.4 520.1,702.9 521.3,702.2 523.0,700.9 523.3,700.6 525.3,699.2Z"/>
<path fill="#0064c8" fill-rule="evenodd" d="M503.3,548.9 503.3,548.8 505.3,547.6 507.3,547.7 509.3,548.2 511.3,548.6 512.5,548.9 513.3,549.1 515.3,550.0 516.0,550.9 517.1,552.9 517.3,553.5 517.5,554.9 517.8,556.9 517.7,558.9 517.3,560.5 517.1,560.9 515.8,562.9 515.3,563.5 513.9,564.9 513.3,565.4 511.3,566.2 509.3,566.6 508.8,566.9 507.3,567.4 505.3,567.9 503.3,567.7 501.9,566.9 501.3,566.4 499.8,564.9 499.3,564.2 497.7,562.9 497.3,562.3 495.3,561.8 493.3,561.7 491.3,561.2 489.3,561.3 488.2,562.9 488.4,564.9 489.0,566.9 489.3,567.8 489.8,568.9 490.7,570.9 491.3,572.3 491.7,572.9 492.9,574.9 493.3,575.5 494.4,576.9 495.3,578.1 496.0,578.9 497.3,580.7 497.5,580.9 498.5,582.9 498.9,584.9 498.7,586.9 498.0,588.9 497.3,590.2 496.9,590.9 495.6,592.9 495.3,593.3 494.1,594.9 493.3,596.0 492.7,596.9 491.3,598.6 491.1,598.9 489.3,600.9 489.3,600.9 487.3,602.8 487.2,602.9 485.3,604.5 484.9,604.9 483.3,606.4 482.9,606.9 481.7,608.9 481.3,609.7 480.8,610.9 480.2,612.9 479.7,614.9 479.3,616.4 479.1,616.9 478.6,618.9 478.1,620.9 477.6,622.9 477.3,624.0 477.0,624.9 476.4,626.9 475.8,628.9 475.3,630.1 475.0,630.9 474.2,632.9 473.3,634.7 473.2,634.9 472.2,636.9 471.3,638.6 471.2,638.9 470.2,640.9 469.3,642.7 469.2,642.9 468.3,644.9 467.3,646.9 467.3,647.0 466.4,648.9 465.6,650.9 465.3,651.7 464.8,652.9 464.1,654.9 463.5,656.9 463.3,657.4 462.8,658.9 462.1,660.9 461.3,662.6 461.2,662.9 460.0,664.9 459.3,666.0 458.7,666.9 457.3,668.8 457.2,668.9 455.5,670.9 455.3,671.1 453.4,672.9 453.3,673.0 451.3,674.6 450.9,674.9 449.3,675.9 447.3,676.9 447.3,676.9 445.3,677.6 443.3,678.1 441.3,678.4 439.3,678.4 437.3,678.3 435.3,678.0 433.3,677.8 431.3,677.6 429.3,677.5 427.3,677.7 425.3,677.9 423.3,678.4 421.6,678.9 421.3,679.0 419.3,679.5 417.3,680.1 415.3,680.8 415.1,680.9 413.3,681.6 411.3,682.6 410.7,682.9 409.3,683.7 407.4,684.9 407.3,685.0 405.3,686.3 404.5,686.9 403.3,687.7 401.7,688.9 401.3,689.1 399.3,690.4 398.5,690.9 397.3,691.6 395.3,692.5 394.5,692.9 393.3,693.3 391.3,693.9 389.3,694.2 387.3,694.2 385.3,693.9 383.3,693.4 382.1,692.9 381.3,692.6 379.3,691.5 378.5,690.9 377.3,689.8 376.4,688.9 375.3,687.1 375.2,686.9 374.6,684.9 374.4,682.9 374.6,680.9 375.3,679.0 375.3,678.9 376.6,676.9 377.3,676.0 378.3,674.9 379.3,673.9 380.6,672.9 381.3,672.3 383.3,670.9 383.3,670.9 385.3,669.5 386.1,668.9 387.3,667.8 388.3,666.9 389.3,665.6 389.9,664.9 391.0,662.9 391.3,662.1 391.8,660.9 392.4,658.9 392.9,656.9 393.3,655.9 393.9,654.9 395.3,653.3 395.7,652.9 397.3,651.1 397.5,650.9 399.1,648.9 399.3,648.4 399.9,646.9 399.8,644.9 399.3,643.8 398.9,642.9 398.1,640.9 398.0,638.9 398.2,636.9 398.6,634.9 398.8,632.9 398.9,630.9 399.0,628.9 399.2,626.9 399.3,626.1 399.5,624.9 399.9,622.9 400.2,620.9 400.5,618.9 400.8,616.9 401.2,614.9 401.3,614.3 401.6,612.9 402.0,610.9 402.3,608.9 402.5,606.9 402.8,604.9 403.2,602.9 403.3,602.5 403.9,600.9 404.7,598.9 405.3,597.5 405.6,596.9 406.6,594.9 407.3,593.6 407.7,592.9 408.9,590.9 409.3,590.4 410.4,588.9 411.3,587.7 412.0,586.9 413.3,585.4 413.7,584.9 415.3,583.1 415.5,582.9 417.3,580.9 417.3,580.9 419.1,578.9 419.3,578.7 421.1,576.9 421.3,576.7 423.3,575.0 423.4,574.9 425.3,573.5 426.2,572.9 427.3,572.0 428.3,570.9 429.3,569.6 429.7,568.9 431.0,566.9 431.3,566.5 432.5,564.9 433.3,563.9 434.1,562.9 435.3,561.5 435.8,560.9 437.3,559.2 437.6,558.9 439.3,557.4 440.6,556.9 441.3,556.6 443.3,556.3 445.3,556.2 447.3,556.1 449.3,555.9 451.3,555.8 453.3,555.7 455.3,555.6 457.3,555.6 459.3,555.7 461.3,555.9 463.3,556.1 465.3,556.3 467.3,556.4 469.3,556.6 471.3,556.6 473.3,556.6 475.3,556.5 477.3,556.5 479.3,556.6 481.2,556.9 481.3,556.9 483.3,557.3 485.3,557.7 487.3,557.9 489.3,557.1 489.5,556.9 491.3,556.1 493.3,555.3 494.9,554.9 495.3,554.7 496.4,554.9 496.6,556.9 497.0,558.9 497.3,559.9 498.8,560.9 499.3,561.2 499.7,560.9 501.3,560.6 502.9,558.9 503.3,558.3 503.8,556.9 504.2,554.9 504.2,552.9 503.3,550.9 503.3,550.4ZM525.5,708.9 527.3,708.2 529.3,707.9 531.3,707.8 533.3,708.0 535.3,708.3 537.2,708.9 537.3,708.9 539.3,710.0 540.6,710.9 541.3,711.4 543.2,712.9 543.3,713.0 545.3,714.7 545.5,714.9 547.3,716.8 547.4,716.9 548.2,718.9 549.0,720.9 549.3,721.5 549.9,722.9 551.0,724.9 551.3,725.4 552.3,726.9 553.3,728.9 553.3,728.9 553.9,730.9 554.4,732.9 554.8,734.9 554.9,736.9 555.0,738.9 555.1,740.9 555.2,742.9 555.3,743.7 555.4,744.9 555.7,746.9 555.6,748.9 555.3,750.6 555.2,750.9 554.6,752.9 553.9,754.9 553.3,756.7 553.2,756.9 552.2,758.9 551.3,760.4 550.9,760.9 549.3,762.6 549.0,762.9 547.3,764.2 546.2,764.9 545.3,765.4 543.3,766.1 541.3,766.3 539.3,766.3 537.3,765.9 535.3,765.3 534.3,764.9 533.3,764.4 531.3,763.2 530.8,762.9 529.3,761.7 528.3,760.9 527.3,759.9 526.3,758.9 525.3,757.6 524.8,756.9 523.5,754.9 523.3,754.5 522.6,752.9 521.7,750.9 521.3,750.0 520.8,748.9 519.8,746.9 519.3,745.9 518.8,744.9 518.0,742.9 517.5,740.9 517.3,739.6 517.2,738.9 517.1,736.9 517.0,734.9 516.8,732.9 516.6,730.9 516.4,728.9 516.3,726.9 516.3,724.9 516.7,722.9 517.2,720.9 517.3,720.4 517.9,718.9 518.8,716.9 519.3,715.8 519.8,714.9 521.0,712.9 521.3,712.4 522.6,710.9 523.3,710.3 525.3,709.0Z"/>
<path fill="#0032dc" fill-rule="evenodd" d="M439.7,558.9 441.3,558.3 443.3,558.0 445.3,557.9 447.3,558.0 449.3,558.0 451.3,558.1 453.3,558.2 455.3,558.3 457.3,558.6 459.3,558.9 459.6,558.9 461.3,559.2 463.3,559.4 465.3,559.7 467.3,559.8 469.3,560.0 471.3,560.0 473.3,560.0 475.3,560.0 477.3,560.0 479.3,560.2 481.3,560.7 482.0,560.9 483.3,561.5 484.9,562.9 485.3,563.3 486.1,564.9 487.0,566.9 487.3,567.9 487.6,568.9 488.1,570.9 488.7,572.9 489.3,574.7 489.4,574.9 490.2,576.9 491.0,578.9 491.3,579.7 491.9,580.9 492.6,582.9 493.1,584.9 493.2,586.9 492.9,588.9 492.2,590.9 491.3,592.7 491.2,592.9 490.1,594.9 489.3,596.0 488.8,596.9 487.3,598.9 487.3,598.9 485.6,600.9 485.3,601.2 483.5,602.9 483.3,603.0 481.5,604.9 481.3,605.1 480.1,606.9 479.3,608.6 479.1,608.9 478.4,610.9 477.6,612.9 477.3,613.9 476.9,614.9 476.2,616.9 475.5,618.9 475.3,619.7 474.9,620.9 474.4,622.9 473.8,624.9 473.3,626.5 473.2,626.9 472.5,628.9 471.8,630.9 471.3,632.2 471.0,632.9 470.1,634.9 469.3,636.4 469.0,636.9 468.0,638.9 467.3,640.2 466.9,640.9 465.9,642.9 465.3,644.0 464.8,644.9 463.7,646.9 463.3,647.7 462.6,648.9 461.6,650.9 461.3,651.5 460.5,652.9 459.6,654.9 459.3,655.5 458.5,656.9 457.3,658.8 457.2,658.9 455.3,660.9 455.3,660.9 453.3,662.3 452.2,662.9 451.3,663.4 449.3,664.1 447.3,664.5 445.3,664.6 443.3,664.2 441.3,663.4 440.4,662.9 439.3,662.4 437.3,661.5 435.9,660.9 435.3,660.7 433.3,660.0 431.3,659.2 430.6,658.9 429.3,658.4 427.3,657.6 425.9,656.9 425.3,656.7 423.3,655.9 421.4,654.9 421.3,654.9 419.3,653.8 418.1,652.9 417.3,652.4 415.6,650.9 415.3,650.6 413.6,648.9 413.3,648.6 411.8,646.9 411.3,646.4 410.1,644.9 409.3,643.9 408.5,642.9 407.3,641.4 406.9,640.9 405.5,638.9 405.3,638.7 404.3,636.9 403.5,634.9 403.3,634.3 403.0,632.9 402.7,630.9 402.5,628.9 402.5,626.9 402.6,624.9 402.7,622.9 402.8,620.9 403.0,618.9 403.1,616.9 403.3,615.8 403.4,614.9 403.8,612.9 404.2,610.9 404.4,608.9 404.6,606.9 404.9,604.9 405.3,603.1 405.4,602.9 406.2,600.9 407.1,598.9 407.3,598.4 408.0,596.9 409.0,594.9 409.3,594.3 410.1,592.9 411.3,591.1 411.4,590.9 412.9,588.9 413.3,588.4 414.5,586.9 415.3,586.0 416.2,584.9 417.3,583.7 418.1,582.9 419.3,581.5 419.8,580.9 421.3,579.2 421.6,578.9 423.3,577.3 423.7,576.9 425.3,575.6 426.3,574.9 427.3,574.2 429.0,572.9 429.3,572.6 430.5,570.9 431.3,569.6 431.7,568.9 432.9,566.9 433.3,566.4 434.4,564.9 435.3,563.7 436.0,562.9 437.3,561.2 437.6,560.9 439.3,559.1ZM492.5,558.9 493.3,558.4 493.8,558.9 493.3,559.6ZM384.5,678.9 385.3,678.5 387.3,678.1 389.3,678.1 391.3,678.7 391.6,678.9 393.3,680.5 393.5,680.9 394.0,682.9 393.5,684.9 393.3,685.2 392.1,686.9 391.3,687.5 389.3,688.7 388.8,688.9 387.3,689.2 385.3,689.3 383.5,688.9 383.3,688.8 381.3,687.3 381.0,686.9 380.4,684.9 380.6,682.9 381.3,681.5 381.8,680.9 383.3,679.5ZM532.5,732.9 533.3,732.5 535.3,732.6 535.7,732.9 537.3,733.8 538.1,734.9 539.1,736.9 539.3,737.8 539.6,738.9 539.6,740.9 539.3,742.2 539.2,742.9 538.3,744.9 537.3,746.1 536.1,746.9 535.3,747.3 533.3,747.5 532.1,746.9 531.3,746.5 529.9,744.9 529.3,743.9 528.9,742.9 528.4,740.9 528.4,738.9 528.9,736.9 529.3,736.0 530.0,734.9 531.3,733.4Z"/>
<path fill="#3200dc" fill-rule="evenodd" d="M440.0,560.9 441.3,560.3 443.3,559.9 445.3,559.9 447.3,560.0 449.3,560.2 451.3,560.4 453.3,560.7 454.3,560.9 455.3,561.1 457.3,561.5 459.3,561.9 461.3,562.3 463.3,562.7 464.6,562.9 465.3,563.0 467.3,563.3 469.3,563.4 471.3,563.5 473.3,563.5 475.3,563.6 477.3,563.6 479.3,563.9 481.3,564.4 482.3,564.9 483.3,565.5 484.5,566.9 485.3,568.7 485.3,568.9 485.6,570.9 485.8,572.9 486.2,574.9 486.6,576.9 487.0,578.9 487.3,580.2 487.5,580.9 487.9,582.9 488.1,584.9 488.2,586.9 487.9,588.9 487.4,590.9 487.3,591.2 486.7,592.9 485.7,594.9 485.3,595.5 484.5,596.9 483.3,598.5 483.0,598.9 481.3,600.8 481.3,600.9 479.6,602.9 479.3,603.3 478.4,604.9 477.5,606.9 477.3,607.3 476.6,608.9 475.8,610.9 475.3,612.0 474.9,612.9 474.0,614.9 473.3,616.5 473.2,616.9 472.5,618.9 471.9,620.9 471.3,622.9 471.3,622.9 470.6,624.9 470.0,626.9 469.3,628.8 469.3,628.9 468.5,630.9 467.7,632.9 467.3,633.8 466.8,634.9 465.7,636.9 465.3,637.7 464.7,638.9 463.5,640.9 463.3,641.3 462.3,642.9 461.3,644.5 461.0,644.9 459.5,646.9 459.3,647.2 457.9,648.9 457.3,649.7 456.1,650.9 455.3,651.7 453.7,652.9 453.3,653.2 451.3,654.1 449.3,654.5 447.3,654.5 445.3,654.2 443.3,653.6 441.3,652.9 441.3,652.9 439.3,652.2 437.3,651.6 435.3,651.0 434.9,650.9 433.3,650.4 431.3,649.7 429.4,648.9 429.3,648.9 427.3,647.9 425.6,646.9 425.3,646.7 423.3,645.4 422.6,644.9 421.3,643.9 420.1,642.9 419.3,642.2 417.9,640.9 417.3,640.4 415.8,638.9 415.3,638.4 413.8,636.9 413.3,636.4 411.9,634.9 411.3,634.2 410.2,632.9 409.3,631.7 408.8,630.9 407.8,628.9 407.3,627.7 407.1,626.9 406.6,624.9 406.4,622.9 406.2,620.9 406.1,618.9 406.1,616.9 406.3,614.9 406.5,612.9 406.7,610.9 406.9,608.9 407.1,606.9 407.3,605.7 407.4,604.9 408.1,602.9 408.9,600.9 409.3,599.9 409.8,598.9 410.7,596.9 411.3,595.6 411.6,594.9 412.7,592.9 413.3,591.9 413.9,590.9 415.3,588.9 415.3,588.9 416.9,586.9 417.3,586.4 418.6,584.9 419.3,584.1 420.3,582.9 421.3,581.8 422.0,580.9 423.3,579.5 423.9,578.9 425.3,577.6 426.1,576.9 427.3,576.0 428.8,574.9 429.3,574.5 430.9,572.9 431.3,572.4 432.3,570.9 433.3,569.2 433.5,568.9 434.8,566.9 435.3,566.2 436.3,564.9 437.3,563.7 438.0,562.9 439.3,561.4Z"/>
<path fill="#6400e6" fill-rule="evenodd" d="M441.0,562.9 441.3,562.7 443.3,562.1 445.3,562.1 447.3,562.3 449.3,562.6 450.9,562.9 451.3,563.0 453.3,563.5 455.3,564.1 457.3,564.6 458.3,564.9 459.3,565.2 461.3,565.8 463.3,566.3 465.3,566.7 466.3,566.9 467.3,567.1 469.3,567.5 471.3,567.7 473.3,567.9 475.3,568.0 477.3,568.2 479.3,568.7 479.7,568.9 481.3,570.5 481.5,570.9 481.9,572.9 482.1,574.9 482.3,576.9 482.6,578.9 482.8,580.9 483.0,582.9 483.2,584.9 483.1,586.9 482.9,588.9 482.4,590.9 481.8,592.9 481.3,593.9 480.9,594.9 479.8,596.9 479.3,597.7 478.6,598.9 477.4,600.9 477.3,601.0 476.5,602.9 475.8,604.9 475.3,606.0 474.9,606.9 474.0,608.9 473.3,610.4 473.0,610.9 472.0,612.9 471.3,614.2 470.9,614.9 470.2,616.9 469.6,618.9 469.3,620.0 469.0,620.9 468.3,622.9 467.5,624.9 467.3,625.5 466.7,626.9 465.9,628.9 465.3,630.5 465.1,630.9 464.2,632.9 463.3,634.8 463.3,634.9 462.2,636.9 461.3,638.4 461.0,638.9 459.6,640.9 459.3,641.3 457.9,642.9 457.3,643.5 455.6,644.9 455.3,645.2 453.3,646.4 452.1,646.9 451.3,647.3 449.3,647.7 447.3,647.8 445.3,647.7 443.3,647.4 441.3,647.0 441.0,646.9 439.3,646.5 437.3,645.9 435.3,645.2 434.5,644.9 433.3,644.4 431.3,643.5 430.3,642.9 429.3,642.3 427.3,640.9 427.2,640.9 425.3,639.2 425.0,638.9 423.3,637.0 423.2,636.9 421.7,634.9 421.3,634.1 420.5,632.9 419.3,631.2 419.0,630.9 417.3,629.4 416.7,628.9 415.3,627.8 414.3,626.9 413.3,625.9 412.6,624.9 411.4,622.9 411.3,622.8 410.6,620.9 410.1,618.9 409.9,616.9 409.8,614.9 409.8,612.9 409.9,610.9 410.0,608.9 410.2,606.9 410.6,604.9 411.2,602.9 411.3,602.6 411.9,600.9 412.8,598.9 413.3,597.6 413.6,596.9 414.4,594.9 415.2,592.9 415.3,592.8 416.2,590.9 417.3,589.2 417.5,588.9 419.1,586.9 419.3,586.7 420.8,584.9 421.3,584.4 422.5,582.9 423.3,581.9 424.1,580.9 425.3,579.6 426.0,578.9 427.3,577.8 428.4,576.9 429.3,576.2 430.9,574.9 431.3,574.5 432.8,572.9 433.3,572.1 434.1,570.9 435.3,568.9 435.3,568.8 436.7,566.9 437.3,566.2 438.6,564.9 439.3,564.2Z"/>
<path fill="#7800dc" fill-rule="evenodd" d="M443.0,564.9 443.3,564.8 445.3,564.7 447.0,564.9 447.3,564.9 449.3,565.5 451.3,566.1 453.3,566.8 453.7,566.9 455.3,567.5 457.3,568.2 459.2,568.9 459.3,569.0 461.3,569.7 463.3,570.5 464.4,570.9 465.3,571.3 467.3,572.1 469.1,572.9 469.3,573.0 471.3,574.2 472.3,574.9 473.3,575.7 474.5,576.9 475.3,578.1 475.7,578.9 476.5,580.9 477.0,582.9 477.3,584.9 477.3,584.9 477.4,586.9 477.4,588.9 477.3,589.5 477.1,590.9 476.8,592.9 476.3,594.9 475.7,596.9 475.3,598.2 475.1,598.9 474.6,600.9 474.0,602.9 473.3,604.8 473.2,604.9 472.3,606.9 471.3,608.9 471.3,609.0 470.2,610.9 469.3,612.4 469.0,612.9 468.1,614.9 467.6,616.9 467.3,617.9 467.1,618.9 466.4,620.9 465.4,622.9 465.3,623.2 464.4,624.9 463.4,626.9 463.3,627.2 462.5,628.9 461.6,630.9 461.3,631.4 460.5,632.9 459.3,634.8 459.3,634.9 457.8,636.9 457.3,637.6 455.9,638.9 455.3,639.5 453.3,640.7 452.9,640.9 451.3,641.5 449.3,642.0 447.3,642.2 445.3,642.2 443.3,642.1 441.3,641.7 439.3,641.3 438.0,640.9 437.3,640.7 435.3,639.9 433.3,639.1 433.0,638.9 431.3,638.0 429.7,636.9 429.3,636.6 427.6,634.9 427.3,634.6 426.1,632.9 425.3,631.5 425.0,630.9 424.0,628.9 423.3,627.9 422.3,626.9 421.3,626.1 419.6,624.9 419.3,624.7 417.3,622.9 417.3,622.9 415.8,620.9 415.3,619.9 414.8,618.9 414.2,616.9 413.9,614.9 413.7,612.9 413.6,610.9 413.6,608.9 413.7,606.9 413.9,604.9 414.4,602.9 415.1,600.9 415.3,600.3 415.8,598.9 416.4,596.9 416.9,594.9 417.3,593.6 417.5,592.9 418.3,590.9 419.3,589.3 419.6,588.9 421.3,586.9 421.3,586.9 423.0,584.9 423.3,584.5 424.5,582.9 425.3,581.9 426.1,580.9 427.3,579.6 428.0,578.9 429.3,577.8 430.6,576.9 431.3,576.3 433.0,574.9 433.3,574.6 434.7,572.9 435.3,572.0 436.0,570.9 437.2,568.9 437.3,568.8 439.2,566.9 439.3,566.8 441.3,565.5Z"/>
<path fill="#9600c8" fill-rule="evenodd" d="M440.5,568.9 441.3,568.5 443.3,568.0 445.3,568.0 447.3,568.5 448.5,568.9 449.3,569.2 451.3,570.1 453.3,570.9 453.3,570.9 455.3,571.8 457.3,572.7 457.8,572.9 459.3,573.7 461.3,574.8 461.5,574.9 463.3,576.2 464.3,576.9 465.3,577.9 466.4,578.9 467.3,580.0 468.0,580.9 469.2,582.9 469.3,583.0 470.2,584.9 470.8,586.9 471.3,588.9 471.3,589.1 471.5,590.9 471.7,592.9 471.8,594.9 471.9,596.9 471.9,598.9 471.7,600.9 471.3,602.8 471.3,602.9 470.4,604.9 469.5,606.9 469.3,607.3 468.4,608.9 467.3,610.9 467.3,610.9 466.3,612.9 465.7,614.9 465.3,616.5 465.2,616.9 464.6,618.9 463.7,620.9 463.3,621.6 462.4,622.9 461.3,624.7 461.2,624.9 459.9,626.9 459.3,628.0 458.7,628.9 457.3,630.8 457.2,630.9 455.4,632.9 455.3,633.1 453.3,634.7 452.9,634.9 451.3,635.7 449.3,636.4 447.3,636.7 445.3,636.8 443.3,636.7 441.3,636.4 439.3,636.0 437.3,635.6 435.3,635.1 434.7,634.9 433.3,634.4 431.3,633.3 430.9,632.9 429.3,631.6 428.8,630.9 427.3,628.9 427.3,628.8 426.1,626.9 425.3,625.8 424.4,624.9 423.3,623.8 422.2,622.9 421.3,621.9 420.3,620.9 419.3,619.2 419.1,618.9 418.3,616.9 417.9,614.9 417.6,612.9 417.4,610.9 417.3,610.1 417.1,608.9 416.9,606.9 416.9,604.9 417.2,602.9 417.3,602.7 417.8,600.9 418.6,598.9 418.9,596.9 419.1,594.9 419.3,594.0 419.5,592.9 420.2,590.9 421.3,589.3 421.6,588.9 423.3,587.1 423.5,586.9 425.1,584.9 425.3,584.6 426.5,582.9 427.3,581.8 428.0,580.9 429.3,579.6 430.1,578.9 431.3,578.0 433.0,576.9 433.3,576.7 435.3,575.0 435.5,574.9 437.1,572.9 437.3,572.5 438.4,570.9 439.3,569.7Z"/>
<path fill="#c800c8" fill-rule="evenodd" d="M442.9,572.9 443.3,572.8 444.3,572.9 445.3,573.0 447.3,573.8 449.3,574.7 449.8,574.9 451.3,575.5 453.3,576.3 454.6,576.9 455.3,577.3 457.3,578.5 457.8,578.9 459.3,580.3 459.9,580.9 461.3,582.7 461.5,582.9 462.7,584.9 463.3,586.0 463.8,586.9 464.6,588.9 465.3,590.9 465.3,591.0 465.8,592.9 466.2,594.9 466.7,596.9 467.3,598.9 467.3,598.9 467.6,600.9 467.4,602.9 467.3,603.3 466.9,604.9 466.1,606.9 465.3,608.6 465.1,608.9 464.1,610.9 463.5,612.9 463.3,613.7 463.0,614.9 462.6,616.9 461.7,618.9 461.3,619.6 460.2,620.9 459.3,622.1 458.6,622.9 457.3,624.5 456.9,624.9 455.3,626.6 455.0,626.9 453.3,628.3 452.3,628.9 451.3,629.5 449.3,630.4 447.5,630.9 447.3,631.0 445.3,631.3 443.3,631.5 441.3,631.6 439.3,631.6 437.3,631.3 435.6,630.9 435.3,630.8 433.3,630.0 431.4,628.9 431.3,628.8 429.6,626.9 429.3,626.5 428.3,624.9 427.3,623.7 426.6,622.9 425.3,621.7 424.5,620.9 423.3,619.4 422.9,618.9 422.0,616.9 421.4,614.9 421.3,614.6 421.0,612.9 420.7,610.9 420.2,608.9 419.6,606.9 419.4,604.9 419.5,602.9 420.0,600.9 420.7,598.9 421.0,596.9 421.0,594.9 421.3,593.0 421.3,592.9 422.1,590.9 423.3,589.4 423.8,588.9 425.3,587.4 425.8,586.9 427.1,584.9 427.3,584.7 428.5,582.9 429.3,581.8 430.1,580.9 431.3,579.9 433.0,578.9 433.3,578.7 435.3,577.7 436.7,576.9 437.3,576.5 439.3,575.2 439.7,574.9 441.3,573.5Z"/>
<path fill="#b400b4" fill-rule="evenodd" d="M433.8,580.9 435.3,580.4 437.3,579.9 439.3,579.5 441.3,579.0 443.3,579.0 445.3,579.4 447.3,580.1 449.2,580.9 449.3,580.9 451.3,582.0 452.7,582.9 453.3,583.4 454.9,584.9 455.3,585.4 456.6,586.9 457.3,587.9 457.9,588.9 458.9,590.9 459.3,591.9 459.6,592.9 460.1,594.9 460.6,596.9 461.0,598.9 461.3,600.4 461.4,600.9 461.5,602.9 461.4,604.9 461.3,605.3 460.9,606.9 460.2,608.9 459.6,610.9 459.3,611.9 459.0,612.9 458.3,614.9 457.4,616.9 457.3,617.0 455.6,618.9 455.3,619.2 453.3,620.8 453.1,620.9 451.3,622.0 449.5,622.9 449.3,623.0 447.3,623.7 445.3,624.3 443.3,624.7 442.2,624.9 441.3,625.0 439.3,625.2 437.3,625.1 436.6,624.9 435.3,624.6 433.3,623.4 432.7,622.9 431.3,621.8 430.4,620.9 429.3,620.0 428.1,618.9 427.3,618.2 426.2,616.9 425.3,615.7 424.9,614.9 424.0,612.9 423.4,610.9 423.3,610.7 422.7,608.9 422.0,606.9 421.5,604.9 421.4,602.9 421.8,600.9 422.4,598.9 422.8,596.9 422.9,594.9 423.2,592.9 423.3,592.5 424.1,590.9 425.3,589.8 426.3,588.9 427.3,587.8 428.1,586.9 429.3,585.1 429.4,584.9 430.9,582.9 431.3,582.4 433.3,581.1Z"/>
<path fill="#960096" fill-rule="evenodd" d="M434.0,584.9 435.3,584.5 437.3,584.7 438.6,584.9 439.3,585.0 441.3,585.2 443.3,585.6 445.3,586.5 446.1,586.9 447.3,587.6 449.1,588.9 449.3,589.1 450.9,590.9 451.3,591.5 452.1,592.9 453.1,594.9 453.3,595.4 453.8,596.9 454.2,598.9 454.3,600.9 454.3,602.9 454.0,604.9 453.3,606.8 453.3,606.9 452.3,608.9 451.3,610.6 451.1,610.9 449.5,612.9 449.3,613.1 447.3,614.5 446.5,614.9 445.3,615.6 443.3,616.4 441.3,616.9 440.9,616.9 439.3,617.0 437.3,617.0 436.4,616.9 435.3,616.8 433.3,616.1 431.3,615.0 431.2,614.9 429.3,613.8 428.3,612.9 427.3,611.9 426.6,610.9 425.4,608.9 425.3,608.6 424.6,606.9 423.9,604.9 423.4,602.9 423.5,600.9 424.3,598.9 424.8,596.9 425.0,594.9 425.3,593.7 425.6,592.9 427.2,590.9 427.3,590.8 429.3,589.0 429.4,588.9 431.3,586.9 431.3,586.9 433.3,585.1Z"/>
<path fill="#780078" fill-rule="evenodd" d="M434.1,590.9 435.3,590.5 437.3,590.3 439.3,590.5 441.0,590.9 441.3,591.0 443.3,591.8 444.9,592.9 445.3,593.3 446.8,594.9 447.3,595.7 447.9,596.9 448.5,598.9 448.7,600.9 448.5,602.9 447.9,604.9 447.3,606.3 446.9,606.9 445.3,608.7 445.1,608.9 443.3,610.2 441.8,610.9 441.3,611.1 439.3,611.5 437.3,611.6 435.3,611.3 433.9,610.9 433.3,610.7 431.3,609.6 430.5,608.9 429.3,607.7 428.7,606.9 427.5,604.9 427.3,604.4 426.9,602.9 426.8,600.9 427.2,598.9 427.3,598.6 427.9,596.9 428.8,594.9 429.3,594.1 430.6,592.9 431.3,592.4 433.3,591.2Z"/>
</g>
<g id="lines" fill="none" stroke="#3a0048" stroke-width="0.9">
<path d="M390.8,288.9 389.3,289.8 388.3,290.9 388.1,292.9 388.2,294.9 388.2,296.9 388.2,298.9 388.1,300.9 387.9,302.9 387.7,304.9 387.4,306.9 387.3,307.2 387.0,308.9 386.5,310.9 385.9,312.9 385.3,314.5 385.1,314.9 384.1,316.9 383.3,318.2 382.7,318.9 381.3,320.4 380.8,320.9 379.3,322.3 378.6,322.9 377.3,324.1 376.5,324.9 375.3,326.1 374.5,326.9 373.3,328.2 372.6,328.9 371.3,330.1 370.4,330.9 369.3,332.0 368.4,332.9 367.3,334.1 366.7,334.9 365.3,336.9 365.3,336.9 364.1,338.9 363.3,340.4 363.1,340.9 362.0,342.9 361.3,344.3 361.0,344.9 359.9,346.9 359.3,347.9 358.7,348.9 357.6,350.9 357.3,351.5 356.5,352.9 355.3,354.8 355.2,354.9 353.8,356.9 353.3,357.6 352.3,358.9 351.3,360.4 350.9,360.9 349.4,362.9 349.3,363.1 348.0,364.9 347.3,365.9 346.6,366.9 345.3,368.9 345.3,369.0 344.0,370.9 343.3,371.9 342.5,372.9 341.3,374.0 339.7,374.9 339.3,375.1 337.3,375.8 335.3,376.3 333.4,376.9 333.3,376.9 331.3,377.7 329.3,378.4 328.1,378.9 327.3,379.2 325.3,380.0 323.3,380.8 323.0,380.9 321.3,381.5 319.3,382.2 317.3,382.8 316.9,382.9 315.3,383.3 313.3,383.8 311.3,384.2 309.3,384.7 308.6,384.9 307.3,385.2 305.3,385.7 303.3,386.2 301.3,386.6 300.1,386.9 299.3,387.1 297.3,387.7 295.3,388.6 294.8,388.9 293.3,389.8 291.7,390.9 291.3,391.2 289.3,392.6 288.8,392.9 287.3,393.9 285.7,394.9 285.3,395.1 283.3,396.4 282.4,396.9 281.3,397.5 279.3,398.6 278.8,398.9 277.3,399.8 275.7,400.9 275.3,401.2 273.6,402.9 273.3,403.2 272.0,404.9 271.3,405.9 270.6,406.9 269.3,408.9 269.3,408.9 267.8,410.9 267.3,411.6 266.3,412.9 265.3,414.3 264.8,414.9 263.3,416.9 263.3,416.9 261.6,418.9 261.3,419.3 260.0,420.9 259.3,421.9 258.7,422.9 257.5,424.9 257.3,425.2 256.5,426.9 255.6,428.9 255.3,429.7 254.8,430.9 254.0,432.9 253.3,434.4 253.1,434.9 252.2,436.9 251.3,438.9 251.3,438.9 250.4,440.9 249.4,442.9 249.3,443.1 248.5,444.9 247.6,446.9 247.3,447.6 246.8,448.9 246.2,450.9 245.8,452.9 245.5,454.9 245.3,456.9 245.3,457.3 245.3,458.9 245.3,460.1 245.3,460.9 245.5,462.9 246.0,464.9 246.7,466.9 247.3,468.1 247.8,468.9 249.3,470.5 249.8,470.9 251.3,471.7 253.3,472.1 255.3,472.2 257.3,472.3 259.3,472.3 261.3,472.4 263.3,472.5 265.3,472.7 267.2,472.9 267.3,472.9 269.3,473.0 271.3,472.9 272.2,472.9 273.3,472.8 275.3,472.7 277.3,472.6 279.3,472.6 281.3,472.5 283.3,472.4 285.3,472.3 287.3,472.2 289.3,472.0 291.3,472.0 293.3,471.9 295.3,471.9 297.3,471.9 299.3,471.8 301.3,471.7 303.3,471.4 305.1,470.9 305.3,470.8 307.3,470.0 309.3,469.1 309.6,468.9 311.3,468.0 313.3,466.9 313.3,466.9 315.3,465.7 316.8,464.9 317.3,464.6 319.3,463.8 321.3,463.3 323.3,463.3 325.3,463.9 327.3,464.6 328.1,464.9 329.3,465.3 331.3,465.7 333.3,466.1 335.3,466.9 335.3,466.9 337.2,468.9 337.3,469.1 338.1,470.9 338.8,472.9 339.3,474.2 339.6,474.9 340.8,476.9 341.3,477.8 341.9,478.9 342.7,480.9 343.2,482.9 343.3,483.7 343.5,484.9 343.7,486.9 343.7,488.9 343.6,490.9 343.5,492.9 343.5,494.9 343.5,496.9 343.7,498.9 343.8,500.9 343.8,502.9 343.6,504.9 343.3,506.9 343.3,507.1 343.1,508.9 343.1,510.9 343.3,511.9 343.6,512.9 345.3,514.7 347.3,514.4 349.3,513.2 349.7,512.9 351.3,511.9 353.3,511.0 353.4,510.9 355.3,510.1 357.3,508.9 357.3,508.9 358.9,506.9 359.3,505.9 359.6,504.9 360.0,502.9 360.3,500.9 360.7,498.9 361.2,496.9 361.3,496.4 361.7,494.9 362.2,492.9 362.7,490.9 363.3,489.0 363.3,488.9 363.9,486.9 364.3,484.9 364.7,482.9 365.1,480.9 365.3,480.1 365.5,478.9 366.0,476.9 366.6,474.9 367.3,473.9 368.1,472.9 369.3,471.7 370.0,470.9 371.3,469.6 371.9,468.9 373.3,467.5 373.8,466.9 375.3,465.4 375.7,464.9 377.3,463.1 377.5,462.9 379.3,461.1 379.5,460.9 381.3,459.5 381.9,458.9 383.3,457.5 383.7,456.9 384.8,454.9 385.0,452.9 385.3,451.2 385.4,450.9 386.3,448.9 387.3,447.3 387.5,446.9 388.8,444.9 389.3,444.1 390.1,442.9 391.2,440.9 391.3,440.7 392.2,438.9 393.1,436.9 393.3,436.5 394.2,434.9 395.2,432.9 395.3,432.6 396.0,430.9 396.9,428.9 397.3,428.1 398.0,426.9 399.0,424.9 399.3,424.2 399.9,422.9 400.7,420.9 401.3,419.7 401.9,418.9 403.3,417.1 403.5,416.9 404.9,414.9 405.3,414.1 406.0,412.9 407.2,410.9 407.3,410.7 408.4,408.9 409.3,407.5 409.6,406.9 411.1,404.9 411.3,404.8 413.3,403.3 414.0,402.9 415.3,402.1 417.0,400.9 417.3,400.7 419.3,399.0 419.4,398.9 421.3,397.4 422.1,396.9 423.3,396.2 425.3,395.0 425.4,394.9 427.3,393.5 427.9,392.9 429.3,391.7 430.4,390.9 431.3,390.4 433.3,389.6 434.9,388.9 435.3,388.7 437.3,387.7 438.6,386.9 439.3,386.5 441.3,385.5 442.6,384.9 443.3,384.6 445.3,383.7 446.8,382.9 447.3,382.6 449.3,381.4 450.3,380.9 451.3,380.3 453.3,379.3 454.0,378.9 455.3,378.2 457.3,377.0 457.5,376.9 459.3,376.0 461.3,374.9 461.3,374.9 463.3,373.7 464.7,372.9 465.3,372.5 467.3,371.4 468.2,370.9 469.3,370.3 471.3,369.9 473.3,369.9 475.3,370.5 476.3,370.9 477.3,371.6 478.8,372.9 479.3,373.4 480.5,374.9 481.3,375.9 482.0,376.9 483.3,378.4 483.8,378.9 485.3,380.1 486.7,380.9 487.3,381.2 489.3,382.0 491.2,382.9 491.3,383.0 493.3,383.7 495.3,384.2 497.3,384.8 497.7,384.9 499.3,385.4 501.3,386.5 501.8,386.9 503.3,388.4 503.6,388.9 504.9,390.9 505.3,391.6 506.0,392.9 507.1,394.9 507.3,395.2 508.2,396.9 509.3,398.6 509.5,398.9 510.7,400.9 511.3,401.8 511.9,402.9 512.9,404.9 513.3,406.2 513.5,406.9 514.0,408.9 514.6,410.9 515.3,412.4 515.5,412.9 516.4,414.9 517.0,416.9 517.3,417.8 517.6,418.9 518.3,420.9 519.1,422.9 519.3,423.4 519.9,424.9 520.5,426.9 521.2,428.9 521.3,429.1 522.0,430.9 522.9,432.9 523.3,433.6 523.9,434.9 524.7,436.9 525.3,438.4 525.5,438.9 526.2,440.9 527.1,442.9 527.3,443.4 528.0,444.9 529.0,446.9 529.3,447.6 530.0,448.9 531.1,450.9 531.3,451.3 532.2,452.9 533.3,454.9 533.3,454.9 534.5,456.9 535.3,458.4 535.6,458.9 536.7,460.9 537.2,462.9 537.1,464.9 536.9,466.9 536.9,468.9 537.3,470.1 538.0,470.9 539.3,471.7 541.3,472.0 543.3,471.3 543.9,470.9 545.3,469.2 545.4,468.9 545.7,466.9 545.7,464.9 546.1,462.9 547.3,461.7 548.0,460.9 549.3,459.8 550.1,458.9 551.3,457.8 552.2,456.9 553.3,456.0 554.4,454.9 555.3,454.0 556.3,452.9 557.3,451.9 558.5,450.9 559.3,450.3 560.8,448.9 561.3,448.3 562.4,446.9 563.3,445.8 564.2,444.9 565.3,443.8 566.2,442.9 567.3,441.5 567.8,440.9 569.2,438.9 569.3,438.8 571.3,436.9 571.3,436.9 573.2,434.9 573.3,434.7 574.7,432.9 575.3,431.9 576.1,430.9 577.3,429.4 577.7,428.9 579.3,427.1 579.5,426.9 581.2,424.9 581.3,424.8 583.0,422.9 583.3,422.5 584.7,420.9 585.3,420.1 586.3,418.9 587.3,417.6 587.9,416.9 589.3,415.1 589.5,414.9 591.2,412.9 591.3,412.8 593.0,410.9 593.3,410.5 594.6,408.9 595.3,407.9 596.1,406.9 597.1,404.9 597.3,404.3 597.9,402.9 598.5,400.9 599.0,398.9 599.3,397.6 599.5,396.9 600.1,394.9 600.7,392.9 601.3,391.7 602.0,390.9 603.3,390.0 605.3,389.8 607.3,390.1 609.3,390.7 610.0,390.9 611.3,391.2 613.3,391.4 615.3,391.4 617.3,391.5 619.3,391.4 621.3,391.3 623.3,391.2 625.3,391.4 627.3,392.3 627.9,392.9 629.3,394.5 629.6,394.9 630.9,396.9 631.3,397.4 632.3,398.9 633.3,400.1 633.8,400.9 635.3,402.7 635.4,402.9 637.2,404.9 637.3,405.0 639.0,406.9 639.3,407.3 640.4,408.9 641.3,410.8 641.3,410.9 641.8,412.9 642.2,414.9 642.6,416.9 643.0,418.9 643.3,420.1 643.5,420.9 643.9,422.9 644.4,424.9 644.8,426.9 645.2,428.9 645.3,429.3 645.6,430.9 646.1,432.9 646.7,434.9 647.3,436.4 647.5,436.9 648.6,438.9 649.3,440.0 649.9,440.9 651.0,442.9 651.3,443.5 652.0,444.9 653.3,446.9 653.3,447.0 654.3,448.9 655.1,450.9 655.3,451.2 656.2,452.9 657.3,454.2 657.9,454.9 659.3,456.4 659.8,456.9 661.3,458.3 661.9,458.9 663.3,460.2 664.0,460.9 665.3,462.1 666.1,462.9 667.3,464.1 668.1,464.9 669.3,466.0 670.3,466.9 671.3,467.8 672.6,468.9 673.3,469.7 674.4,470.9 675.3,472.2 675.7,472.9 676.5,474.9 677.0,476.9 677.3,478.4 677.4,478.9 677.9,480.9 678.5,482.9 679.2,484.9 679.3,485.2 679.9,486.9 680.5,488.9 680.8,490.9 680.8,492.9 680.5,494.9 680.2,496.9 679.8,498.9 679.5,500.9 679.3,502.8 679.3,502.9 679.1,504.9 678.9,506.9 678.7,508.9 678.5,510.9 678.1,512.9 677.4,514.9 677.3,515.0 676.1,516.9 675.3,518.0 674.6,518.9 673.3,520.6 673.1,520.9 672.0,522.9 671.3,524.2 670.8,524.9 669.3,526.7 669.1,526.9 667.3,527.8 665.3,528.3 663.3,528.7 662.2,528.9 661.3,529.1 659.3,529.6 657.3,530.2 655.3,530.7 654.6,530.9 653.3,531.3 651.3,531.9 649.3,532.4 647.3,532.9 647.2,532.9 645.3,533.2 643.3,533.5 641.3,533.7 639.3,533.9 637.3,534.1 635.3,534.3 633.3,534.6 631.3,534.7 629.3,534.9 629.3,534.9 627.3,535.1 625.3,535.5 623.3,535.8 621.3,536.0 619.3,536.1 617.3,536.0 615.3,535.8 613.3,535.5 611.5,534.9 611.3,534.8 609.3,534.0 607.3,533.0 607.1,532.9 605.3,532.4 603.3,532.5 602.6,532.9 601.3,534.6 601.2,534.9 601.2,536.9 601.3,537.9 601.5,538.9 602.3,540.9 603.3,542.9 603.3,542.9 604.8,544.9 605.3,545.5 606.6,546.9 607.3,547.7 608.6,548.9 609.3,549.6 610.7,550.9 611.3,551.5 612.8,552.9 613.3,553.4 614.8,554.9 615.3,555.3 616.9,556.9 617.3,557.3 618.8,558.9 619.3,559.4 620.7,560.9 621.3,561.5 622.6,562.9 623.3,563.6 624.5,564.9 625.3,565.8 626.4,566.9 627.3,567.9 628.2,568.9 629.3,570.1 630.1,570.9 631.3,572.2 631.9,572.9 633.3,574.4 633.8,574.9 635.3,576.5 635.6,576.9 637.3,578.7 637.5,578.9 639.3,580.9 639.3,580.9 641.1,582.9 641.3,583.1 642.9,584.9 643.3,585.4 644.6,586.9 645.3,587.7 646.3,588.9 647.3,590.2 647.9,590.9 649.3,592.8 649.4,592.9 650.8,594.9 651.3,595.6 652.2,596.9 653.3,598.7 653.4,598.9 654.6,600.9 655.3,602.3 655.6,602.9 656.6,604.9 657.3,606.7 657.4,606.9 658.1,608.9 658.7,610.9 659.2,612.9 659.3,613.3 659.6,614.9 659.9,616.9 660.1,618.9 660.2,620.9 660.2,622.9 660.0,624.9 659.8,626.9 659.5,628.9 659.3,629.7 659.0,630.9 658.5,632.9 657.8,634.9 657.3,636.4 657.1,636.9 656.3,638.9 655.4,640.9 655.3,641.1 654.4,642.9 653.4,644.9 653.3,645.2 652.4,646.9 651.5,648.9 651.3,649.4 650.7,650.9 650.1,652.9 649.8,654.9 649.8,656.9 650.0,658.9 650.4,660.9 650.9,662.9 651.3,664.7 651.3,664.9 651.8,666.9 652.1,668.9 652.4,670.9 652.6,672.9 652.7,674.9 652.7,676.9 652.7,678.9 652.5,680.9 652.3,682.9 652.0,684.9 651.6,686.9 651.3,688.2 651.2,688.9 650.7,690.9 650.1,692.9 649.5,694.9 649.3,695.3 648.8,696.9 648.1,698.9 647.3,700.8 647.3,700.9 646.4,702.9 645.6,704.9 645.3,705.4 644.6,706.9 643.7,708.9 643.3,709.7 642.8,710.9 641.8,712.9 641.3,714.0 640.9,714.9 640.0,716.9 639.3,718.5 639.1,718.9 638.3,720.9 637.6,722.9 637.3,723.7 636.9,724.9 636.2,726.9 635.6,728.9 635.3,730.0 635.0,730.9 634.4,732.9 633.9,734.9 633.3,736.9 633.3,737.0 632.8,738.9 632.3,740.9 631.7,742.9 631.3,744.6 631.2,744.9 630.7,746.9 630.2,748.9 629.6,750.9 629.3,752.1 629.1,752.9 628.4,754.9 627.7,756.9 627.3,757.9 626.9,758.9 626.0,760.9 625.3,762.3 625.0,762.9 623.8,764.9 623.3,765.6 622.4,766.9 621.3,768.3 620.7,768.9 619.3,770.3 618.6,770.9 617.3,771.9 615.7,772.9 615.3,773.1 613.3,774.0 611.3,774.5 609.3,774.6 607.3,774.4 605.3,773.8 603.6,772.9 603.3,772.7 601.3,771.2 601.0,770.9 599.3,769.4 598.8,768.9 597.3,767.5 596.8,766.9 595.3,765.4 594.8,764.9 593.3,763.5 592.6,762.9 591.3,761.6 590.7,760.9 589.3,759.0 589.2,758.9 588.0,756.9 587.3,755.5 587.0,754.9 585.9,752.9 585.3,751.9 584.8,750.9 583.6,748.9 583.3,748.5 582.1,746.9 581.3,745.8 580.7,744.9 579.7,742.9 579.3,742.1 578.8,740.9 577.7,738.9 577.3,738.4 575.8,736.9 575.3,736.5 573.3,734.9 573.2,734.9 572.4,732.9 572.2,730.9 571.7,728.9 571.3,727.9 571.0,726.9 570.7,724.9 570.1,722.9 569.3,721.6 568.9,720.9 567.3,719.2 566.9,718.9 565.4,716.9 565.3,716.6 565.1,714.9 565.1,712.9 564.7,710.9 563.5,708.9 563.3,708.6 561.3,706.9 561.3,706.9 559.3,705.6 558.0,704.9 557.3,704.1 556.6,702.9 555.6,700.9 555.3,700.3 554.4,698.9 553.3,697.3 553.0,696.9 551.8,694.9 551.3,694.1 550.6,692.9 549.3,690.9 549.3,690.9 547.8,688.9 547.3,688.3 545.9,686.9 545.3,686.3 543.3,685.0 543.2,684.9 541.3,683.5 540.7,682.9 539.3,681.4 538.9,680.9 537.3,679.3 536.7,678.9 535.3,678.2 533.3,677.6 531.3,677.2 529.6,676.9 529.3,676.8 527.3,676.5 525.3,676.3 523.3,676.4 521.3,676.5 519.3,676.8 518.4,676.9 517.3,677.1 515.3,677.6 513.3,678.4 512.3,678.9 511.3,679.3 509.3,680.4 508.2,680.9 507.3,681.4 505.3,682.3 503.7,682.9 503.3,683.0 501.3,683.7 499.3,684.1 497.3,684.4 495.3,684.4 493.3,684.4 491.3,684.4 489.7,684.9 489.3,685.3 488.5,686.9 487.9,688.9 487.3,690.9 487.3,691.0 485.7,692.9 485.3,693.3 484.9,692.9 483.4,690.9 483.3,690.8 483.1,688.9 482.4,686.9 481.3,684.9 481.3,684.9 481.2,682.9 481.3,682.4 481.9,680.9 482.5,678.9 482.9,676.9 483.0,674.9 482.9,672.9 482.7,670.9 482.7,668.9 482.6,666.9 482.5,664.9 482.4,662.9 482.4,660.9 482.5,658.9 482.6,656.9 482.8,654.9 483.1,652.9 483.3,651.9 483.5,650.9 484.0,648.9 484.4,646.9 485.0,644.9 485.3,644.0 485.7,642.9 486.4,640.9 487.2,638.9 487.3,638.7 488.1,636.9 488.9,634.9 489.3,633.9 489.7,632.9 490.5,630.9 491.2,628.9 491.3,628.6 491.8,626.9 492.3,624.9 492.8,622.9 493.3,621.1 493.3,620.9 493.9,618.9 494.4,616.9 495.0,614.9 495.3,614.0 495.7,612.9 496.5,610.9 497.3,609.4 497.6,608.9 498.7,606.9 499.3,606.0 500.1,604.9 501.3,603.6 502.0,602.9 503.3,601.5 503.9,600.9 505.3,599.4 505.8,598.9 507.3,597.6 508.0,596.9 509.3,595.6 510.2,594.9 511.3,594.0 513.2,592.9 513.3,592.9 515.3,591.8 516.7,590.9 517.3,590.5 519.3,589.1 519.6,588.9 521.3,587.5 522.1,586.9 523.3,585.7 524.2,584.9 525.3,583.8 526.2,582.9 527.3,581.7 528.1,580.9 529.3,579.7 530.2,578.9 531.3,577.9 532.5,576.9 533.3,576.1 534.6,574.9 535.3,574.1 536.4,572.9 537.3,571.9 538.2,570.9 539.3,569.8 540.3,568.9 541.3,567.9 542.4,566.9 543.3,566.0 544.3,564.9 545.3,563.9 546.2,562.9 547.3,561.8 548.1,560.9 549.3,558.9 549.3,558.9 549.9,556.9 550.1,554.9 550.1,552.9 550.3,550.9 550.5,548.9 550.5,546.9 550.4,544.9 550.2,542.9 550.1,540.9 549.8,538.9 549.6,536.9 549.3,534.9 549.3,534.7 549.0,532.9 548.7,530.9 548.4,528.9 548.1,526.9 547.8,524.9 547.6,522.9 547.3,521.0 547.3,520.9 546.9,518.9 546.5,516.9 545.9,514.9 545.3,513.2 545.2,512.9 544.2,510.9 543.3,509.4 542.9,508.9 541.3,507.0 541.2,506.9 539.3,505.1 539.0,504.9 537.3,503.6 536.1,502.9 535.3,502.5 533.3,501.6 531.3,501.0 531.0,500.9 529.3,500.6 527.3,500.3 525.3,500.3 523.3,500.3 521.3,500.4 519.3,500.5 517.3,500.5 515.3,500.5 513.3,500.5 511.3,500.4 509.3,500.3 507.3,500.1 505.3,499.9 503.3,499.6 501.3,499.3 499.3,499.0 498.9,498.9 497.3,498.6 495.3,498.3 493.3,497.9 491.3,497.6 489.3,497.3 487.3,497.0 486.8,496.9 485.3,496.7 483.3,496.4 481.3,496.2 479.3,495.9 477.3,495.8 475.3,495.7 473.3,495.7 471.3,495.9 469.3,496.2 467.3,496.7 466.9,496.9 465.3,497.8 464.0,498.9 463.3,499.6 462.3,500.9 461.3,502.5 461.1,502.9 460.4,504.9 460.0,506.9 459.9,508.9 460.3,510.9 460.9,512.9 461.3,513.7 462.1,514.9 463.3,516.3 464.0,516.9 465.3,518.3 465.8,518.9 466.4,520.9 466.4,522.9 466.1,524.9 465.7,526.9 465.3,528.0 465.0,528.9 464.1,530.9 463.3,532.2 463.0,532.9 461.6,534.9 461.3,535.2 459.7,536.9 459.3,537.2 457.3,538.9 457.2,538.9 455.3,540.4 454.6,540.9 453.3,541.9 451.9,542.9 451.3,543.3 449.3,544.9 449.3,544.9 447.3,546.4 446.6,546.9 445.3,547.7 443.3,548.6 442.3,548.9 441.3,549.1 439.3,549.8 437.3,550.7 437.0,550.9 435.3,552.2 434.4,552.9 433.3,554.2 432.5,554.9 431.3,555.9 430.0,556.9 429.3,557.3 427.3,558.6 426.9,558.9 425.3,560.1 424.5,560.9 423.3,562.1 422.5,562.9 421.3,564.0 420.4,564.9 419.3,565.9 418.2,566.9 417.3,567.8 416.1,568.9 415.3,569.7 414.1,570.9 413.3,571.7 412.2,572.9 411.3,574.0 410.5,574.9 409.3,576.2 408.7,576.9 407.3,578.4 406.9,578.9 405.3,580.7 405.1,580.9 403.6,582.9 403.3,583.3 402.1,584.9 401.3,586.2 400.8,586.9 399.6,588.9 399.3,589.5 398.6,590.9 397.6,592.9 397.3,593.5 396.6,594.9 395.8,596.9 395.3,598.3 395.1,598.9 394.7,600.9 394.4,602.9 394.1,604.9 393.9,606.9 393.6,608.9 393.3,610.7 393.3,610.9 392.8,612.9 392.4,614.9 391.9,616.9 391.4,618.9 391.3,619.3 390.9,620.9 390.5,622.9 390.2,624.9 389.9,626.9 389.6,628.9 389.3,629.8 388.9,630.9 388.0,632.9 387.3,634.2 386.9,634.9 385.9,636.9 385.3,638.2 384.9,638.9 384.1,640.9 383.3,642.7 383.2,642.9 382.2,644.9 381.3,646.4 381.0,646.9 379.7,648.9 379.3,649.5 378.2,650.9 377.3,651.8 376.1,652.9 375.3,653.6 373.6,654.9 373.3,655.1 371.3,656.6 370.8,656.9 369.3,658.0 368.0,658.9 367.3,659.4 365.3,660.8 365.1,660.9 363.3,662.1 362.0,662.9 361.3,663.5 359.5,664.9 359.3,665.1 357.4,666.9 357.3,667.0 355.7,668.9 355.3,669.5 354.3,670.9 353.3,672.6 353.1,672.9 352.5,674.9 352.3,676.9 352.3,678.9 351.9,680.9 351.3,682.8 351.2,682.9 350.4,684.9 349.9,686.9 349.8,688.9 350.5,690.9 351.3,691.9 352.0,692.9 353.3,694.3 353.8,694.9 355.3,696.6 355.5,696.9 357.1,698.9 357.3,699.1 358.7,700.9 359.3,701.5 360.7,702.9 361.3,703.4 363.3,704.8 363.4,704.9 365.3,706.2 366.4,706.9 367.3,707.6 369.3,708.8 369.6,708.9 371.3,709.5 373.3,710.1 375.3,710.7 375.9,710.9 377.3,711.3 379.3,711.9 381.3,712.3 383.3,712.5 385.3,712.6 387.3,712.6 389.3,712.5 391.3,712.3 393.3,711.9 395.3,711.5 397.3,711.0 397.9,710.9 399.3,710.6 401.3,710.2 403.3,709.8 405.3,709.4 407.2,708.9 407.3,708.9 409.3,707.9 411.3,707.2 412.2,706.9 413.3,706.5 415.3,705.7 417.3,705.0 417.5,704.9 419.3,704.2 421.3,703.5 422.8,702.9 423.3,702.7 425.3,701.7 427.1,700.9 427.3,700.8 429.3,700.0 431.3,699.6 433.3,699.5 435.3,699.6 437.3,699.8 439.3,699.8 441.3,699.6 443.3,699.6 445.3,700.3 446.8,700.9 447.3,701.1 449.3,701.8 451.3,702.3 453.3,702.6 454.4,702.9 455.3,703.2 457.3,704.5 457.9,704.9 459.3,705.7 461.3,706.3 463.3,706.7 465.2,706.9 465.3,706.9 467.3,707.5 469.3,708.2 471.3,708.5 473.3,708.2 475.3,707.4 476.5,706.9 477.3,706.5 479.3,705.5 480.6,704.9 481.3,702.9 481.3,702.8 481.6,702.9 481.6,704.9 481.4,706.9 481.4,708.9 481.8,710.9 482.4,712.9 483.3,714.7 483.4,714.9 483.8,716.9 483.5,718.9 483.3,720.5 483.2,720.9 483.3,721.0 484.2,722.9 485.3,724.0 486.1,724.9 486.7,726.9 487.2,728.9 487.3,729.1 487.7,730.9 488.0,732.9 488.4,734.9 488.8,736.9 489.0,738.9 489.1,740.9 489.3,741.7 489.5,742.9 490.0,744.9 490.1,746.9 490.1,748.9 490.3,750.9 490.5,752.9 490.5,754.9 490.7,756.9 490.9,758.9 491.0,760.9 490.9,762.9 490.8,764.9 490.6,766.9 490.4,768.9 490.2,770.9 490.1,772.9 490.0,774.9 489.7,776.9 489.3,778.8 489.3,778.9 488.8,780.9 488.4,782.9 487.9,784.9 487.6,786.9 487.3,788.6 487.2,788.9 486.5,790.9 485.4,792.9 485.3,793.0 484.0,794.9 483.3,795.9 482.5,796.9 481.3,798.6 481.0,798.9 479.3,800.4 478.4,800.9 477.3,801.4 475.3,802.1 473.3,802.7 472.8,802.9 471.3,803.4 469.3,804.1 467.4,804.9 467.3,804.9 465.3,805.9 463.3,806.8 463.0,806.9 461.3,807.8 459.3,808.8 459.0,808.9 457.3,810.0 455.8,810.9 455.3,811.3 453.3,812.9 453.3,812.9 451.4,814.9 451.3,815.1 450.2,816.9 449.6,818.9 449.5,820.9 449.8,822.9 450.4,824.9 451.1,826.9 451.3,827.4 451.9,828.9 452.7,830.9 453.3,832.3 453.6,832.9 454.5,834.9 455.3,836.7 455.4,836.9 456.4,838.9 457.3,840.7 457.4,840.9 458.6,842.9 459.3,843.9 460.0,844.9 461.3,846.6 461.6,846.9 463.3,848.7 463.5,848.9 465.3,850.4 465.9,850.9 467.3,851.9 469.0,852.9 469.3,853.1 471.3,854.1 473.0,854.9 473.3,855.0 475.3,855.8 477.3,856.4 479.3,856.9 479.4,856.9 481.3,857.3 483.3,857.6 485.3,857.8 487.3,857.9 489.3,857.9 491.3,857.8 493.3,857.6 495.3,857.4 497.3,857.0 497.6,856.9 499.3,856.5 501.3,856.0 503.3,855.4 504.6,854.9 505.3,854.7 507.3,853.9 509.3,853.0 509.6,852.9 511.3,852.1 513.3,851.2 513.8,850.9 515.3,850.2 517.3,849.1 517.7,848.9 519.3,848.1 521.3,846.9 521.4,846.9 523.3,845.9 525.0,844.9 525.3,844.7 527.3,843.7 528.7,842.9 529.3,842.6 531.3,841.6 532.6,840.9 533.3,840.6 535.3,839.6 536.8,838.9 537.3,838.7 539.3,837.8 541.3,837.0 541.5,836.9 543.3,836.2 545.3,835.5 546.7,834.9 547.3,834.7 549.3,833.9 551.3,833.2 552.0,832.9 553.3,832.4 555.3,831.7 557.2,830.9 557.3,830.9 559.3,830.1 561.3,829.3 562.2,828.9 563.3,828.4 565.3,827.6 567.0,826.9 567.3,826.8 569.3,825.9 571.3,825.1 571.8,824.9 573.3,824.3 575.3,823.6 577.3,822.9 577.5,822.9 579.3,822.5 581.3,822.2 583.3,822.2 585.3,822.4 586.9,822.9 587.3,823.0 589.3,824.0 590.6,824.9 591.3,825.4 593.0,826.9 593.3,827.2 594.9,828.9 595.3,829.4 596.5,830.9 597.3,831.9 598.0,832.9 599.3,834.8 599.4,834.9 600.6,836.9 601.3,838.0 601.9,838.9 603.0,840.9 603.3,841.4 604.2,842.9 605.3,844.9 605.3,845.0 606.3,846.9 607.3,848.7 607.4,848.9 608.4,850.9 609.3,852.7 609.4,852.9 610.4,854.9 611.3,856.7 611.4,856.9 612.4,858.9 613.3,860.8 613.3,860.9 614.3,862.9 615.2,864.9 615.3,865.1 616.1,866.9 617.0,868.9 617.3,869.5 617.9,870.9 618.8,872.9 619.3,874.1 619.7,874.9 620.5,876.9 621.3,878.8 621.3,878.9 622.2,880.9 622.9,882.9 623.3,884.0 623.7,884.9 624.4,886.9 625.1,888.9 625.3,889.8 625.7,890.9 626.3,892.9 626.9,894.9 627.3,896.9 627.3,897.1 627.9,898.9 629.3,900.4 631.3,899.2 631.6,898.9 633.3,898.0 635.1,896.9 635.3,896.8 637.3,895.7 638.5,894.9 639.3,894.5 641.3,893.3 641.8,892.9 643.3,892.0 645.1,890.9 645.3,890.8 647.3,889.5 648.1,888.9 649.3,888.1 651.0,886.9 651.3,886.7 653.3,885.3 653.8,884.9 655.3,883.9 656.6,882.9 657.3,882.4 659.3,880.9 659.3,880.9 661.3,879.4 661.9,878.9 663.3,877.9 664.5,876.9 665.3,876.3 667.1,874.9 667.3,874.8 669.3,873.2 669.7,872.9 671.3,871.6 672.2,870.9 673.3,870.0 674.6,868.9 675.3,868.3 676.9,866.9 677.3,866.6 679.2,864.9 679.3,864.8 681.3,863.0 681.4,862.9 683.3,861.2 683.7,860.9 685.3,859.5 685.9,858.9 687.3,857.7 688.1,856.9 689.3,855.8 690.3,854.9 691.3,853.9 692.4,852.9 693.3,852.0 694.4,850.9 695.3,850.0 696.3,848.9 697.3,847.9 698.2,846.9 699.3,845.8 700.2,844.9 701.3,843.7 702.1,842.9 703.3,841.7 704.1,840.9 705.3,839.6 706.0,838.9 707.3,837.4 707.8,836.9 709.3,835.2 709.6,834.9 711.3,832.9 711.3,832.9 713.0,830.9 713.3,830.5 714.6,828.9 715.3,828.1 716.3,826.9 717.3,825.7 718.0,824.9 719.3,823.3 719.6,822.9 721.3,820.9 721.3,820.8 722.9,818.9 723.3,818.3 724.4,816.9 725.3,815.7 725.9,814.9 727.3,813.0 727.4,812.9 728.8,810.9 729.3,810.2 730.2,808.9 731.3,807.4 731.6,806.9 733.0,804.9 733.3,804.5 734.4,802.9 735.3,801.5 735.7,800.9 737.1,798.9 737.3,798.6 738.4,796.9 739.3,795.6 739.8,794.9 741.1,792.9 741.3,792.5 742.4,790.9 743.3,789.3 743.6,788.9 744.7,786.9 745.3,785.9 745.9,784.9 747.0,782.9 747.3,782.3 748.1,780.9 749.3,778.9 749.3,778.9 750.4,776.9 751.3,775.4 751.6,774.9 752.8,772.9 753.3,772.0 753.9,770.9 755.0,768.9 755.3,768.4 756.1,766.9 757.1,764.9 757.3,764.4 758.1,762.9 759.0,760.9 759.3,760.4 760.0,758.9 761.0,756.9 761.3,756.2 761.9,754.9 762.9,752.9 763.3,752.0 763.8,750.9 764.7,748.9 765.3,747.6 765.6,746.9 766.5,744.9 767.3,743.1 767.4,742.9 768.2,740.9 769.1,738.9 769.3,738.3 769.9,736.9 770.6,734.9 771.3,733.1 771.4,732.9 772.1,730.9 772.8,728.9 773.3,727.6 773.5,726.9 774.3,724.9 775.0,722.9 775.3,722.0 775.7,720.9 776.3,718.9 777.0,716.9 777.3,716.0 777.7,714.9 778.3,712.9 778.9,710.9 779.3,709.5 779.5,708.9 780.1,706.9 780.6,704.9 781.2,702.9 781.3,702.4 781.7,700.9 782.2,698.9 782.8,696.9 783.3,694.9 783.3,694.8 783.8,692.9 784.3,690.9 784.7,688.9 785.2,686.9 785.3,686.4M534.4,288.9 535.3,289.1 537.3,289.7 539.3,290.3 541.3,290.9 541.5,290.9 543.3,291.2 545.3,291.4 547.3,291.7 549.3,292.1 551.3,292.5 552.6,292.9 553.3,293.1 555.3,293.7 557.3,294.5 558.3,294.9 559.3,295.4 561.3,296.3 562.6,296.9 563.3,297.2 565.3,298.0 567.3,298.7 568.1,298.9 569.3,299.3 571.3,299.9 573.3,300.5 574.5,300.9 575.3,301.2 577.3,301.9 579.3,302.7 579.7,302.9 581.3,303.6 583.3,304.5 584.5,304.9 585.3,305.1 586.5,304.9 587.3,304.7 589.3,303.1 589.4,302.9 590.3,300.9 590.8,298.9 591.0,296.9 591.1,294.9 591.1,292.9 591.0,290.9 590.9,288.9M785.3,379.6 784.2,378.9 783.3,378.3 781.3,377.2 780.8,376.9 779.3,376.1 777.3,375.1 776.9,374.9 775.3,374.2 773.3,373.3 772.1,372.9 771.3,372.6 769.3,371.9 767.3,371.3 765.7,370.9 765.3,370.8 763.3,370.3 761.3,369.9 759.3,369.6 757.3,369.4 755.3,369.2 753.3,369.0 751.3,368.9 749.3,368.9 747.3,368.9 745.3,369.0 743.3,369.2 741.3,369.4 739.3,369.7 737.3,370.0 735.3,370.4 733.3,370.8 732.9,370.9 731.3,371.3 729.3,371.8 727.3,372.4 725.9,372.9 725.3,373.1 723.3,373.8 721.3,374.6 720.5,374.9 719.3,375.4 717.3,376.3 715.9,376.9 715.3,377.2 713.3,378.1 711.7,378.9 711.3,379.1 709.3,380.0 707.4,380.9 707.3,380.9 705.3,381.7 703.3,382.3 701.3,382.6 699.3,382.3 697.3,381.3 696.7,380.9 695.3,379.7 694.4,378.9 693.3,377.8 692.4,376.9 691.3,375.6 690.6,374.9 689.3,373.4 688.9,372.9 687.3,371.1 687.1,370.9 685.4,368.9 685.3,368.8 683.6,366.9 683.3,366.6 681.6,364.9 681.3,364.6 679.4,362.9 679.3,362.8 677.3,361.0 677.1,360.9 675.3,359.4 674.7,358.9 673.3,357.7 672.3,356.9 671.3,356.1 669.7,354.9 669.3,354.5 667.3,353.0 667.2,352.9 665.3,351.5 664.5,350.9 663.3,350.0 661.8,348.9 661.3,348.5 659.3,347.1 659.0,346.9 657.3,345.6 656.2,344.9 655.3,344.2 653.5,342.9 653.3,342.7 651.3,341.3 650.8,340.9 649.3,339.8 648.0,338.9 647.3,338.4 645.3,337.0 645.2,336.9 643.3,335.6 642.3,334.9 641.3,334.2 639.3,332.9 639.2,332.9 637.3,331.7 636.1,330.9 635.3,330.4 633.3,329.2 632.7,328.9 631.3,328.1 629.3,326.9 629.2,326.9 627.3,325.8 625.8,324.9 625.3,324.6 623.3,323.3 622.6,322.9 621.3,322.1 619.3,320.9 619.3,320.9 617.3,319.7 615.8,318.9 615.3,318.6 613.3,317.5 611.9,316.9 611.3,316.6 609.3,315.7 607.3,314.9 607.2,314.9 605.3,314.3 603.3,313.9 601.3,313.7 599.3,313.7 597.3,314.0 595.3,314.9 595.2,314.9 593.3,315.9 592.0,316.9 591.3,317.3 589.3,318.6 588.9,318.9 587.3,319.7 585.3,320.5 583.5,320.9 583.3,320.9 581.3,321.1 579.3,321.1 577.3,321.2 575.3,321.3 573.3,321.3 571.3,321.1 569.3,321.1 567.3,321.3 565.3,321.7 563.3,322.4 562.5,322.9 561.3,323.5 559.3,324.8 559.1,324.9 557.3,326.0 555.8,326.9 555.3,327.2 553.3,328.2 552.0,328.9 551.3,329.3 549.3,330.4 548.7,330.9 547.3,331.9 546.3,332.9 545.3,334.0 544.5,334.9 543.3,336.4 542.9,336.9 541.3,338.9 541.3,338.9 539.6,340.9 539.3,341.2 537.8,342.9 537.3,343.5 536.1,344.9 535.3,345.9 534.5,346.9 533.3,348.4 532.8,348.9 531.3,350.7 531.1,350.9 529.3,352.5 528.8,352.9 527.3,354.0 526.1,354.9 525.3,355.5 523.3,356.9 523.3,356.9 521.3,358.4 520.6,358.9 519.3,359.9 518.0,360.9 517.3,361.5 515.5,362.9 515.3,363.0 513.3,364.2 511.4,364.9 511.3,365.0 509.3,365.4 507.3,365.5 505.3,365.3 504.1,364.9 503.3,364.5 501.9,362.9 501.3,361.3 501.2,360.9 500.9,358.9 500.7,356.9 500.5,354.9 500.0,352.9 499.5,350.9 499.3,350.3 499.0,348.9 498.6,346.9 498.3,344.9 498.2,342.9 498.1,340.9 498.0,338.9 498.0,336.9 497.9,334.9 497.8,332.9 497.7,330.9 497.6,328.9 497.5,326.9 497.4,324.9 497.4,322.9 497.3,320.9 497.3,320.5 497.2,318.9 496.8,316.9 496.1,314.9 495.3,313.0 495.2,312.9 494.3,310.9 493.3,309.1 493.2,308.9 492.3,306.9 491.4,304.9 491.3,304.7 490.5,302.9 489.7,300.9 489.3,300.1 488.8,298.9 488.2,296.9 487.8,294.9 487.4,292.9 487.3,292.2 487.1,290.9 486.8,288.9M756.2,454.9 757.3,454.5 759.0,454.9 759.0,456.9 757.3,457.9 755.3,457.8 754.6,456.9 755.3,455.5 756.2,454.9M135.3,541.3 135.4,540.9 135.8,538.9 136.3,536.9 136.8,534.9 137.3,532.9 137.3,532.9 137.8,530.9 138.3,528.9 138.9,526.9 139.3,525.4 139.4,524.9 140.0,522.9 140.5,520.9 141.1,518.9 141.3,518.0 141.6,516.9 142.2,514.9 142.8,512.9 143.3,511.3 143.4,510.9 144.1,508.9 144.8,506.9 145.3,505.6 145.5,504.9 146.3,502.9 147.0,500.9 147.3,500.2 147.8,498.9 148.5,496.9 149.2,494.9 149.3,494.6 149.9,492.9 150.7,490.9 151.3,489.3 151.5,488.9 152.3,486.9 153.2,484.9 153.3,484.6 154.1,482.9 155.0,480.9 155.3,480.2 155.9,478.9 156.8,476.9 157.3,475.7 157.6,474.9 158.5,472.9 159.3,471.2 159.4,470.9 160.4,468.9 161.3,467.0 161.4,466.9 162.4,464.9 163.3,463.1 163.4,462.9 164.5,460.9 165.3,459.4 165.6,458.9 166.6,456.9 167.3,455.6 167.7,454.9 168.8,452.9 169.3,451.9 169.9,450.9 171.0,448.9 171.3,448.3 172.1,446.9 173.3,444.9 173.3,444.9 174.5,442.9 175.3,441.6 175.7,440.9 177.0,438.9 177.3,438.4 178.2,436.9 179.3,435.2 179.5,434.9 180.7,432.9 181.3,432.0 182.0,430.9 183.3,429.0 183.3,428.9 184.7,426.9 185.3,426.0 186.1,424.9 187.3,423.1 187.5,422.9 188.9,420.9 189.3,420.3 190.4,418.9 191.3,417.6 191.8,416.9 193.3,414.9 193.3,414.9 194.8,412.9 195.3,412.2 196.3,410.9 197.3,409.6 197.8,408.9 199.3,407.0 199.4,406.9 201.0,404.9 201.3,404.5 202.7,402.9 203.3,402.1 204.3,400.9 205.3,399.7 206.0,398.9 207.3,397.4 207.7,396.9 209.3,395.1 209.5,394.9 211.2,392.9 211.3,392.8 213.0,390.9 213.3,390.6 214.8,388.9 215.3,388.4 216.7,386.9 217.3,386.2 218.6,384.9 219.3,384.1 220.5,382.9 221.3,382.0 222.4,380.9 223.3,380.0 224.4,378.9 225.3,378.0 226.4,376.9 227.3,376.0 228.5,374.9 229.3,374.1 230.6,372.9 231.3,372.2 232.7,370.9 233.3,370.3 234.8,368.9 235.3,368.4 237.0,366.9 237.3,366.6 239.2,364.9 239.3,364.8 241.3,363.1 241.5,362.9 243.3,361.4 243.9,360.9 245.3,359.7 246.2,358.9 247.3,358.0 248.6,356.9 249.3,356.3 251.0,354.9 251.3,354.7 253.3,353.1 253.5,352.9 255.3,351.5 256.1,350.9 257.3,350.0 258.7,348.9 259.3,348.4 261.3,346.9 261.4,346.9 263.3,345.5 264.1,344.9 265.3,344.0 266.8,342.9 267.3,342.6 269.3,341.2 269.7,340.9 271.3,339.8 272.5,338.9 273.3,338.4 275.3,337.0 275.5,336.9 277.3,335.7 278.5,334.9 279.3,334.4 281.3,333.1 281.5,332.9 283.3,331.8 284.7,330.9 285.3,330.6 287.3,329.3 288.0,328.9 289.3,328.2 291.3,327.0 291.4,326.9 293.3,325.8 294.8,324.9 295.3,324.6 297.3,323.4 298.1,322.9 299.3,322.2 301.3,321.1 301.6,320.9 303.3,320.0 305.3,318.9 305.4,318.9 307.3,317.9 309.3,317.0 309.4,316.9 311.3,316.0 313.3,315.1 313.7,314.9 315.3,314.1 317.3,313.1 317.6,312.9 319.3,312.0 321.3,311.1 321.6,310.9 323.3,310.1 325.3,309.2 326.0,308.9 327.3,308.3 329.3,307.5 330.9,306.9 331.3,306.8 333.3,306.0 335.3,305.2 336.1,304.9 337.3,304.4 339.3,303.6 340.9,302.9 341.3,302.7 343.3,301.9 345.3,301.2 346.1,300.9 347.3,300.5 349.3,299.8 351.3,299.1 352.1,298.9 353.3,298.5 355.3,297.9 357.3,297.2 358.1,296.9 359.3,296.3 361.3,295.4 362.4,294.9 363.3,294.5 365.3,293.6 367.1,292.9 367.3,292.8 369.3,292.1 371.3,291.5 373.3,291.2 375.3,290.9 375.7,290.9 377.3,290.8 379.3,290.8 381.3,290.4 383.3,289.8 385.1,288.9M291.3,580.5 290.1,580.9 289.3,581.2 287.3,581.8 285.3,582.5 284.2,582.9 283.3,583.3 281.3,584.0 279.3,584.5 277.9,584.9 277.3,585.1 275.3,586.1 273.3,586.9 273.3,586.9 271.3,587.5 269.3,587.9 267.5,588.9 267.3,589.0 265.4,590.9 265.3,591.0 263.3,592.9 263.3,592.9 261.3,594.6 261.0,594.9 259.3,596.5 258.8,596.9 257.3,598.3 256.5,598.9 255.3,599.9 254.1,600.9 253.3,601.6 251.7,602.9 251.3,603.3 249.4,604.9 249.3,605.0 247.3,606.8 247.1,606.9 245.3,608.6 245.0,608.9 243.3,610.6 243.0,610.9 241.3,612.7 241.1,612.9 239.3,614.7 239.1,614.9 237.3,616.5 236.9,616.9 235.3,618.4 234.8,618.9 233.3,620.7 233.1,620.9 231.8,622.9 231.3,624.0 230.9,624.9 230.3,626.9 229.9,628.9 229.9,630.9 230.1,632.9 230.6,634.9 231.1,636.9 231.3,638.1 231.4,638.9 231.6,640.9 231.8,642.9 232.2,644.9 233.0,646.9 233.3,647.3 234.3,648.9 235.3,650.1 236.0,650.9 237.3,652.3 237.9,652.9 239.3,654.4 239.8,654.9 241.3,656.9 241.3,656.9 242.7,658.9 243.3,659.7 244.3,660.9 245.3,662.0 246.4,662.9 247.3,663.5 249.3,664.5 250.6,664.9 251.3,665.2 253.3,665.8 255.3,666.4 256.6,666.9 257.3,667.2 259.3,668.0 261.3,668.7 261.8,668.9 263.3,669.5 265.3,670.3 267.0,670.9 267.3,671.0 269.3,671.7 271.3,672.2 273.3,672.7 274.0,672.9 275.3,673.2 277.3,673.7 279.3,674.2 281.3,674.7 282.3,674.9 283.3,675.2 285.3,675.8 287.3,676.5 288.9,676.9 289.3,677.0 291.3,677.2 292.3,676.9 293.3,676.6 295.3,675.4 296.0,674.9 297.3,673.9 298.7,672.9 299.3,672.6 301.3,671.6 302.7,670.9 303.3,670.5 305.3,668.9 305.3,668.9 306.4,666.9 307.1,664.9 307.3,664.0 307.6,662.9 308.1,660.9 308.8,658.9 309.3,657.7 309.6,656.9 310.3,654.9 310.8,652.9 311.1,650.9 311.2,648.9 311.3,646.9 311.3,646.9 311.4,644.9 311.4,642.9 311.4,640.9 311.5,638.9 311.7,636.9 311.9,634.9 312.0,632.9 312.1,630.9 312.3,628.9 312.4,626.9 312.5,624.9 312.6,622.9 312.7,620.9 312.8,618.9 313.0,616.9 313.1,614.9 313.2,612.9 313.3,610.9 313.3,610.7 313.4,608.9 313.6,606.9 313.8,604.9 313.8,602.9 313.7,600.9 313.4,598.9 313.3,598.3 312.9,596.9 312.2,594.9 311.4,592.9 311.3,592.7 310.9,590.9 310.8,588.9 310.7,586.9 310.3,584.9 309.3,583.2 309.1,582.9 307.3,582.0 305.3,581.5 303.3,581.2 301.8,580.9 301.3,580.8 299.3,580.3 297.3,579.8 295.3,579.5 293.3,579.7 291.3,580.5M785.3,589.3 784.5,588.9 783.3,588.3 781.8,586.9 781.3,586.3 780.5,584.9 779.9,582.9 779.6,580.9 779.8,578.9 780.3,576.9 781.1,574.9 781.3,574.7 782.4,572.9 783.3,571.9 784.2,570.9 785.3,570.0M607.3,638.9 607.3,638.9 605.3,639.4 603.3,640.0 601.3,640.9 601.3,640.9 599.3,642.2 598.3,642.9 597.3,643.8 596.3,644.9 595.3,646.2 594.9,646.9 593.9,648.9 593.3,650.0 592.9,650.9 592.0,652.9 591.3,654.3 591.0,654.9 590.2,656.9 589.5,658.9 589.3,659.5 588.9,660.9 588.4,662.9 587.8,664.9 587.4,666.9 587.3,668.7 587.3,668.9 587.3,668.9 587.7,670.9 588.7,672.9 589.3,673.7 590.8,674.9 591.3,675.1 593.3,675.6 595.3,675.9 597.3,676.0 599.3,676.1 601.3,676.1 603.3,676.1 605.3,676.0 607.3,675.8 609.3,675.4 611.3,675.0 611.8,674.9 613.3,674.5 615.3,673.8 617.3,673.0 617.5,672.9 619.3,672.0 621.3,670.9 621.3,670.9 623.3,669.5 624.3,668.9 625.3,668.0 626.8,666.9 627.3,666.4 628.9,664.9 629.3,664.4 630.7,662.9 631.3,662.0 632.3,660.9 633.3,658.9 633.3,658.9 634.1,656.9 634.2,654.9 633.8,652.9 633.3,652.0 632.8,650.9 631.3,649.0 631.2,648.9 629.3,647.0 629.3,646.9 627.3,645.2 627.0,644.9 625.3,643.7 624.3,642.9 623.3,642.3 621.3,641.1 620.9,640.9 619.3,640.2 617.3,639.5 615.3,639.0 614.8,638.9 613.3,638.7 611.3,638.6 609.3,638.6 607.3,638.9M253.3,750.4 252.3,750.9 251.3,751.5 249.4,752.9 249.3,753.0 247.4,754.9 247.3,755.1 245.9,756.9 245.3,757.9 244.7,758.9 243.9,760.9 243.4,762.9 243.3,764.3 243.2,764.9 243.3,765.9 243.4,766.9 243.7,768.9 244.4,770.9 245.3,772.8 245.4,772.9 246.5,774.9 247.3,776.1 247.8,776.9 249.2,778.9 249.3,779.1 250.1,780.9 251.0,782.9 251.3,783.8 251.7,784.9 252.4,786.9 253.1,788.9 253.3,789.4 253.9,790.9 254.8,792.9 255.3,793.7 256.2,794.9 257.3,796.1 258.2,796.9 259.3,797.7 261.3,798.8 261.7,798.9 263.3,799.4 265.3,799.8 267.3,799.7 269.3,799.4 271.3,799.0 271.9,798.9 273.3,798.7 275.3,798.6 277.3,798.4 279.3,797.9 281.2,796.9 281.3,796.8 283.3,795.0 283.4,794.9 285.3,793.2 285.6,792.9 287.3,791.6 288.3,790.9 289.3,790.1 290.5,788.9 291.3,787.8 291.8,786.9 292.4,784.9 292.9,782.9 293.3,781.6 293.5,780.9 294.4,778.9 295.2,776.9 295.3,776.4 295.6,774.9 295.4,772.9 295.3,772.8 294.5,770.9 293.5,768.9 293.3,768.5 292.6,766.9 291.8,764.9 291.3,763.6 291.0,762.9 289.6,760.9 289.3,760.6 287.3,759.1 287.0,758.9 285.3,758.0 283.3,756.9 283.3,756.9 281.3,755.7 280.2,754.9 279.3,754.3 277.3,752.9 277.3,752.9 275.3,751.9 273.3,751.1 272.1,750.9 271.3,750.8 269.3,750.6 267.3,750.4 265.3,750.2 263.3,749.9 261.3,749.6 259.3,749.3 257.3,749.3 255.3,749.7 253.3,750.4M359.3,788.7 358.8,788.9 357.3,789.4 355.3,790.0 353.3,790.4 351.3,790.8 350.9,790.9 349.3,791.3 347.3,792.1 345.9,792.9 345.3,793.4 343.6,794.9 343.3,795.2 341.6,796.9 341.3,797.2 339.3,798.8 339.2,798.9 337.3,800.5 336.9,800.9 335.3,802.9 335.3,802.9 334.3,804.9 333.8,806.9 333.5,808.9 333.6,810.9 333.9,812.9 334.4,814.9 335.1,816.9 335.3,817.5 335.8,818.9 336.7,820.9 337.3,822.2 337.6,822.9 338.4,824.9 339.1,826.9 339.3,827.5 339.8,828.9 340.7,830.9 341.3,831.9 342.1,832.9 343.3,834.0 344.5,834.9 345.3,835.4 347.3,836.6 347.9,836.9 349.3,837.9 350.7,838.9 351.3,839.4 353.3,840.8 353.4,840.9 355.3,842.0 357.3,842.8 357.8,842.9 359.3,843.3 361.3,843.7 363.3,844.2 365.3,844.8 365.6,844.9 367.3,845.6 369.3,846.2 371.3,846.5 373.3,846.1 375.3,845.2 375.8,844.9 377.3,844.1 379.3,842.9 379.3,842.9 381.3,842.0 383.3,841.0 383.5,840.9 385.3,839.8 386.5,838.9 387.3,838.4 389.1,836.9 389.3,836.8 391.3,835.2 391.7,834.9 393.3,834.0 395.0,832.9 395.3,832.7 397.3,830.9 397.3,830.9 398.7,828.9 399.3,827.7 399.7,826.9 400.4,824.9 400.9,822.9 401.3,822.0 401.9,820.9 402.9,818.9 403.3,817.7 403.7,816.9 404.0,814.9 403.8,812.9 403.3,811.5 403.1,810.9 402.5,808.9 402.2,806.9 402.5,804.9 402.3,802.9 401.3,801.3 401.0,800.9 399.3,799.9 397.5,798.9 397.3,798.8 395.3,797.5 394.6,796.9 393.3,795.9 391.7,794.9 391.3,794.7 389.3,793.8 387.8,792.9 387.3,792.6 385.3,790.9 385.3,790.9 383.3,790.1 381.3,789.9 379.3,789.8 377.3,789.6 375.3,789.4 373.3,789.1 371.3,788.9 371.2,788.9 369.3,788.7 367.3,788.3 365.3,788.0 363.3,787.9 361.3,788.2 359.3,788.7M387.7,938.9 387.3,938.8 385.3,938.3 383.3,937.9 381.3,937.4 379.3,936.9 379.3,936.9 377.3,936.4 375.3,935.9 373.3,935.4 371.5,934.9 371.3,934.8 369.3,934.3 367.3,933.7 365.3,933.1 364.6,932.9 363.3,932.5 361.3,931.9 359.3,931.2 358.3,930.9 357.3,930.6 355.3,929.9 353.3,929.3 352.2,928.9 351.3,928.6 349.3,927.9 347.3,927.2 346.4,926.9 345.3,926.5 343.3,925.7 341.3,925.0 341.1,924.9 339.3,924.2 337.3,923.4 336.2,922.9 335.3,922.6 333.3,921.7 331.3,920.9 331.2,920.9 329.3,920.1 327.3,919.2 326.5,918.9 325.3,918.4 323.3,917.5 322.0,916.9 321.3,916.6 319.3,915.6 317.8,914.9 317.3,914.7 315.3,913.7 313.7,912.9 313.3,912.7 311.3,911.7 309.7,910.9 309.3,910.7 307.3,909.7 305.8,908.9 305.3,908.7 303.3,907.6 302.0,906.9 301.3,906.5 299.3,905.4 298.4,904.9 297.3,904.3 295.3,903.2 294.9,902.9 293.3,902.0 291.4,900.9 291.3,900.8 289.3,899.7 288.0,898.9 287.3,898.5 285.3,897.3 284.7,896.9 283.3,896.0 281.5,894.9 281.3,894.7 279.3,893.4 278.5,892.9 277.3,892.1 275.5,890.9 275.3,890.8 273.3,889.4 272.5,888.9 271.3,888.1 269.6,886.9 269.3,886.7 267.3,885.3 266.7,884.9 265.3,883.9 263.9,882.9 263.3,882.4 261.3,881.0 261.2,880.9 259.3,879.4 258.6,878.9 257.3,877.9 256.0,876.9 255.3,876.3 253.5,874.9 253.3,874.7 251.3,873.2 251.0,872.9 249.3,871.5 248.5,870.9 247.3,869.9 246.1,868.9 245.3,868.2 243.7,866.9 243.3,866.5 241.4,864.9 241.3,864.8 239.3,863.0 239.2,862.9 237.3,861.2 237.0,860.9 235.3,859.4 234.8,858.9 233.3,857.5 232.7,856.9 231.3,855.6 230.5,854.9 229.3,853.7 228.5,852.9 227.3,851.8 226.4,850.9 225.3,849.8 224.4,848.9 223.3,847.8 222.4,846.9 221.3,845.8 220.5,844.9 219.3,843.7 218.6,842.9 217.3,841.5 216.7,840.9 215.3,839.4 214.9,838.9 213.3,837.2 213.0,836.9 211.3,835.0 211.2,834.9 209.5,832.9 209.3,832.7 207.7,830.9 207.3,830.4 206.0,828.9 205.3,828.1 204.3,826.9 203.3,825.7 202.7,824.9 201.3,823.2 201.0,822.9 199.4,820.9 199.3,820.7 197.9,818.9 197.3,818.2 196.3,816.9 195.3,815.6 194.8,814.9 193.3,812.9 193.3,812.9 191.8,810.9 191.3,810.2 190.4,808.9 189.3,807.4 188.9,806.9 187.5,804.9 187.3,804.6 186.2,802.9 185.3,801.7 184.8,800.9 183.4,798.9 183.3,798.7 182.1,796.9 181.3,795.7 180.8,794.9 179.5,792.9 179.3,792.6 178.2,790.9 177.3,789.4 177.0,788.9 175.8,786.9 175.3,786.1 174.6,784.9 173.4,782.9 173.3,782.7 172.2,780.9 171.3,779.3 171.1,778.9 170.0,776.9 169.3,775.8 168.8,774.9 167.7,772.9 167.3,772.1 166.6,770.9 165.6,768.9 165.3,768.4 164.5,766.9 163.5,764.9 163.3,764.5 162.5,762.9 161.5,760.9 161.3,760.5 160.5,758.9 159.6,756.9 159.3,756.3 158.6,754.9 157.7,752.9 157.3,752.0 156.8,750.9 155.9,748.9 155.3,747.6 155.0,746.9 154.2,744.9 153.3,742.9 153.3,742.9 152.5,740.9 151.7,738.9 151.3,738.0 150.9,736.9 150.1,734.9 149.3,732.9 149.3,732.9 148.5,730.9 147.8,728.9 147.3,727.6 147.1,726.9 146.3,724.9 145.6,722.9 145.3,721.9 145.0,720.9 144.3,718.9 143.6,716.9 143.3,715.9 143.0,714.9 142.4,712.9 141.7,710.9 141.3,709.4 141.1,708.9 140.6,706.9 140.0,704.9 139.4,702.9 139.3,702.5 138.9,700.9 138.3,698.9 137.8,696.9 137.3,695.0 137.3,694.9 136.8,692.9 136.3,690.9 135.8,688.9 135.4,686.9 135.3,686.5M631.2,938.9 631.1,936.9 630.9,934.9 630.7,932.9 630.5,930.9 630.3,928.9 630.1,926.9 629.9,924.9 629.7,922.9 629.6,920.9 629.4,918.9 629.3,918.3 629.1,916.9 628.9,914.9 628.7,912.9 628.4,910.9 628.2,908.9 628.0,906.9 627.8,904.9 627.5,902.9 627.3,902.1 626.8,902.9 625.3,903.5 623.3,904.8 623.2,904.9 621.3,906.0 619.7,906.9 619.3,907.1 617.3,908.1 615.7,908.9 615.3,909.1 613.3,910.0 611.3,910.9 611.3,910.9 609.3,911.8 607.3,912.7 606.9,912.9 605.3,913.7 603.3,914.7 603.0,914.9 601.3,915.7 599.3,916.7 598.9,916.9 597.3,917.6 595.3,918.5 594.4,918.9 593.3,919.4 591.3,920.2 589.5,920.9 589.3,921.0 587.3,921.8 585.3,922.6 584.5,922.9 583.3,923.4 581.3,924.2 579.6,924.9 579.3,925.0 577.3,925.8 575.3,926.5 574.3,926.9 573.3,927.3 571.3,928.0 569.3,928.6 568.5,928.9 567.3,929.3 565.3,929.9 563.3,930.6 562.3,930.9 561.3,931.2 559.3,931.9 557.3,932.5 556.1,932.9 555.3,933.1 553.3,933.7 551.3,934.3 549.3,934.9 549.2,934.9 547.3,935.4 545.3,935.9 543.3,936.4 541.3,936.9 541.3,936.9 539.3,937.4 537.3,937.9 535.3,938.4 533.3,938.8 533.1,938.9M785.3,318.1 783.3,317.8 781.3,317.6 779.3,317.4 777.3,317.2 775.3,317.1 773.3,317.0 772.1,316.9 771.3,316.9 769.3,316.8 767.3,316.7 765.3,316.7 763.3,316.6 761.3,316.6 759.3,316.6 757.3,316.6 755.3,316.7 753.3,316.7 751.3,316.8 749.3,316.8 747.3,316.8 745.3,316.9 743.3,316.9 741.3,316.9 739.3,316.8 737.3,316.7 735.3,316.6 733.3,316.4 731.3,316.1 729.3,315.7 727.3,315.2 726.5,314.9 725.3,314.5 723.3,313.6 722.1,312.9 721.3,312.5 719.3,311.1 719.0,310.9 717.3,309.4 716.7,308.9 715.3,307.5 714.8,306.9 713.3,305.1 713.1,304.9 711.6,302.9 711.3,302.5 710.3,300.9 709.3,299.4 709.0,298.9 707.8,296.9 707.3,295.9 706.7,294.9 705.7,292.9 705.3,292.1 704.7,290.9 703.8,288.9M457.1,392.9 457.3,392.9 459.3,392.8 461.3,392.7 463.3,392.6 465.3,392.8 466.5,392.9 467.3,393.0 469.3,393.2 471.3,393.3 473.3,393.3 475.3,393.3 477.3,393.4 479.3,393.7 481.3,394.3 482.7,394.9 483.3,395.2 485.3,396.3 486.4,396.9 487.3,397.4 489.3,398.4 490.5,398.9 491.3,399.3 493.3,400.2 494.4,400.9 495.3,401.5 496.7,402.9 497.3,403.6 498.2,404.9 499.3,406.7 499.4,406.9 500.7,408.9 501.3,409.7 502.2,410.9 503.3,412.4 503.6,412.9 504.9,414.9 505.3,415.5 506.1,416.9 507.1,418.9 507.3,419.3 508.0,420.9 508.7,422.9 509.3,424.7 509.4,424.9 510.3,426.9 511.2,428.9 511.3,429.2 512.0,430.9 512.9,432.9 513.3,434.0 513.7,434.9 514.5,436.9 515.3,438.7 515.4,438.9 516.2,440.9 517.0,442.9 517.3,443.7 517.8,444.9 518.5,446.9 519.3,448.8 519.4,448.9 520.2,450.9 521.2,452.9 521.3,453.1 522.2,454.9 523.3,456.9 523.3,456.9 524.3,458.9 525.3,460.7 525.4,460.9 526.4,462.9 527.3,464.6 527.4,464.9 528.4,466.9 529.3,468.7 529.4,468.9 530.2,470.9 530.7,472.9 531.1,474.9 531.3,476.0 531.5,476.9 531.9,478.9 532.0,480.9 531.3,482.9 531.3,482.9 529.3,484.9 529.3,484.9 527.3,486.5 526.8,486.9 525.3,488.0 524.0,488.9 523.3,489.3 521.3,490.2 519.5,490.9 519.3,491.0 517.3,491.5 515.3,491.9 513.3,492.3 511.3,492.5 509.3,492.5 507.3,492.5 505.3,492.5 503.3,492.3 501.3,492.1 499.3,491.8 497.3,491.6 495.3,491.4 493.3,491.2 491.3,491.0 489.5,490.9 489.3,490.9 487.3,490.8 485.3,490.7 483.3,490.7 481.3,490.6 479.3,490.6 477.3,490.7 475.3,490.9 475.1,490.9 473.3,491.2 471.3,491.5 469.3,491.8 467.3,492.4 465.8,492.9 465.3,493.1 463.3,494.4 462.7,494.9 461.3,496.3 460.7,496.9 459.3,498.6 459.1,498.9 457.9,500.9 457.3,502.2 457.0,502.9 456.2,504.9 455.6,506.9 455.3,508.9 455.3,509.2 455.2,510.9 455.1,512.9 455.0,514.9 455.1,516.9 455.2,518.9 455.3,520.8 455.3,520.9 455.4,522.9 455.7,524.9 456.1,526.9 456.3,528.9 456.5,530.9 456.6,532.9 456.1,534.9 455.3,535.8 454.0,536.9 453.3,537.4 451.3,538.8 451.2,538.9 449.3,540.3 448.6,540.9 447.3,542.0 446.2,542.9 445.3,543.6 443.5,544.9 443.3,545.0 441.3,546.1 439.7,546.9 439.3,547.1 437.3,547.9 435.5,548.9 435.3,549.0 433.3,550.4 432.6,550.9 431.3,552.0 430.2,552.9 429.3,553.6 427.5,554.9 427.3,555.1 425.3,556.5 424.7,556.9 423.3,558.0 422.3,558.9 421.3,559.9 420.3,560.9 419.3,561.9 418.4,562.9 417.3,564.1 416.5,564.9 415.3,566.0 414.4,566.9 413.3,568.0 412.4,568.9 411.3,570.1 410.5,570.9 409.3,572.3 408.8,572.9 407.3,574.6 407.0,574.9 405.3,576.7 405.1,576.9 403.3,578.9 403.3,578.9 401.8,580.9 401.3,581.5 400.3,582.9 399.3,584.3 398.9,584.9 397.6,586.9 397.3,587.6 396.7,588.9 395.8,590.9 395.3,592.0 394.9,592.9 393.9,594.9 393.3,596.1 392.9,596.9 392.4,598.9 392.0,600.9 391.7,602.9 391.4,604.9 391.3,605.4 391.1,606.9 390.8,608.9 390.4,610.9 390.0,612.9 389.6,614.9 389.3,616.4 389.2,616.9 388.8,618.9 388.5,620.9 388.2,622.9 387.9,624.9 387.6,626.9 387.3,627.9 387.0,628.9 386.2,630.9 385.3,632.7 385.2,632.9 384.2,634.9 383.3,636.6 383.1,636.9 382.0,638.9 381.3,640.2 380.9,640.9 379.7,642.9 379.3,643.5 378.3,644.9 377.3,646.3 376.8,646.9 375.3,648.5 374.9,648.9 373.3,650.3 372.5,650.9 371.3,651.9 369.9,652.9 369.3,653.3 367.3,654.7 367.0,654.9 365.3,655.9 363.3,656.9 363.3,656.9 361.3,657.8 359.3,658.5 357.5,658.9 357.3,659.0 355.3,659.3 353.3,659.4 351.3,659.3 349.3,659.1 348.3,658.9 347.3,658.7 345.3,658.3 343.3,657.8 341.3,657.3 340.1,656.9 339.3,656.7 337.3,656.4 335.3,656.3 333.3,656.1 331.3,655.9 329.3,655.6 327.3,655.2 326.3,654.9 325.3,654.6 323.3,653.4 322.8,652.9 321.3,650.9 321.3,650.8 320.6,648.9 320.1,646.9 319.6,644.9 319.4,642.9 319.4,640.9 319.7,638.9 320.1,636.9 320.6,634.9 321.0,632.9 321.3,631.6 321.4,630.9 321.6,628.9 321.7,626.9 321.7,624.9 321.8,622.9 321.8,620.9 321.8,618.9 321.9,616.9 322.0,614.9 322.2,612.9 322.3,610.9 322.6,608.9 322.9,606.9 323.3,604.9 323.3,604.6 323.6,602.9 323.8,600.9 324.0,598.9 324.3,596.9 324.6,594.9 324.9,592.9 325.3,590.9 325.3,590.8 325.6,588.9 326.1,586.9 326.6,584.9 327.1,582.9 327.3,581.9 327.5,580.9 327.8,578.9 328.2,576.9 328.8,574.9 329.3,573.1 329.4,572.9 329.9,570.9 330.6,568.9 331.3,567.2 331.4,566.9 332.2,564.9 332.9,562.9 333.3,561.9 333.6,560.9 334.2,558.9 335.0,556.9 335.3,556.2 335.7,554.9 336.5,552.9 337.3,551.5 337.5,550.9 338.6,548.9 339.3,547.7 339.7,546.9 340.7,544.9 341.3,543.9 341.7,542.9 342.7,540.9 343.3,539.9 343.7,538.9 344.6,536.9 345.3,535.5 345.6,534.9 346.7,532.9 347.3,532.0 348.1,530.9 349.3,529.4 349.7,528.9 351.3,527.1 351.4,526.9 353.2,524.9 353.3,524.8 354.9,522.9 355.3,522.5 356.5,520.9 357.3,519.9 358.0,518.9 359.3,517.1 359.4,516.9 360.7,514.9 361.3,514.0 362.0,512.9 363.3,511.0 363.4,510.9 364.8,508.9 365.3,508.1 366.0,506.9 367.1,504.9 367.3,504.5 368.2,502.9 369.3,501.1 369.4,500.9 370.6,498.9 371.3,497.9 371.9,496.9 373.1,494.9 373.3,494.6 374.3,492.9 375.3,491.3 375.6,490.9 376.8,488.9 377.3,488.1 378.0,486.9 379.0,484.9 379.3,484.4 380.0,482.9 381.1,480.9 381.3,480.6 382.2,478.9 383.3,476.9 383.3,476.9 384.2,474.9 385.2,472.9 385.3,472.7 386.3,470.9 387.3,469.2 387.5,468.9 388.5,466.9 389.3,465.2 389.5,464.9 390.3,462.9 391.2,460.9 391.3,460.6 392.1,458.9 393.2,456.9 393.3,456.7 394.2,454.9 395.0,452.9 395.3,452.1 395.7,450.9 396.5,448.9 397.3,447.1 397.4,446.9 398.4,444.9 399.3,443.3 399.5,442.9 400.5,440.9 401.3,439.1 401.4,438.9 402.3,436.9 403.3,434.9 403.3,434.9 404.4,432.9 405.3,431.4 405.6,430.9 406.8,428.9 407.3,428.2 408.3,426.9 409.3,425.8 410.2,424.9 411.3,423.8 412.1,422.9 413.3,421.3 413.6,420.9 415.0,418.9 415.3,418.4 416.5,416.9 417.3,416.0 418.3,414.9 419.3,413.9 420.3,412.9 421.3,411.9 422.7,410.9 423.3,410.4 425.3,409.1 425.6,408.9 427.3,407.4 427.8,406.9 429.3,405.5 430.1,404.9 431.3,404.0 433.1,402.9 433.3,402.8 435.3,401.6 437.0,400.9 437.3,400.8 439.3,400.0 441.3,399.1 441.7,398.9 443.3,398.1 445.3,397.2 446.0,396.9 447.3,396.3 449.3,395.2 450.0,394.9 451.3,394.3 453.3,393.6 455.3,393.1 457.1,392.9M612.4,426.9 613.3,426.7 615.3,426.4 617.3,426.2 619.3,426.3 621.3,426.7 622.1,426.9 623.3,427.3 625.3,428.3 626.2,428.9 627.3,429.8 628.2,430.9 629.3,432.3 629.7,432.9 631.1,434.9 631.3,435.1 632.8,436.9 633.3,437.4 634.4,438.9 635.3,440.3 635.6,440.9 636.5,442.9 637.3,444.8 637.3,444.9 638.5,446.9 639.3,447.8 640.3,448.9 641.3,450.1 641.8,450.9 642.4,452.9 642.7,454.9 643.3,456.3 643.7,456.9 645.2,458.9 645.3,459.0 646.8,460.9 647.3,461.7 648.3,462.9 649.3,464.2 649.9,464.9 651.2,466.9 651.3,467.1 652.4,468.9 653.3,470.7 653.5,470.9 654.5,472.9 655.3,474.7 655.4,474.9 656.4,476.9 657.3,478.5 657.6,478.9 658.6,480.9 659.3,482.8 659.3,482.9 659.4,484.9 659.3,485.6 659.1,486.9 658.7,488.9 658.5,490.9 658.3,492.9 658.2,494.9 657.8,496.9 657.3,498.4 657.1,498.9 656.0,500.9 655.3,502.2 654.8,502.9 653.4,504.9 653.3,505.1 651.8,506.9 651.3,507.4 649.8,508.9 649.3,509.4 647.6,510.9 647.3,511.1 645.3,512.8 645.2,512.9 643.3,514.5 642.9,514.9 641.3,516.1 640.1,516.9 639.3,517.4 637.3,518.5 636.6,518.9 635.3,519.5 633.3,520.5 632.6,520.9 631.3,521.4 629.3,521.8 627.3,521.9 625.3,521.8 623.3,521.8 621.3,521.8 619.3,521.8 617.3,521.8 615.3,521.7 613.3,521.4 611.3,521.3 609.3,521.2 607.3,521.3 605.3,521.5 603.3,521.8 601.3,522.2 599.3,522.9 599.3,522.9 597.3,523.9 595.8,524.9 595.3,525.3 593.8,526.9 593.3,527.5 592.3,528.9 591.4,530.9 591.3,531.1 590.5,532.9 589.5,534.9 589.3,535.3 588.3,536.9 587.4,538.9 587.3,539.1 586.9,540.9 586.9,542.9 587.2,544.9 587.3,545.4 587.5,546.9 587.6,548.9 587.7,550.9 587.8,552.9 588.5,554.9 589.3,556.0 590.0,556.9 591.3,558.1 592.2,558.9 593.3,559.8 594.7,560.9 595.3,561.4 596.9,562.9 597.3,563.3 599.0,564.9 599.3,565.2 600.9,566.9 601.3,567.4 602.5,568.9 603.3,570.2 603.8,570.9 604.9,572.9 605.3,573.6 606.0,574.9 607.3,576.9 607.3,577.0 608.5,578.9 609.3,580.2 609.7,580.9 610.7,582.9 611.3,584.2 611.6,584.9 612.4,586.9 613.1,588.9 613.3,589.3 614.0,590.9 614.9,592.9 615.3,594.0 615.6,594.9 616.2,596.9 616.5,598.9 616.6,600.9 616.7,602.9 617.0,604.9 617.3,606.9 617.3,606.9 617.5,608.9 617.3,610.2 617.2,610.9 616.4,612.9 615.3,614.8 615.3,614.9 613.9,616.9 613.3,617.7 612.4,618.9 611.3,620.2 610.8,620.9 609.3,622.4 608.8,622.9 607.3,624.3 606.8,624.9 605.3,626.3 604.8,626.9 603.3,628.3 602.8,628.9 601.3,630.4 600.9,630.9 599.3,632.4 598.9,632.9 597.3,634.4 596.9,634.9 595.3,636.5 594.9,636.9 593.3,638.5 592.9,638.9 591.3,640.4 590.9,640.9 589.7,642.9 589.3,643.6 588.7,644.9 587.8,646.9 587.3,648.0 586.8,648.9 585.7,650.9 585.3,651.7 584.7,652.9 583.9,654.9 583.4,656.9 583.3,657.3 583.0,658.9 582.7,660.9 582.2,662.9 581.6,664.9 581.3,666.4 581.2,666.9 581.1,668.9 581.3,669.5 581.7,670.9 582.4,672.9 583.2,674.9 583.3,675.2 584.0,676.9 584.8,678.9 585.3,679.7 586.7,680.9 587.3,681.3 589.3,681.9 591.3,682.3 593.3,682.6 594.4,682.9 595.3,683.1 597.3,683.8 599.3,684.5 600.4,684.9 601.3,685.2 603.3,686.0 605.3,686.6 606.2,686.9 607.3,687.3 609.3,688.0 611.3,688.6 612.3,688.9 613.3,689.3 615.3,689.9 617.3,690.6 618.3,690.9 619.3,691.3 621.3,691.9 623.3,692.6 624.1,692.9 625.3,693.5 627.3,694.7 627.6,694.9 629.3,696.8 629.4,696.9 630.1,698.9 630.3,700.9 630.1,702.9 629.7,704.9 629.3,706.9 629.3,706.9 628.7,708.9 628.1,710.9 627.6,712.9 627.3,713.8 626.9,714.9 626.3,716.9 625.7,718.9 625.3,720.3 625.1,720.9 624.5,722.9 623.9,724.9 623.3,726.9 623.3,727.0 622.7,728.9 622.1,730.9 621.6,732.9 621.3,733.8 621.0,734.9 620.3,736.9 619.8,738.9 619.3,740.5 619.2,740.9 618.5,742.9 618.0,744.9 617.4,746.9 617.3,747.4 616.9,748.9 616.2,750.9 615.4,752.9 615.3,753.0 614.2,754.9 613.3,756.0 612.4,756.9 611.3,757.7 609.3,758.3 607.3,757.7 606.0,756.9 605.3,756.4 603.8,754.9 603.3,754.4 602.1,752.9 601.3,751.8 600.7,750.9 599.4,748.9 599.3,748.7 598.2,746.9 597.3,745.5 596.9,744.9 595.6,742.9 595.3,742.4 594.3,740.9 593.3,739.5 592.8,738.9 591.3,737.0 591.2,736.9 589.5,734.9 589.3,734.6 587.8,732.9 587.3,732.4 585.9,730.9 585.3,730.4 583.7,728.9 583.3,728.6 581.3,726.9 581.3,726.9 579.3,725.4 578.6,724.9 577.3,724.0 576.2,722.9 575.3,722.1 574.4,720.9 573.3,719.7 572.6,718.9 571.3,717.5 570.8,716.9 569.3,714.9 569.3,714.9 568.9,712.9 568.5,710.9 567.6,708.9 567.3,708.4 566.2,706.9 565.3,706.0 563.9,704.9 563.3,704.4 561.3,702.9 561.3,702.9 559.7,700.9 559.3,700.2 558.7,698.9 557.5,696.9 557.3,696.7 556.1,694.9 555.3,693.9 554.6,692.9 553.3,691.1 553.2,690.9 552.1,688.9 551.3,687.7 550.8,686.9 549.3,685.1 549.1,684.9 547.3,683.3 546.7,682.9 545.3,681.7 544.5,680.9 543.3,679.3 543.0,678.9 541.3,676.9 541.3,676.9 539.3,675.1 539.0,674.9 537.3,673.7 536.1,672.9 535.3,672.4 533.3,671.0 533.1,670.9 531.3,669.8 529.5,668.9 529.3,668.8 527.3,668.5 525.3,668.4 523.3,668.5 521.3,668.6 519.3,668.7 517.3,668.7 515.3,668.7 513.3,668.9 513.3,668.9 511.3,669.5 509.3,670.5 508.6,670.9 507.3,671.8 505.7,672.9 505.3,673.2 503.3,674.4 502.1,674.9 501.3,675.2 499.3,675.7 497.3,676.0 495.3,676.0 493.3,675.8 491.3,675.1 491.0,674.9 489.7,672.9 489.3,671.5 489.2,670.9 489.0,668.9 488.8,666.9 488.7,664.9 488.6,662.9 488.5,660.9 488.5,658.9 488.7,656.9 488.8,654.9 489.0,652.9 489.2,650.9 489.3,650.4 489.6,648.9 490.1,646.9 490.6,644.9 491.1,642.9 491.3,642.0 491.6,640.9 492.3,638.9 493.0,636.9 493.3,636.0 493.7,634.9 494.4,632.9 494.9,630.9 495.3,629.2 495.4,628.9 495.9,626.9 496.4,624.9 496.9,622.9 497.3,621.2 497.4,620.9 497.8,618.9 498.3,616.9 498.9,614.9 499.3,613.9 499.7,612.9 500.7,610.9 501.3,609.9 501.9,608.9 503.3,606.9 503.3,606.8 504.8,604.9 505.3,604.4 506.6,602.9 507.3,602.1 508.5,600.9 509.3,600.1 510.6,598.9 511.3,598.4 513.3,597.2 513.8,596.9 515.3,596.2 517.3,595.2 517.9,594.9 519.3,594.1 521.3,592.9 521.3,592.9 523.3,591.6 524.3,590.9 525.3,590.1 527.0,588.9 527.3,588.6 529.3,587.3 530.0,586.9 531.3,586.0 533.3,584.9 533.3,584.9 535.3,583.5 536.3,582.9 537.3,582.2 539.3,581.0 539.6,580.9 541.3,579.9 543.2,578.9 543.3,578.8 545.3,577.4 546.1,576.9 547.3,576.1 549.3,575.0 549.6,574.9 551.3,574.0 553.3,573.1 553.8,572.9 555.3,572.2 557.3,571.3 558.3,570.9 559.3,570.2 560.8,568.9 561.3,567.9 561.8,566.9 562.4,564.9 563.1,562.9 563.3,562.4 564.0,560.9 565.0,558.9 565.3,558.0 565.6,556.9 565.3,554.9 565.3,554.9 564.3,552.9 563.3,551.4 563.0,550.9 561.6,548.9 561.3,548.5 560.4,546.9 559.3,545.0 559.3,544.9 558.4,542.9 557.5,540.9 557.3,539.9 557.1,538.9 557.0,536.9 556.8,534.9 556.6,532.9 556.4,530.9 556.2,528.9 556.0,526.9 555.7,524.9 555.7,522.9 555.8,520.9 556.0,518.9 556.2,516.9 556.5,514.9 556.9,512.9 557.3,510.9 557.3,510.5 557.4,508.9 557.3,506.9 557.3,506.9 556.5,504.9 555.3,503.0 555.3,502.9 553.7,500.9 553.3,500.4 552.0,498.9 551.3,498.1 550.3,496.9 549.3,495.6 548.8,494.9 547.5,492.9 547.3,492.4 546.5,490.9 545.9,488.9 545.8,486.9 546.4,484.9 547.3,483.5 547.6,482.9 549.0,480.9 549.3,480.5 550.4,478.9 551.3,477.9 552.2,476.9 553.3,476.0 554.7,474.9 555.3,474.4 557.3,473.0 557.5,472.9 559.3,471.8 560.6,470.9 561.3,470.4 562.7,468.9 563.3,468.0 563.8,466.9 565.2,464.9 565.3,464.8 567.2,462.9 567.3,462.8 569.2,460.9 569.3,460.7 570.5,458.9 571.3,457.9 572.1,456.9 573.3,455.6 573.9,454.9 575.3,453.0 575.4,452.9 576.9,450.9 577.3,450.4 578.6,448.9 579.3,448.1 580.2,446.9 581.3,445.3 581.6,444.9 583.2,442.9 583.3,442.7 585.2,440.9 585.3,440.8 587.3,439.0 587.5,438.9 589.3,437.4 590.1,436.9 591.3,435.9 592.6,434.9 593.3,434.3 594.9,432.9 595.3,432.5 597.3,430.9 597.3,430.9 599.3,429.7 601.3,429.0 601.6,428.9 603.3,428.5 605.3,428.2 607.3,428.0 609.3,427.6 611.3,427.1 612.4,426.9M202.7,470.9 203.3,470.6 205.3,470.3 206.8,470.9 207.3,471.2 209.2,472.9 209.3,473.0 210.7,474.9 211.3,475.7 212.0,476.9 213.2,478.9 213.3,479.0 214.3,480.9 215.3,482.8 215.4,482.9 216.4,484.9 217.3,486.3 217.7,486.9 219.3,488.7 219.5,488.9 221.3,490.2 222.3,490.9 223.3,491.5 225.3,492.8 225.4,492.9 227.3,494.6 227.7,494.9 229.3,496.2 230.2,496.9 231.3,497.5 233.3,498.1 235.3,498.1 237.3,497.8 239.3,497.4 241.3,496.9 241.5,496.9 243.3,496.6 245.3,496.5 247.3,496.3 249.3,496.0 251.3,495.6 253.3,494.9 253.4,494.9 255.3,494.1 257.3,493.0 257.5,492.9 259.3,491.9 261.0,490.9 261.3,490.8 263.3,489.6 264.6,488.9 265.3,488.5 267.3,487.6 269.1,486.9 269.3,486.8 271.3,486.4 273.3,486.1 275.3,485.9 277.3,485.7 279.3,485.6 281.3,485.4 283.3,485.1 284.5,484.9 285.3,484.8 287.3,484.5 289.3,484.3 291.3,484.1 293.3,484.2 295.3,484.5 297.3,484.8 298.0,484.9 299.3,485.1 301.3,485.4 303.3,485.6 305.3,485.9 307.3,486.1 309.3,486.3 311.3,486.6 313.3,486.8 313.8,486.9 315.3,487.1 317.3,487.5 319.3,488.1 321.1,488.9 321.3,489.0 323.3,490.5 323.7,490.9 325.2,492.9 325.3,493.1 326.2,494.9 327.1,496.9 327.3,497.5 327.7,498.9 328.3,500.9 328.8,502.9 329.1,504.9 328.9,506.9 328.6,508.9 328.3,510.9 327.9,512.9 327.7,514.9 327.8,516.9 327.9,518.9 328.1,520.9 328.4,522.9 328.6,524.9 328.8,526.9 329.0,528.9 329.1,530.9 329.1,532.9 329.0,534.9 328.8,536.9 328.6,538.9 328.5,540.9 328.4,542.9 328.4,544.9 328.2,546.9 327.6,548.9 327.3,549.4 326.4,550.9 325.3,552.2 324.8,552.9 323.3,554.7 323.1,554.9 321.8,556.9 321.3,557.6 320.3,558.9 319.3,559.9 318.1,560.9 317.3,561.4 315.3,562.7 315.0,562.9 313.3,564.0 311.8,564.9 311.3,565.2 309.3,566.7 309.0,566.9 307.3,568.1 306.2,568.9 305.3,569.4 303.3,570.6 302.8,570.9 301.3,571.6 299.3,572.3 297.9,572.9 297.3,573.1 295.3,573.7 293.3,574.2 291.4,574.9 291.3,574.9 289.3,575.8 287.3,576.7 286.8,576.9 285.3,577.3 283.3,578.1 281.5,578.9 281.3,579.0 279.3,579.6 277.3,580.2 275.7,580.9 275.3,581.0 273.3,582.1 271.9,582.9 271.3,583.2 269.3,583.7 267.3,584.0 265.3,584.7 265.0,584.9 263.3,585.9 261.9,586.9 261.3,587.3 259.3,588.5 258.3,588.9 257.3,589.4 255.3,590.2 253.5,590.9 253.3,591.0 251.3,591.8 249.3,592.6 248.6,592.9 247.3,593.4 245.3,594.3 243.9,594.9 243.3,595.2 241.3,596.0 239.3,596.7 238.6,596.9 237.3,597.3 235.3,597.8 233.3,598.3 231.3,598.8 231.0,598.9 229.3,599.4 227.3,600.0 225.3,600.5 223.8,600.9 223.3,601.0 221.3,601.5 219.3,602.1 217.3,602.7 216.6,602.9 215.3,603.4 213.3,604.5 212.7,604.9 211.3,605.7 209.4,606.9 209.3,606.9 207.3,607.9 205.3,608.6 203.3,608.5 201.3,608.0 199.3,607.2 198.5,606.9 197.3,606.5 195.3,605.9 193.3,605.4 191.9,604.9 191.3,604.7 189.3,603.5 188.5,602.9 187.3,601.9 186.3,600.9 185.3,599.8 184.6,598.9 183.3,597.2 183.1,596.9 181.7,594.9 181.3,594.3 180.4,592.9 179.3,590.9 179.3,590.9 178.4,588.9 177.6,586.9 177.3,586.2 176.9,584.9 176.3,582.9 175.8,580.9 175.3,578.9 175.3,578.9 174.9,576.9 174.3,574.9 173.8,572.9 173.3,570.9 173.3,570.9 172.8,568.9 172.5,566.9 172.2,564.9 171.9,562.9 171.7,560.9 171.5,558.9 171.3,557.1 171.3,556.9 171.0,554.9 170.8,552.9 170.5,550.9 170.3,548.9 170.0,546.9 169.8,544.9 169.6,542.9 169.4,540.9 169.3,539.7 169.2,538.9 169.0,536.9 168.8,534.9 168.6,532.9 168.4,530.9 168.2,528.9 168.0,526.9 168.0,524.9 167.9,522.9 168.0,520.9 168.1,518.9 168.4,516.9 168.8,514.9 169.3,513.1 169.4,512.9 170.0,510.9 170.7,508.9 171.2,506.9 171.3,506.7 171.8,504.9 172.5,502.9 173.3,501.1 173.4,500.9 174.5,498.9 175.3,497.6 175.7,496.9 177.0,494.9 177.3,494.4 178.2,492.9 179.2,490.9 179.3,490.7 180.3,488.9 181.3,487.2 181.5,486.9 183.1,484.9 183.3,484.7 185.3,483.2 185.7,482.9 187.3,481.9 189.1,480.9 189.3,480.8 191.3,479.5 192.3,478.9 193.3,478.2 195.2,476.9 195.3,476.8 197.3,475.3 197.8,474.9 199.3,473.5 200.0,472.9 201.3,471.8 202.7,470.9M214.9,672.9 215.3,672.7 217.3,672.3 219.3,672.5 220.5,672.9 221.3,673.1 223.3,673.9 225.3,674.7 225.7,674.9 227.3,675.6 229.1,676.9 229.3,677.1 230.9,678.9 231.3,679.5 232.1,680.9 233.0,682.9 233.3,683.5 234.3,684.9 235.3,686.7 235.5,686.9 236.7,688.9 237.3,690.3 237.7,690.9 238.6,692.9 239.0,694.9 238.5,696.9 237.3,697.7 235.3,698.1 233.3,697.9 231.3,697.3 230.3,696.9 229.3,696.5 227.3,695.6 226.2,694.9 225.3,694.5 223.3,693.4 222.5,692.9 221.3,692.2 219.9,690.9 219.3,690.2 218.4,688.9 217.4,686.9 217.3,686.8 216.1,684.9 215.3,683.3 215.1,682.9 214.3,680.9 213.9,678.9 213.6,676.9 213.7,674.9 214.9,672.9M315.9,692.9 317.3,692.6 319.3,692.3 321.3,692.1 323.3,692.0 325.3,692.1 327.3,692.4 329.3,692.8 329.7,692.9 331.3,693.2 333.3,693.6 335.3,693.7 337.3,693.8 339.3,694.0 341.3,694.5 342.3,694.9 343.3,695.3 345.3,696.5 345.7,696.9 347.3,698.0 348.4,698.9 349.3,699.6 350.8,700.9 351.3,701.3 352.8,702.9 353.3,703.4 354.7,704.9 355.3,705.5 356.8,706.9 357.3,707.2 359.3,708.0 361.2,708.9 361.3,709.0 363.3,710.5 363.7,710.9 365.3,712.6 365.7,712.9 367.3,713.6 369.3,713.7 371.3,714.0 373.3,714.6 374.0,714.9 375.3,715.5 377.3,716.5 378.2,716.9 379.3,717.3 381.3,717.4 383.3,717.3 385.3,717.1 387.3,717.1 389.3,717.2 391.3,717.1 392.9,716.9 393.3,716.8 395.3,716.2 397.3,715.5 399.3,715.1 400.1,714.9 401.3,714.6 403.3,714.0 405.3,713.5 407.3,713.0 407.7,712.9 409.3,712.2 411.3,711.0 411.6,710.9 413.3,710.3 415.3,709.5 417.0,708.9 417.3,708.8 419.3,708.1 421.3,707.4 423.0,706.9 423.3,706.8 425.3,706.0 427.3,705.3 428.4,704.9 429.3,704.6 431.3,704.1 433.3,703.9 435.3,703.9 437.3,704.1 439.3,704.2 441.3,704.2 443.3,704.4 444.5,704.9 445.3,705.2 447.3,706.2 449.0,706.9 449.3,707.0 451.3,707.5 453.3,708.3 454.4,708.9 455.3,709.3 457.3,710.3 459.0,710.9 459.3,711.0 461.3,711.6 463.3,712.5 464.1,712.9 465.3,713.4 467.3,714.5 468.0,714.9 469.3,715.5 471.3,716.1 473.1,716.9 473.3,717.0 475.3,718.4 475.7,718.9 477.1,720.9 477.3,721.1 479.1,722.9 479.3,723.1 481.2,724.9 481.3,725.0 482.9,726.9 483.3,727.8 483.8,728.9 484.3,730.9 484.7,732.9 485.2,734.9 485.3,735.6 485.5,736.9 485.8,738.9 485.9,740.9 486.3,742.9 486.9,744.9 487.2,746.9 487.2,748.9 487.2,750.9 487.2,752.9 487.2,754.9 487.3,756.9 487.3,757.0 487.4,758.9 487.4,760.9 487.3,761.4 487.1,762.9 486.5,764.9 485.9,766.9 485.3,768.8 485.3,768.9 484.8,770.9 484.4,772.9 483.7,774.9 483.3,775.9 482.9,776.9 481.6,778.9 481.3,779.3 480.0,780.9 479.3,781.8 478.5,782.9 477.3,784.6 477.1,784.9 475.6,786.9 475.3,787.2 473.5,788.9 473.3,789.1 471.3,790.6 470.8,790.9 469.3,791.8 467.3,792.9 467.3,792.9 465.3,794.4 464.5,794.9 463.3,795.8 461.6,796.9 461.3,797.1 459.3,798.3 458.2,798.9 457.3,799.3 455.3,800.3 454.0,800.9 453.3,801.2 451.3,802.3 450.1,802.9 449.3,803.3 447.3,804.3 445.7,804.9 445.3,805.1 443.3,805.8 441.3,806.4 439.6,806.9 439.3,807.0 437.3,807.8 435.3,808.7 434.7,808.9 433.3,809.5 431.3,810.0 429.3,810.1 427.3,809.5 426.2,808.9 425.3,808.5 423.3,807.1 423.1,806.9 421.3,805.9 419.5,804.9 419.3,804.8 417.3,803.9 415.4,802.9 415.3,802.9 413.3,801.8 411.7,800.9 411.3,800.7 409.3,799.6 408.0,798.9 407.3,798.6 405.3,797.8 403.3,797.3 401.3,796.9 401.2,796.9 399.3,796.2 397.7,794.9 397.3,794.4 395.8,792.9 395.3,792.5 393.3,791.4 392.1,790.9 391.3,790.6 389.3,789.7 387.9,788.9 387.3,788.4 385.5,786.9 385.3,786.7 383.3,785.6 381.3,785.2 379.4,784.9 379.3,784.9 377.3,784.1 375.3,783.6 373.3,783.2 371.4,782.9 371.3,782.9 369.3,782.2 367.3,781.6 365.3,781.1 363.7,780.9 363.3,780.8 361.3,780.6 359.3,780.4 357.3,780.2 355.3,780.1 353.3,780.0 351.3,779.8 349.3,779.6 347.3,779.4 345.3,779.5 343.3,779.7 341.3,780.1 339.3,780.6 338.2,780.9 337.3,781.2 335.3,781.7 333.3,782.2 331.3,782.3 329.3,782.1 327.3,781.7 325.3,781.0 325.0,780.9 323.3,780.1 321.5,778.9 321.3,778.8 319.3,777.1 319.1,776.9 317.3,775.1 317.1,774.9 315.4,772.9 315.3,772.8 313.7,770.9 313.3,770.4 312.2,768.9 311.3,767.7 310.7,766.9 309.3,765.0 309.2,764.9 307.8,762.9 307.3,762.2 306.3,760.9 305.3,759.7 304.6,758.9 303.3,757.5 302.7,756.9 301.3,755.5 300.6,754.9 299.3,753.7 298.5,752.9 297.3,751.6 296.7,750.9 295.3,749.4 294.8,748.9 293.3,747.5 292.6,746.9 291.3,745.9 289.9,744.9 289.3,744.5 287.3,743.3 286.6,742.9 285.3,742.2 283.3,741.1 282.9,740.9 281.3,740.0 279.3,738.9 279.3,738.9 277.3,737.7 275.9,736.9 275.3,736.5 273.3,735.0 273.2,734.9 271.3,733.3 270.9,732.9 269.3,731.4 268.7,730.9 267.3,729.6 266.4,728.9 265.3,727.9 264.1,726.9 263.3,726.1 262.1,724.9 261.3,723.9 260.4,722.9 259.3,721.5 258.7,720.9 257.3,719.2 257.0,718.9 255.3,717.0 255.2,716.9 253.5,714.9 253.3,714.5 252.2,712.9 251.3,711.1 251.2,710.9 250.4,708.9 249.8,706.9 249.5,704.9 249.5,702.9 250.2,700.9 251.3,699.9 252.6,698.9 253.3,698.6 255.3,697.8 257.3,697.2 258.2,696.9 259.3,696.7 261.3,696.3 263.3,695.9 265.3,695.7 267.3,695.5 269.3,695.4 271.3,695.4 273.3,695.3 275.3,695.3 277.3,695.2 279.3,695.2 281.3,695.1 283.3,695.1 285.3,695.0 287.2,694.9 287.3,694.9 289.3,694.7 291.3,694.5 293.3,694.3 295.3,694.0 297.3,693.8 299.3,693.6 301.3,693.4 303.3,693.4 305.3,693.5 307.3,693.6 309.3,693.7 311.3,693.6 313.3,693.3 315.3,693.0 315.9,692.9M454.6,400.9 455.3,400.6 457.3,400.0 459.3,399.6 461.3,399.5 463.3,399.6 465.3,399.8 467.3,400.1 469.3,400.5 471.3,400.9 471.3,400.9 473.3,401.3 475.3,401.9 477.3,402.5 478.3,402.9 479.3,403.3 481.3,404.3 482.4,404.9 483.3,405.4 485.3,406.7 485.6,406.9 487.3,408.2 488.2,408.9 489.3,409.9 490.3,410.9 491.3,411.9 492.1,412.9 493.3,414.3 493.7,414.9 495.2,416.9 495.3,417.0 496.6,418.9 497.3,420.0 497.9,420.9 499.0,422.9 499.3,423.4 500.1,424.9 501.1,426.9 501.3,427.4 502.0,428.9 502.9,430.9 503.3,431.8 503.8,432.9 504.6,434.9 505.3,436.9 505.3,436.9 506.0,438.9 506.6,440.9 507.1,442.9 507.3,443.7 507.6,444.9 507.9,446.9 508.2,448.9 508.3,450.9 508.3,452.9 508.2,454.9 508.1,456.9 508.1,458.9 508.5,460.9 509.1,462.9 509.3,463.6 509.8,464.9 510.5,466.9 511.2,468.9 511.3,469.6 511.6,470.9 511.8,472.9 511.5,474.9 511.3,475.3 510.6,476.9 509.3,478.4 508.9,478.9 507.3,480.0 505.9,480.9 505.3,481.2 503.3,482.0 501.3,482.6 500.0,482.9 499.3,483.0 497.3,483.4 495.3,483.7 493.3,484.0 491.3,484.3 489.3,484.6 487.3,484.8 486.6,484.9 485.3,485.0 483.3,485.3 481.3,485.5 479.3,485.8 477.3,486.2 475.3,486.7 474.4,486.9 473.3,487.2 471.3,487.7 469.3,488.3 467.3,488.9 467.3,488.9 465.3,489.7 463.3,490.9 463.2,490.9 461.3,492.4 460.8,492.9 459.3,494.4 458.9,494.9 457.3,496.8 457.2,496.9 455.9,498.9 455.3,500.0 454.8,500.9 453.9,502.9 453.3,504.6 453.2,504.9 452.6,506.9 452.2,508.9 451.8,510.9 451.4,512.9 451.3,513.3 451.0,514.9 450.7,516.9 450.4,518.9 450.1,520.9 450.0,522.9 449.9,524.9 449.9,526.9 449.9,528.9 449.8,530.9 449.3,532.8 449.3,532.9 448.1,534.9 447.3,535.8 446.3,536.9 445.3,537.9 444.3,538.9 443.3,539.8 442.1,540.9 441.3,541.5 439.4,542.9 439.3,543.0 437.3,544.1 435.9,544.9 435.3,545.2 433.3,546.4 432.5,546.9 431.3,547.7 429.6,548.9 429.3,549.1 427.3,550.5 426.8,550.9 425.3,552.0 424.1,552.9 423.3,553.5 421.6,554.9 421.3,555.1 419.3,556.9 419.3,556.9 417.4,558.9 417.3,559.0 415.5,560.9 415.3,561.2 413.7,562.9 413.3,563.3 411.8,564.9 411.3,565.4 410.0,566.9 409.3,567.7 408.3,568.9 407.3,570.1 406.7,570.9 405.3,572.6 405.0,572.9 403.3,574.9 403.3,574.9 401.7,576.9 401.3,577.3 400.1,578.9 399.3,580.0 398.6,580.9 397.3,582.8 397.2,582.9 396.0,584.9 395.3,586.3 395.0,586.9 394.2,588.9 393.3,590.9 393.3,590.9 392.4,592.9 391.4,594.9 391.3,595.1 390.5,596.9 389.9,598.9 389.4,600.9 389.3,601.4 389.0,602.9 388.6,604.9 388.2,606.9 387.8,608.9 387.4,610.9 387.3,611.7 387.1,612.9 386.7,614.9 386.4,616.9 386.1,618.9 385.8,620.9 385.6,622.9 385.3,624.7 385.3,624.9 384.7,626.9 384.0,628.9 383.3,630.5 383.1,630.9 382.1,632.9 381.3,634.4 381.0,634.9 379.8,636.9 379.3,637.7 378.5,638.9 377.3,640.7 377.2,640.9 375.6,642.9 375.3,643.3 373.8,644.9 373.3,645.4 371.7,646.9 371.3,647.2 369.3,648.8 369.1,648.9 367.3,650.1 366.0,650.9 365.3,651.3 363.3,652.2 361.3,652.9 361.3,652.9 359.3,653.4 357.3,653.6 355.3,653.6 353.3,653.4 351.3,653.0 350.7,652.9 349.3,652.6 347.3,652.0 345.3,651.3 344.1,650.9 343.3,650.6 341.3,649.8 339.3,649.0 338.9,648.9 337.3,648.2 335.3,647.2 334.6,646.9 333.3,646.1 331.7,644.9 331.3,644.6 329.8,642.9 329.3,642.1 328.6,640.9 327.9,638.9 327.5,636.9 327.3,634.9 327.3,634.8 327.2,632.9 327.1,630.9 326.9,628.9 326.9,626.9 326.8,624.9 326.8,622.9 326.8,620.9 326.9,618.9 327.1,616.9 327.3,615.8 327.4,614.9 327.7,612.9 328.1,610.9 328.6,608.9 329.0,606.9 329.3,605.7 329.5,604.9 330.0,602.9 330.4,600.9 330.7,598.9 331.1,596.9 331.3,595.4 331.4,594.9 331.6,592.9 331.9,590.9 332.2,588.9 332.6,586.9 333.1,584.9 333.3,584.4 333.8,582.9 334.5,580.9 335.3,579.2 335.4,578.9 336.5,576.9 337.3,575.4 337.6,574.9 338.8,572.9 339.3,572.1 340.0,570.9 341.2,568.9 341.3,568.6 342.2,566.9 343.0,564.9 343.3,564.3 343.8,562.9 344.6,560.9 345.3,559.1 345.4,558.9 346.1,556.9 346.9,554.9 347.3,554.0 347.7,552.9 348.6,550.9 349.3,549.3 349.5,548.9 350.4,546.9 351.3,545.0 351.3,544.9 352.3,542.9 353.3,540.9 353.3,540.9 354.4,538.9 355.3,537.2 355.5,536.9 356.7,534.9 357.3,533.9 357.9,532.9 359.3,530.9 359.3,530.9 360.7,528.9 361.3,528.0 362.1,526.9 363.3,525.1 363.4,524.9 364.7,522.9 365.3,521.9 366.0,520.9 367.1,518.9 367.3,518.6 368.3,516.9 369.3,515.1 369.4,514.9 370.5,512.9 371.3,511.4 371.6,510.9 372.6,508.9 373.3,507.5 373.6,506.9 374.6,504.9 375.3,503.5 375.6,502.9 376.6,500.9 377.3,499.6 377.6,498.9 378.6,496.9 379.3,495.7 379.7,494.9 380.7,492.9 381.3,491.9 381.8,490.9 382.8,488.9 383.3,487.9 383.8,486.9 384.8,484.9 385.3,483.8 385.7,482.9 386.7,480.9 387.3,479.7 387.7,478.9 388.7,476.9 389.3,475.8 389.8,474.9 390.9,472.9 391.3,472.3 392.2,470.9 393.3,469.2 393.5,468.9 394.9,466.9 395.3,466.3 396.3,464.9 397.3,463.7 398.0,462.9 399.3,461.3 399.6,460.9 401.0,458.9 401.3,458.1 401.7,456.9 402.2,454.9 402.8,452.9 403.3,451.3 403.4,450.9 404.1,448.9 404.9,446.9 405.3,445.9 405.7,444.9 406.6,442.9 407.3,441.5 407.6,440.9 408.7,438.9 409.3,437.8 409.8,436.9 411.1,434.9 411.3,434.6 412.5,432.9 413.3,431.9 414.1,430.9 415.3,429.5 415.8,428.9 417.3,427.2 417.6,426.9 419.3,425.0 419.4,424.9 421.3,422.9 421.3,422.9 423.3,421.0 423.4,420.9 425.3,419.2 425.6,418.9 427.3,417.5 428.0,416.9 429.3,415.9 430.6,414.9 431.3,414.4 433.3,412.9 433.3,412.9 435.3,411.4 436.1,410.9 437.3,410.1 439.2,408.9 439.3,408.8 441.3,407.6 442.6,406.9 443.3,406.5 445.3,405.4 446.3,404.9 447.3,404.4 449.3,403.3 450.2,402.9 451.3,402.3 453.3,401.4 454.6,400.9M603.2,442.9 603.3,442.8 605.3,442.3 607.3,442.1 609.3,442.1 611.3,442.3 613.3,442.5 615.3,442.7 617.3,442.5 619.3,442.4 621.3,442.4 623.3,442.6 624.2,442.9 625.3,443.3 627.3,444.5 627.8,444.9 629.3,446.0 630.3,446.9 631.3,447.6 633.1,448.9 633.3,449.0 635.3,450.3 636.2,450.9 637.3,451.6 638.8,452.9 639.3,454.4 639.4,454.9 639.6,456.9 640.2,458.9 641.1,460.9 641.3,461.3 642.0,462.9 642.7,464.9 643.3,466.9 643.3,466.9 643.8,468.9 643.9,470.9 643.7,472.9 643.3,474.1 643.1,474.9 642.2,476.9 641.3,478.9 641.3,478.9 640.7,480.9 640.3,482.9 639.7,484.9 639.3,486.1 639.0,486.9 638.1,488.9 637.3,490.2 636.9,490.9 635.3,492.8 635.3,492.9 633.3,494.7 633.1,494.9 631.3,496.4 630.8,496.9 629.3,498.5 629.0,498.9 627.3,500.9 627.3,500.9 625.4,502.9 625.3,503.0 623.3,504.8 623.1,504.9 621.3,506.3 620.3,506.9 619.3,507.5 617.3,508.3 615.3,508.8 614.8,508.9 613.3,509.3 611.3,510.2 609.9,510.9 609.3,511.2 607.3,512.2 605.7,512.9 605.3,513.0 603.3,513.6 601.3,513.9 599.3,513.9 597.3,513.8 595.3,513.6 593.3,513.4 591.3,513.4 589.3,513.4 587.3,513.5 585.3,513.4 583.3,513.0 583.1,512.9 581.3,512.2 579.4,510.9 579.3,510.8 577.3,509.0 577.1,508.9 575.3,507.5 574.3,506.9 573.3,506.4 571.3,505.1 571.0,504.9 569.3,503.3 569.0,502.9 568.1,500.9 567.5,498.9 567.3,498.1 567.0,496.9 566.5,494.9 565.9,492.9 565.3,491.3 565.1,490.9 564.5,488.9 564.1,486.9 564.1,484.9 564.5,482.9 565.2,480.9 565.3,480.6 566.0,478.9 566.8,476.9 567.3,475.5 567.5,474.9 568.1,472.9 568.6,470.9 569.1,468.9 569.3,468.5 570.2,466.9 571.3,465.8 572.3,464.9 573.3,464.0 574.4,462.9 575.3,461.8 576.1,460.9 577.3,459.3 577.6,458.9 579.3,457.3 579.7,456.9 581.3,455.3 581.7,454.9 583.3,453.0 583.4,452.9 585.2,450.9 585.3,450.8 587.3,449.6 588.8,448.9 589.3,448.7 591.3,447.9 593.3,447.3 594.4,446.9 595.3,446.5 597.3,445.6 598.8,444.9 599.3,444.7 601.3,443.7 603.2,442.9M276.4,496.9 277.3,496.5 279.3,495.8 281.3,495.5 283.3,495.6 285.3,495.8 287.3,496.1 289.3,496.3 291.3,496.4 293.3,496.5 295.3,496.7 296.4,496.9 297.3,497.1 299.3,497.9 301.2,498.9 301.3,499.0 303.3,500.1 305.0,500.9 305.3,501.0 307.3,501.9 309.3,502.8 309.5,502.9 311.3,504.5 311.6,504.9 312.6,506.9 313.2,508.9 313.3,509.2 313.8,510.9 314.7,512.9 315.3,514.1 315.6,514.9 316.3,516.9 316.6,518.9 316.5,520.9 316.3,522.9 316.1,524.9 315.8,526.9 315.6,528.9 315.5,530.9 315.3,532.9 315.3,533.0 315.2,534.9 315.1,536.9 315.0,538.9 314.9,540.9 314.6,542.9 314.1,544.9 313.3,546.6 313.1,546.9 311.3,548.8 311.2,548.9 309.3,550.5 308.8,550.9 307.3,552.3 306.8,552.9 305.3,554.4 304.8,554.9 303.3,556.4 302.6,556.9 301.3,557.8 299.4,558.9 299.3,558.9 297.3,559.9 295.3,560.7 294.9,560.9 293.3,561.7 291.3,562.8 291.1,562.9 289.3,563.8 287.3,564.8 287.0,564.9 285.3,565.6 283.3,566.5 282.2,566.9 281.3,567.2 279.3,567.7 277.3,568.3 275.7,568.9 275.3,569.1 273.3,569.9 271.3,570.5 269.6,570.9 269.3,571.0 267.3,571.4 265.3,571.7 263.3,571.8 261.3,571.9 259.3,572.2 257.3,572.4 255.3,572.4 253.3,572.0 251.3,571.3 250.5,570.9 249.3,570.3 247.3,569.3 246.3,568.9 245.3,568.5 243.3,567.7 241.3,566.9 241.3,566.9 239.3,566.0 237.3,565.0 237.1,564.9 235.3,563.9 233.4,562.9 233.3,562.9 231.3,561.9 229.4,560.9 229.3,560.8 227.3,559.9 225.3,559.0 224.9,558.9 223.3,558.2 221.3,557.3 220.7,556.9 219.3,556.0 218.1,554.9 217.3,554.0 216.6,552.9 215.6,550.9 215.3,549.9 215.0,548.9 214.7,546.9 214.6,544.9 214.8,542.9 215.3,540.9 215.3,540.8 216.0,538.9 217.1,536.9 217.3,536.6 218.7,534.9 219.3,534.3 221.0,532.9 221.3,532.7 223.3,531.3 223.8,530.9 225.3,529.8 226.3,528.9 227.3,528.2 229.0,526.9 229.3,526.7 231.3,525.7 233.1,524.9 233.3,524.8 235.3,524.0 237.3,523.2 238.1,522.9 239.3,522.5 241.3,521.7 243.2,520.9 243.3,520.9 245.3,520.0 247.3,519.0 247.5,518.9 249.3,518.0 251.2,516.9 251.3,516.8 253.3,515.6 254.3,514.9 255.3,514.3 257.1,512.9 257.3,512.8 259.3,511.1 259.5,510.9 261.3,509.4 261.8,508.9 263.3,507.6 264.1,506.9 265.3,505.9 266.4,504.9 267.3,504.1 268.7,502.9 269.3,502.4 270.8,500.9 271.3,500.5 273.2,498.9 273.3,498.8 275.3,497.5 276.4,496.9M558.8,580.9 559.3,580.8 561.3,580.5 563.3,580.4 565.3,580.3 567.3,580.2 569.3,580.3 571.3,580.5 573.0,580.9 573.3,581.0 575.3,581.7 577.3,582.7 577.7,582.9 579.3,584.1 580.4,584.9 581.3,585.7 582.7,586.9 583.3,587.4 585.3,588.9 585.3,588.9 587.3,590.2 588.4,590.9 589.3,591.4 591.3,592.6 591.6,592.9 593.3,594.1 594.3,594.9 595.3,595.8 596.2,596.9 597.3,598.5 597.5,598.9 598.1,600.9 598.2,602.9 598.1,604.9 598.0,606.9 598.0,608.9 597.9,610.9 597.9,612.9 597.8,614.9 597.7,616.9 597.4,618.9 597.3,619.4 597.1,620.9 596.6,622.9 596.1,624.9 595.5,626.9 595.3,627.3 594.8,628.9 593.9,630.9 593.3,631.9 592.8,632.9 591.3,634.9 591.3,634.9 589.5,636.9 589.3,637.1 587.6,638.9 587.3,639.2 585.9,640.9 585.3,641.8 584.5,642.9 583.3,644.9 583.3,644.9 582.1,646.9 581.3,648.4 581.0,648.9 580.1,650.9 579.3,652.9 579.3,652.9 578.7,654.9 578.3,656.9 577.9,658.9 577.7,660.9 577.5,662.9 577.3,664.9 577.3,666.9 577.5,668.9 577.9,670.9 578.7,672.9 579.3,674.4 579.5,674.9 580.4,676.9 581.2,678.9 581.3,679.2 582.0,680.9 583.1,682.9 583.3,683.2 585.1,684.9 585.3,685.1 587.3,686.3 588.5,686.9 589.3,687.4 591.3,688.5 592.1,688.9 593.3,689.7 595.0,690.9 595.3,691.2 597.3,692.9 597.3,692.9 599.3,694.8 599.4,694.9 601.1,696.9 601.3,697.2 602.5,698.9 603.3,700.4 603.6,700.9 604.2,702.9 604.2,704.9 603.6,706.9 603.3,707.5 602.3,708.9 601.3,709.8 599.8,710.9 599.3,711.2 597.3,711.9 595.3,712.3 593.3,712.4 591.3,712.2 589.3,712.0 587.3,711.7 585.3,711.2 584.3,710.9 583.3,710.5 581.3,709.5 580.5,708.9 579.3,708.1 577.7,706.9 577.3,706.7 575.3,705.6 574.2,704.9 573.3,704.4 571.3,703.1 571.1,702.9 569.3,701.7 568.1,700.9 567.3,700.3 565.4,698.9 565.3,698.8 563.5,696.9 563.3,696.7 561.8,694.9 561.3,694.3 560.1,692.9 559.3,691.9 558.5,690.9 557.3,689.3 557.0,688.9 555.8,686.9 555.3,686.1 554.5,684.9 553.3,683.1 553.1,682.9 551.5,680.9 551.3,680.6 549.7,678.9 549.3,678.4 548.0,676.9 547.3,676.0 546.4,674.9 545.3,673.7 544.6,672.9 543.3,671.7 542.4,670.9 541.3,670.1 539.7,668.9 539.3,668.6 537.3,667.4 536.5,666.9 535.3,666.2 533.3,665.3 532.4,664.9 531.3,664.5 529.3,664.0 527.3,663.6 525.3,663.4 523.3,663.3 521.3,663.2 519.3,663.1 517.4,662.9 517.3,662.9 515.3,662.6 513.3,662.3 511.3,662.0 509.3,661.6 507.3,661.2 505.9,660.9 505.3,660.7 503.3,659.7 502.2,658.9 501.3,657.8 500.8,656.9 499.9,654.9 499.3,653.2 499.2,652.9 498.7,650.9 498.5,648.9 498.4,646.9 498.5,644.9 498.7,642.9 499.0,640.9 499.3,638.9 499.3,638.8 499.6,636.9 499.9,634.9 500.2,632.9 500.5,630.9 500.7,628.9 501.0,626.9 501.3,625.3 501.4,624.9 501.7,622.9 502.1,620.9 502.5,618.9 503.1,616.9 503.3,616.3 503.8,614.9 504.8,612.9 505.3,611.9 505.9,610.9 507.1,608.9 507.3,608.7 508.6,606.9 509.3,606.1 510.4,604.9 511.3,604.0 512.5,602.9 513.3,602.3 515.3,601.0 515.6,600.9 517.3,600.1 519.3,599.1 519.7,598.9 521.3,598.1 523.3,597.1 523.7,596.9 525.3,596.0 527.2,594.9 527.3,594.8 529.3,593.7 530.6,592.9 531.3,592.5 533.3,591.4 534.1,590.9 535.3,590.2 537.3,589.1 537.6,588.9 539.3,588.0 541.3,586.9 541.3,586.9 543.3,585.9 545.3,585.0 545.7,584.9 547.3,584.2 549.3,583.5 550.9,582.9 551.3,582.8 553.3,582.1 555.3,581.6 557.3,581.2 558.8,580.9M312.6,702.9 313.3,702.8 315.3,702.6 317.3,702.3 319.3,702.0 321.3,701.7 323.3,701.5 325.3,701.5 327.3,701.7 329.3,702.0 331.3,702.4 333.3,702.7 334.4,702.9 335.3,703.0 337.3,703.1 339.3,703.3 341.3,703.5 343.3,704.0 345.3,704.6 346.0,704.9 347.3,705.4 349.3,706.4 350.1,706.9 351.3,707.5 353.3,708.8 353.4,708.9 355.3,710.1 357.3,710.9 357.3,710.9 359.3,711.7 361.0,712.9 361.3,713.2 363.1,714.9 363.3,715.0 365.3,716.1 367.3,716.5 369.3,716.6 370.2,716.9 371.3,717.4 373.3,718.5 374.0,718.9 375.3,719.7 377.3,720.7 377.9,720.9 379.3,721.3 381.3,721.6 383.3,721.4 385.3,721.2 387.3,721.0 389.3,721.2 391.3,721.2 393.3,721.2 395.3,720.9 395.3,720.9 397.3,720.1 399.3,719.4 401.2,718.9 401.3,718.9 403.3,718.0 405.3,717.2 406.1,716.9 407.3,716.5 409.3,716.0 411.3,715.2 411.9,714.9 413.3,714.0 415.3,713.1 415.7,712.9 417.3,712.2 419.3,711.4 420.8,710.9 421.3,710.7 423.3,710.1 425.3,709.4 426.7,708.9 427.3,708.7 429.3,708.0 431.3,707.5 433.3,707.1 435.3,706.9 435.3,706.9 437.3,706.8 439.3,706.7 441.3,706.9 441.3,706.9 443.3,707.5 445.3,708.4 446.3,708.9 447.3,709.3 449.3,710.1 451.3,710.8 451.4,710.9 453.3,711.6 455.3,712.5 456.2,712.9 457.3,713.4 459.3,714.2 460.9,714.9 461.3,715.1 463.3,716.0 465.2,716.9 465.3,717.0 467.3,717.9 469.3,718.7 469.6,718.9 471.3,719.8 472.8,720.9 473.3,721.4 474.6,722.9 475.3,723.7 476.3,724.9 477.3,726.1 478.0,726.9 479.3,728.9 479.3,728.9 480.2,730.9 480.9,732.9 481.3,734.7 481.4,734.9 481.7,736.9 481.9,738.9 481.9,740.9 481.8,742.9 482.0,744.9 482.7,746.9 483.3,748.9 483.3,748.9 483.7,750.9 483.8,752.9 483.9,754.9 483.8,756.9 483.6,758.9 483.3,760.3 483.2,760.9 482.5,762.9 481.7,764.9 481.3,766.3 481.2,766.9 480.8,768.9 480.4,770.9 479.7,772.9 479.3,773.8 478.8,774.9 477.6,776.9 477.3,777.4 476.2,778.9 475.3,780.1 474.7,780.9 473.3,782.6 473.1,782.9 471.3,784.8 471.2,784.9 469.3,786.6 468.8,786.9 467.3,788.0 465.8,788.9 465.3,789.2 463.3,790.3 462.3,790.9 461.3,791.5 459.3,792.6 458.9,792.9 457.3,793.8 455.3,794.9 455.3,794.9 453.3,796.0 451.3,796.9 451.3,796.9 449.3,797.9 447.3,798.7 446.8,798.9 445.3,799.5 443.3,800.1 441.3,800.7 440.6,800.9 439.3,801.3 437.3,801.8 435.3,802.2 433.3,802.6 431.3,802.8 429.3,802.6 427.3,802.1 425.3,801.3 424.5,800.9 423.3,800.4 421.3,799.5 420.1,798.9 419.3,798.6 417.3,797.7 415.5,796.9 415.3,796.8 413.3,796.0 411.3,795.2 410.3,794.9 409.3,794.6 407.3,794.0 405.3,793.7 403.3,793.5 401.3,793.0 401.1,792.9 399.3,791.4 398.9,790.9 397.3,789.5 396.5,788.9 395.3,788.1 393.3,786.9 393.3,786.9 391.3,785.5 390.6,784.9 389.3,783.4 388.9,782.9 387.7,780.9 387.3,780.1 386.7,778.9 385.9,776.9 385.3,775.8 384.5,774.9 383.3,774.1 381.3,773.2 379.9,772.9 379.3,772.8 377.3,772.6 375.3,772.4 373.3,772.4 371.3,772.2 369.3,772.0 367.3,771.8 365.3,771.6 363.3,771.5 361.3,771.3 359.3,771.1 357.8,770.9 357.3,770.8 355.3,770.5 353.3,770.2 351.3,769.8 349.3,769.5 347.3,769.2 345.3,768.9 345.3,768.9 343.3,768.6 341.3,768.1 339.3,767.4 338.1,766.9 337.3,766.6 335.3,765.7 333.3,764.9 333.3,764.9 331.3,764.2 329.3,763.4 328.3,762.9 327.3,762.4 325.3,760.9 325.2,760.9 323.3,759.4 322.7,758.9 321.3,757.8 320.1,756.9 319.3,756.4 317.4,754.9 317.3,754.8 315.3,753.0 315.2,752.9 313.3,751.1 313.1,750.9 311.3,749.0 311.2,748.9 309.3,746.9 309.3,746.9 307.3,744.9 307.3,744.9 305.3,743.0 305.1,742.9 303.3,741.5 302.5,740.9 301.3,740.0 299.8,738.9 299.3,738.5 297.3,737.0 297.1,736.9 295.3,735.5 294.4,734.9 293.3,734.0 291.8,732.9 291.3,732.5 289.3,730.9 289.3,730.9 287.3,729.1 287.0,728.9 285.3,727.2 285.0,726.9 283.4,724.9 283.3,724.7 282.1,722.9 281.3,721.2 281.1,720.9 280.5,718.9 280.3,716.9 280.7,714.9 281.3,713.8 281.8,712.9 283.3,711.4 283.8,710.9 285.3,709.9 287.3,709.0 287.5,708.9 289.3,708.3 291.3,707.7 293.3,707.1 293.8,706.9 295.3,706.4 297.3,705.6 299.3,704.9 299.4,704.9 301.3,704.3 303.3,703.9 305.3,703.6 307.3,703.4 309.3,703.2 311.3,703.0 312.6,702.9M455.7,406.9 457.3,406.4 459.3,406.0 461.3,405.8 463.3,405.9 465.3,406.1 467.3,406.5 468.9,406.9 469.3,407.0 471.3,407.6 473.3,408.4 474.5,408.9 475.3,409.2 477.3,410.3 478.4,410.9 479.3,411.5 481.3,412.9 481.4,412.9 483.3,414.5 483.8,414.9 485.3,416.3 485.9,416.9 487.3,418.4 487.7,418.9 489.3,420.9 489.3,420.9 490.8,422.9 491.3,423.7 492.1,424.9 493.3,426.9 493.3,426.9 494.4,428.9 495.3,430.7 495.4,430.9 496.3,432.9 497.2,434.9 497.3,435.3 497.9,436.9 498.6,438.9 499.2,440.9 499.3,441.3 499.7,442.9 500.1,444.9 500.5,446.9 500.7,448.9 500.8,450.9 500.9,452.9 501.0,454.9 501.0,456.9 501.0,458.9 500.8,460.9 500.5,462.9 500.2,464.9 499.7,466.9 499.3,468.1 499.0,468.9 498.0,470.9 497.3,471.9 496.5,472.9 495.3,474.1 494.4,474.9 493.3,475.6 491.3,476.9 491.2,476.9 489.3,477.8 487.3,478.6 486.7,478.9 485.3,479.4 483.3,480.0 481.3,480.7 480.6,480.9 479.3,481.3 477.3,482.0 475.3,482.7 474.7,482.9 473.3,483.4 471.3,484.1 469.3,484.9 469.2,484.9 467.3,485.6 465.3,486.5 464.6,486.9 463.3,487.6 461.6,488.9 461.3,489.1 459.3,490.9 459.3,490.9 457.5,492.9 457.3,493.1 455.9,494.9 455.3,495.6 454.4,496.9 453.3,498.7 453.1,498.9 452.1,500.9 451.3,502.6 451.2,502.9 450.4,504.9 449.8,506.9 449.3,508.8 449.3,508.9 448.7,510.9 448.0,512.9 447.4,514.9 447.3,515.1 446.7,516.9 446.0,518.9 445.5,520.9 445.3,521.5 444.9,522.9 444.4,524.9 443.9,526.9 443.3,528.8 443.3,528.9 442.5,530.9 441.4,532.9 441.3,533.1 440.0,534.9 439.3,535.7 438.2,536.9 437.3,537.7 436.0,538.9 435.3,539.4 433.3,540.8 433.2,540.9 431.3,542.1 430.0,542.9 429.3,543.3 427.3,544.6 426.8,544.9 425.3,545.9 423.8,546.9 423.3,547.3 421.3,548.8 421.1,548.9 419.3,550.4 418.7,550.9 417.3,552.2 416.6,552.9 415.3,554.2 414.6,554.9 413.3,556.2 412.6,556.9 411.3,558.3 410.7,558.9 409.3,560.6 409.0,560.9 407.6,562.9 407.3,563.4 406.4,564.9 405.3,566.6 405.1,566.9 403.9,568.9 403.3,569.8 402.6,570.9 401.3,572.8 401.3,572.9 399.8,574.9 399.3,575.6 398.4,576.9 397.3,578.5 397.0,578.9 395.7,580.9 395.3,581.4 394.4,582.9 393.4,584.9 393.3,585.2 392.6,586.9 391.8,588.9 391.3,590.0 390.9,590.9 390.0,592.9 389.3,594.4 389.1,594.9 388.2,596.9 387.4,598.9 387.3,599.3 386.8,600.9 386.2,602.9 385.7,604.9 385.3,606.4 385.2,606.9 384.7,608.9 384.2,610.9 383.8,612.9 383.5,614.9 383.3,616.3 383.2,616.9 382.9,618.9 382.7,620.9 382.3,622.9 381.9,624.9 381.3,626.9 381.3,626.9 380.5,628.9 379.5,630.9 379.3,631.3 378.4,632.9 377.3,634.7 377.2,634.9 375.8,636.9 375.3,637.6 374.3,638.9 373.3,640.2 372.7,640.9 371.3,642.4 370.7,642.9 369.3,644.2 368.3,644.9 367.3,645.6 365.3,646.9 365.2,646.9 363.3,647.8 361.3,648.5 359.3,648.9 358.7,648.9 357.3,649.0 355.3,648.9 355.2,648.9 353.3,648.6 351.3,648.1 349.3,647.5 347.8,646.9 347.3,646.7 345.3,645.8 343.6,644.9 343.3,644.8 341.3,643.6 340.2,642.9 339.3,642.3 337.6,640.9 337.3,640.6 335.7,638.9 335.3,638.4 334.3,636.9 333.3,634.9 333.3,634.8 332.6,632.9 332.1,630.9 331.7,628.9 331.3,626.9 331.3,626.6 331.1,624.9 331.0,622.9 331.1,620.9 331.3,618.9 331.3,618.8 331.6,616.9 332.0,614.9 332.5,612.9 333.1,610.9 333.3,610.2 333.7,608.9 334.4,606.9 335.1,604.9 335.3,604.1 335.7,602.9 336.3,600.9 336.8,598.9 337.1,596.9 337.3,595.4 337.4,594.9 337.5,592.9 337.6,590.9 337.8,588.9 338.2,586.9 338.9,584.9 339.3,584.1 340.0,582.9 341.3,580.9 341.3,580.9 342.7,578.9 343.3,578.1 344.2,576.9 345.3,575.3 345.5,574.9 346.8,572.9 347.3,572.0 347.9,570.9 348.7,568.9 349.3,567.4 349.5,566.9 350.2,564.9 350.9,562.9 351.3,561.7 351.6,560.9 352.4,558.9 353.2,556.9 353.3,556.6 354.0,554.9 354.9,552.9 355.3,552.0 355.8,550.9 356.8,548.9 357.3,548.0 357.9,546.9 359.0,544.9 359.3,544.4 360.2,542.9 361.3,541.1 361.4,540.9 362.7,538.9 363.3,538.1 364.1,536.9 365.3,535.2 365.5,534.9 366.9,532.9 367.3,532.4 368.4,530.9 369.3,529.7 369.9,528.9 371.3,527.0 371.4,526.9 372.8,524.9 373.3,524.2 374.2,522.9 375.3,521.1 375.4,520.9 376.4,518.9 377.2,516.9 377.3,516.7 377.8,514.9 378.4,512.9 378.9,510.9 379.3,509.7 379.5,508.9 380.1,506.9 380.8,504.9 381.3,503.4 381.5,502.9 382.2,500.9 383.0,498.9 383.3,498.2 383.9,496.9 384.8,494.9 385.3,493.7 385.7,492.9 386.6,490.9 387.3,489.4 387.5,488.9 388.4,486.9 389.3,484.9 389.3,484.9 390.2,482.9 391.1,480.9 391.3,480.5 392.1,478.9 393.1,476.9 393.3,476.6 394.3,474.9 395.3,473.5 395.7,472.9 397.2,470.9 397.3,470.8 398.8,468.9 399.3,468.3 400.5,466.9 401.3,465.9 402.1,464.9 403.3,463.2 403.5,462.9 404.6,460.9 405.3,459.5 405.6,458.9 406.4,456.9 407.2,454.9 407.3,454.6 407.9,452.9 408.6,450.9 409.3,449.1 409.4,448.9 410.2,446.9 411.1,444.9 411.3,444.5 412.1,442.9 413.2,440.9 413.3,440.7 414.4,438.9 415.3,437.5 415.7,436.9 417.2,434.9 417.3,434.8 418.8,432.9 419.3,432.4 420.6,430.9 421.3,430.2 422.5,428.9 423.3,428.1 424.5,426.9 425.3,426.2 426.7,424.9 427.3,424.4 429.1,422.9 429.3,422.7 431.3,421.1 431.6,420.9 433.3,419.6 434.3,418.9 435.3,418.2 437.1,416.9 437.3,416.8 439.3,415.5 440.2,414.9 441.3,414.2 443.3,413.0 443.5,412.9 445.3,411.8 447.0,410.9 447.3,410.7 449.3,409.7 450.9,408.9 451.3,408.7 453.3,407.8 455.3,407.0 455.7,406.9M604.6,456.9 605.3,456.7 607.3,456.3 609.3,456.3 611.3,456.5 613.3,456.8 613.8,456.9 615.3,457.3 617.3,457.8 619.3,458.5 621.0,458.9 621.3,459.0 623.3,459.3 625.3,459.8 627.3,460.6 627.7,460.9 628.7,462.9 628.9,464.9 629.1,466.9 629.3,467.4 630.0,468.9 630.7,470.9 631.3,472.9 631.3,473.0 631.6,474.9 631.7,476.9 631.7,478.9 631.3,480.9 631.3,481.1 630.9,482.9 630.3,484.9 629.6,486.9 629.3,487.6 628.7,488.9 627.6,490.9 627.3,491.3 625.7,492.9 625.3,493.3 623.5,494.9 623.3,495.1 621.4,496.9 621.3,497.0 619.4,498.9 619.3,499.0 617.3,500.8 617.2,500.9 615.3,501.8 613.3,502.4 611.7,502.9 611.3,503.0 609.3,503.6 607.3,504.3 605.5,504.9 605.3,505.0 603.3,505.5 601.3,505.7 599.3,505.6 597.3,505.3 595.3,504.9 595.3,504.9 593.3,504.4 591.3,503.8 589.3,503.1 588.9,502.9 587.3,501.9 586.0,500.9 585.3,500.3 583.7,498.9 583.3,498.5 581.9,496.9 581.3,496.1 580.5,494.9 579.6,492.9 579.3,492.1 578.9,490.9 578.4,488.9 578.1,486.9 578.0,484.9 577.9,482.9 578.0,480.9 578.2,478.9 578.6,476.9 579.2,474.9 579.3,474.8 580.3,472.9 581.3,471.7 582.0,470.9 583.3,469.5 583.9,468.9 585.3,467.6 586.1,466.9 587.3,465.9 588.3,464.9 589.3,463.8 590.1,462.9 591.3,461.8 592.7,460.9 593.3,460.5 595.3,459.7 597.3,459.2 598.3,458.9 599.3,458.7 601.3,458.0 603.3,457.3 604.6,456.9M278.5,508.9 279.3,508.4 281.3,507.6 283.3,507.1 285.3,507.0 287.3,507.3 289.3,507.9 291.3,508.7 291.6,508.9 293.3,510.2 294.1,510.9 295.3,512.3 295.8,512.9 296.9,514.9 297.3,515.8 297.7,516.9 298.2,518.9 298.4,520.9 298.3,522.9 298.0,524.9 297.4,526.9 297.3,527.2 296.5,528.9 295.3,530.8 295.3,530.9 293.3,532.9 293.3,532.9 291.3,534.3 290.1,534.9 289.3,535.3 287.3,535.8 285.3,536.0 283.3,535.9 281.3,535.5 279.9,534.9 279.3,534.6 277.3,533.4 276.7,532.9 275.3,531.6 274.8,530.9 273.5,528.9 273.3,528.6 272.5,526.9 271.9,524.9 271.6,522.9 271.6,520.9 271.8,518.9 272.3,516.9 273.1,514.9 273.3,514.5 274.3,512.9 275.3,511.7 276.1,510.9 277.3,509.8 278.5,508.9M549.4,590.9 551.3,590.6 553.3,590.3 555.3,590.0 557.3,589.9 559.3,590.0 561.3,590.7 561.5,590.9 563.3,592.8 563.4,592.9 564.6,594.9 565.3,596.3 565.6,596.9 566.7,598.9 567.3,599.8 568.1,600.9 569.3,602.3 569.9,602.9 571.3,604.1 572.3,604.9 573.3,605.5 575.3,606.7 575.6,606.9 577.3,607.8 579.3,608.8 579.4,608.9 581.3,610.0 582.5,610.9 583.3,611.5 584.7,612.9 585.3,613.5 586.3,614.9 587.3,616.6 587.5,616.9 588.3,618.9 588.8,620.9 589.2,622.9 589.3,623.5 589.4,624.9 589.5,626.9 589.3,628.9 589.3,629.0 588.9,630.9 587.9,632.9 587.3,633.6 586.0,634.9 585.3,635.5 583.7,636.9 583.3,637.3 581.8,638.9 581.3,639.5 580.2,640.9 579.3,642.1 578.8,642.9 577.5,644.9 577.3,645.3 576.4,646.9 575.4,648.9 575.3,649.1 574.5,650.9 573.8,652.9 573.3,654.7 573.2,654.9 572.8,656.9 572.6,658.9 572.6,660.9 572.7,662.9 573.0,664.9 573.3,666.9 573.3,667.0 573.6,668.9 574.0,670.9 574.6,672.9 575.3,674.2 575.6,674.9 576.7,676.9 577.3,677.9 577.8,678.9 578.4,680.9 578.6,682.9 578.8,684.9 578.9,686.9 578.7,688.9 577.3,689.6 575.3,689.6 573.3,689.8 571.3,690.0 569.3,689.8 567.3,689.2 566.7,688.9 565.3,688.1 563.9,686.9 563.3,686.4 562.1,684.9 561.3,683.8 560.8,682.9 559.7,680.9 559.3,680.0 558.8,678.9 558.0,676.9 557.3,675.3 557.1,674.9 555.9,672.9 555.3,672.3 554.0,670.9 553.3,670.3 551.7,668.9 551.3,668.6 549.3,667.2 548.9,666.9 547.3,666.0 545.4,664.9 545.3,664.9 543.3,663.9 541.3,663.0 541.0,662.9 539.3,662.3 537.3,661.6 535.3,660.9 535.2,660.9 533.3,660.3 531.3,659.8 529.3,659.4 527.3,659.1 526.0,658.9 525.3,658.8 523.3,658.6 521.3,658.3 519.3,657.9 517.3,657.2 516.7,656.9 515.3,656.1 513.7,654.9 513.3,654.4 512.0,652.9 511.3,651.6 510.9,650.9 510.3,648.9 510.0,646.9 509.9,644.9 509.9,642.9 510.0,640.9 509.8,638.9 509.4,636.9 509.3,636.4 509.0,634.9 508.6,632.9 508.3,630.9 508.2,628.9 508.1,626.9 508.1,624.9 508.3,622.9 508.6,620.9 509.0,618.9 509.3,618.1 509.7,616.9 510.5,614.9 511.3,613.5 511.6,612.9 513.0,610.9 513.3,610.5 514.8,608.9 515.3,608.4 517.1,606.9 517.3,606.8 519.3,605.6 520.5,604.9 521.3,604.5 523.3,603.5 524.5,602.9 525.3,602.5 527.3,601.6 528.7,600.9 529.3,600.6 531.3,599.6 532.7,598.9 533.3,598.6 535.3,597.6 536.5,596.9 537.3,596.5 539.3,595.3 540.0,594.9 541.3,594.1 543.3,592.9 543.3,592.9 545.3,592.0 547.3,591.4 549.3,590.9 549.4,590.9M581.3,692.9 581.3,692.8 583.3,692.2 584.0,692.9 583.3,694.0 581.3,692.9 581.3,692.9M321.2,708.9 321.3,708.9 323.3,708.7 325.3,708.7 327.3,708.8 329.2,708.9 329.3,708.9 331.3,709.1 333.3,709.3 335.3,709.4 337.3,709.6 339.3,709.9 341.3,710.2 343.3,710.6 344.7,710.9 345.3,711.1 347.3,711.6 349.3,712.3 350.8,712.9 351.3,713.1 353.3,713.9 355.3,714.7 355.8,714.9 357.3,715.6 359.3,716.8 359.5,716.9 361.3,718.0 363.1,718.9 363.3,719.0 365.3,719.6 367.3,720.1 369.3,720.7 369.7,720.9 371.3,721.7 373.3,722.9 373.3,722.9 375.3,724.0 377.1,724.9 377.3,725.0 379.3,725.8 381.3,726.2 383.3,726.4 385.3,726.1 387.3,725.6 389.3,725.2 390.9,724.9 391.3,724.8 393.3,724.5 395.3,724.0 397.3,723.4 398.5,722.9 399.3,722.6 401.3,721.8 403.3,721.0 403.5,720.9 405.3,720.1 407.3,719.2 407.8,718.9 409.3,718.3 411.3,717.8 413.3,717.1 413.8,716.9 415.3,716.3 417.3,715.5 418.7,714.9 419.3,714.7 421.3,713.9 423.3,713.2 424.2,712.9 425.3,712.5 427.3,711.9 429.3,711.2 430.3,710.9 431.3,710.6 433.3,710.1 435.3,709.6 437.3,709.3 439.3,709.0 441.3,709.4 443.3,710.3 444.5,710.9 445.3,711.3 447.3,712.1 449.3,712.8 449.5,712.9 451.3,713.5 453.3,714.2 454.9,714.9 455.3,715.1 457.3,716.0 459.2,716.9 459.3,717.0 461.3,717.9 463.3,718.9 463.3,718.9 465.3,719.8 467.3,720.7 467.8,720.9 469.3,721.6 471.0,722.9 471.3,723.2 472.7,724.9 473.3,725.7 474.2,726.9 475.3,728.6 475.5,728.9 476.5,730.9 477.3,732.9 477.3,732.9 477.9,734.9 478.3,736.9 478.6,738.9 478.7,740.9 478.7,742.9 478.9,744.9 479.3,746.8 479.3,746.9 480.0,748.9 480.4,750.9 480.6,752.9 480.6,754.9 480.4,756.9 480.1,758.9 479.5,760.9 479.3,761.3 478.8,762.9 478.2,764.9 477.9,766.9 477.5,768.9 477.3,769.6 476.9,770.9 476.0,772.9 475.3,774.2 474.9,774.9 473.5,776.9 473.3,777.2 472.0,778.9 471.3,779.7 470.3,780.9 469.3,782.0 468.4,782.9 467.3,783.8 465.9,784.9 465.3,785.3 463.3,786.5 462.5,786.9 461.3,787.5 459.3,788.5 458.4,788.9 457.3,789.5 455.3,790.6 454.6,790.9 453.3,791.6 451.3,792.6 450.6,792.9 449.3,793.5 447.3,794.3 445.6,794.9 445.3,795.0 443.3,795.6 441.3,796.1 439.3,796.5 437.3,796.8 436.7,796.9 435.3,797.1 433.3,797.3 431.3,797.3 429.3,797.0 428.9,796.9 427.3,796.5 425.3,795.8 423.3,795.1 422.8,794.9 421.3,794.3 419.3,793.6 417.6,792.9 417.3,792.8 415.3,792.0 413.3,791.2 412.3,790.9 411.3,790.5 409.3,789.9 407.3,789.3 405.8,788.9 405.3,788.7 403.3,787.9 401.6,786.9 401.3,786.7 399.3,785.2 398.9,784.9 397.3,783.6 396.4,782.9 395.3,781.8 394.5,780.9 393.3,779.4 393.0,778.9 391.7,776.9 391.3,776.3 390.5,774.9 389.3,773.2 389.1,772.9 387.4,770.9 387.3,770.7 385.3,768.9 385.3,768.9 383.3,767.4 382.2,766.9 381.3,766.5 379.3,765.9 377.3,765.5 375.3,765.2 373.3,765.0 372.0,764.9 371.3,764.8 369.3,764.6 367.3,764.3 365.3,764.0 363.3,763.7 361.3,763.3 359.3,763.0 359.0,762.9 357.3,762.5 355.3,762.1 353.3,761.6 351.3,761.1 350.4,760.9 349.3,760.6 347.3,760.1 345.3,759.5 343.6,758.9 343.3,758.8 341.3,758.1 339.3,757.3 338.3,756.9 337.3,756.5 335.3,755.6 333.9,754.9 333.3,754.6 331.3,753.6 330.1,752.9 329.3,752.5 327.3,751.3 326.7,750.9 325.3,750.0 323.7,748.9 323.3,748.6 321.3,747.1 321.0,746.9 319.3,745.4 318.7,744.9 317.3,743.6 316.5,742.9 315.3,741.8 314.3,740.9 313.3,740.0 312.1,738.9 311.3,738.2 309.9,736.9 309.3,736.3 307.8,734.9 307.3,734.4 305.8,732.9 305.3,732.3 304.0,730.9 303.3,729.9 302.6,728.9 301.4,726.9 301.3,726.6 300.6,724.9 300.2,722.9 300.2,720.9 300.7,718.9 301.3,717.9 301.9,716.9 303.3,715.3 303.7,714.9 305.3,713.7 306.7,712.9 307.3,712.6 309.3,711.7 311.3,711.0 311.5,710.9 313.3,710.4 315.3,709.9 317.3,709.5 319.3,709.1 321.2,708.9M456.1,412.9 457.3,412.6 459.3,412.2 461.3,412.0 463.3,412.1 465.3,412.5 467.0,412.9 467.3,413.0 469.3,413.6 471.3,414.5 472.1,414.9 473.3,415.5 475.3,416.7 475.6,416.9 477.3,418.1 478.3,418.9 479.3,419.7 480.6,420.9 481.3,421.6 482.5,422.9 483.3,423.8 484.2,424.9 485.3,426.3 485.8,426.9 487.1,428.9 487.3,429.2 488.3,430.9 489.3,432.7 489.4,432.9 490.4,434.9 491.2,436.9 491.3,437.0 492.0,438.9 492.7,440.9 493.2,442.9 493.3,443.1 493.7,444.9 494.1,446.9 494.3,448.9 494.5,450.9 494.6,452.9 494.5,454.9 494.3,456.9 494.0,458.9 493.7,460.9 493.3,462.3 493.1,462.9 492.4,464.9 491.4,466.9 491.3,467.0 490.0,468.9 489.3,469.7 488.1,470.9 487.3,471.6 485.6,472.9 485.3,473.1 483.3,474.3 482.4,474.9 481.3,475.5 479.3,476.5 478.5,476.9 477.3,477.5 475.3,478.4 474.4,478.9 473.3,479.4 471.3,480.4 470.2,480.9 469.3,481.3 467.3,482.1 465.7,482.9 465.3,483.1 463.3,484.2 462.4,484.9 461.3,485.7 459.9,486.9 459.3,487.5 457.9,488.9 457.3,489.5 456.2,490.9 455.3,491.9 454.6,492.9 453.3,494.6 453.0,494.9 451.6,496.9 451.3,497.4 450.3,498.9 449.3,500.9 449.3,500.9 448.4,502.9 447.6,504.9 447.3,506.0 447.0,506.9 446.3,508.9 445.4,510.9 445.3,511.1 444.3,512.9 443.3,514.9 443.3,514.9 442.1,516.9 441.3,518.4 441.0,518.9 439.8,520.9 439.3,521.9 438.7,522.9 437.5,524.9 437.3,525.2 436.2,526.9 435.3,528.3 434.8,528.9 433.3,530.9 433.3,530.9 431.5,532.9 431.3,533.0 429.3,534.8 429.2,534.9 427.3,536.3 426.4,536.9 425.3,537.6 423.3,538.8 423.1,538.9 421.3,539.9 419.6,540.9 419.3,541.1 417.3,542.5 416.9,542.9 415.3,544.5 415.0,544.9 413.5,546.9 413.3,547.1 411.9,548.9 411.3,549.6 410.2,550.9 409.3,551.9 408.3,552.9 407.3,553.8 406.0,554.9 405.3,555.6 404.1,556.9 403.3,558.3 403.1,558.9 402.4,560.9 401.8,562.9 401.3,564.6 401.2,564.9 400.5,566.9 399.7,568.9 399.3,569.7 398.7,570.9 397.7,572.9 397.3,573.5 396.4,574.9 395.3,576.7 395.1,576.9 393.8,578.9 393.3,579.7 392.6,580.9 391.6,582.9 391.3,583.6 390.7,584.9 390.0,586.9 389.3,588.9 389.3,589.0 388.5,590.9 387.6,592.9 387.3,593.5 386.5,594.9 385.5,596.9 385.3,597.4 384.6,598.9 383.8,600.9 383.3,602.2 383.0,602.9 382.3,604.9 381.7,606.9 381.3,608.2 381.1,608.9 380.5,610.9 380.1,612.9 379.7,614.9 379.4,616.9 379.3,617.9 379.2,618.9 378.8,620.9 378.4,622.9 377.9,624.9 377.3,626.6 377.2,626.9 376.2,628.9 375.3,630.6 375.2,630.9 373.9,632.9 373.3,633.8 372.6,634.9 371.3,636.6 371.1,636.9 369.4,638.9 369.3,639.0 367.3,640.9 367.2,640.9 365.3,642.3 364.3,642.9 363.3,643.4 361.3,644.2 359.3,644.6 357.3,644.7 355.3,644.5 353.3,644.1 351.3,643.4 350.1,642.9 349.3,642.6 347.3,641.5 346.3,640.9 345.3,640.2 343.5,638.9 343.3,638.8 341.3,637.0 341.2,636.9 339.4,634.9 339.3,634.7 338.1,632.9 337.3,631.2 337.2,630.9 336.4,628.9 335.9,626.9 335.6,624.9 335.4,622.9 335.4,620.9 335.7,618.9 336.1,616.9 336.6,614.9 337.3,612.9 337.3,612.9 338.1,610.9 339.0,608.9 339.3,608.2 339.9,606.9 341.0,604.9 341.3,604.3 342.0,602.9 343.1,600.9 343.3,600.3 343.8,598.9 344.3,596.9 344.7,594.9 344.9,592.9 345.2,590.9 345.3,590.5 345.7,588.9 346.5,586.9 347.3,585.4 347.6,584.9 348.8,582.9 349.3,582.1 350.0,580.9 351.2,578.9 351.3,578.7 352.2,576.9 353.0,574.9 353.3,574.2 353.8,572.9 354.5,570.9 355.1,568.9 355.3,568.3 355.7,566.9 356.4,564.9 357.2,562.9 357.3,562.5 358.0,560.9 358.8,558.9 359.3,557.8 359.7,556.9 360.7,554.9 361.3,553.8 361.8,552.9 362.9,550.9 363.3,550.3 364.2,548.9 365.3,547.2 365.5,546.9 366.9,544.9 367.3,544.3 368.4,542.9 369.3,541.6 369.9,540.9 371.3,539.0 371.4,538.9 372.9,536.9 373.3,536.3 374.4,534.9 375.3,533.7 375.9,532.9 377.3,530.9 377.3,530.9 378.7,528.9 379.3,528.0 380.0,526.9 381.1,524.9 381.3,524.6 382.1,522.9 382.9,520.9 383.3,519.6 383.5,518.9 383.9,516.9 384.3,514.9 384.6,512.9 385.0,510.9 385.3,509.0 385.3,508.9 385.7,506.9 386.2,504.9 386.7,502.9 387.2,500.9 387.3,500.7 387.9,498.9 388.7,496.9 389.3,495.3 389.5,494.9 390.3,492.9 391.1,490.9 391.3,490.5 391.9,488.9 392.7,486.9 393.3,485.4 393.5,484.9 394.3,482.9 395.2,480.9 395.3,480.7 396.2,478.9 397.3,477.1 397.4,476.9 398.9,474.9 399.3,474.4 400.5,472.9 401.3,472.0 402.2,470.9 403.3,469.6 403.9,468.9 405.3,467.1 405.5,466.9 406.8,464.9 407.3,464.1 408.0,462.9 409.1,460.9 409.3,460.5 410.0,458.9 410.8,456.9 411.3,455.5 411.5,454.9 412.2,452.9 413.0,450.9 413.3,450.2 413.8,448.9 414.7,446.9 415.3,445.8 415.7,444.9 416.9,442.9 417.3,442.2 418.1,440.9 419.3,439.2 419.5,438.9 421.0,436.9 421.3,436.6 422.8,434.9 423.3,434.3 424.6,432.9 425.3,432.2 426.7,430.9 427.3,430.3 428.9,428.9 429.3,428.6 431.3,427.0 431.4,426.9 433.3,425.4 434.1,424.9 435.3,424.0 436.9,422.9 437.3,422.6 439.3,421.3 440.0,420.9 441.3,420.1 443.3,418.9 443.3,418.9 445.3,417.8 446.9,416.9 447.3,416.7 449.3,415.7 450.9,414.9 451.3,414.7 453.3,413.9 455.3,413.1 456.1,412.9M599.6,472.9 601.3,471.8 603.3,471.2 605.3,471.0 607.3,471.4 609.3,472.4 610.0,472.9 611.3,474.2 611.8,474.9 612.8,476.9 613.3,478.9 613.3,480.9 612.9,482.9 612.0,484.9 611.3,485.8 610.3,486.9 609.3,487.7 607.3,488.7 605.9,488.9 605.3,489.0 603.5,488.9 603.3,488.9 601.3,488.3 599.3,486.9 599.3,486.9 597.7,484.9 597.3,484.2 596.7,482.9 596.3,480.9 596.3,478.9 596.8,476.9 597.3,475.9 597.8,474.9 599.3,473.2 599.6,472.9M538.1,606.9 539.3,606.6 541.3,606.3 543.3,606.2 545.3,606.4 547.2,606.9 547.3,606.9 549.3,607.6 551.3,608.4 552.9,608.9 553.3,609.0 555.3,609.1 557.3,609.2 559.3,609.4 561.3,609.9 563.3,610.6 564.0,610.9 565.3,611.5 567.3,612.5 567.9,612.9 569.3,613.7 571.1,614.9 571.3,615.1 573.3,616.6 573.7,616.9 575.3,618.3 576.0,618.9 577.3,620.4 577.7,620.9 579.0,622.9 579.3,623.5 579.9,624.9 580.3,626.9 580.1,628.9 579.3,630.9 579.3,630.9 578.1,632.9 577.3,634.1 576.9,634.9 575.6,636.9 575.3,637.4 574.4,638.9 573.3,640.8 573.2,640.9 572.0,642.9 571.3,644.0 570.7,644.9 569.5,646.9 569.3,647.2 568.2,648.9 567.3,650.5 567.0,650.9 565.7,652.9 565.3,653.6 564.3,654.9 563.3,656.2 562.3,656.9 561.3,657.5 559.3,657.9 557.3,657.8 555.3,657.4 553.3,657.1 552.0,656.9 551.3,656.8 549.3,656.6 547.3,656.4 545.3,656.2 543.3,656.0 541.3,655.8 539.3,655.5 537.3,655.3 535.3,655.0 534.7,654.9 533.3,654.5 531.3,653.9 529.3,653.3 527.7,652.9 527.3,652.8 525.3,652.1 523.3,651.2 522.9,650.9 521.3,649.2 521.1,648.9 520.3,646.9 519.9,644.9 519.7,642.9 519.6,640.9 519.4,638.9 519.3,637.7 519.2,636.9 519.0,634.9 518.8,632.9 518.5,630.9 518.3,628.9 518.2,626.9 518.2,624.9 518.4,622.9 518.9,620.9 519.3,619.6 519.6,618.9 520.7,616.9 521.3,616.1 522.4,614.9 523.3,614.0 524.7,612.9 525.3,612.5 527.3,611.3 527.9,610.9 529.3,610.2 531.3,609.3 532.2,608.9 533.3,608.5 535.3,607.7 537.3,607.1 538.1,606.9M435.2,712.9 435.3,712.9 437.3,712.6 439.3,712.5 441.1,712.9 441.3,712.9 443.3,713.8 445.3,714.5 446.6,714.9 447.3,715.1 449.3,715.6 451.3,716.1 453.3,716.7 453.7,716.9 455.3,717.7 457.3,718.8 457.5,718.9 459.3,719.9 461.2,720.9 461.3,721.0 463.3,722.0 465.3,722.9 465.4,722.9 467.3,723.9 468.7,724.9 469.3,725.4 470.6,726.9 471.3,727.9 471.9,728.9 472.9,730.9 473.3,731.8 473.8,732.9 474.4,734.9 475.0,736.9 475.3,738.1 475.5,738.9 475.9,740.9 476.3,742.9 476.7,744.9 477.1,746.9 477.3,748.5 477.4,748.9 477.5,750.9 477.6,752.9 477.5,754.9 477.3,756.8 477.3,756.9 476.9,758.9 476.5,760.9 476.1,762.9 475.8,764.9 475.4,766.9 475.3,767.2 474.7,768.9 473.7,770.9 473.3,771.5 472.3,772.9 471.3,774.3 470.8,774.9 469.3,776.9 469.3,776.9 467.7,778.9 467.3,779.3 465.8,780.9 465.3,781.4 463.3,782.9 463.2,782.9 461.3,783.9 459.3,784.8 459.1,784.9 457.3,785.7 455.3,786.5 454.5,786.9 453.3,787.5 451.3,788.4 450.2,788.9 449.3,789.3 447.3,790.1 445.3,790.8 444.9,790.9 443.3,791.3 441.3,791.6 439.3,791.8 437.3,791.8 435.3,791.8 433.3,791.7 431.3,791.5 429.3,791.2 427.8,790.9 427.3,790.8 425.3,790.4 423.3,789.8 421.3,789.3 420.3,788.9 419.3,788.5 417.3,787.7 415.4,786.9 415.3,786.9 413.3,785.9 411.3,785.1 410.9,784.9 409.3,784.2 407.3,783.2 406.6,782.9 405.3,782.2 403.3,781.1 403.0,780.9 401.3,779.7 400.2,778.9 399.3,778.2 397.9,776.9 397.3,776.4 395.9,774.9 395.3,774.2 394.2,772.9 393.3,771.8 392.6,770.9 391.3,769.3 390.9,768.9 389.3,767.0 389.2,766.9 387.4,764.9 387.3,764.8 385.3,762.9 385.3,762.9 383.3,761.6 381.7,760.9 381.3,760.7 379.3,760.0 377.3,759.4 375.3,758.9 375.0,758.9 373.3,758.5 371.3,758.0 369.3,757.5 367.4,756.9 367.3,756.9 365.3,756.2 363.3,755.6 361.3,755.0 360.8,754.9 359.3,754.4 357.3,753.8 355.3,753.2 354.5,752.9 353.3,752.5 351.3,751.8 349.3,751.2 348.3,750.9 347.3,750.6 345.3,750.0 343.3,749.3 342.3,748.9 341.3,748.5 339.3,747.6 338.0,746.9 337.3,746.5 335.3,745.5 334.0,744.9 333.3,744.5 331.3,743.6 329.8,742.9 329.3,742.6 327.3,741.4 326.7,740.9 325.3,739.7 324.4,738.9 323.3,737.9 322.3,736.9 321.3,736.0 320.0,734.9 319.3,734.3 317.7,732.9 317.3,732.5 315.7,730.9 315.3,730.4 314.2,728.9 313.3,727.3 313.1,726.9 312.5,724.9 312.6,722.9 313.3,721.5 313.7,720.9 315.3,719.4 316.0,718.9 317.3,718.2 319.3,717.3 320.5,716.9 321.3,716.7 323.3,716.4 325.3,716.4 327.3,716.5 329.3,716.5 331.3,716.5 333.3,716.4 335.3,716.5 337.3,716.7 338.2,716.9 339.3,717.2 341.3,717.7 343.3,718.3 345.3,718.8 345.8,718.9 347.3,719.2 349.3,719.7 351.3,720.2 353.3,720.8 353.5,720.9 355.3,721.5 357.3,722.3 358.9,722.9 359.3,723.1 361.3,723.8 363.3,724.4 365.1,724.9 365.3,725.0 367.3,725.6 369.3,726.3 370.7,726.9 371.3,727.2 373.3,728.3 374.4,728.9 375.3,729.4 377.3,730.4 378.5,730.9 379.3,731.2 381.3,731.7 383.3,731.9 385.3,731.7 386.7,730.9 387.3,730.6 389.3,729.4 390.3,728.9 391.3,728.5 393.3,727.7 395.3,727.0 395.6,726.9 397.3,726.3 399.3,725.5 400.7,724.9 401.3,724.6 403.3,723.8 405.2,722.9 405.3,722.9 407.3,722.0 409.3,721.1 409.9,720.9 411.3,720.4 413.3,719.9 415.3,719.4 416.8,718.9 417.3,718.7 419.3,718.0 421.3,717.3 422.4,716.9 423.3,716.6 425.3,715.9 427.3,715.2 428.3,714.9 429.3,714.6 431.3,714.0 433.3,713.4 435.2,712.9M457.1,418.9 457.3,418.8 459.3,418.6 461.3,418.5 463.3,418.8 463.9,418.9 465.3,419.2 467.3,419.9 469.3,420.8 469.6,420.9 471.3,421.9 472.9,422.9 473.3,423.2 475.3,424.7 475.5,424.9 477.3,426.6 477.6,426.9 479.3,428.8 479.4,428.9 481.0,430.9 481.3,431.3 482.3,432.9 483.3,434.5 483.6,434.9 484.6,436.9 485.3,438.4 485.5,438.9 486.3,440.9 487.0,442.9 487.3,444.0 487.6,444.9 488.0,446.9 488.3,448.9 488.5,450.9 488.6,452.9 488.6,454.9 488.4,456.9 488.0,458.9 487.4,460.9 487.3,461.1 486.5,462.9 485.3,464.8 485.3,464.9 483.7,466.9 483.3,467.3 481.7,468.9 481.3,469.2 479.3,470.8 479.2,470.9 477.3,472.2 476.3,472.9 475.3,473.5 473.3,474.7 472.9,474.9 471.3,475.8 469.3,476.9 469.3,476.9 467.3,478.0 465.6,478.9 465.3,479.1 463.3,480.4 462.6,480.9 461.3,481.9 460.2,482.9 459.3,483.7 458.1,484.9 457.3,485.8 456.3,486.9 455.3,488.1 454.7,488.9 453.3,490.8 453.2,490.9 451.6,492.9 451.3,493.3 450.0,494.9 449.3,495.9 448.5,496.9 447.3,498.8 447.3,498.9 446.1,500.9 445.3,502.7 445.2,502.9 444.3,504.9 443.5,506.9 443.3,507.2 442.3,508.9 441.3,510.4 440.9,510.9 439.3,512.9 439.3,512.9 437.5,514.9 437.3,515.1 435.6,516.9 435.3,517.2 433.5,518.9 433.3,519.0 431.3,520.8 431.2,520.9 429.3,522.8 429.2,522.9 427.4,524.9 427.3,525.0 425.5,526.9 425.3,527.1 423.4,528.9 423.3,529.0 421.3,530.6 420.9,530.9 419.3,532.1 418.1,532.9 417.3,533.5 415.3,534.8 415.2,534.9 413.3,536.3 412.7,536.9 411.3,538.3 410.8,538.9 409.4,540.9 409.3,541.1 408.3,542.9 407.3,544.8 407.2,544.9 406.1,546.9 405.3,548.2 404.9,548.9 403.5,550.9 403.3,551.1 401.7,552.9 401.3,553.3 399.7,554.9 399.3,555.5 398.3,556.9 397.4,558.9 397.3,559.3 396.8,560.9 396.4,562.9 396.1,564.9 395.8,566.9 395.4,568.9 395.3,569.1 394.7,570.9 393.9,572.9 393.3,573.9 392.6,574.9 391.3,576.9 391.3,577.0 390.1,578.9 389.3,580.4 389.1,580.9 388.3,582.9 387.7,584.9 387.3,586.5 387.2,586.9 386.6,588.9 385.8,590.9 385.3,591.9 384.6,592.9 383.3,594.9 383.3,594.9 382.0,596.9 381.3,598.1 380.8,598.9 379.8,600.9 379.3,602.0 378.8,602.9 377.8,604.9 377.3,606.3 377.1,606.9 376.3,608.9 375.8,610.9 375.4,612.9 375.3,613.3 375.0,614.9 374.8,616.9 374.6,618.9 374.3,620.9 373.8,622.9 373.3,624.7 373.2,624.9 372.4,626.9 371.4,628.9 371.3,629.1 370.2,630.9 369.3,632.3 368.9,632.9 367.3,634.9 367.3,634.9 365.4,636.9 365.3,637.0 363.3,638.5 362.6,638.9 361.3,639.5 359.3,640.1 357.3,640.1 355.3,639.8 353.3,639.3 352.4,638.9 351.3,638.4 349.3,637.3 348.7,636.9 347.3,635.9 346.1,634.9 345.3,634.1 344.2,632.9 343.3,631.8 342.7,630.9 341.6,628.9 341.3,628.2 340.8,626.9 340.3,624.9 340.0,622.9 340.1,620.9 340.4,618.9 340.9,616.9 341.3,615.6 341.6,614.9 342.5,612.9 343.3,611.3 343.5,610.9 344.8,608.9 345.3,608.2 346.3,606.9 347.3,605.5 347.8,604.9 349.3,602.9 349.3,602.9 350.8,600.9 351.3,600.0 352.1,598.9 353.3,596.9 353.3,596.8 354.5,594.9 355.3,593.4 355.7,592.9 356.8,590.9 357.3,590.0 357.9,588.9 358.9,586.9 359.3,585.8 359.6,584.9 360.2,582.9 360.5,580.9 360.7,578.9 360.8,576.9 361.0,574.9 361.1,572.9 361.3,571.6 361.4,570.9 361.9,568.9 362.5,566.9 363.3,564.9 363.3,564.9 364.3,562.9 365.3,560.9 365.3,560.8 366.4,558.9 367.3,557.2 367.5,556.9 368.7,554.9 369.3,554.1 370.2,552.9 371.3,551.5 371.8,550.9 373.3,549.2 373.6,548.9 375.3,546.9 375.3,546.9 376.9,544.9 377.3,544.4 378.4,542.9 379.3,541.5 379.7,540.9 381.0,538.9 381.3,538.4 382.2,536.9 383.3,535.1 383.4,534.9 384.6,532.9 385.3,531.5 385.6,530.9 386.5,528.9 387.3,527.0 387.4,526.9 388.1,524.9 388.7,522.9 389.1,520.9 389.3,520.1 389.5,518.9 389.9,516.9 390.2,514.9 390.5,512.9 390.7,510.9 391.0,508.9 391.3,506.9 391.3,506.8 391.6,504.9 392.0,502.9 392.5,500.9 393.1,498.9 393.3,498.4 393.8,496.9 394.5,494.9 395.2,492.9 395.3,492.7 395.9,490.9 396.6,488.9 397.3,486.9 397.3,486.8 398.0,484.9 398.7,482.9 399.3,481.4 399.6,480.9 400.8,478.9 401.3,478.2 402.4,476.9 403.3,475.8 404.1,474.9 405.3,473.5 405.8,472.9 407.3,471.1 407.5,470.9 408.9,468.9 409.3,468.3 410.2,466.9 411.3,465.0 411.4,464.9 412.4,462.9 413.3,460.9 413.3,460.8 414.0,458.9 414.8,456.9 415.3,455.5 415.5,454.9 416.3,452.9 417.1,450.9 417.3,450.6 418.0,448.9 419.0,446.9 419.3,446.4 420.2,444.9 421.3,443.1 421.4,442.9 422.9,440.9 423.3,440.4 424.5,438.9 425.3,438.0 426.3,436.9 427.3,435.9 428.4,434.9 429.3,434.1 430.7,432.9 431.3,432.4 433.2,430.9 433.3,430.8 435.3,429.4 436.1,428.9 437.3,428.1 439.2,426.9 439.3,426.8 441.3,425.6 442.6,424.9 443.3,424.5 445.3,423.4 446.4,422.9 447.3,422.5 449.3,421.5 450.8,420.9 451.3,420.7 453.3,420.0 455.3,419.3 457.1,418.9M548.6,616.9 549.3,616.8 551.3,616.6 553.3,616.6 554.9,616.9 555.3,617.0 557.3,617.5 559.3,618.2 560.8,618.9 561.3,619.2 563.3,620.8 563.5,620.9 565.3,622.9 565.3,623.0 566.6,624.9 567.3,626.5 567.5,626.9 567.9,628.9 568.0,630.9 567.8,632.9 567.3,634.9 567.3,635.0 566.5,636.9 565.4,638.9 565.3,639.0 563.6,640.9 563.3,641.2 561.3,642.8 561.1,642.9 559.3,643.9 557.3,644.7 556.7,644.9 555.3,645.2 553.3,645.5 551.3,645.5 549.3,645.2 547.7,644.9 547.3,644.8 545.3,644.1 543.3,643.2 542.7,642.9 541.3,642.0 540.0,640.9 539.3,640.1 538.5,638.9 537.4,636.9 537.3,636.7 536.5,634.9 536.1,632.9 536.0,630.9 536.1,628.9 536.6,626.9 537.3,625.3 537.4,624.9 538.7,622.9 539.3,622.1 540.4,620.9 541.3,620.2 543.1,618.9 543.3,618.8 545.3,617.9 547.3,617.2 548.6,616.9M429.5,718.9 431.3,718.4 433.3,717.9 435.3,717.7 437.3,717.7 439.3,717.9 441.3,718.4 443.3,718.7 445.3,718.8 447.3,718.8 449.3,718.9 449.4,718.9 451.3,719.1 453.3,720.0 454.9,720.9 455.3,721.2 457.3,722.6 457.8,722.9 459.3,723.9 461.2,724.9 461.3,725.0 463.3,726.1 464.8,726.9 465.3,727.2 467.3,728.7 467.5,728.9 468.7,730.9 469.3,732.3 469.5,732.9 470.2,734.9 470.9,736.9 471.3,737.8 471.7,738.9 472.4,740.9 473.3,742.6 473.4,742.9 474.2,744.9 474.6,746.9 474.5,748.9 474.4,750.9 474.2,752.9 474.0,754.9 473.7,756.9 473.5,758.9 473.4,760.9 473.4,762.9 473.3,764.9 473.3,765.0 472.4,766.9 471.3,768.6 471.0,768.9 469.3,770.7 469.1,770.9 467.3,772.9 467.3,772.9 465.7,774.9 465.3,775.4 464.2,776.9 463.3,778.1 462.5,778.9 461.3,779.7 459.3,780.7 458.7,780.9 457.3,781.3 455.3,782.0 453.3,782.8 453.0,782.9 451.3,783.5 449.3,784.3 447.9,784.9 447.3,785.1 445.3,785.9 443.3,786.4 441.3,786.5 439.3,786.3 437.3,786.0 435.3,785.6 433.3,785.1 431.9,784.9 431.3,784.8 429.3,784.6 427.3,784.4 425.3,784.2 423.3,783.9 421.3,783.4 420.1,782.9 419.3,782.5 417.3,781.3 416.6,780.9 415.3,780.1 413.3,778.9 413.2,778.9 411.3,777.9 409.6,776.9 409.3,776.7 407.3,775.6 406.1,774.9 405.3,774.5 403.3,773.5 402.3,772.9 401.3,772.4 399.3,771.1 399.1,770.9 397.3,769.1 397.1,768.9 395.3,767.1 395.1,766.9 393.3,765.0 393.2,764.9 391.5,762.9 391.3,762.7 389.4,760.9 389.3,760.8 387.3,759.0 387.2,758.9 385.3,756.9 385.3,756.9 383.3,755.0 383.2,754.9 381.5,752.9 381.3,752.5 380.3,750.9 379.5,748.9 379.3,748.2 378.6,746.9 377.3,745.1 377.0,744.9 375.4,742.9 375.3,742.4 375.0,740.9 375.3,740.7 377.3,739.2 377.6,738.9 379.3,738.3 381.3,737.4 382.6,736.9 383.3,736.8 385.3,736.4 387.3,735.4 388.0,734.9 389.3,734.0 390.9,732.9 391.3,732.7 393.3,731.8 395.1,730.9 395.3,730.8 397.3,730.0 399.3,729.1 399.7,728.9 401.3,728.2 403.3,727.1 403.7,726.9 405.3,726.2 407.3,725.6 409.2,724.9 409.3,724.9 411.3,724.3 413.3,723.8 415.3,723.3 417.0,722.9 417.3,722.8 419.3,722.3 421.3,721.6 423.0,720.9 423.3,720.8 425.3,720.2 427.3,719.6 429.3,719.0 429.5,718.9M450.9,426.9 451.3,426.7 453.3,426.2 455.3,425.8 457.3,425.5 459.3,425.5 461.3,425.6 463.3,425.9 465.3,426.5 466.1,426.9 467.3,427.4 469.3,428.6 469.8,428.9 471.3,430.0 472.3,430.9 473.3,431.8 474.3,432.9 475.3,434.0 476.0,434.9 477.3,436.8 477.4,436.9 478.6,438.9 479.3,440.3 479.6,440.9 480.4,442.9 481.2,444.9 481.3,445.4 481.7,446.9 482.1,448.9 482.4,450.9 482.5,452.9 482.4,454.9 482.1,456.9 481.5,458.9 481.3,459.5 480.7,460.9 479.5,462.9 479.3,463.1 477.9,464.9 477.3,465.5 476.0,466.9 475.3,467.5 473.6,468.9 473.3,469.1 471.3,470.6 470.8,470.9 469.3,471.9 467.8,472.9 467.3,473.2 465.3,474.4 464.6,474.9 463.3,475.8 462.0,476.9 461.3,477.5 459.8,478.9 459.3,479.4 457.8,480.9 457.3,481.4 456.0,482.9 455.3,483.7 454.4,484.9 453.3,486.3 452.9,486.9 451.5,488.9 451.3,489.2 449.9,490.9 449.3,491.7 448.1,492.9 447.3,493.9 446.3,494.9 445.3,496.2 444.7,496.9 443.3,498.9 443.3,499.0 442.0,500.9 441.3,502.0 440.7,502.9 439.3,504.9 439.3,504.9 437.6,506.9 437.3,507.2 435.5,508.9 435.3,509.1 433.3,510.7 433.1,510.9 431.3,512.2 430.3,512.9 429.3,513.6 427.4,514.9 427.3,515.0 425.3,516.5 424.7,516.9 423.3,518.1 422.3,518.9 421.3,519.8 420.1,520.9 419.3,521.7 418.0,522.9 417.3,523.5 415.8,524.9 415.3,525.4 413.6,526.9 413.3,527.2 411.4,528.9 411.3,529.0 409.3,530.7 409.1,530.9 407.3,532.4 406.6,532.9 405.3,534.0 404.1,534.9 403.3,535.7 401.9,536.9 401.3,537.8 400.3,538.9 399.5,540.9 399.3,541.7 398.9,542.9 398.3,544.9 397.8,546.9 397.3,547.9 396.3,548.9 395.3,549.4 393.3,549.4 392.5,548.9 391.5,546.9 391.6,544.9 392.2,542.9 393.0,540.9 393.3,540.0 393.9,538.9 394.6,536.9 395.0,534.9 395.3,532.9 395.3,532.4 395.4,530.9 395.6,528.9 395.8,526.9 396.0,524.9 396.2,522.9 396.4,520.9 396.6,518.9 396.8,516.9 397.0,514.9 397.2,512.9 397.3,512.1 397.4,510.9 397.7,508.9 398.0,506.9 398.3,504.9 398.7,502.9 399.1,500.9 399.3,500.1 399.6,498.9 400.1,496.9 400.7,494.9 401.2,492.9 401.3,492.4 401.7,490.9 402.3,488.9 402.9,486.9 403.3,485.8 403.6,484.9 404.6,482.9 405.3,481.7 405.8,480.9 407.2,478.9 407.3,478.8 408.8,476.9 409.3,476.2 410.3,474.9 411.3,473.4 411.7,472.9 412.9,470.9 413.3,470.2 414.0,468.9 415.0,466.9 415.3,466.2 415.9,464.9 416.7,462.9 417.3,461.1 417.4,460.9 418.1,458.9 418.8,456.9 419.3,455.6 419.6,454.9 420.4,452.9 421.2,450.9 421.3,450.8 422.2,448.9 423.3,446.9 423.3,446.9 424.6,444.9 425.3,444.0 426.1,442.9 427.3,441.5 427.9,440.9 429.3,439.5 429.9,438.9 431.3,437.7 432.3,436.9 433.3,436.1 434.9,434.9 435.3,434.6 437.3,433.3 438.1,432.9 439.3,432.1 441.3,431.0 441.6,430.9 443.3,430.0 445.3,429.1 445.7,428.9 447.3,428.2 449.3,427.4 450.9,426.9M382.9,564.9 383.3,564.7 385.3,564.9 385.4,564.9 387.3,566.8 387.3,566.9 387.7,568.9 387.4,570.9 387.3,571.2 386.2,572.9 385.3,574.2 384.8,574.9 383.7,576.9 383.3,578.5 383.1,578.9 382.7,580.9 382.5,582.9 382.4,584.9 382.1,586.9 381.5,588.9 381.3,589.2 379.4,590.9 379.3,591.0 377.3,591.8 375.3,590.9 375.3,590.9 374.9,588.9 375.0,586.9 375.2,584.9 375.3,583.6 375.4,582.9 375.7,580.9 376.1,578.9 376.8,576.9 377.3,575.9 378.0,574.9 379.2,572.9 379.3,572.7 379.7,570.9 379.9,568.9 380.6,566.9 381.3,565.9 382.9,564.9M360.3,604.9 361.3,604.5 363.3,604.2 365.3,604.3 366.4,604.9 367.3,605.7 367.8,606.9 368.4,608.9 368.7,610.9 368.9,612.9 369.1,614.9 369.2,616.9 369.1,618.9 368.9,620.9 368.5,622.9 367.9,624.9 367.3,626.3 367.0,626.9 365.8,628.9 365.3,629.6 364.2,630.9 363.3,631.9 362.0,632.9 361.3,633.4 359.3,634.2 357.3,634.5 355.3,634.3 353.3,633.6 352.0,632.9 351.3,632.5 349.3,630.9 349.3,630.9 347.6,628.9 347.3,628.5 346.4,626.9 345.7,624.9 345.3,623.0 345.3,622.9 345.3,620.9 345.3,620.8 345.6,618.9 346.3,616.9 347.3,614.9 347.3,614.9 348.7,612.9 349.3,612.1 350.5,610.9 351.3,610.1 352.8,608.9 353.3,608.5 355.3,607.1 355.8,606.9 357.3,606.0 359.3,605.2 360.3,604.9M427.8,728.9 429.3,728.3 431.3,727.8 433.3,727.6 435.3,727.4 437.3,727.5 439.3,727.8 441.3,728.2 443.3,728.3 445.3,728.0 447.3,727.8 449.3,727.8 451.3,728.5 451.9,728.9 453.3,729.6 455.0,730.9 455.3,731.1 457.3,732.8 457.4,732.9 459.3,733.9 461.0,734.9 461.3,735.1 463.1,736.9 463.3,737.2 464.3,738.9 465.1,740.9 465.3,741.7 465.8,742.9 466.8,744.9 467.3,745.7 468.1,746.9 468.5,748.9 468.5,750.9 468.1,752.9 467.6,754.9 467.3,755.8 467.0,756.9 466.8,758.9 466.8,760.9 466.5,762.9 465.4,764.9 465.3,765.0 463.5,766.9 463.3,767.0 461.3,768.6 460.8,768.9 459.3,770.0 458.1,770.9 457.3,771.8 456.1,772.9 455.3,773.6 453.3,774.8 453.0,774.9 451.3,775.5 449.3,775.9 447.3,776.2 445.3,776.5 443.3,776.8 443.0,776.9 441.3,777.5 439.3,777.9 437.3,778.1 435.3,777.9 433.3,777.5 431.4,776.9 431.3,776.9 429.3,776.2 427.3,775.6 425.3,775.2 423.5,774.9 423.3,774.9 421.3,774.5 419.3,773.9 417.3,773.1 417.0,772.9 415.3,771.8 414.1,770.9 413.3,770.2 411.9,768.9 411.3,768.3 409.8,766.9 409.3,766.4 407.3,764.9 407.3,764.9 405.3,763.4 404.6,762.9 403.3,761.5 402.7,760.9 401.4,758.9 401.3,758.5 400.6,756.9 400.1,754.9 399.8,752.9 399.3,751.4 399.1,750.9 398.2,748.9 397.8,746.9 397.9,744.9 399.2,742.9 399.3,742.8 401.3,741.8 403.3,741.2 403.9,740.9 405.3,740.2 406.6,738.9 407.3,738.1 408.7,736.9 409.3,736.4 411.3,735.4 412.5,734.9 413.3,734.6 415.3,733.3 416.2,732.9 417.3,732.4 419.3,731.8 421.3,731.4 423.3,731.0 423.7,730.9 425.3,730.0 427.3,729.1 427.8,728.9M452.2,432.9 453.3,432.7 455.3,432.4 457.3,432.3 459.3,432.4 461.3,432.8 461.5,432.9 463.3,433.6 465.3,434.7 465.6,434.9 467.3,436.2 468.1,436.9 469.3,438.1 470.0,438.9 471.3,440.5 471.6,440.9 472.8,442.9 473.3,443.9 473.8,444.9 474.6,446.9 475.1,448.9 475.3,449.8 475.5,450.9 475.6,452.9 475.6,454.9 475.3,456.4 475.2,456.9 474.5,458.9 473.4,460.9 473.3,461.1 472.0,462.9 471.3,463.6 470.1,464.9 469.3,465.7 468.0,466.9 467.3,467.5 465.7,468.9 465.3,469.2 463.3,470.9 463.3,470.9 461.3,472.6 461.0,472.9 459.3,474.5 458.9,474.9 457.3,476.6 457.0,476.9 455.3,478.7 455.1,478.9 453.3,480.9 453.3,480.9 451.7,482.9 451.3,483.4 450.2,484.9 449.3,486.2 448.7,486.9 447.3,488.7 447.1,488.9 445.3,490.6 445.0,490.9 443.3,492.5 442.8,492.9 441.3,494.4 440.7,494.9 439.3,496.3 438.7,496.9 437.3,498.2 436.5,498.9 435.3,500.0 434.1,500.9 433.3,501.5 431.3,502.7 431.0,502.9 429.3,503.8 427.3,504.7 426.8,504.9 425.3,505.5 423.3,506.2 421.3,506.8 421.0,506.9 419.3,507.4 417.3,507.8 415.3,508.1 413.3,507.8 412.1,506.9 411.3,505.8 411.0,504.9 410.6,502.9 410.4,500.9 410.2,498.9 410.2,496.9 410.3,494.9 410.4,492.9 410.7,490.9 411.1,488.9 411.3,488.1 411.7,486.9 412.4,484.9 413.2,482.9 413.3,482.8 414.2,480.9 415.2,478.9 415.3,478.7 416.2,476.9 417.1,474.9 417.3,474.5 418.0,472.9 418.7,470.9 419.3,469.3 419.4,468.9 420.1,466.9 420.7,464.9 421.3,462.9 421.3,462.9 421.9,460.9 422.5,458.9 423.1,456.9 423.3,456.3 423.7,454.9 424.5,452.9 425.3,451.1 425.4,450.9 426.5,448.9 427.3,447.7 427.9,446.9 429.3,445.1 429.5,444.9 431.3,443.1 431.5,442.9 433.3,441.4 433.9,440.9 435.3,439.9 436.9,438.9 437.3,438.6 439.3,437.5 440.5,436.9 441.3,436.5 443.3,435.6 445.2,434.9 445.3,434.9 447.3,434.2 449.3,433.6 451.3,433.1 452.2,432.9M354.9,616.9 355.3,616.6 357.3,616.2 359.3,616.6 359.7,616.9 361.3,618.8 361.4,618.9 361.7,620.9 361.4,622.9 361.3,623.1 360.2,624.9 359.3,625.8 357.3,626.7 355.3,626.5 353.3,625.2 353.1,624.9 352.2,622.9 352.1,620.9 352.8,618.9 353.3,618.2 354.9,616.9M434.4,734.9 435.3,734.7 437.3,734.7 438.6,734.9 439.3,735.0 441.3,735.2 443.3,735.4 445.3,735.4 447.3,735.5 449.3,736.0 451.3,736.7 451.8,736.9 453.3,737.6 455.3,738.9 455.4,738.9 457.3,740.5 457.7,740.9 459.2,742.9 459.3,743.1 460.2,744.9 461.0,746.9 461.3,748.4 461.4,748.9 461.6,750.9 461.5,752.9 461.3,754.1 461.2,754.9 460.7,756.9 460.1,758.9 459.3,760.6 459.1,760.9 457.8,762.9 457.3,763.4 455.7,764.9 455.3,765.2 453.3,766.2 451.3,766.8 451.0,766.9 449.3,767.3 447.3,767.8 445.3,768.5 443.9,768.9 443.3,769.1 441.3,769.5 439.3,769.6 437.3,769.4 435.3,768.9 435.2,768.9 433.3,768.4 431.3,768.0 429.3,767.7 427.3,767.4 425.3,767.1 424.9,766.9 423.3,766.2 421.6,764.9 421.3,764.6 419.7,762.9 419.3,762.5 417.6,760.9 417.3,760.6 415.3,759.0 415.2,758.9 413.3,757.1 413.1,756.9 411.7,754.9 411.3,754.2 410.7,752.9 410.1,750.9 410.0,748.9 410.8,746.9 411.3,746.4 413.3,744.9 413.3,744.9 415.3,743.6 416.2,742.9 417.3,742.1 418.7,740.9 419.3,740.5 421.3,739.1 421.7,738.9 423.3,738.3 425.3,737.8 427.3,737.2 428.2,736.9 429.3,736.5 431.3,735.7 433.3,735.1 434.4,734.9M446.8,440.9 447.3,440.8 449.3,440.6 451.3,440.5 453.3,440.6 455.3,440.8 455.6,440.9 457.3,441.3 459.3,442.1 460.8,442.9 461.3,443.2 463.3,444.9 463.3,444.9 464.8,446.9 465.3,447.7 465.9,448.9 466.6,450.9 467.0,452.9 467.0,454.9 466.7,456.9 466.0,458.9 465.3,460.3 465.0,460.9 463.7,462.9 463.3,463.4 462.2,464.9 461.3,466.0 460.7,466.9 459.3,468.6 459.1,468.9 457.4,470.9 457.3,471.0 455.5,472.9 455.3,473.1 453.4,474.9 453.3,475.0 451.3,476.8 451.1,476.9 449.3,478.7 449.0,478.9 447.3,480.7 447.1,480.9 445.3,482.7 445.1,482.9 443.3,484.5 442.8,484.9 441.3,486.0 439.8,486.9 439.3,487.2 437.3,488.1 435.3,488.7 434.2,488.9 433.3,489.0 431.8,488.9 431.3,488.8 429.3,487.9 428.2,486.9 427.3,485.6 426.9,484.9 426.1,482.9 425.6,480.9 425.4,478.9 425.3,477.8 425.3,476.9 425.3,474.9 425.3,474.6 425.4,472.9 425.5,470.9 425.6,468.9 425.8,466.9 426.0,464.9 426.3,462.9 426.6,460.9 427.0,458.9 427.3,457.4 427.4,456.9 428.0,454.9 428.8,452.9 429.3,452.0 430.0,450.9 431.3,449.1 431.5,448.9 433.3,447.0 433.5,446.9 435.3,445.5 436.2,444.9 437.3,444.2 439.3,443.2 440.0,442.9 441.3,442.4 443.3,441.7 445.3,441.2 446.8,440.9M437.7,740.9 439.3,740.7 441.3,740.6 443.3,740.4 445.3,740.3 447.3,740.5 448.5,740.9 449.3,741.2 451.3,742.3 452.1,742.9 453.3,743.9 454.3,744.9 455.3,746.5 455.5,746.9 455.9,748.9 456.0,750.9 455.8,752.9 455.4,754.9 455.3,755.0 454.2,756.9 453.3,758.0 452.3,758.9 451.3,759.5 449.3,760.4 447.8,760.9 447.3,761.0 445.3,761.5 443.3,761.8 441.3,761.9 439.3,761.9 437.3,761.6 435.3,761.1 434.9,760.9 433.3,760.0 431.6,758.9 431.3,758.6 429.6,756.9 429.3,756.5 428.1,754.9 427.3,753.5 427.0,752.9 426.4,750.9 426.5,748.9 427.3,747.2 427.4,746.9 429.2,744.9 429.3,744.8 431.3,743.3 431.9,742.9 433.3,742.2 435.3,741.4 437.3,741.0 437.7,740.9M437.5,450.9 439.3,450.1 441.3,449.6 443.3,449.4 445.3,449.5 447.3,450.0 449.3,450.9 449.3,450.9 451.3,452.6 451.6,452.9 452.7,454.9 453.3,456.9 453.3,458.5 453.3,458.9 453.3,458.9 452.8,460.9 451.8,462.9 451.3,464.4 451.0,464.9 451.3,465.2 451.8,466.9 451.3,467.8 449.3,468.3 447.3,468.0 445.3,468.1 443.3,468.5 441.3,468.7 439.3,468.6 437.3,468.1 435.4,466.9 435.3,466.8 433.3,464.9 433.3,464.9 432.3,462.9 431.9,460.9 431.9,458.9 432.3,456.9 433.2,454.9 433.3,454.8 434.9,452.9 435.3,452.5 437.3,451.0 437.5,450.9"/>
<path stroke-dasharray="4 2.5" d="M441.3,316.9 441.1,316.9 439.3,317.1 437.3,317.3 435.3,317.4 433.3,317.5 431.3,317.7 429.3,318.1 427.3,318.8 427.1,318.9 425.3,319.7 423.3,320.7 422.8,320.9 421.3,321.6 419.3,322.5 418.1,322.9 417.3,323.2 415.3,324.0 413.3,324.8 413.1,324.9 411.3,325.8 409.6,326.9 409.3,327.1 407.3,328.8 407.2,328.9 405.3,330.6 405.0,330.9 403.3,332.4 402.8,332.9 401.3,334.2 400.5,334.9 399.3,335.9 398.1,336.9 397.3,337.6 395.7,338.9 395.3,339.3 393.3,340.9 393.3,340.9 391.3,342.7 391.1,342.9 389.3,344.8 389.3,344.9 387.6,346.9 387.3,347.2 385.9,348.9 385.3,349.6 384.2,350.9 383.3,352.0 382.5,352.9 381.3,354.3 380.8,354.9 379.3,356.5 379.0,356.9 377.3,358.8 377.2,358.9 375.5,360.9 375.3,361.1 373.9,362.9 373.3,363.8 372.6,364.9 371.3,366.9 371.3,367.0 370.1,368.9 369.3,370.3 368.9,370.9 367.7,372.9 367.3,373.5 366.4,374.9 365.3,376.7 365.2,376.9 363.9,378.9 363.3,379.8 362.6,380.9 361.3,382.9 361.3,383.0 360.2,384.9 359.3,386.7 359.2,386.9 358.3,388.9 357.5,390.9 357.3,391.4 356.7,392.9 355.8,394.9 355.3,396.2 355.0,396.9 354.1,398.9 353.3,400.6 353.2,400.9 352.3,402.9 351.4,404.9 351.3,405.1 350.6,406.9 349.9,408.9 349.4,410.9 349.3,411.4 348.9,412.9 348.5,414.9 348.0,416.9 347.4,418.9 347.3,419.3 346.8,420.9 346.2,422.9 345.8,424.9 345.6,426.9 345.7,428.9 346.0,430.9 346.4,432.9 346.7,434.9 346.8,436.9 347.1,438.9 347.3,439.7 347.7,440.9 348.7,442.9 349.3,443.7 350.2,444.9 351.3,446.0 352.4,446.9 353.3,447.5 355.3,448.6 356.2,448.9 357.3,449.2 359.3,449.2 361.3,448.9 361.5,448.9 363.3,448.6 365.3,448.5 367.3,448.5 369.3,448.3 371.3,447.7 372.8,446.9 373.3,446.6 375.3,445.2 375.6,444.9 377.3,443.6 378.3,442.9 379.3,442.3 381.3,441.1 381.6,440.9 383.3,439.7 384.3,438.9 385.3,437.9 386.0,436.9 387.2,434.9 387.3,434.8 388.3,432.9 389.3,431.4 389.6,430.9 390.7,428.9 391.3,427.9 391.9,426.9 393.2,424.9 393.3,424.7 394.1,422.9 395.0,420.9 395.3,420.2 395.9,418.9 397.1,416.9 397.3,416.5 398.2,414.9 399.1,412.9 399.3,412.4 399.9,410.9 401.0,408.9 401.3,408.4 402.3,406.9 403.3,405.6 403.9,404.9 405.3,403.6 406.2,402.9 407.3,402.1 409.3,401.0 409.4,400.9 411.3,399.5 412.0,398.9 413.3,397.6 414.1,396.9 415.3,395.8 416.5,394.9 417.3,394.3 419.3,393.0 419.4,392.9 421.3,391.5 422.2,390.9 423.3,390.1 425.1,388.9 425.3,388.7 427.3,387.0 427.4,386.9 429.3,385.5 430.4,384.9 431.3,384.3 433.3,383.0 433.5,382.9 435.3,381.5 436.2,380.9 437.3,380.1 439.0,378.9 439.3,378.6 441.3,376.9 441.3,376.9 443.3,375.2 443.7,374.9 445.3,373.5 446.1,372.9 447.3,371.9 448.5,370.9 449.3,370.2 450.9,368.9 451.3,368.6 453.3,367.0 453.4,366.9 455.3,365.1 455.5,364.9 457.0,362.9 457.3,362.4 458.3,360.9 459.3,359.3 459.5,358.9 460.8,356.9 461.3,356.1 462.2,354.9 463.3,353.3 463.6,352.9 465.0,350.9 465.3,350.4 466.2,348.9 466.9,346.9 467.2,344.9 467.3,344.4 467.5,342.9 467.6,340.9 468.0,338.9 468.5,336.9 469.0,334.9 469.2,332.9 468.7,330.9 467.5,328.9 467.3,328.6 465.9,326.9 465.3,326.0 464.5,324.9 463.4,322.9 463.3,322.7 462.2,320.9 461.3,319.9 459.7,318.9 459.3,318.7 457.3,318.3 455.3,318.1 453.3,317.8 451.3,317.3 449.4,316.9 449.3,316.9 447.3,316.6 445.3,316.5 443.3,316.7 441.3,316.9M563.3,356.3 561.3,356.9 561.3,356.9 559.3,357.8 557.3,358.8 557.2,358.9 555.3,360.1 554.2,360.9 553.3,361.6 551.7,362.9 551.3,363.3 549.3,364.9 549.3,364.9 547.3,366.6 546.9,366.9 545.3,368.2 544.4,368.9 543.3,369.8 541.9,370.9 541.3,371.3 539.4,372.9 539.3,373.0 537.3,374.6 536.9,374.9 535.3,376.1 534.3,376.9 533.3,377.6 531.6,378.9 531.3,379.1 529.3,380.7 529.1,380.9 527.3,382.7 527.1,382.9 525.7,384.9 525.3,385.4 524.2,386.9 523.3,388.0 522.4,388.9 521.3,390.1 520.7,390.9 519.6,392.9 519.3,394.9 519.5,396.9 519.8,398.9 520.1,400.9 520.2,402.9 520.4,404.9 520.5,406.9 520.7,408.9 521.1,410.9 521.3,411.3 522.1,412.9 522.9,414.9 523.3,416.0 523.7,416.9 524.5,418.9 525.3,420.8 525.4,420.9 526.2,422.9 527.0,424.9 527.3,425.8 527.8,426.9 528.9,428.9 529.3,429.6 530.2,430.9 531.3,432.8 531.3,432.9 532.5,434.9 533.3,436.3 533.7,436.9 534.9,438.9 535.3,439.6 536.2,440.9 537.3,442.2 538.0,442.9 539.3,444.3 539.9,444.9 541.3,446.7 541.4,446.9 542.5,448.9 543.3,450.0 544.4,450.9 545.3,451.3 547.3,451.1 547.6,450.9 549.3,450.0 551.3,449.0 551.4,448.9 553.3,447.8 554.9,446.9 555.3,446.6 556.9,444.9 557.3,444.4 558.4,442.9 559.3,441.7 560.0,440.9 561.3,439.3 561.6,438.9 563.1,436.9 563.3,436.7 564.7,434.9 565.3,434.2 566.4,432.9 567.3,431.3 567.5,430.9 568.1,428.9 568.6,426.9 569.1,424.9 569.3,423.9 569.5,422.9 570.1,420.9 570.7,418.9 571.3,417.0 571.3,416.9 571.9,414.9 572.4,412.9 572.5,410.9 572.5,408.9 572.3,406.9 572.0,404.9 571.7,402.9 571.4,400.9 571.3,399.8 571.2,398.9 571.0,396.9 571.0,394.9 571.1,392.9 571.3,391.3 571.4,390.9 571.8,388.9 572.4,386.9 573.0,384.9 573.3,383.9 573.6,382.9 574.2,380.9 574.7,378.9 575.2,376.9 575.3,376.6 575.6,374.9 575.8,372.9 575.8,370.9 575.7,368.9 575.5,366.9 575.6,364.9 575.7,362.9 575.5,360.9 575.3,360.3 574.5,358.9 573.3,357.7 572.1,356.9 571.3,356.5 569.3,355.9 567.3,355.7 565.3,355.8 563.3,356.3M681.3,391.6 679.6,392.9 679.3,393.2 678.3,394.9 677.3,396.4 676.9,396.9 675.3,398.3 674.7,398.9 673.3,400.1 672.6,400.9 671.3,402.7 671.2,402.9 670.1,404.9 669.3,406.7 669.2,406.9 668.3,408.9 667.3,410.5 667.1,410.9 666.0,412.9 665.3,414.5 665.1,414.9 664.8,416.9 664.8,418.9 664.8,420.9 664.9,422.9 664.7,424.9 664.7,426.9 664.8,428.9 665.3,430.6 665.4,430.9 666.5,432.9 667.3,434.2 667.8,434.9 668.9,436.9 669.3,437.7 669.9,438.9 671.0,440.9 671.3,441.3 672.8,442.9 673.3,443.4 675.3,444.6 675.9,444.9 677.3,445.6 679.3,446.7 679.7,446.9 681.3,447.9 682.8,448.9 683.3,449.2 685.3,450.3 686.7,450.9 687.3,451.1 689.3,451.7 691.3,452.1 693.3,452.5 695.0,452.9 695.3,453.0 697.3,453.6 699.3,454.1 701.3,454.6 703.3,454.8 705.3,454.8 707.3,454.5 709.3,454.2 711.3,454.0 713.3,453.8 715.3,453.6 717.3,453.2 718.0,452.9 719.3,452.3 721.2,450.9 721.3,450.8 723.1,448.9 723.3,448.7 724.9,446.9 725.3,446.6 727.3,445.4 729.3,445.1 731.3,446.0 733.3,446.7 734.6,446.9 735.3,447.0 736.7,446.9 737.3,446.9 739.3,446.4 741.3,445.6 742.8,444.9 743.3,444.7 745.3,443.5 746.1,442.9 747.3,442.1 748.7,440.9 749.3,440.3 750.8,438.9 751.3,438.3 752.5,436.9 753.3,435.8 754.0,434.9 755.2,432.9 755.3,432.7 756.3,430.9 757.1,428.9 757.3,428.3 757.8,426.9 758.3,424.9 758.5,422.9 758.6,420.9 758.6,418.9 758.3,416.9 757.8,414.9 757.3,413.5 757.1,412.9 756.1,410.9 755.3,409.6 754.9,408.9 753.4,406.9 753.3,406.8 751.5,404.9 751.3,404.7 749.3,403.0 749.2,402.9 747.3,401.5 746.5,400.9 745.3,400.1 743.3,398.9 743.2,398.9 741.3,397.9 739.3,396.9 739.2,396.9 737.3,396.1 735.3,395.3 734.1,394.9 733.3,394.7 731.3,394.1 729.3,393.6 727.3,393.2 725.3,392.9 724.8,392.9 723.3,392.8 721.3,392.7 719.3,392.7 717.4,392.9 717.3,392.9 715.3,393.2 713.3,393.6 711.3,394.1 709.3,394.7 708.4,394.9 707.3,395.2 705.3,395.7 703.3,396.1 701.3,396.3 699.3,396.4 697.3,396.3 695.3,396.1 693.3,395.6 691.3,394.9 691.2,394.9 689.3,394.1 687.3,393.1 686.9,392.9 685.3,392.1 683.3,391.3 681.3,391.6M135.3,430.1 135.7,428.9 136.2,426.9 136.8,424.9 137.3,423.2 137.4,422.9 138.0,420.9 138.5,418.9 139.1,416.9 139.3,416.3 139.7,414.9 140.3,412.9 140.8,410.9 141.3,409.3 141.4,408.9 142.0,406.9 142.6,404.9 143.1,402.9 143.3,402.3 143.7,400.9 144.3,398.9 144.9,396.9 145.3,395.4 145.4,394.9 146.0,392.9 146.6,390.9 147.2,388.9 147.3,388.6 147.8,386.9 148.4,384.9 149.0,382.9 149.3,381.9 149.6,380.9 150.2,378.9 150.9,376.9 151.3,375.5 151.5,374.9 152.1,372.9 152.8,370.9 153.3,369.3 153.4,368.9 154.1,366.9 154.8,364.9 155.3,363.3 155.4,362.9 156.1,360.9 156.8,358.9 157.3,357.6 157.5,356.9 158.3,354.9 159.0,352.9 159.3,352.1 159.7,350.9 160.5,348.9 161.3,346.9 161.3,346.8 162.0,344.9 162.8,342.9 163.3,341.8 163.6,340.9 164.5,338.9 165.3,336.9 165.3,336.9 166.1,334.9 167.0,332.9 167.3,332.2 167.9,330.9 168.8,328.9 169.3,327.7 169.7,326.9 170.6,324.9 171.3,323.4 171.5,322.9 172.5,320.9 173.3,319.2 173.5,318.9 174.4,316.9 175.3,315.2 175.4,314.9 176.4,312.9 177.3,311.2 177.5,310.9 178.5,308.9 179.3,307.4 179.6,306.9 180.7,304.9 181.3,303.7 181.7,302.9 182.8,300.9 183.3,300.1 184.0,298.9 185.1,296.9 185.3,296.6 186.3,294.9 187.3,293.1 187.4,292.9 188.6,290.9 189.3,289.7 189.8,288.9M785.3,478.0 783.5,476.9 783.3,476.8 781.3,475.7 779.6,474.9 779.3,474.8 777.3,474.0 775.3,473.4 773.3,472.9 773.2,472.9 771.3,472.6 769.3,472.4 767.3,472.3 765.3,472.3 763.3,472.5 761.3,472.7 759.8,472.9 759.3,473.0 757.3,473.2 755.3,473.4 753.3,473.5 751.3,473.3 749.3,473.0 748.7,472.9 747.3,472.5 745.3,471.8 743.5,470.9 743.3,470.8 741.3,469.4 740.6,468.9 739.3,467.5 738.8,466.9 737.5,464.9 737.3,464.4 736.5,462.9 735.3,460.9 735.3,460.9 733.3,459.5 731.3,459.0 729.3,459.4 727.5,460.9 727.3,461.1 726.3,462.9 725.4,464.9 725.3,465.1 724.2,466.9 723.3,468.0 722.6,468.9 721.3,470.5 721.0,470.9 719.4,472.9 719.3,473.0 717.6,474.9 717.3,475.3 716.0,476.9 715.3,477.7 714.5,478.9 713.3,480.7 713.2,480.9 711.9,482.9 711.3,484.0 710.8,484.9 709.6,486.9 709.3,487.3 708.3,488.9 707.3,490.4 707.0,490.9 705.9,492.9 705.3,494.2 705.0,494.9 704.3,496.9 703.6,498.9 703.3,500.0 703.0,500.9 702.3,502.9 701.5,504.9 701.3,505.5 700.8,506.9 700.2,508.9 699.8,510.9 699.8,512.9 699.9,514.9 700.2,516.9 700.4,518.9 700.6,520.9 700.8,522.9 700.9,524.9 701.1,526.9 701.3,528.1 701.4,528.9 701.8,530.9 702.3,532.9 702.9,534.9 703.3,535.9 703.7,536.9 704.7,538.9 705.3,539.8 706.0,540.9 707.3,542.4 707.8,542.9 709.3,544.4 709.8,544.9 711.3,546.2 712.2,546.9 713.3,547.9 714.6,548.9 715.3,549.4 717.2,550.9 717.3,550.9 719.3,552.7 719.6,552.9 721.3,554.5 721.8,554.9 723.3,556.0 724.8,556.9 725.3,557.1 727.3,557.7 729.3,558.1 731.3,558.3 733.3,558.8 733.8,558.9 735.3,559.3 737.3,559.7 739.3,559.7 741.3,559.3 742.5,558.9 743.3,558.6 745.3,557.8 747.3,557.0 747.6,556.9 749.3,556.3 751.3,555.7 753.3,555.0 753.7,554.9 755.3,554.3 757.3,553.6 759.2,552.9 759.3,552.8 761.3,552.0 763.3,551.1 763.7,550.9 765.3,550.1 767.3,549.2 768.6,548.9 769.3,548.7 771.3,548.9 771.5,548.9 773.3,549.3 775.3,549.9 777.3,550.5 779.0,550.9 779.3,551.0 781.3,551.3 783.3,551.6 785.3,551.7M469.3,504.7 469.1,504.9 468.5,506.9 468.7,508.9 469.3,510.4 469.5,510.9 470.6,512.9 471.3,514.1 471.8,514.9 473.1,516.9 473.3,517.3 474.3,518.9 474.9,520.9 475.2,522.9 475.3,524.9 475.2,526.9 475.1,528.9 475.2,530.9 475.3,531.3 475.6,532.9 475.9,534.9 475.3,536.2 474.7,536.9 473.3,537.6 471.3,538.1 469.3,538.5 467.3,538.9 467.2,538.9 465.3,539.4 463.3,540.0 461.3,540.7 460.9,540.9 459.3,541.8 457.9,542.9 457.3,543.3 455.3,544.9 455.3,544.9 453.3,546.3 452.5,546.9 451.3,547.6 449.3,548.8 449.1,548.9 447.3,549.8 445.3,550.7 444.7,550.9 443.3,551.3 441.3,551.5 439.3,552.0 437.7,552.9 437.3,553.2 435.7,554.9 435.3,555.5 434.1,556.9 433.3,557.5 431.3,558.9 431.3,558.9 429.3,560.4 428.7,560.9 427.3,562.1 426.5,562.9 425.3,564.0 424.4,564.9 423.3,565.9 422.1,566.9 421.3,567.6 419.8,568.9 419.3,569.3 417.7,570.9 417.3,571.3 415.7,572.9 415.3,573.3 413.8,574.9 413.3,575.5 412.0,576.9 411.3,577.7 410.3,578.9 409.3,580.0 408.5,580.9 407.3,582.4 406.9,582.9 405.3,584.9 405.3,584.9 404.0,586.9 403.3,588.0 402.8,588.9 401.5,590.9 401.3,591.3 400.3,592.9 399.4,594.9 399.3,595.0 398.5,596.9 397.9,598.9 397.3,600.9 397.3,601.1 396.9,602.9 396.7,604.9 396.5,606.9 396.2,608.9 395.8,610.9 395.5,612.9 395.3,614.0 395.1,614.9 394.4,616.9 393.8,618.9 393.3,620.9 393.3,620.9 392.8,622.9 392.5,624.9 392.2,626.9 391.9,628.9 391.5,630.9 391.3,631.5 390.7,632.9 389.6,634.9 389.3,635.6 388.6,636.9 387.7,638.9 387.3,640.1 387.0,640.9 386.4,642.9 385.7,644.9 385.3,646.0 384.9,646.9 383.8,648.9 383.3,649.8 382.6,650.9 381.4,652.9 381.3,653.1 379.9,654.9 379.3,655.6 377.7,656.9 377.3,657.2 375.3,658.6 374.8,658.9 373.3,659.9 372.0,660.9 371.3,661.5 369.6,662.9 369.3,663.2 367.4,664.9 367.3,665.0 365.3,666.9 365.3,666.9 363.4,668.9 363.3,669.0 361.7,670.9 361.3,671.3 360.0,672.9 359.3,673.8 358.4,674.9 357.3,676.5 357.1,676.9 357.0,678.9 357.2,680.9 357.3,682.2 357.4,682.9 357.7,684.9 358.2,686.9 358.9,688.9 359.3,689.6 360.0,690.9 361.3,692.8 361.4,692.9 362.8,694.9 363.3,695.6 364.3,696.9 365.3,698.0 366.2,698.9 367.3,699.9 368.6,700.9 369.3,701.4 371.3,702.7 371.7,702.9 373.3,703.9 375.3,704.8 375.4,704.9 377.3,705.7 379.3,706.3 381.3,706.9 381.3,706.9 383.3,707.3 385.3,707.6 387.3,707.7 389.3,707.7 391.3,707.5 393.3,707.2 394.7,706.9 395.3,706.8 397.3,706.3 399.3,705.8 401.3,705.3 403.3,704.9 403.3,704.9 405.3,704.4 407.3,703.8 409.3,703.1 409.9,702.9 411.3,702.4 413.3,701.6 415.2,700.9 415.3,700.8 417.3,700.1 419.3,699.4 420.4,698.9 421.3,698.5 423.3,697.2 423.9,696.9 425.3,696.0 427.1,694.9 427.3,694.8 429.3,694.0 431.3,693.7 433.3,693.8 435.3,694.1 437.3,694.4 439.3,694.6 441.3,694.8 442.7,694.9 443.3,695.0 445.3,695.3 447.3,695.7 449.3,696.1 451.3,696.5 453.3,696.9 453.3,696.9 455.3,697.5 457.3,698.3 458.4,698.9 459.3,699.4 461.3,700.1 463.3,700.7 464.0,700.9 465.3,701.2 467.3,701.5 469.3,701.7 471.3,701.7 473.3,701.3 474.3,700.9 475.3,700.3 476.8,698.9 477.3,698.3 478.1,696.9 478.3,694.9 478.1,692.9 477.8,690.9 477.6,688.9 477.3,687.9 477.0,686.9 476.4,684.9 476.1,682.9 476.2,680.9 476.4,678.9 476.5,676.9 476.5,674.9 476.5,672.9 476.4,670.9 476.4,668.9 476.4,666.9 476.4,664.9 476.4,662.9 476.4,660.9 476.5,658.9 476.8,656.9 477.1,654.9 477.3,653.5 477.4,652.9 477.8,650.9 478.3,648.9 478.8,646.9 479.3,645.7 479.6,644.9 480.5,642.9 481.3,641.2 481.5,640.9 482.5,638.9 483.3,637.3 483.5,636.9 484.5,634.9 485.3,633.1 485.4,632.9 486.3,630.9 487.1,628.9 487.3,628.4 487.8,626.9 488.4,624.9 488.8,622.9 489.3,621.0 489.3,620.9 489.8,618.9 490.3,616.9 490.8,614.9 491.3,613.0 491.3,612.9 492.0,610.9 493.3,608.9 493.3,608.9 494.8,606.9 495.3,606.3 496.3,604.9 497.3,603.5 497.8,602.9 499.3,601.2 499.6,600.9 501.3,599.2 501.6,598.9 503.3,597.1 503.5,596.9 505.3,595.3 505.7,594.9 507.3,593.3 507.7,592.9 509.3,591.1 509.6,590.9 511.3,589.7 512.5,588.9 513.3,588.4 515.2,586.9 515.3,586.8 517.3,584.9 517.3,584.9 519.3,582.9 519.3,582.9 521.0,580.9 521.3,580.5 522.6,578.9 523.3,577.9 524.1,576.9 525.3,575.6 526.0,574.9 527.3,573.7 528.2,572.9 529.3,572.0 530.6,570.9 531.3,570.3 532.6,568.9 533.3,568.2 534.4,566.9 535.3,565.7 536.0,564.9 537.3,563.3 537.7,562.9 539.3,561.2 539.6,560.9 541.3,559.4 541.9,558.9 543.3,557.6 543.8,556.9 544.3,554.9 544.5,552.9 544.6,550.9 544.6,548.9 544.5,546.9 544.4,544.9 544.3,542.9 544.3,540.9 544.1,538.9 543.9,536.9 543.5,534.9 543.3,534.0 543.0,532.9 542.5,530.9 542.0,528.9 541.5,526.9 541.3,525.9 541.0,524.9 540.3,522.9 539.3,520.9 539.3,520.9 537.8,518.9 537.3,518.2 536.0,516.9 535.3,516.2 533.6,514.9 533.3,514.7 531.3,513.4 530.3,512.9 529.3,512.4 527.3,511.7 525.3,511.1 523.3,510.9 521.3,511.3 519.3,511.6 517.3,511.5 515.3,511.0 515.2,510.9 513.3,510.3 511.3,509.6 509.3,509.1 508.2,508.9 507.3,508.8 505.3,508.5 503.3,508.2 501.3,507.9 499.3,507.6 497.3,507.2 495.8,506.9 495.3,506.8 493.3,506.5 491.3,506.1 489.3,505.7 487.3,505.3 485.3,504.9 485.3,504.9 483.3,504.5 481.3,504.1 479.3,503.7 477.3,503.2 475.3,502.9 473.3,502.9 471.3,503.4 469.3,504.7M283.3,594.3 281.8,594.9 281.3,595.1 279.3,596.2 278.3,596.9 277.3,597.5 275.3,598.6 274.9,598.9 273.3,600.0 272.2,600.9 271.3,601.6 269.6,602.9 269.3,603.1 267.3,604.3 266.5,604.9 265.3,605.8 264.0,606.9 263.3,607.5 261.7,608.9 261.3,609.3 259.8,610.9 259.3,611.4 257.9,612.9 257.3,613.5 255.8,614.9 255.3,615.4 253.8,616.9 253.3,617.4 251.9,618.9 251.3,619.7 250.3,620.9 249.3,622.2 248.8,622.9 247.5,624.9 247.3,625.3 246.4,626.9 245.6,628.9 245.3,629.8 245.0,630.9 244.7,632.9 244.5,634.9 244.6,636.9 244.8,638.9 245.3,640.7 245.4,640.9 246.4,642.9 247.3,644.1 247.9,644.9 249.3,646.5 249.7,646.9 251.3,648.4 252.0,648.9 253.3,649.9 254.9,650.9 255.3,651.1 257.3,652.3 258.4,652.9 259.3,653.4 261.3,654.7 261.6,654.9 263.3,656.0 264.9,656.9 265.3,657.1 267.3,657.9 269.3,658.3 271.3,658.7 272.6,658.9 273.3,659.0 275.3,659.5 277.3,659.9 279.3,660.3 281.3,660.5 283.3,660.4 285.3,660.2 287.3,659.7 289.3,658.9 289.4,658.9 291.3,657.6 292.0,656.9 293.3,655.4 293.6,654.9 295.0,652.9 295.3,652.5 296.6,650.9 297.3,650.1 298.3,648.9 299.3,647.3 299.5,646.9 300.3,644.9 300.8,642.9 301.0,640.9 301.1,638.9 301.3,637.8 301.4,636.9 301.9,634.9 302.2,632.9 302.5,630.9 302.9,628.9 303.2,626.9 303.3,626.3 303.4,624.9 303.4,622.9 303.3,620.9 303.6,618.9 303.8,616.9 304.0,614.9 304.0,612.9 304.0,610.9 303.8,608.9 303.5,606.9 303.3,605.4 303.2,604.9 303.2,602.9 303.0,600.9 302.5,598.9 301.3,597.1 301.1,596.9 299.3,595.4 298.3,594.9 297.3,594.4 295.3,593.8 293.3,593.4 291.3,593.5 289.3,593.7 287.3,593.8 285.3,594.0 283.3,594.3M523.3,684.9 523.3,684.9 521.3,685.5 519.3,686.1 517.3,686.9 517.2,686.9 515.3,687.9 513.3,688.8 512.9,688.9 511.3,689.6 509.3,690.2 507.5,690.9 507.3,691.0 505.3,691.9 503.3,692.6 502.4,692.9 501.3,693.3 499.3,694.3 498.2,694.9 497.3,695.5 495.4,696.9 495.3,696.9 493.3,698.7 493.2,698.9 491.8,700.9 491.3,701.9 491.0,702.9 490.2,704.9 489.3,706.7 489.2,706.9 488.3,708.9 487.8,710.9 487.8,712.9 487.8,714.9 487.4,716.9 487.3,717.1 486.7,718.9 486.5,720.9 487.3,721.9 488.1,722.9 489.2,724.9 489.3,725.7 489.5,726.9 489.5,728.9 489.7,730.9 490.6,732.9 491.3,734.9 491.3,734.9 491.9,736.9 492.0,738.9 492.1,740.9 492.5,742.9 492.8,744.9 492.8,746.9 493.1,748.9 493.3,750.5 493.4,750.9 493.6,752.9 493.8,754.9 494.2,756.9 494.5,758.9 494.7,760.9 494.9,762.9 495.2,764.9 495.3,765.6 495.5,766.9 495.7,768.9 496.0,770.9 496.2,772.9 496.3,774.9 496.4,776.9 496.6,778.9 496.8,780.9 496.9,782.9 497.0,784.9 497.0,786.9 496.9,788.9 496.7,790.9 496.4,792.9 496.2,794.9 496.0,796.9 495.8,798.9 495.7,800.9 495.7,802.9 496.1,804.9 496.7,806.9 497.3,808.3 497.7,808.9 499.3,810.9 499.3,810.9 501.3,812.3 502.8,812.9 503.3,813.1 505.3,813.4 507.3,813.5 509.3,813.6 511.3,813.8 513.3,814.1 515.3,814.2 517.3,814.3 519.3,814.2 521.3,814.1 523.3,813.9 525.3,813.7 527.3,813.5 529.3,813.3 531.3,813.2 533.3,813.0 535.3,812.9 537.3,813.0 539.3,813.1 541.3,813.1 543.3,812.9 543.4,812.9 545.3,812.4 547.3,811.6 548.7,810.9 549.3,810.6 551.3,809.8 553.3,809.1 553.8,808.9 555.3,808.3 557.3,807.3 557.8,806.9 559.3,805.6 560.0,804.9 561.3,803.5 561.8,802.9 563.3,801.4 563.8,800.9 565.3,799.5 566.0,798.9 567.3,797.5 567.8,796.9 569.3,795.1 569.5,794.9 570.9,792.9 571.3,792.2 572.1,790.9 573.1,788.9 573.3,788.4 574.0,786.9 574.7,784.9 575.3,783.2 575.4,782.9 576.0,780.9 576.5,778.9 576.8,776.9 577.1,774.9 577.2,772.9 577.1,770.9 577.0,768.9 576.9,766.9 576.9,764.9 576.8,762.9 576.6,760.9 576.3,758.9 576.0,756.9 575.5,754.9 575.3,754.2 575.0,752.9 574.2,750.9 573.3,749.0 573.3,748.9 572.6,746.9 572.7,744.9 573.0,742.9 572.7,740.9 571.3,739.2 570.9,738.9 569.3,737.9 568.1,736.9 567.3,735.2 567.2,734.9 567.3,734.8 568.6,732.9 568.7,730.9 567.5,728.9 567.3,728.5 566.0,726.9 567.1,724.9 566.7,722.9 565.3,721.3 564.4,720.9 563.3,719.8 562.5,718.9 563.2,716.9 563.2,714.9 562.6,712.9 561.5,710.9 561.3,710.6 559.8,708.9 559.3,708.6 557.3,707.5 555.3,707.3 554.0,706.9 553.9,704.9 553.4,702.9 553.3,702.7 551.6,700.9 551.3,700.6 549.3,699.9 547.4,698.9 548.0,696.9 547.7,694.9 547.3,694.1 546.4,692.9 545.3,691.8 543.4,690.9 543.3,690.8 541.3,690.4 539.3,689.8 537.8,688.9 537.3,688.5 535.6,686.9 535.3,686.6 533.3,685.2 532.5,684.9 531.3,684.6 529.3,684.4 527.3,684.4 525.3,684.5 523.3,684.9M663.3,712.8 663.1,712.9 661.3,713.9 660.0,714.9 659.3,715.4 657.5,716.9 657.3,717.0 655.3,718.9 655.3,718.9 653.4,720.9 653.3,721.1 651.8,722.9 651.3,723.5 650.4,724.9 649.3,726.8 649.3,726.9 648.6,728.9 648.1,730.9 647.5,732.9 647.3,733.6 647.0,734.9 646.4,736.9 645.7,738.9 645.3,740.3 645.2,740.9 644.7,742.9 644.2,744.9 643.7,746.9 643.3,748.3 643.2,748.9 642.7,750.9 642.2,752.9 641.7,754.9 641.3,756.3 641.1,756.9 640.6,758.9 639.9,760.9 639.3,762.7 639.2,762.9 638.6,764.9 637.9,766.9 637.3,768.5 637.2,768.9 636.5,770.9 635.9,772.9 635.3,774.9 635.3,775.0 634.9,776.9 634.5,778.9 634.2,780.9 633.7,782.9 633.3,784.7 633.2,784.9 632.8,786.9 632.4,788.9 632.3,790.9 632.5,792.9 633.0,794.9 633.3,795.8 633.7,796.9 634.2,798.9 634.5,800.9 635.0,802.9 635.3,803.7 635.9,804.9 637.3,806.4 637.8,806.9 639.3,808.1 640.5,808.9 641.3,809.6 642.6,810.9 643.3,811.6 644.7,812.9 645.3,813.4 647.3,814.5 649.3,814.9 650.0,814.9 651.3,815.0 653.3,815.0 655.3,815.3 657.3,815.6 659.3,815.8 661.3,815.5 662.5,814.9 663.3,814.5 665.3,813.2 665.7,812.9 667.3,811.8 668.9,810.9 669.3,810.7 671.3,809.7 672.6,808.9 673.3,808.4 675.0,806.9 675.3,806.6 676.4,804.9 677.3,803.3 677.5,802.9 678.6,800.9 679.3,799.7 679.8,798.9 681.2,796.9 681.3,796.8 682.3,794.9 683.1,792.9 683.3,791.8 683.4,790.9 683.6,788.9 683.6,786.9 683.7,784.9 683.8,782.9 684.1,780.9 684.3,778.9 684.5,776.9 684.5,774.9 684.2,772.9 683.8,770.9 683.3,769.3 683.2,768.9 682.6,766.9 681.9,764.9 681.3,763.0 681.3,762.9 680.6,760.9 680.0,758.9 679.5,756.9 679.3,756.2 679.0,754.9 678.7,752.9 678.5,750.9 678.4,748.9 678.3,746.9 678.1,744.9 678.0,742.9 677.9,740.9 677.7,738.9 677.4,736.9 677.3,736.0 677.1,734.9 676.8,732.9 676.4,730.9 676.1,728.9 675.8,726.9 675.6,724.9 675.3,723.4 675.2,722.9 674.7,720.9 674.1,718.9 673.3,716.9 673.3,716.8 672.1,714.9 671.3,714.0 669.9,712.9 669.3,712.5 667.3,711.9 665.3,712.0 663.3,712.8M363.3,800.5 362.5,800.9 361.3,801.5 359.3,802.8 359.1,802.9 357.3,804.5 356.9,804.9 355.3,806.9 355.3,806.9 354.2,808.9 353.5,810.9 353.3,812.2 353.2,812.9 353.3,814.4 353.3,814.9 353.9,816.9 354.9,818.9 355.3,819.4 356.7,820.9 357.3,821.4 359.3,822.8 359.4,822.9 361.3,824.0 363.2,824.9 363.3,825.0 365.3,825.8 367.3,826.7 367.7,826.9 369.3,827.7 371.3,828.8 371.6,828.9 373.3,829.5 375.3,829.7 377.3,829.5 379.3,829.2 381.3,829.0 383.3,829.0 385.3,828.9 385.3,828.9 387.3,828.5 389.3,827.5 390.0,826.9 391.3,825.7 392.0,824.9 393.3,823.3 393.6,822.9 394.6,820.9 395.1,818.9 394.9,816.9 394.3,814.9 393.5,812.9 393.3,812.3 392.6,810.9 391.9,808.9 391.3,807.1 391.2,806.9 390.1,804.9 389.3,803.9 387.9,802.9 387.3,802.5 385.3,801.9 383.3,801.6 381.3,801.3 379.3,800.9 379.2,800.9 377.3,800.7 375.3,800.5 373.3,800.1 371.3,799.7 369.3,799.5 367.3,799.6 365.3,799.9 363.3,800.5M405.3,366.6 404.9,366.9 403.3,368.9 404.0,370.9 405.3,371.6 407.3,371.2 407.7,370.9 408.8,368.9 407.9,366.9 407.3,366.5 405.3,366.6M543.3,416.8 543.2,416.9 542.4,418.9 542.3,420.9 542.8,422.9 543.3,423.9 544.9,424.9 545.3,425.1 546.1,424.9 547.3,424.6 548.8,422.9 549.3,421.7 549.5,420.9 549.4,418.9 549.3,418.4 548.6,416.9 547.3,415.7 545.3,415.5 543.3,416.8M731.3,494.8 730.8,494.9 729.3,495.2 727.3,495.9 725.3,496.9 725.3,496.9 723.3,498.2 722.4,498.9 721.3,499.9 720.3,500.9 719.3,502.1 718.7,502.9 717.5,504.9 717.3,505.3 716.6,506.9 715.9,508.9 715.5,510.9 715.3,512.4 715.2,512.9 715.2,514.9 715.3,515.6 715.5,516.9 715.9,518.9 716.5,520.9 717.3,522.8 717.4,522.9 718.5,524.9 719.3,526.0 720.1,526.9 721.3,528.2 722.1,528.9 723.3,529.8 725.0,530.9 725.3,531.1 727.3,532.0 729.3,532.7 730.0,532.9 731.3,533.2 733.3,533.5 735.3,533.5 737.3,533.3 739.3,533.0 739.6,532.9 741.3,532.4 743.3,531.5 744.4,530.9 745.3,530.4 747.3,528.9 747.3,528.9 749.3,527.0 749.4,526.9 750.9,524.9 751.3,524.2 752.1,522.9 753.0,520.9 753.3,520.0 753.7,518.9 754.1,516.9 754.2,514.9 754.2,512.9 754.0,510.9 753.5,508.9 753.3,508.3 752.9,506.9 752.0,504.9 751.3,503.7 750.8,502.9 749.4,500.9 749.3,500.8 747.3,498.9 747.3,498.9 745.3,497.6 744.1,496.9 743.3,496.5 741.3,495.6 739.3,495.0 738.6,494.9 737.3,494.7 735.3,494.5 733.3,494.5 731.3,494.8M521.3,522.5 519.8,522.9 519.3,523.1 517.3,523.5 515.3,523.7 513.3,523.7 511.3,523.7 509.3,524.0 507.3,524.7 506.9,524.9 505.3,525.8 503.9,526.9 503.3,527.4 501.8,528.9 501.3,529.4 499.9,530.9 499.3,531.6 498.4,532.9 497.4,534.9 497.3,535.3 496.6,536.9 495.3,538.6 493.3,538.3 491.3,537.9 489.3,537.8 487.3,538.4 486.5,538.9 485.3,539.9 484.5,540.9 483.3,542.5 482.9,542.9 481.3,544.5 480.7,544.9 479.3,545.6 477.3,546.3 475.3,546.8 474.4,546.9 473.3,547.0 471.3,547.2 469.3,547.1 467.3,546.9 467.2,546.9 465.3,546.7 463.3,546.7 462.1,546.9 461.3,547.0 459.3,547.6 457.3,548.4 456.2,548.9 455.3,549.2 453.3,550.1 451.3,550.9 451.2,550.9 449.3,551.5 447.3,552.2 445.3,552.8 444.6,552.9 443.3,553.1 441.3,553.3 439.3,553.9 437.9,554.9 437.3,555.4 436.2,556.9 435.3,557.8 434.1,558.9 433.3,559.6 431.7,560.9 431.3,561.3 429.7,562.9 429.3,563.3 427.8,564.9 427.3,565.5 426.0,566.9 425.3,567.6 423.9,568.9 423.3,569.4 421.4,570.9 421.3,571.0 419.3,572.8 419.2,572.9 417.3,574.7 417.1,574.9 415.3,576.8 415.2,576.9 413.4,578.9 413.3,579.1 411.7,580.9 411.3,581.3 409.9,582.9 409.3,583.6 408.2,584.9 407.3,586.1 406.7,586.9 405.4,588.9 405.3,589.1 404.2,590.9 403.3,592.4 403.0,592.9 401.9,594.9 401.3,596.2 401.0,596.9 400.2,598.9 399.6,600.9 399.3,602.4 399.2,602.9 398.9,604.9 398.6,606.9 398.3,608.9 398.0,610.9 397.7,612.9 397.3,614.7 397.2,614.9 396.7,616.9 396.1,618.9 395.6,620.9 395.3,622.2 395.1,622.9 394.7,624.9 394.4,626.9 394.2,628.9 393.8,630.9 393.3,632.6 393.2,632.9 392.3,634.9 391.4,636.9 391.3,637.1 390.5,638.9 389.9,640.9 389.4,642.9 389.3,643.4 388.9,644.9 388.3,646.9 387.5,648.9 387.3,649.2 386.4,650.9 385.4,652.9 385.3,653.0 384.3,654.9 383.3,656.5 383.0,656.9 381.3,658.9 381.3,658.9 379.3,660.8 379.1,660.9 377.3,662.4 376.6,662.9 375.3,663.9 374.1,664.9 373.3,665.6 371.9,666.9 371.3,667.5 369.9,668.9 369.3,669.6 368.1,670.9 367.3,671.9 366.5,672.9 365.3,674.7 365.1,674.9 364.0,676.9 363.3,678.8 363.3,678.9 363.1,680.9 363.2,682.9 363.3,683.1 363.7,684.9 364.4,686.9 365.3,688.7 365.4,688.9 366.6,690.9 367.3,691.9 368.1,692.9 369.3,694.3 369.9,694.9 371.3,696.2 372.3,696.9 373.3,697.6 375.3,698.8 375.5,698.9 377.3,699.8 379.3,700.7 379.7,700.9 381.3,701.6 383.3,702.2 385.3,702.7 387.2,702.9 387.3,702.9 389.3,703.0 390.6,702.9 391.3,702.9 393.3,702.6 395.3,702.2 397.3,701.7 399.3,701.1 400.1,700.9 401.3,700.5 403.3,699.9 405.3,699.3 406.4,698.9 407.3,698.5 409.3,697.8 411.3,697.0 411.5,696.9 413.3,696.1 415.3,695.3 416.2,694.9 417.3,694.4 419.3,693.3 420.1,692.9 421.3,692.2 423.3,691.1 423.7,690.9 425.3,690.2 427.3,689.5 429.3,689.0 430.7,688.9 431.3,688.9 432.7,688.9 433.3,688.9 435.3,689.1 437.3,689.4 439.3,689.7 441.3,690.0 443.3,690.2 445.3,690.3 447.3,690.4 449.3,690.4 451.3,690.3 453.3,690.1 455.3,690.0 457.3,690.3 459.3,690.6 460.5,690.9 461.3,691.1 463.3,691.5 465.3,691.6 467.3,691.2 467.7,690.9 468.9,688.9 469.1,686.9 469.0,684.9 469.0,682.9 469.0,680.9 468.9,678.9 468.9,676.9 469.0,674.9 469.2,672.9 469.3,672.2 469.5,670.9 469.9,668.9 470.2,666.9 470.4,664.9 470.6,662.9 470.8,660.9 471.2,658.9 471.3,658.5 471.7,656.9 472.2,654.9 472.7,652.9 473.3,650.9 473.3,650.9 473.9,648.9 474.5,646.9 475.3,644.9 475.3,644.8 476.1,642.9 476.9,640.9 477.3,640.0 477.9,638.9 479.1,636.9 479.3,636.5 480.2,634.9 481.2,632.9 481.3,632.7 482.2,630.9 483.0,628.9 483.3,628.1 483.7,626.9 484.3,624.9 484.8,622.9 485.2,620.9 485.3,620.2 485.5,618.9 485.8,616.9 485.9,614.9 486.1,612.9 486.5,610.9 487.3,609.8 488.1,608.9 489.3,608.0 490.5,606.9 491.3,606.2 492.7,604.9 493.3,604.3 494.6,602.9 495.3,602.1 496.3,600.9 497.3,599.7 498.0,598.9 499.3,597.5 499.9,596.9 501.3,595.5 501.9,594.9 503.3,593.6 504.0,592.9 505.3,591.3 505.6,590.9 507.2,588.9 507.3,588.8 509.3,586.9 509.4,586.9 511.3,585.3 511.8,584.9 513.3,583.4 513.7,582.9 515.1,580.9 515.3,580.5 516.1,578.9 517.0,576.9 517.3,576.4 518.1,574.9 519.3,573.4 519.8,572.9 521.3,571.6 522.1,570.9 523.3,570.2 525.3,569.0 525.5,568.9 527.3,567.7 528.4,566.9 529.3,566.1 530.4,564.9 531.3,563.5 531.6,562.9 532.4,560.9 532.7,558.9 532.6,556.9 532.3,554.9 532.1,552.9 532.6,550.9 533.3,549.4 533.7,548.9 535.1,546.9 535.3,546.6 536.3,544.9 537.0,542.9 537.3,541.4 537.4,540.9 537.4,538.9 537.4,536.9 537.3,536.5 537.1,534.9 536.4,532.9 535.4,530.9 535.3,530.7 534.0,528.9 533.3,528.1 532.1,526.9 531.3,526.2 529.7,524.9 529.3,524.6 527.3,523.4 526.0,522.9 525.3,522.7 523.3,522.4 521.3,522.5M283.3,606.4 281.8,606.9 281.3,607.1 279.3,607.9 277.3,608.7 276.9,608.9 275.3,609.8 273.7,610.9 273.3,611.2 271.4,612.9 271.3,613.0 269.4,614.9 269.3,615.0 267.6,616.9 267.3,617.3 266.0,618.9 265.3,620.0 264.7,620.9 263.6,622.9 263.3,623.6 262.7,624.9 261.9,626.9 261.4,628.9 261.3,630.9 261.7,632.9 262.6,634.9 263.3,636.0 264.0,636.9 265.3,638.5 265.7,638.9 267.3,640.5 267.8,640.9 269.3,642.1 270.4,642.9 271.3,643.4 273.3,644.4 274.5,644.9 275.3,645.2 277.3,645.7 279.3,645.9 281.3,646.0 283.3,645.7 285.3,645.2 286.0,644.9 287.3,644.3 289.3,643.2 289.7,642.9 291.3,641.6 292.0,640.9 293.3,639.4 293.6,638.9 294.6,636.9 295.3,635.2 295.4,634.9 296.1,632.9 296.9,630.9 297.3,630.1 297.7,628.9 298.3,626.9 298.3,624.9 298.0,622.9 297.8,620.9 297.6,618.9 297.5,616.9 297.3,614.9 297.3,614.8 296.9,612.9 296.0,610.9 295.3,609.7 294.6,608.9 293.3,607.7 291.9,606.9 291.3,606.6 289.3,606.0 287.3,605.8 285.3,606.0 283.3,606.4M523.3,694.2 522.3,694.9 521.3,695.8 520.2,696.9 519.3,697.7 517.3,698.8 517.1,698.9 515.3,699.7 513.3,700.8 513.2,700.9 511.3,702.5 510.8,702.9 509.3,704.9 509.3,705.0 508.4,706.9 507.9,708.9 507.3,710.9 507.3,710.9 506.2,712.9 505.4,714.9 505.3,715.1 504.4,716.9 503.3,718.9 503.3,718.9 502.0,720.9 501.5,722.9 501.3,723.5 500.5,724.9 499.3,726.7 498.7,726.9 497.3,728.6 497.0,728.9 497.3,729.1 499.3,730.9 499.3,730.9 500.4,732.9 500.6,734.9 500.3,736.9 500.3,738.9 500.4,740.9 500.4,742.9 499.9,744.9 499.6,746.9 499.7,748.9 500.1,750.9 500.5,752.9 500.9,754.9 501.3,756.2 501.5,756.9 502.3,758.9 503.2,760.9 503.3,761.1 503.8,762.9 504.4,764.9 505.1,766.9 505.3,767.5 505.8,768.9 506.3,770.9 506.9,772.9 507.3,774.5 507.4,774.9 508.2,776.9 509.2,778.9 509.3,779.0 510.7,780.9 511.3,781.6 512.6,782.9 513.3,783.6 514.5,784.9 515.3,785.8 516.2,786.9 517.3,788.1 518.0,788.9 519.3,790.5 519.6,790.9 521.0,792.9 521.3,793.3 522.7,794.9 523.3,795.4 525.3,796.6 526.1,796.9 527.3,797.2 529.3,797.7 531.3,798.1 533.3,798.6 534.3,798.9 535.3,799.3 537.3,800.0 539.3,800.6 540.8,800.9 541.3,801.0 542.1,800.9 543.3,800.7 545.3,799.8 546.7,798.9 547.3,798.5 549.3,797.1 549.6,796.9 551.3,795.9 553.2,794.9 553.3,794.8 555.3,793.8 556.8,792.9 557.3,792.6 559.2,790.9 559.3,790.7 560.3,788.9 561.2,786.9 561.3,786.5 561.9,784.9 562.7,782.9 563.3,781.6 563.6,780.9 564.6,778.9 565.3,777.4 565.5,776.9 566.6,774.9 567.3,773.6 567.6,772.9 568.4,770.9 568.8,768.9 568.9,766.9 568.9,764.9 569.0,762.9 569.1,760.9 569.2,758.9 569.3,757.3 569.3,756.9 569.4,754.9 569.5,752.9 569.3,751.3 569.3,750.9 568.7,748.9 568.6,746.9 569.0,744.9 569.3,743.9 569.5,742.9 569.3,742.3 568.1,740.9 567.3,740.4 565.7,738.9 565.3,738.0 564.9,736.9 565.3,734.9 565.3,734.8 566.3,732.9 565.3,731.4 564.0,730.9 563.3,730.7 561.3,729.0 561.2,728.9 560.8,726.9 560.8,724.9 559.3,723.8 558.6,722.9 557.3,721.4 556.9,720.9 555.9,718.9 555.3,717.7 555.1,716.9 554.7,714.9 554.7,712.9 553.3,711.5 552.5,710.9 551.3,709.9 550.5,708.9 550.3,706.9 550.7,704.9 549.3,703.3 548.5,702.9 547.3,702.6 545.6,700.9 545.4,698.9 545.4,696.9 545.3,696.6 543.3,695.2 541.3,695.0 539.3,695.2 537.3,695.4 535.3,695.1 534.6,694.9 533.3,694.4 531.3,693.6 529.3,693.1 527.3,693.0 525.3,693.3 523.3,694.2M503.3,536.5 502.8,536.9 501.3,538.4 501.1,538.9 500.6,540.9 500.2,542.9 500.2,544.9 500.0,546.9 499.3,548.8 499.3,548.9 497.3,550.5 496.4,550.9 495.3,551.4 493.3,552.2 492.2,552.9 491.3,553.3 489.3,553.8 487.3,553.6 485.3,553.3 483.3,552.9 483.3,552.9 481.3,552.6 479.3,552.4 477.3,552.4 475.3,552.5 473.3,552.7 471.3,552.8 469.3,552.8 467.3,552.6 465.3,552.4 463.3,552.2 461.3,552.1 459.3,552.2 457.3,552.4 455.3,552.7 454.3,552.9 453.3,553.1 451.3,553.4 449.3,553.8 447.3,554.2 445.3,554.5 443.3,554.7 442.0,554.9 441.3,555.0 439.3,555.7 437.9,556.9 437.3,557.4 435.9,558.9 435.3,559.6 434.0,560.9 433.3,561.6 432.1,562.9 431.3,563.8 430.3,564.9 429.3,566.3 428.8,566.9 427.3,568.9 427.3,569.0 425.4,570.9 425.3,571.0 423.3,572.5 422.7,572.9 421.3,574.0 420.3,574.9 419.3,575.8 418.2,576.9 417.3,577.9 416.4,578.9 415.3,580.1 414.6,580.9 413.3,582.3 412.8,582.9 411.3,584.6 411.0,584.9 409.4,586.9 409.3,587.0 407.9,588.9 407.3,589.8 406.6,590.9 405.4,592.9 405.3,593.0 404.3,594.9 403.3,596.9 403.3,596.9 402.4,598.9 401.7,600.9 401.3,602.5 401.2,602.9 400.8,604.9 400.6,606.9 400.3,608.9 400.0,610.9 399.6,612.9 399.3,614.4 399.2,614.9 398.7,616.9 398.3,618.9 397.9,620.9 397.4,622.9 397.3,623.5 397.0,624.9 396.7,626.9 396.4,628.9 396.2,630.9 395.8,632.9 395.3,634.4 395.1,634.9 394.4,636.9 393.5,638.9 393.3,639.8 393.0,640.9 392.8,642.9 392.6,644.9 392.1,646.9 391.3,648.9 391.3,648.9 390.4,650.9 389.3,652.8 389.2,652.9 388.3,654.9 387.3,656.9 387.3,656.9 386.3,658.9 385.3,660.6 385.1,660.9 383.5,662.9 383.3,663.2 381.6,664.9 381.3,665.1 379.3,666.8 379.2,666.9 377.3,668.5 376.9,668.9 375.3,670.3 374.7,670.9 373.3,672.4 372.9,672.9 371.4,674.9 371.3,675.0 370.2,676.9 369.4,678.9 369.3,679.5 369.0,680.9 369.0,682.9 369.3,684.8 369.3,684.9 370.0,686.9 371.0,688.9 371.3,689.3 372.4,690.9 373.3,691.8 374.5,692.9 375.3,693.5 377.3,694.8 377.6,694.9 379.3,695.7 381.3,696.6 381.9,696.9 383.3,697.5 385.3,698.1 387.3,698.4 389.3,698.5 391.3,698.4 393.3,698.1 395.3,697.6 397.3,697.0 397.7,696.9 399.3,696.3 401.3,695.5 402.8,694.9 403.3,694.7 405.3,693.8 407.1,692.9 407.3,692.8 409.3,691.8 411.2,690.9 411.3,690.9 413.3,689.8 415.2,688.9 415.3,688.9 417.3,687.9 419.3,686.9 419.4,686.9 421.3,686.1 423.3,685.3 424.7,684.9 425.3,684.7 427.3,684.3 429.3,684.0 431.3,683.9 433.3,684.0 435.3,684.2 437.3,684.4 439.3,684.7 441.3,684.9 441.6,684.9 443.3,685.0 445.3,685.0 445.8,684.9 447.3,684.7 449.3,684.2 451.3,683.5 453.0,682.9 453.3,682.8 455.3,681.8 456.8,680.9 457.3,680.5 459.0,678.9 459.3,678.5 460.4,676.9 461.3,675.3 461.5,674.9 462.4,672.9 463.2,670.9 463.3,670.7 464.0,668.9 464.7,666.9 465.3,665.1 465.4,664.9 465.9,662.9 466.4,660.9 466.9,658.9 467.3,657.5 467.5,656.9 468.1,654.9 468.7,652.9 469.3,651.1 469.4,650.9 470.1,648.9 470.9,646.9 471.3,645.8 471.7,644.9 472.5,642.9 473.3,641.1 473.4,640.9 474.3,638.9 475.3,637.0 475.3,636.9 476.5,634.9 477.3,633.2 477.5,632.9 478.4,630.9 479.2,628.9 479.3,628.6 479.9,626.9 480.5,624.9 481.0,622.9 481.3,621.7 481.5,620.9 481.9,618.9 482.2,616.9 482.5,614.9 482.9,612.9 483.3,611.1 483.3,610.9 484.3,608.9 485.3,607.7 486.1,606.9 487.3,606.0 488.6,604.9 489.3,604.4 491.0,602.9 491.3,602.6 493.0,600.9 493.3,600.5 494.7,598.9 495.3,598.1 496.3,596.9 497.3,595.7 498.0,594.9 499.3,593.5 499.9,592.9 501.3,591.4 501.7,590.9 503.0,588.9 503.3,588.4 504.2,586.9 505.3,585.2 505.6,584.9 507.3,583.0 507.4,582.9 509.3,581.0 509.4,580.9 509.7,578.9 509.3,578.3 507.5,576.9 507.3,576.8 505.3,575.4 504.5,574.9 504.3,572.9 505.3,572.5 506.7,570.9 507.3,570.6 509.3,570.0 511.3,570.1 513.3,570.0 515.3,569.0 515.4,568.9 517.3,567.3 517.8,566.9 519.3,565.8 520.7,564.9 521.3,564.1 523.3,562.9 521.3,560.9 521.3,560.9 520.4,558.9 520.2,556.9 520.6,554.9 521.3,553.3 521.8,552.9 523.3,551.7 525.3,551.6 527.3,551.6 527.9,550.9 528.2,548.9 528.0,546.9 527.4,544.9 527.3,544.5 526.5,542.9 525.3,540.9 525.3,540.8 523.6,538.9 523.3,538.6 521.3,537.4 520.0,536.9 519.3,536.6 517.3,535.9 515.3,535.5 513.3,535.3 511.3,535.2 509.3,535.2 507.3,535.3 505.3,535.7 503.3,536.5M499.8,554.9 501.3,553.3 502.6,554.9 502.2,556.9 501.3,558.0 499.4,556.9 499.8,554.9M525.3,560.6 524.5,560.9 525.3,562.1 526.0,560.9 525.3,560.6M491.2,562.9 491.3,562.8 493.3,562.8 493.6,562.9 495.3,564.7 495.5,564.9 497.3,566.8 497.4,566.9 499.3,568.8 499.4,568.9 500.3,570.9 500.3,572.9 499.3,573.2 497.8,572.9 497.3,572.8 495.3,571.5 494.7,570.9 493.3,569.5 492.9,568.9 491.4,566.9 491.3,566.7 490.7,564.9 491.2,562.9M527.3,698.8 526.7,698.9 525.3,699.2 523.3,700.6 523.0,700.9 521.3,702.2 520.1,702.9 519.3,703.4 517.3,704.6 516.8,704.9 515.3,706.0 514.4,706.9 513.3,708.8 513.3,708.9 512.7,710.9 512.0,712.9 511.3,714.6 511.2,714.9 510.5,716.9 509.7,718.9 509.3,720.0 508.9,720.9 508.2,722.9 507.7,724.9 507.6,726.9 507.8,728.9 508.0,730.9 508.1,732.9 508.2,734.9 508.3,736.9 508.4,738.9 508.5,740.9 508.5,742.9 508.6,744.9 508.9,746.9 509.3,748.2 509.5,748.9 510.4,750.9 511.3,752.9 511.3,752.9 512.3,754.9 513.1,756.9 513.3,757.6 513.8,758.9 514.5,760.9 515.3,762.9 515.3,763.0 516.2,764.9 517.3,766.5 517.6,766.9 519.3,768.7 519.5,768.9 521.3,770.5 521.7,770.9 523.3,772.5 523.7,772.9 525.3,774.7 525.4,774.9 527.3,776.9 527.3,776.9 529.3,778.4 530.7,778.9 531.3,779.1 533.3,779.4 535.3,779.7 537.3,780.1 539.3,780.7 540.4,780.9 541.3,781.1 543.3,781.0 543.6,780.9 545.3,780.1 546.8,778.9 547.3,778.5 549.2,776.9 549.3,776.9 551.3,775.8 552.6,774.9 553.3,774.4 554.9,772.9 555.3,772.4 556.1,770.9 556.9,768.9 557.3,767.4 557.4,766.9 558.0,764.9 558.8,762.9 559.3,761.9 559.7,760.9 560.5,758.9 561.1,756.9 561.3,755.9 561.6,754.9 561.9,752.9 562.1,750.9 561.8,748.9 561.3,746.9 561.3,746.7 561.0,744.9 561.0,742.9 561.0,740.9 560.9,738.9 560.8,736.9 560.6,734.9 559.7,732.9 559.3,732.3 558.6,730.9 557.9,728.9 557.4,726.9 557.3,726.7 556.5,724.9 555.3,723.3 555.0,722.9 553.6,720.9 553.3,720.0 552.9,718.9 552.6,716.9 552.3,714.9 551.3,713.5 550.6,712.9 549.3,711.9 548.1,710.9 547.3,709.7 546.7,708.9 545.3,706.9 545.3,706.8 543.5,704.9 543.3,704.6 541.6,702.9 541.3,702.6 539.3,701.4 537.3,701.1 536.3,700.9 535.3,700.8 533.3,700.4 531.3,699.8 529.3,699.2 527.9,698.9 527.3,698.8M503.3,548.8 503.3,548.9 503.3,550.4 503.3,550.9 504.2,552.9 504.2,554.9 503.8,556.9 503.3,558.3 502.9,558.9 501.3,560.6 499.7,560.9 499.3,561.2 498.8,560.9 497.3,559.9 497.0,558.9 496.6,556.9 496.4,554.9 495.3,554.7 494.9,554.9 493.3,555.3 491.3,556.1 489.5,556.9 489.3,557.1 487.3,557.9 485.3,557.7 483.3,557.3 481.3,556.9 481.2,556.9 479.3,556.6 477.3,556.5 475.3,556.5 473.3,556.6 471.3,556.6 469.3,556.6 467.3,556.4 465.3,556.3 463.3,556.1 461.3,555.9 459.3,555.7 457.3,555.6 455.3,555.6 453.3,555.7 451.3,555.8 449.3,555.9 447.3,556.1 445.3,556.2 443.3,556.3 441.3,556.6 440.6,556.9 439.3,557.4 437.6,558.9 437.3,559.2 435.8,560.9 435.3,561.5 434.1,562.9 433.3,563.9 432.5,564.9 431.3,566.5 431.0,566.9 429.7,568.9 429.3,569.6 428.3,570.9 427.3,572.0 426.2,572.9 425.3,573.5 423.4,574.9 423.3,575.0 421.3,576.7 421.1,576.9 419.3,578.7 419.1,578.9 417.3,580.9 417.3,580.9 415.5,582.9 415.3,583.1 413.7,584.9 413.3,585.4 412.0,586.9 411.3,587.7 410.4,588.9 409.3,590.4 408.9,590.9 407.7,592.9 407.3,593.6 406.6,594.9 405.6,596.9 405.3,597.5 404.7,598.9 403.9,600.9 403.3,602.5 403.2,602.9 402.8,604.9 402.5,606.9 402.3,608.9 402.0,610.9 401.6,612.9 401.3,614.3 401.2,614.9 400.8,616.9 400.5,618.9 400.2,620.9 399.9,622.9 399.5,624.9 399.3,626.1 399.2,626.9 399.0,628.9 398.9,630.9 398.8,632.9 398.6,634.9 398.2,636.9 398.0,638.9 398.1,640.9 398.9,642.9 399.3,643.8 399.8,644.9 399.9,646.9 399.3,648.4 399.1,648.9 397.5,650.9 397.3,651.1 395.7,652.9 395.3,653.3 393.9,654.9 393.3,655.9 392.9,656.9 392.4,658.9 391.8,660.9 391.3,662.1 391.0,662.9 389.9,664.9 389.3,665.6 388.3,666.9 387.3,667.8 386.1,668.9 385.3,669.5 383.3,670.9 383.3,670.9 381.3,672.3 380.6,672.9 379.3,673.9 378.3,674.9 377.3,676.0 376.6,676.9 375.3,678.9 375.3,679.0 374.6,680.9 374.4,682.9 374.6,684.9 375.2,686.9 375.3,687.1 376.4,688.9 377.3,689.8 378.5,690.9 379.3,691.5 381.3,692.6 382.1,692.9 383.3,693.4 385.3,693.9 387.3,694.2 389.3,694.2 391.3,693.9 393.3,693.3 394.5,692.9 395.3,692.5 397.3,691.6 398.5,690.9 399.3,690.4 401.3,689.1 401.7,688.9 403.3,687.7 404.5,686.9 405.3,686.3 407.3,685.0 407.4,684.9 409.3,683.7 410.7,682.9 411.3,682.6 413.3,681.6 415.1,680.9 415.3,680.8 417.3,680.1 419.3,679.5 421.3,679.0 421.6,678.9 423.3,678.4 425.3,677.9 427.3,677.7 429.3,677.5 431.3,677.6 433.3,677.8 435.3,678.0 437.3,678.3 439.3,678.4 441.3,678.4 443.3,678.1 445.3,677.6 447.3,676.9 447.3,676.9 449.3,675.9 450.9,674.9 451.3,674.6 453.3,673.0 453.4,672.9 455.3,671.1 455.5,670.9 457.2,668.9 457.3,668.8 458.7,666.9 459.3,666.0 460.0,664.9 461.2,662.9 461.3,662.6 462.1,660.9 462.8,658.9 463.3,657.4 463.5,656.9 464.1,654.9 464.8,652.9 465.3,651.7 465.6,650.9 466.4,648.9 467.3,647.0 467.3,646.9 468.3,644.9 469.2,642.9 469.3,642.7 470.2,640.9 471.2,638.9 471.3,638.6 472.2,636.9 473.2,634.9 473.3,634.7 474.2,632.9 475.0,630.9 475.3,630.1 475.8,628.9 476.4,626.9 477.0,624.9 477.3,624.0 477.6,622.9 478.1,620.9 478.6,618.9 479.1,616.9 479.3,616.4 479.7,614.9 480.2,612.9 480.8,610.9 481.3,609.7 481.7,608.9 482.9,606.9 483.3,606.4 484.9,604.9 485.3,604.5 487.2,602.9 487.3,602.8 489.3,600.9 489.3,600.9 491.1,598.9 491.3,598.6 492.7,596.9 493.3,596.0 494.1,594.9 495.3,593.3 495.6,592.9 496.9,590.9 497.3,590.2 498.0,588.9 498.7,586.9 498.9,584.9 498.5,582.9 497.5,580.9 497.3,580.7 496.0,578.9 495.3,578.1 494.4,576.9 493.3,575.5 492.9,574.9 491.7,572.9 491.3,572.3 490.7,570.9 489.8,568.9 489.3,567.8 489.0,566.9 488.4,564.9 488.2,562.9 489.3,561.3 491.3,561.2 493.3,561.7 495.3,561.8 497.3,562.3 497.7,562.9 499.3,564.2 499.8,564.9 501.3,566.4 501.9,566.9 503.3,567.7 505.3,567.9 507.3,567.4 508.8,566.9 509.3,566.6 511.3,566.2 513.3,565.4 513.9,564.9 515.3,563.5 515.8,562.9 517.1,560.9 517.3,560.5 517.7,558.9 517.8,556.9 517.5,554.9 517.3,553.5 517.1,552.9 516.0,550.9 515.3,550.0 513.3,549.1 512.5,548.9 511.3,548.6 509.3,548.2 507.3,547.7 505.3,547.6 503.3,548.8M527.3,708.2 525.5,708.9 525.3,709.0 523.3,710.3 522.6,710.9 521.3,712.4 521.0,712.9 519.8,714.9 519.3,715.8 518.8,716.9 517.9,718.9 517.3,720.4 517.2,720.9 516.7,722.9 516.3,724.9 516.3,726.9 516.4,728.9 516.6,730.9 516.8,732.9 517.0,734.9 517.1,736.9 517.2,738.9 517.3,739.6 517.5,740.9 518.0,742.9 518.8,744.9 519.3,745.9 519.8,746.9 520.8,748.9 521.3,750.0 521.7,750.9 522.6,752.9 523.3,754.5 523.5,754.9 524.8,756.9 525.3,757.6 526.3,758.9 527.3,759.9 528.3,760.9 529.3,761.7 530.8,762.9 531.3,763.2 533.3,764.4 534.3,764.9 535.3,765.3 537.3,765.9 539.3,766.3 541.3,766.3 543.3,766.1 545.3,765.4 546.2,764.9 547.3,764.2 549.0,762.9 549.3,762.6 550.9,760.9 551.3,760.4 552.2,758.9 553.2,756.9 553.3,756.7 553.9,754.9 554.6,752.9 555.2,750.9 555.3,750.6 555.6,748.9 555.7,746.9 555.4,744.9 555.3,743.7 555.2,742.9 555.1,740.9 555.0,738.9 554.9,736.9 554.8,734.9 554.4,732.9 553.9,730.9 553.3,728.9 553.3,728.9 552.3,726.9 551.3,725.4 551.0,724.9 549.9,722.9 549.3,721.5 549.0,720.9 548.2,718.9 547.4,716.9 547.3,716.8 545.5,714.9 545.3,714.7 543.3,713.0 543.2,712.9 541.3,711.4 540.6,710.9 539.3,710.0 537.3,708.9 537.2,708.9 535.3,708.3 533.3,708.0 531.3,707.8 529.3,707.9 527.3,708.2M441.3,558.3 439.7,558.9 439.3,559.1 437.6,560.9 437.3,561.2 436.0,562.9 435.3,563.7 434.4,564.9 433.3,566.4 432.9,566.9 431.7,568.9 431.3,569.6 430.5,570.9 429.3,572.6 429.0,572.9 427.3,574.2 426.3,574.9 425.3,575.6 423.7,576.9 423.3,577.3 421.6,578.9 421.3,579.2 419.8,580.9 419.3,581.5 418.1,582.9 417.3,583.7 416.2,584.9 415.3,586.0 414.5,586.9 413.3,588.4 412.9,588.9 411.4,590.9 411.3,591.1 410.1,592.9 409.3,594.3 409.0,594.9 408.0,596.9 407.3,598.4 407.1,598.9 406.2,600.9 405.4,602.9 405.3,603.1 404.9,604.9 404.6,606.9 404.4,608.9 404.2,610.9 403.8,612.9 403.4,614.9 403.3,615.8 403.1,616.9 403.0,618.9 402.8,620.9 402.7,622.9 402.6,624.9 402.5,626.9 402.5,628.9 402.7,630.9 403.0,632.9 403.3,634.3 403.5,634.9 404.3,636.9 405.3,638.7 405.5,638.9 406.9,640.9 407.3,641.4 408.5,642.9 409.3,643.9 410.1,644.9 411.3,646.4 411.8,646.9 413.3,648.6 413.6,648.9 415.3,650.6 415.6,650.9 417.3,652.4 418.1,652.9 419.3,653.8 421.3,654.9 421.4,654.9 423.3,655.9 425.3,656.7 425.9,656.9 427.3,657.6 429.3,658.4 430.6,658.9 431.3,659.2 433.3,660.0 435.3,660.7 435.9,660.9 437.3,661.5 439.3,662.4 440.4,662.9 441.3,663.4 443.3,664.2 445.3,664.6 447.3,664.5 449.3,664.1 451.3,663.4 452.2,662.9 453.3,662.3 455.3,660.9 455.3,660.9 457.2,658.9 457.3,658.8 458.5,656.9 459.3,655.5 459.6,654.9 460.5,652.9 461.3,651.5 461.6,650.9 462.6,648.9 463.3,647.7 463.7,646.9 464.8,644.9 465.3,644.0 465.9,642.9 466.9,640.9 467.3,640.2 468.0,638.9 469.0,636.9 469.3,636.4 470.1,634.9 471.0,632.9 471.3,632.2 471.8,630.9 472.5,628.9 473.2,626.9 473.3,626.5 473.8,624.9 474.4,622.9 474.9,620.9 475.3,619.7 475.5,618.9 476.2,616.9 476.9,614.9 477.3,613.9 477.6,612.9 478.4,610.9 479.1,608.9 479.3,608.6 480.1,606.9 481.3,605.1 481.5,604.9 483.3,603.0 483.5,602.9 485.3,601.2 485.6,600.9 487.3,598.9 487.3,598.9 488.8,596.9 489.3,596.0 490.1,594.9 491.2,592.9 491.3,592.7 492.2,590.9 492.9,588.9 493.2,586.9 493.1,584.9 492.6,582.9 491.9,580.9 491.3,579.7 491.0,578.9 490.2,576.9 489.4,574.9 489.3,574.7 488.7,572.9 488.1,570.9 487.6,568.9 487.3,567.9 487.0,566.9 486.1,564.9 485.3,563.3 484.9,562.9 483.3,561.5 482.0,560.9 481.3,560.7 479.3,560.2 477.3,560.0 475.3,560.0 473.3,560.0 471.3,560.0 469.3,560.0 467.3,559.8 465.3,559.7 463.3,559.4 461.3,559.2 459.6,558.9 459.3,558.9 457.3,558.6 455.3,558.3 453.3,558.2 451.3,558.1 449.3,558.0 447.3,558.0 445.3,557.9 443.3,558.0 441.3,558.3M493.3,558.4 492.5,558.9 493.3,559.6 493.8,558.9 493.3,558.4M385.3,678.5 384.5,678.9 383.3,679.5 381.8,680.9 381.3,681.5 380.6,682.9 380.4,684.9 381.0,686.9 381.3,687.3 383.3,688.8 383.5,688.9 385.3,689.3 387.3,689.2 388.8,688.9 389.3,688.7 391.3,687.5 392.1,686.9 393.3,685.2 393.5,684.9 394.0,682.9 393.5,680.9 393.3,680.5 391.6,678.9 391.3,678.7 389.3,678.1 387.3,678.1 385.3,678.5M533.3,732.5 532.5,732.9 531.3,733.4 530.0,734.9 529.3,736.0 528.9,736.9 528.4,738.9 528.4,740.9 528.9,742.9 529.3,743.9 529.9,744.9 531.3,746.5 532.1,746.9 533.3,747.5 535.3,747.3 536.1,746.9 537.3,746.1 538.3,744.9 539.2,742.9 539.3,742.2 539.6,740.9 539.6,738.9 539.3,737.8 539.1,736.9 538.1,734.9 537.3,733.8 535.7,732.9 535.3,732.6 533.3,732.5M441.3,560.3 440.0,560.9 439.3,561.4 438.0,562.9 437.3,563.7 436.3,564.9 435.3,566.2 434.8,566.9 433.5,568.9 433.3,569.2 432.3,570.9 431.3,572.4 430.9,572.9 429.3,574.5 428.8,574.9 427.3,576.0 426.1,576.9 425.3,577.6 423.9,578.9 423.3,579.5 422.0,580.9 421.3,581.8 420.3,582.9 419.3,584.1 418.6,584.9 417.3,586.4 416.9,586.9 415.3,588.9 415.3,588.9 413.9,590.9 413.3,591.9 412.7,592.9 411.6,594.9 411.3,595.6 410.7,596.9 409.8,598.9 409.3,599.9 408.9,600.9 408.1,602.9 407.4,604.9 407.3,605.7 407.1,606.9 406.9,608.9 406.7,610.9 406.5,612.9 406.3,614.9 406.1,616.9 406.1,618.9 406.2,620.9 406.4,622.9 406.6,624.9 407.1,626.9 407.3,627.7 407.8,628.9 408.8,630.9 409.3,631.7 410.2,632.9 411.3,634.2 411.9,634.9 413.3,636.4 413.8,636.9 415.3,638.4 415.8,638.9 417.3,640.4 417.9,640.9 419.3,642.2 420.1,642.9 421.3,643.9 422.6,644.9 423.3,645.4 425.3,646.7 425.6,646.9 427.3,647.9 429.3,648.9 429.4,648.9 431.3,649.7 433.3,650.4 434.9,650.9 435.3,651.0 437.3,651.6 439.3,652.2 441.3,652.9 441.3,652.9 443.3,653.6 445.3,654.2 447.3,654.5 449.3,654.5 451.3,654.1 453.3,653.2 453.7,652.9 455.3,651.7 456.1,650.9 457.3,649.7 457.9,648.9 459.3,647.2 459.5,646.9 461.0,644.9 461.3,644.5 462.3,642.9 463.3,641.3 463.5,640.9 464.7,638.9 465.3,637.7 465.7,636.9 466.8,634.9 467.3,633.8 467.7,632.9 468.5,630.9 469.3,628.9 469.3,628.8 470.0,626.9 470.6,624.9 471.3,622.9 471.3,622.9 471.9,620.9 472.5,618.9 473.2,616.9 473.3,616.5 474.0,614.9 474.9,612.9 475.3,612.0 475.8,610.9 476.6,608.9 477.3,607.3 477.5,606.9 478.4,604.9 479.3,603.3 479.6,602.9 481.3,600.9 481.3,600.8 483.0,598.9 483.3,598.5 484.5,596.9 485.3,595.5 485.7,594.9 486.7,592.9 487.3,591.2 487.4,590.9 487.9,588.9 488.2,586.9 488.1,584.9 487.9,582.9 487.5,580.9 487.3,580.2 487.0,578.9 486.6,576.9 486.2,574.9 485.8,572.9 485.6,570.9 485.3,568.9 485.3,568.7 484.5,566.9 483.3,565.5 482.3,564.9 481.3,564.4 479.3,563.9 477.3,563.6 475.3,563.6 473.3,563.5 471.3,563.5 469.3,563.4 467.3,563.3 465.3,563.0 464.6,562.9 463.3,562.7 461.3,562.3 459.3,561.9 457.3,561.5 455.3,561.1 454.3,560.9 453.3,560.7 451.3,560.4 449.3,560.2 447.3,560.0 445.3,559.9 443.3,559.9 441.3,560.3M441.3,562.7 441.0,562.9 439.3,564.2 438.6,564.9 437.3,566.2 436.7,566.9 435.3,568.8 435.3,568.9 434.1,570.9 433.3,572.1 432.8,572.9 431.3,574.5 430.9,574.9 429.3,576.2 428.4,576.9 427.3,577.8 426.0,578.9 425.3,579.6 424.1,580.9 423.3,581.9 422.5,582.9 421.3,584.4 420.8,584.9 419.3,586.7 419.1,586.9 417.5,588.9 417.3,589.2 416.2,590.9 415.3,592.8 415.2,592.9 414.4,594.9 413.6,596.9 413.3,597.6 412.8,598.9 411.9,600.9 411.3,602.6 411.2,602.9 410.6,604.9 410.2,606.9 410.0,608.9 409.9,610.9 409.8,612.9 409.8,614.9 409.9,616.9 410.1,618.9 410.6,620.9 411.3,622.8 411.4,622.9 412.6,624.9 413.3,625.9 414.3,626.9 415.3,627.8 416.7,628.9 417.3,629.4 419.0,630.9 419.3,631.2 420.5,632.9 421.3,634.1 421.7,634.9 423.2,636.9 423.3,637.0 425.0,638.9 425.3,639.2 427.2,640.9 427.3,640.9 429.3,642.3 430.3,642.9 431.3,643.5 433.3,644.4 434.5,644.9 435.3,645.2 437.3,645.9 439.3,646.5 441.0,646.9 441.3,647.0 443.3,647.4 445.3,647.7 447.3,647.8 449.3,647.7 451.3,647.3 452.1,646.9 453.3,646.4 455.3,645.2 455.6,644.9 457.3,643.5 457.9,642.9 459.3,641.3 459.6,640.9 461.0,638.9 461.3,638.4 462.2,636.9 463.3,634.9 463.3,634.8 464.2,632.9 465.1,630.9 465.3,630.5 465.9,628.9 466.7,626.9 467.3,625.5 467.5,624.9 468.3,622.9 469.0,620.9 469.3,620.0 469.6,618.9 470.2,616.9 470.9,614.9 471.3,614.2 472.0,612.9 473.0,610.9 473.3,610.4 474.0,608.9 474.9,606.9 475.3,606.0 475.8,604.9 476.5,602.9 477.3,601.0 477.4,600.9 478.6,598.9 479.3,597.7 479.8,596.9 480.9,594.9 481.3,593.9 481.8,592.9 482.4,590.9 482.9,588.9 483.1,586.9 483.2,584.9 483.0,582.9 482.8,580.9 482.6,578.9 482.3,576.9 482.1,574.9 481.9,572.9 481.5,570.9 481.3,570.5 479.7,568.9 479.3,568.7 477.3,568.2 475.3,568.0 473.3,567.9 471.3,567.7 469.3,567.5 467.3,567.1 466.3,566.9 465.3,566.7 463.3,566.3 461.3,565.8 459.3,565.2 458.3,564.9 457.3,564.6 455.3,564.1 453.3,563.5 451.3,563.0 450.9,562.9 449.3,562.6 447.3,562.3 445.3,562.1 443.3,562.1 441.3,562.7M443.3,564.8 443.0,564.9 441.3,565.5 439.3,566.8 439.2,566.9 437.3,568.8 437.2,568.9 436.0,570.9 435.3,572.0 434.7,572.9 433.3,574.6 433.0,574.9 431.3,576.3 430.6,576.9 429.3,577.8 428.0,578.9 427.3,579.6 426.1,580.9 425.3,581.9 424.5,582.9 423.3,584.5 423.0,584.9 421.3,586.9 421.3,586.9 419.6,588.9 419.3,589.3 418.3,590.9 417.5,592.9 417.3,593.6 416.9,594.9 416.4,596.9 415.8,598.9 415.3,600.3 415.1,600.9 414.4,602.9 413.9,604.9 413.7,606.9 413.6,608.9 413.6,610.9 413.7,612.9 413.9,614.9 414.2,616.9 414.8,618.9 415.3,619.9 415.8,620.9 417.3,622.9 417.3,622.9 419.3,624.7 419.6,624.9 421.3,626.1 422.3,626.9 423.3,627.9 424.0,628.9 425.0,630.9 425.3,631.5 426.1,632.9 427.3,634.6 427.6,634.9 429.3,636.6 429.7,636.9 431.3,638.0 433.0,638.9 433.3,639.1 435.3,639.9 437.3,640.7 438.0,640.9 439.3,641.3 441.3,641.7 443.3,642.1 445.3,642.2 447.3,642.2 449.3,642.0 451.3,641.5 452.9,640.9 453.3,640.7 455.3,639.5 455.9,638.9 457.3,637.6 457.8,636.9 459.3,634.9 459.3,634.8 460.5,632.9 461.3,631.4 461.6,630.9 462.5,628.9 463.3,627.2 463.4,626.9 464.4,624.9 465.3,623.2 465.4,622.9 466.4,620.9 467.1,618.9 467.3,617.9 467.6,616.9 468.1,614.9 469.0,612.9 469.3,612.4 470.2,610.9 471.3,609.0 471.3,608.9 472.3,606.9 473.2,604.9 473.3,604.8 474.0,602.9 474.6,600.9 475.1,598.9 475.3,598.2 475.7,596.9 476.3,594.9 476.8,592.9 477.1,590.9 477.3,589.5 477.4,588.9 477.4,586.9 477.3,584.9 477.3,584.9 477.0,582.9 476.5,580.9 475.7,578.9 475.3,578.1 474.5,576.9 473.3,575.7 472.3,574.9 471.3,574.2 469.3,573.0 469.1,572.9 467.3,572.1 465.3,571.3 464.4,570.9 463.3,570.5 461.3,569.7 459.3,569.0 459.2,568.9 457.3,568.2 455.3,567.5 453.7,566.9 453.3,566.8 451.3,566.1 449.3,565.5 447.3,564.9 447.0,564.9 445.3,564.7 443.3,564.8M441.3,568.5 440.5,568.9 439.3,569.7 438.4,570.9 437.3,572.5 437.1,572.9 435.5,574.9 435.3,575.0 433.3,576.7 433.0,576.9 431.3,578.0 430.1,578.9 429.3,579.6 428.0,580.9 427.3,581.8 426.5,582.9 425.3,584.6 425.1,584.9 423.5,586.9 423.3,587.1 421.6,588.9 421.3,589.3 420.2,590.9 419.5,592.9 419.3,594.0 419.1,594.9 418.9,596.9 418.6,598.9 417.8,600.9 417.3,602.7 417.2,602.9 416.9,604.9 416.9,606.9 417.1,608.9 417.3,610.1 417.4,610.9 417.6,612.9 417.9,614.9 418.3,616.9 419.1,618.9 419.3,619.2 420.3,620.9 421.3,621.9 422.2,622.9 423.3,623.8 424.4,624.9 425.3,625.8 426.1,626.9 427.3,628.8 427.3,628.9 428.8,630.9 429.3,631.6 430.9,632.9 431.3,633.3 433.3,634.4 434.7,634.9 435.3,635.1 437.3,635.6 439.3,636.0 441.3,636.4 443.3,636.7 445.3,636.8 447.3,636.7 449.3,636.4 451.3,635.7 452.9,634.9 453.3,634.7 455.3,633.1 455.4,632.9 457.2,630.9 457.3,630.8 458.7,628.9 459.3,628.0 459.9,626.9 461.2,624.9 461.3,624.7 462.4,622.9 463.3,621.6 463.7,620.9 464.6,618.9 465.2,616.9 465.3,616.5 465.7,614.9 466.3,612.9 467.3,610.9 467.3,610.9 468.4,608.9 469.3,607.3 469.5,606.9 470.4,604.9 471.3,602.9 471.3,602.8 471.7,600.9 471.9,598.9 471.9,596.9 471.8,594.9 471.7,592.9 471.5,590.9 471.3,589.1 471.3,588.9 470.8,586.9 470.2,584.9 469.3,583.0 469.2,582.9 468.0,580.9 467.3,580.0 466.4,578.9 465.3,577.9 464.3,576.9 463.3,576.2 461.5,574.9 461.3,574.8 459.3,573.7 457.8,572.9 457.3,572.7 455.3,571.8 453.3,570.9 453.3,570.9 451.3,570.1 449.3,569.2 448.5,568.9 447.3,568.5 445.3,568.0 443.3,568.0 441.3,568.5M443.3,572.8 442.9,572.9 441.3,573.5 439.7,574.9 439.3,575.2 437.3,576.5 436.7,576.9 435.3,577.7 433.3,578.7 433.0,578.9 431.3,579.9 430.1,580.9 429.3,581.8 428.5,582.9 427.3,584.7 427.1,584.9 425.8,586.9 425.3,587.4 423.8,588.9 423.3,589.4 422.1,590.9 421.3,592.9 421.3,593.0 421.0,594.9 421.0,596.9 420.7,598.9 420.0,600.9 419.5,602.9 419.4,604.9 419.6,606.9 420.2,608.9 420.7,610.9 421.0,612.9 421.3,614.6 421.4,614.9 422.0,616.9 422.9,618.9 423.3,619.4 424.5,620.9 425.3,621.7 426.6,622.9 427.3,623.7 428.3,624.9 429.3,626.5 429.6,626.9 431.3,628.8 431.4,628.9 433.3,630.0 435.3,630.8 435.6,630.9 437.3,631.3 439.3,631.6 441.3,631.6 443.3,631.5 445.3,631.3 447.3,631.0 447.5,630.9 449.3,630.4 451.3,629.5 452.3,628.9 453.3,628.3 455.0,626.9 455.3,626.6 456.9,624.9 457.3,624.5 458.6,622.9 459.3,622.1 460.2,620.9 461.3,619.6 461.7,618.9 462.6,616.9 463.0,614.9 463.3,613.7 463.5,612.9 464.1,610.9 465.1,608.9 465.3,608.6 466.1,606.9 466.9,604.9 467.3,603.3 467.4,602.9 467.6,600.9 467.3,598.9 467.3,598.9 466.7,596.9 466.2,594.9 465.8,592.9 465.3,591.0 465.3,590.9 464.6,588.9 463.8,586.9 463.3,586.0 462.7,584.9 461.5,582.9 461.3,582.7 459.9,580.9 459.3,580.3 457.8,578.9 457.3,578.5 455.3,577.3 454.6,576.9 453.3,576.3 451.3,575.5 449.8,574.9 449.3,574.7 447.3,573.8 445.3,573.0 444.3,572.9 443.3,572.8M435.3,580.4 433.8,580.9 433.3,581.1 431.3,582.4 430.9,582.9 429.4,584.9 429.3,585.1 428.1,586.9 427.3,587.8 426.3,588.9 425.3,589.8 424.1,590.9 423.3,592.5 423.2,592.9 422.9,594.9 422.8,596.9 422.4,598.9 421.8,600.9 421.4,602.9 421.5,604.9 422.0,606.9 422.7,608.9 423.3,610.7 423.4,610.9 424.0,612.9 424.9,614.9 425.3,615.7 426.2,616.9 427.3,618.2 428.1,618.9 429.3,620.0 430.4,620.9 431.3,621.8 432.7,622.9 433.3,623.4 435.3,624.6 436.6,624.9 437.3,625.1 439.3,625.2 441.3,625.0 442.2,624.9 443.3,624.7 445.3,624.3 447.3,623.7 449.3,623.0 449.5,622.9 451.3,622.0 453.1,620.9 453.3,620.8 455.3,619.2 455.6,618.9 457.3,617.0 457.4,616.9 458.3,614.9 459.0,612.9 459.3,611.9 459.6,610.9 460.2,608.9 460.9,606.9 461.3,605.3 461.4,604.9 461.5,602.9 461.4,600.9 461.3,600.4 461.0,598.9 460.6,596.9 460.1,594.9 459.6,592.9 459.3,591.9 458.9,590.9 457.9,588.9 457.3,587.9 456.6,586.9 455.3,585.4 454.9,584.9 453.3,583.4 452.7,582.9 451.3,582.0 449.3,580.9 449.2,580.9 447.3,580.1 445.3,579.4 443.3,579.0 441.3,579.0 439.3,579.5 437.3,579.9 435.3,580.4M435.3,584.5 434.0,584.9 433.3,585.1 431.3,586.9 431.3,586.9 429.4,588.9 429.3,589.0 427.3,590.8 427.2,590.9 425.6,592.9 425.3,593.7 425.0,594.9 424.8,596.9 424.3,598.9 423.5,600.9 423.4,602.9 423.9,604.9 424.6,606.9 425.3,608.6 425.4,608.9 426.6,610.9 427.3,611.9 428.3,612.9 429.3,613.8 431.2,614.9 431.3,615.0 433.3,616.1 435.3,616.8 436.4,616.9 437.3,617.0 439.3,617.0 440.9,616.9 441.3,616.9 443.3,616.4 445.3,615.6 446.5,614.9 447.3,614.5 449.3,613.1 449.5,612.9 451.1,610.9 451.3,610.6 452.3,608.9 453.3,606.9 453.3,606.8 454.0,604.9 454.3,602.9 454.3,600.9 454.2,598.9 453.8,596.9 453.3,595.4 453.1,594.9 452.1,592.9 451.3,591.5 450.9,590.9 449.3,589.1 449.1,588.9 447.3,587.6 446.1,586.9 445.3,586.5 443.3,585.6 441.3,585.2 439.3,585.0 438.6,584.9 437.3,584.7 435.3,584.5M435.3,590.5 434.1,590.9 433.3,591.2 431.3,592.4 430.6,592.9 429.3,594.1 428.8,594.9 427.9,596.9 427.3,598.6 427.2,598.9 426.8,600.9 426.9,602.9 427.3,604.4 427.5,604.9 428.7,606.9 429.3,607.7 430.5,608.9 431.3,609.6 433.3,610.7 433.9,610.9 435.3,611.3 437.3,611.6 439.3,611.5 441.3,611.1 441.8,610.9 443.3,610.2 445.1,608.9 445.3,608.7 446.9,606.9 447.3,606.3 447.9,604.9 448.5,602.9 448.7,600.9 448.5,598.9 447.9,596.9 447.3,595.7 446.8,594.9 445.3,593.3 444.9,592.9 443.3,591.8 441.3,591.0 441.0,590.9 439.3,590.5 437.3,590.3 435.3,590.5"/>
</g>
<g id="coast" fill="none" stroke="#3a0048" stroke-width="2.5" stroke-linejoin="round" stroke-linecap="round">
<path d="M132.6,613.9 133.6,611.0 135.7,608.2 137.2,604.8 138.7,601.5 140.5,598.1 142.8,595.3 146.0,593.0 146.7,589.8 149.4,586.7 148.1,582.2 147.4,578.2 147.9,574.3 150.1,570.3 152.6,566.9 154.2,564.2 156.2,560.8 158.6,559.2 160.6,556.4 162.2,553.2 165.4,548.5 167.6,545.5 171.3,542.9 173.3,539.8 175.5,537.6 178.7,536.0 182.2,535.7 184.5,537.6 187.3,539.2 193.0,538.3 197.3,536.5 199.8,535.3 202.3,533.0 205.7,532.2 209.5,530.3 213.1,527.8 218.9,527.9 222.6,525.9 226.5,524.6 229.1,523.4 232.2,522.2 237.8,521.3 242.1,521.6 245.9,520.7 249.7,517.0 246.8,515.2 241.9,514.4 238.9,515.8 235.7,516.3 230.0,517.1 226.7,517.8 224.1,518.5 218.3,519.5 212.7,519.9 208.1,520.6 202.9,522.7 201.1,520.1 204.8,518.9 208.5,517.3 212.0,514.6 217.5,514.8 220.6,514.7 223.9,512.6 226.9,510.8 229.2,509.0 232.4,508.1 234.7,512.5 237.9,510.1 241.5,509.5 246.8,509.7 252.3,509.3 257.3,510.0 262.7,509.7 266.1,508.4 269.9,505.3 272.0,502.6 277.0,503.3 282.8,503.4 288.5,504.5 291.4,504.2 296.6,504.3 301.8,505.4 303.9,507.8 306.5,509.4 311.2,511.8 313.1,514.5 316.3,516.4 318.9,518.8 321.8,520.5 326.9,522.6 330.5,524.0 327.2,527.4 323.8,527.3 329.0,529.3 331.3,529.5 336.1,527.5 339.1,526.3 342.1,524.8 345.6,524.9 349.9,526.1 355.3,525.8 358.4,527.1 360.2,529.3 365.6,529.2 370.2,529.9 375.7,531.0 379.9,532.4 379.6,528.9 380.3,526.6 383.9,527.6 388.0,527.7 392.5,525.5 397.1,523.6 400.5,523.6 402.3,521.1 403.6,517.6 405.9,513.6 408.1,517.7 406.9,521.5 409.5,518.3 410.1,513.2 409.8,510.3 408.9,507.2 411.0,503.2 413.9,499.0 416.8,494.5 419.2,491.1 422.0,488.6 422.8,489.6 419.8,493.0 417.5,496.3 414.6,500.8 414.7,503.8 415.2,506.5 417.8,505.9 420.2,503.7 424.3,503.1 426.0,507.1 430.7,507.3 433.4,509.8 435.2,513.3 433.6,517.7 430.1,520.8 429.7,525.0 433.6,523.7 438.1,522.9 441.5,525.6 439.1,528.9 435.5,530.3 434.8,532.9 438.5,535.3 441.8,536.8 440.4,539.5 438.3,544.0 435.1,548.3 433.1,551.1 428.5,551.6 424.6,552.0 419.7,553.8 416.2,555.4 413.2,555.8 410.0,557.0 406.5,558.2 405.8,562.2 404.6,566.3 403.1,569.2 400.1,570.2 398.0,571.1 395.7,571.9 394.6,575.9 391.3,578.8 387.8,580.9 386.4,579.4 384.7,583.3 383.9,587.6 382.4,588.6 383.3,591.8 383.4,596.1 380.2,598.3 380.4,602.0 383.3,603.1 385.5,606.0 389.3,605.8 392.9,608.0 394.7,608.7 391.9,610.3 388.2,611.4 385.2,610.6 383.3,612.6 385.1,614.6 382.5,615.9 378.8,616.7 377.0,618.3 379.7,619.5 383.5,619.9 386.1,620.0 386.9,623.6 384.1,625.3 380.3,625.1 376.7,626.4 373.6,623.8 372.9,620.3 368.3,618.7 364.4,616.4 363.6,613.1 362.5,609.6 358.7,608.6 355.0,606.5 351.2,604.9 345.4,604.3 341.3,607.7 338.1,608.6 337.2,611.8 335.2,617.2 332.6,620.6 330.9,625.2 331.1,630.9 328.4,631.7 324.9,631.7 322.5,632.8 319.5,634.9 316.3,638.0 317.7,640.9 321.9,641.6 324.9,640.3 327.6,639.2 330.6,637.9 334.3,641.8 338.6,642.9 341.0,640.4 343.9,639.7 347.4,637.3 351.6,638.0 355.1,636.3 360.0,635.2 361.8,639.4 361.2,644.2 359.1,647.8 359.3,650.7 356.6,652.5 352.1,653.7 352.0,656.8 353.5,660.3 357.5,660.9 360.6,660.8 358.4,663.6 355.8,667.1 352.8,671.5 349.6,674.7 348.1,680.0 346.8,684.8 346.0,688.1 343.6,693.2 338.8,693.4 335.4,691.2 331.0,690.1 328.9,687.3 327.4,684.5 324.8,681.5 323.9,677.5 320.8,676.0 317.9,672.9 313.3,670.3 308.9,669.8 305.7,667.8 310.1,670.1 313.2,671.1 315.9,673.7 318.5,676.6 320.2,679.2 319.5,681.7 315.3,680.6 313.8,682.2 310.1,686.2 310.3,690.3 311.3,694.1 310.8,696.8 307.2,694.8 304.7,691.5 301.1,689.4 298.2,687.8 298.9,685.1 304.2,686.7 303.6,682.1 301.6,680.6 298.1,678.8 294.6,675.8 290.6,673.7 287.6,674.1 286.3,676.9 283.6,675.8 281.4,672.0 278.5,667.1 276.1,666.7 271.6,667.0 268.3,665.3 264.2,665.3 259.2,664.0 255.1,666.2 251.7,667.9 248.0,664.5 246.0,661.5 243.6,660.0 240.8,657.9 238.4,655.0 235.1,652.7 232.8,650.3 229.5,649.0 225.4,649.4 222.5,651.5 218.5,652.6 215.4,655.0 211.7,656.4 208.2,657.2 204.4,658.6 200.1,657.4 199.7,654.7 203.2,650.9 207.8,647.6 212.5,645.2 217.3,643.7 218.6,640.8 221.6,639.0 219.7,633.7 222.2,628.5 221.8,625.3 221.9,622.2 222.5,618.8 221.3,616.0 216.4,616.9 216.4,611.8 217.5,608.5 218.5,605.5 219.2,602.2 219.4,597.9 217.8,593.5 216.7,589.7 214.4,587.2 212.7,583.8 210.1,581.8 206.4,581.8 202.6,581.3 198.5,580.4 195.3,578.1 191.8,578.3 187.7,576.6 182.5,575.8 179.6,577.4 175.8,578.0 172.6,579.7 168.3,581.2 166.6,582.5 165.7,585.5 162.7,587.9 160.2,591.9 161.5,595.6 161.4,599.8 162.8,603.2 162.2,606.1 164.0,608.1 166.5,610.3 169.7,610.6 173.0,611.9 175.7,614.9 176.4,617.4 176.3,621.4 177.4,623.8 178.2,628.7 172.3,629.0 166.8,626.7 161.3,625.4 160.1,623.3 156.5,623.2 152.8,623.0 150.0,622.7 147.1,620.5 145.5,624.9 146.4,628.2 146.0,631.9 147.2,635.8 148.2,641.2 147.6,646.8 146.0,650.2 143.6,651.7 139.5,651.3 134.7,651.0M330.2,528.8 328.6,531.4 326.4,535.2 324.1,537.7 323.1,540.9 322.2,544.0 320.8,547.4 318.8,550.0 318.0,552.6 316.2,555.7 314.4,559.0 313.3,561.9 312.3,564.9 312.5,568.2 310.9,571.1 310.6,573.8 310.4,577.4 309.1,580.9 307.1,583.5 307.2,586.9 305.9,590.5 305.5,593.1 306.5,596.4 305.5,599.8 307.1,600.2 303.5,604.3 303.2,607.6 301.3,611.4 300.7,614.5 301.6,618.1 298.9,622.4 297.2,625.0 296.8,628.2 295.2,629.8 292.6,633.0 290.4,636.3 286.7,637.0 283.8,638.1 281.1,637.8 277.9,636.0 275.9,637.5 278.3,640.7 279.0,644.2 282.5,648.8 284.1,648.1 286.0,650.9 289.2,655.3 293.6,658.6 294.2,659.3 294.4,662.9 295.6,665.6 297.0,668.5 298.9,670.1 304.1,670.8 308.8,671.5 309.3,674.9 304.4,677.5 302.2,680.0 301.1,681.8M257.3,510.0 256.7,513.5 255.3,516.4 254.0,519.0 251.0,520.5 249.0,523.9 246.8,525.1 245.2,528.2 242.1,530.1 239.9,533.7 240.1,537.8 238.2,540.9 240.5,541.6 238.5,544.8 238.5,548.2 235.0,550.6 231.3,552.5 225.5,553.6 221.9,558.0 225.0,561.7 224.1,566.3 221.3,568.3 217.0,569.3 213.7,570.0 211.5,572.3 205.8,573.1 204.0,577.6 202.6,581.3M413.2,555.8 410.9,553.1 409.9,550.6 406.9,548.7 404.7,546.0 402.8,543.6 400.2,540.9 398.8,538.5 396.9,535.3 394.6,533.0 392.9,530.7 390.9,528.2 387.2,529.8 382.9,529.5 381.7,533.9 376.8,533.8 373.3,532.8 368.8,531.5 362.9,532.2 359.9,527.8M138.7,601.5 143.3,601.7 147.8,604.6 147.8,607.9 147.6,611.7 150.6,609.1 153.9,608.6 157.2,609.1 157.9,613.6 157.2,618.1 158.9,620.8 161.2,622.8M145.5,623.2 143.1,621.0 141.4,618.4 137.9,617.3 134.4,613.3M180.5,638.9 183.0,642.3 185.4,645.2 188.1,650.2 189.6,653.4 189.6,656.8 189.2,660.5 187.7,664.4 186.8,668.2 187.1,672.0 185.6,675.0 184.5,677.6 183.2,680.8 183.4,684.5 182.4,688.6 181.8,692.7 179.1,689.2 178.2,686.0 177.3,683.1 176.3,679.7 175.6,677.0 179.3,673.6 181.4,670.6 182.5,667.9 183.2,664.4 182.2,660.4 182.9,656.7 183.3,653.8 184.2,648.8 183.6,646.0 181.4,643.2 180.5,638.9M181.7,700.1 183.4,703.0 183.8,706.4 185.3,709.8 185.3,714.0 183.6,719.0 182.1,724.1 179.0,719.1 176.5,715.7 175.8,711.9 172.3,710.3 173.2,706.2 172.8,702.9 171.7,698.5 172.1,694.4 174.1,697.9 177.0,701.6 179.9,698.0 181.7,700.1M182.4,705.8 177.5,706.3 173.9,708.1M167.3,674.6 168.4,678.0 168.5,680.7 168.8,683.9 166.3,685.6 166.2,681.9 164.4,679.5 165.6,674.9 167.3,674.6M184.4,729.9 186.4,733.3 187.1,737.3 184.8,737.7 183.4,734.5 181.9,730.9 184.4,729.9M201.7,668.4 198.0,671.1 195.6,672.1 198.0,668.2 201.7,668.4M208.9,663.2 209.3,667.7 208.1,664.7 208.9,663.2M211.1,669.1 208.7,672.0 206.5,671.6 209.4,670.5M205.2,674.7 201.6,677.4 202.5,676.7M187.4,694.7 186.9,697.0M323.4,679.2 323.7,683.5 323.7,687.2 322.7,682.5 323.4,679.2M313.1,685.7 313.6,691.2 311.3,691.5 311.1,687.3 313.1,685.7M328.5,527.0 331.2,524.5 335.9,522.8 341.1,521.4 344.1,522.2 341.8,524.6 336.7,526.7 332.0,527.7 328.5,527.0M352.3,520.0 355.8,520.5 358.7,520.1 362.1,522.3 359.5,524.0 356.4,521.4 352.3,520.0M407.3,502.8 407.4,505.4 405.3,508.2 403.8,506.3 405.6,502.7 407.3,502.8M425.4,485.5 423.6,487.7 422.2,486.8 425.4,485.5M429.4,482.0 427.8,480.7 430.5,479.3 429.4,482.0M432.2,479.3 433.4,477.0 432.8,478.8M442.0,473.2 446.1,471.5 443.0,472.6M452.0,470.2 454.8,470.5 452.7,469.7M466.5,470.9 463.8,470.4M477.3,475.4 478.6,475.2M445.7,516.3 443.4,518.3 441.1,517.1 442.6,515.7 445.7,516.3M435.1,506.6 432.6,506.0 434.1,504.8 435.1,506.6M338.3,343.7 335.2,348.1 338.7,350.6 341.9,348.0 338.3,343.7M346.6,351.2 343.7,351.9 345.1,350.1 346.6,351.2M350.0,351.5 348.0,351.8M355.4,351.6 352.9,352.0 353.9,350.5 355.4,351.6M362.9,352.1 361.2,351.6 362.8,350.4 362.9,352.1M498.2,677.5 497.3,675.4 494.2,675.1 490.4,676.2 488.5,678.7 486.9,681.4 484.4,683.9 482.5,686.5 480.7,690.1 478.9,691.4 481.2,694.7 479.8,698.1 479.1,702.2 478.2,706.2 476.3,709.3 474.0,711.2 471.7,714.2 469.3,717.2 469.3,721.0 470.0,724.9 471.3,728.7 473.7,731.6 475.9,732.1 478.2,729.8 480.3,727.4 481.1,723.7 482.1,726.3 483.3,728.9 485.1,731.7 487.8,735.1 488.2,737.9 489.4,740.1 492.2,739.0 494.7,735.4 495.1,730.8 494.2,726.1 495.9,722.3 495.9,718.6 492.6,717.7 491.5,714.0 491.6,710.3 493.5,706.0 494.5,701.5 494.1,697.6 496.5,695.3 499.7,697.2 499.0,700.9 497.1,705.9 497.5,709.4 499.0,712.1 500.3,715.4 503.8,716.4 507.0,714.1 510.8,711.0 513.9,710.6 516.5,710.5 514.0,712.8 510.9,715.3 508.0,717.1 506.0,718.9 507.8,721.5 509.2,721.3 510.2,724.3 510.4,726.4 506.5,725.5 504.9,727.0 505.1,730.7 506.5,733.6 506.2,736.7 505.4,739.1 503.1,740.3 501.5,739.2 498.1,741.5 494.0,744.3 492.5,745.1 490.9,743.4 488.2,745.2 486.1,746.5 483.9,745.3 483.2,743.8 482.3,741.1 483.1,736.9 482.4,733.0 482.4,732.2 478.7,735.3 478.1,737.7 478.7,741.7 480.0,743.9 481.1,746.6 480.4,748.3 477.5,749.9 474.7,750.6 471.9,752.5 471.2,755.8 469.4,758.8 467.5,760.1 464.9,761.0 464.2,764.3 461.1,766.0 460.3,767.7 457.1,768.1 456.0,766.4 455.9,770.5 452.1,770.8 448.0,770.1 448.6,773.9 453.2,776.2 456.5,780.5 457.0,783.9 456.6,788.2 455.3,792.4 450.9,792.7 446.9,792.9 443.2,791.7 439.0,790.7 435.6,789.9 431.4,792.3 432.0,796.8 431.6,801.2 430.3,805.4 427.9,809.5 428.0,810.9 429.3,814.3 428.2,818.7 433.2,819.4 435.5,818.8 437.7,822.2 439.6,824.7 444.3,821.9 450.1,822.3 453.0,821.9 456.7,818.4 458.5,815.3 461.0,813.1 459.3,810.0 462.0,805.5 465.2,804.0 467.2,801.9 470.6,797.4 469.8,794.4 472.8,792.5 476.9,792.6 480.1,793.1 482.9,790.2 486.2,787.1 487.6,786.5 490.9,787.7 492.7,790.4 495.9,793.8 499.9,795.6 504.3,797.3 507.0,798.4 512.1,800.7 515.3,804.4 514.9,808.2 516.3,809.2 517.6,806.1 517.9,801.3 515.9,798.2 516.3,797.2 520.2,798.3 519.4,795.7 514.8,794.4 511.4,792.2 508.2,792.7 505.2,791.2 501.9,787.1 498.0,785.4 497.3,782.1 496.6,780.5 500.4,778.3 501.1,781.2 503.5,781.0 506.6,784.2 510.4,785.3 513.9,786.7 516.7,787.4 521.9,788.9 523.1,791.2 524.0,794.7 527.1,797.3 530.7,799.3 533.1,801.7 533.9,803.8 536.9,806.5 540.5,807.5 541.4,803.2 542.0,800.0 541.9,797.1 537.4,795.6 535.1,792.7 534.7,790.0 538.5,791.3 539.4,787.5 541.9,784.9 544.2,785.2 545.6,786.5 547.1,784.3 550.7,780.4 552.0,778.7 548.3,778.7 545.0,776.0 544.8,772.7 544.6,767.9 545.2,762.7 545.0,758.9 545.2,756.4 547.5,754.5 550.1,754.8 551.8,754.8 552.4,757.9 556.5,759.3 558.5,758.4 560.0,754.3 562.0,750.8 556.6,751.5 556.1,748.2 558.9,745.7 560.0,743.3 562.8,740.5 561.9,743.9 563.7,746.2 563.9,749.9 563.2,751.4 566.6,751.0 571.8,750.6 574.6,751.1 578.9,750.3 582.6,751.7 584.3,753.6 583.3,758.0 580.5,759.7 576.9,763.2 572.2,765.1 567.7,766.2 562.5,768.2 559.3,772.3 558.0,775.2 554.8,777.6 552.0,778.7M547.1,784.3 546.6,785.5 546.9,789.8 550.3,792.1 551.8,792.8 554.3,796.1 556.0,797.7 558.9,797.8 564.2,797.5 566.6,792.9 570.3,792.7 573.6,791.8 575.7,791.5 576.5,788.5 578.8,785.0 582.1,782.2 584.3,784.5 585.5,787.5 588.5,791.1 588.9,794.2 590.1,798.6 591.8,803.1 592.0,807.0 589.8,809.6 586.4,811.9 585.2,811.5 580.2,813.5 577.4,816.8 575.5,819.2 572.5,820.6 569.0,821.8 566.0,821.3 562.4,822.7 559.2,824.1 557.0,823.1 552.7,822.5 548.9,822.5 544.3,823.9 542.2,826.0 539.4,828.8 539.9,832.7 539.6,837.9 536.1,837.6 533.3,838.5 530.0,838.5 526.8,838.5 524.1,836.4 520.2,834.4 516.4,834.0 512.1,834.6 508.9,835.2 505.5,834.1 500.7,832.1 501.3,828.7 501.2,824.1 499.6,819.7 496.5,817.1 495.3,816.8 491.0,819.3 485.6,819.6 480.2,820.7 476.1,820.7 471.6,821.8 465.8,823.4 461.5,824.7 458.4,826.6 455.7,827.9 452.8,829.2 449.0,829.1 443.4,828.3 440.3,825.7 438.4,825.5 436.6,829.0 434.1,833.4 430.8,834.8 427.2,837.1 423.8,839.0 420.7,843.3 420.3,848.1 417.4,852.5 414.4,854.2 412.3,856.5 408.8,856.6 404.5,857.4 401.3,861.7 398.8,864.0 395.3,865.4 393.0,867.9 391.4,871.2 388.8,872.7 385.5,874.9 384.3,877.9 381.4,880.2 378.9,882.8 377.2,885.6 377.5,889.3 378.6,893.3 378.1,896.9 377.7,900.2 377.1,904.2 374.3,907.3 372.7,911.7 369.4,913.6 368.9,916.9 366.0,918.6 363.9,919.8 364.2,924.3 365.6,927.6M445.3,764.0 449.8,763.6 453.8,762.6 457.7,761.9 461.1,761.9 463.9,760.7 462.1,759.1 463.3,757.8 464.5,754.9 461.5,753.4 460.5,751.0 459.8,748.6 457.5,746.5 456.7,742.9 454.8,740.9 453.0,740.8 454.4,738.9 456.0,736.2 456.1,734.2 453.0,734.1 451.5,734.3 453.9,731.4 454.0,730.6 450.1,730.3 449.3,732.6 448.0,734.8 446.9,737.5 447.9,740.4 447.4,743.1 449.4,741.3 448.6,744.5 449.0,745.7 452.3,745.1 452.8,748.0 453.2,749.6 453.1,751.2 449.5,751.4 449.1,753.3 449.6,755.8 447.0,756.8 447.9,758.1 452.2,758.8 452.4,760.1 449.3,760.3 447.3,762.6 445.3,764.0M435.8,757.0 439.5,756.3 444.4,755.3 445.6,751.0 445.9,748.2 447.6,746.0 446.2,743.4 443.6,742.7 441.4,743.2 440.3,746.3 437.1,745.7 436.3,748.9 437.9,750.8 436.4,752.6 434.5,754.3 435.8,757.0M445.5,747.8 442.8,746.6 441.6,745.6 443.6,743.9M514.6,808.3 514.9,813.4 514.6,815.3 510.0,814.7 504.9,813.5 504.8,811.3 507.1,810.3 511.1,810.2 514.6,808.3M490.4,800.0 492.9,802.7 493.2,808.5 489.6,810.0 488.6,805.7 487.4,801.8 490.4,800.0M489.8,792.2 490.8,796.4 490.3,799.2 488.0,796.9 487.9,794.3 489.8,792.2M545.8,809.7 549.5,809.6 552.4,808.3 555.8,807.1 551.8,810.0 546.6,811.4 545.8,809.7M575.7,796.4 578.4,792.5 581.3,790.0 581.3,793.3 579.2,796.9 575.7,796.4M470.8,807.9 468.5,809.8 471.0,810.6 470.8,807.9M487.5,738.5 488.2,740.7 485.8,741.6 485.0,739.8 487.5,738.5M499.2,727.0 499.4,729.4 498.8,730.9 498.2,728.6 499.2,727.0M389.9,851.5 388.7,852.7 391.0,852.3M393.3,854.0 393.3,855.5M402.8,851.4 399.7,855.2M372.6,797.7 373.4,798.6M393.7,830.5 394.7,831.3M332.8,905.7 333.1,906.4M496.9,573.2 494.1,575.7 489.6,572.1 490.3,569.4 494.4,570.2 496.9,573.2M499.5,567.2 497.3,568.2 496.4,566.1 499.5,567.2M490.1,568.0 486.7,568.1 488.0,565.9 490.1,568.0M461.5,544.3 459.7,546.2 457.3,545.5 458.5,543.6 461.5,544.3M517.0,663.2 517.8,665.2 519.5,664.4 518.5,662.7 517.0,663.2M521.8,650.9 524.4,651.7 524.1,650.0 521.8,650.9M541.8,507.7 543.6,502.5 545.1,499.5 546.9,497.4 547.5,493.9 549.7,491.8 551.2,487.8 553.9,488.2 557.2,487.1 558.7,481.4 563.7,481.6 561.0,483.7 559.8,486.5 557.3,488.2 555.8,491.3 554.1,493.8 552.0,496.1 549.6,498.4 549.0,501.6 545.6,505.5 541.8,507.7M565.2,480.1 564.8,476.8 565.0,473.5 562.3,469.4 561.7,465.8 565.8,467.1 571.2,465.7 573.7,470.4 579.4,469.4 577.9,472.7 575.0,475.3 572.5,473.8 568.3,477.1 565.2,480.1M577.7,467.4 578.2,464.7 579.9,461.4 582.9,458.2 586.2,456.7 590.7,452.8 595.0,448.7 599.4,448.1 599.4,449.9 603.8,450.0 606.8,451.8 608.6,453.8 610.7,453.8 616.0,453.8 615.1,458.1 617.3,462.3 620.2,462.9 623.3,464.6 627.5,468.6 626.3,470.1 623.5,469.4 619.5,468.8 616.9,467.9 614.9,465.0 612.2,463.2 610.0,461.5 606.8,460.8 603.7,461.7 600.4,463.6 597.6,458.7 594.3,459.5 590.5,461.4 587.8,462.7 585.5,464.7 581.3,468.1 577.7,467.4M627.5,468.6 628.6,463.5 632.4,462.1 635.6,459.9 638.9,462.4 637.5,465.3 634.8,468.5 630.5,470.0 627.5,468.6M618.8,461.9 618.1,457.8 621.1,457.5 626.1,459.3 625.9,462.7 622.0,463.2 618.8,461.9M548.4,468.4 551.5,469.0 555.2,467.7 552.8,468.7M542.6,468.5 546.4,467.7M521.0,477.6 523.5,476.4M556.7,468.2 560.7,467.8M661.0,455.4 665.4,455.4M651.2,455.9 652.8,456.3M684.8,476.3 687.2,474.2 690.0,472.0 693.9,471.0 697.3,471.9 701.1,470.3 699.6,472.8 698.3,475.9 694.5,476.7 690.5,477.8 684.8,476.3M732.9,512.0 736.1,509.7 739.7,510.7 743.3,513.1 742.6,516.6 741.2,518.8 738.4,517.8 735.2,516.6 732.9,512.0M717.4,460.7 716.5,456.5 714.5,453.8 716.9,452.2 719.5,450.0 723.0,448.5 725.6,447.8 728.9,447.2 732.3,447.2 736.4,444.9 739.7,442.7M717.4,460.7 721.5,460.0 725.6,458.2 730.8,455.9 730.7,459.1 733.4,456.4 736.3,453.9 738.0,451.6 739.5,448.9 742.4,447.1M640.5,482.0 638.9,479.8 641.0,480.2 640.5,482.0M498.2,677.5 502.2,677.2 505.6,676.2 508.3,677.2 511.7,676.3 516.0,677.5 516.6,681.0 513.1,682.9 509.9,684.7 505.7,685.2 509.7,687.2 512.9,689.6 518.0,689.1 520.5,685.7 518.2,681.7 518.7,677.6 517.2,672.8 514.4,671.3 519.0,670.6 520.1,673.7 523.0,672.4 521.2,668.7 523.1,665.8 523.9,661.8 525.5,656.3 528.6,653.4 526.7,650.7 527.1,645.8 531.0,644.6 532.7,642.4 529.5,643.3 526.1,641.8 523.3,638.7 520.2,636.3 519.0,634.1 523.1,633.7 528.4,635.4 533.8,637.1 538.9,639.5 542.3,641.3 542.1,638.1 538.0,636.2 534.3,635.4 529.0,633.6 525.5,632.0 522.1,630.5 524.6,628.2 526.6,627.4 524.1,624.6 519.7,623.8 520.4,618.1 516.8,616.9 513.9,614.8 512.0,611.2 510.3,608.6 508.8,605.4 504.5,602.9 505.6,600.1 507.6,594.8 509.5,592.5 514.8,593.0 516.2,594.6 519.0,596.0 516.4,594.0 514.1,591.1 514.9,588.4 513.0,584.7 512.4,580.1 510.5,576.1 509.0,577.2 509.7,573.2 513.2,568.7 510.2,568.2 508.7,565.5 504.9,564.4 501.4,564.9 499.9,565.0 498.3,562.3 497.1,559.3 496.2,555.5 494.0,553.1 490.0,550.2 485.9,547.2 484.0,543.0 479.5,542.4 475.9,540.7 472.4,541.6 469.5,539.3 465.5,540.0 463.7,538.1 460.3,536.9 457.5,534.3 453.1,531.5 448.5,530.1 445.1,527.6 446.2,524.8 448.2,521.8 449.6,519.7 453.7,520.1 455.5,523.0 459.5,523.6 462.7,521.0 464.4,520.7 462.8,518.0 461.5,514.1 461.7,511.4 467.4,512.4 471.2,510.1 474.0,507.0 477.4,505.8 479.1,504.1 481.7,506.2 485.0,506.9 489.3,505.6 492.2,506.4 496.5,502.4 495.4,499.2 496.5,495.4 496.6,492.9 499.6,493.0 501.0,488.5 506.5,487.0 507.9,483.2 512.5,481.5 515.1,480.5 518.5,478.7 518.1,482.9 517.1,487.3 515.9,490.8 513.5,494.5 512.6,498.1 509.8,499.4 508.0,502.5 505.0,503.4 499.7,505.6 495.6,508.3 490.8,510.8 490.0,513.5 487.5,515.9 491.6,515.5 495.3,515.1 497.1,512.9 502.9,513.5 501.2,517.4 504.6,516.1 506.9,513.6 509.1,511.6 514.4,512.1 515.6,515.0 520.1,516.3 524.9,519.9 529.0,522.8 532.6,522.3 536.1,521.9 540.2,520.5 544.0,520.9 548.5,520.1 552.2,520.4 551.1,516.6 551.2,512.9 547.5,510.7 546.8,506.0 549.6,502.0 553.1,499.9 556.5,497.2 558.1,494.6 561.1,492.9 564.9,492.0 568.2,490.7 571.7,489.4 576.3,489.5 580.2,488.8 584.0,488.0 587.5,488.5 591.4,489.5 594.3,493.2 598.8,494.4 604.4,494.3 609.2,493.3 614.4,494.8 616.9,493.7 617.9,488.5 619.2,486.0 620.5,482.3 623.7,479.2 627.3,477.7 632.4,480.4 636.5,483.5 632.4,486.5 628.1,490.7 624.5,491.9 626.4,497.6 623.1,499.1 620.5,501.7 621.2,504.2 623.7,506.1 625.7,508.6 629.7,510.1 626.5,511.6 622.1,512.8 626.6,516.0 629.9,518.7 633.8,519.7 636.6,521.3 638.8,515.8 640.3,512.9 635.6,509.4 635.3,506.2 633.6,503.5 636.7,504.2 639.9,506.0 643.0,507.8 646.3,507.8 650.7,506.2 651.9,502.5 654.2,498.3 655.6,495.0 656.9,492.0 661.0,489.5 665.6,491.5 664.7,486.2 667.4,485.0 670.7,483.9 674.1,484.5 676.3,483.8 679.8,484.6 684.1,484.4 688.6,484.7 691.9,486.4 695.9,487.5 698.8,489.2 701.4,489.5 704.5,490.5 705.9,493.2 708.3,495.1 711.1,497.0 714.6,499.6 718.1,502.7 720.3,506.2 723.5,509.8 725.4,513.2 728.3,513.3 731.8,513.5 730.0,516.2 727.3,518.3 727.7,522.3 728.5,525.2 733.1,528.9 736.7,530.1 739.8,532.7 743.3,532.7 745.8,533.7 747.1,531.0 750.0,528.6 751.2,525.1 754.0,522.4 756.3,519.4 756.8,516.4 760.0,513.1 761.9,510.1 766.0,508.7 769.6,505.6M784.4,565.5 781.6,567.7 779.2,567.8 776.2,569.7 773.6,571.5 768.1,573.4 765.7,577.5 768.0,579.7 770.2,581.7 772.2,585.0 773.8,590.3 770.7,590.7 767.8,589.2 764.2,590.0 761.3,590.6 758.7,593.6 756.2,594.8 752.7,596.7 750.0,599.7 747.1,602.6 743.2,604.0 737.9,605.7 739.1,611.5 741.7,616.4 742.5,620.4 742.6,623.8 743.0,628.7 748.2,630.0 750.4,632.2 751.7,635.3 752.9,638.2 756.3,641.0 758.1,643.6 759.8,646.8 763.0,650.0 765.9,652.1 767.8,656.0 768.5,659.7 770.8,663.1 771.8,666.4 773.4,668.5 776.5,668.4 780.1,669.8 783.3,669.1M776.4,700.4 773.1,701.4 770.4,701.7 766.9,701.8 763.7,703.4 760.7,702.9 756.3,701.6 752.1,702.0 748.3,700.9 743.6,701.6 739.5,700.9 735.8,699.2 730.4,698.5 730.0,702.1 731.2,704.6 731.1,708.2 728.1,710.2 724.5,712.2 721.1,714.0 721.6,710.7 720.3,707.0 718.1,709.7 717.2,712.5 712.6,714.3 709.2,715.2 707.0,717.1 701.8,718.9 699.9,722.0 698.6,725.7 696.5,729.1 694.9,731.7 694.5,735.9 692.8,738.6 691.4,741.4 689.5,744.9 686.7,747.3 684.0,750.8 681.4,753.1 677.4,752.6 674.5,753.6 671.8,755.0 671.5,758.1 670.1,761.9 667.0,764.9 662.9,766.6 659.4,767.7 656.2,769.7 653.1,769.7 650.1,768.7 644.2,768.2 640.6,772.3 640.5,776.8 645.5,777.8 651.3,778.7 654.6,779.1 657.6,778.9 662.7,780.7 665.5,781.3 662.3,776.3 665.9,776.8 668.9,780.4 673.7,777.6 676.4,774.8 677.9,772.0 677.7,768.2 676.8,763.8 676.8,760.9 675.3,757.8 679.6,759.6 684.9,760.9 688.5,758.6 692.2,756.0 696.1,755.4 700.4,753.6 702.4,756.5 703.8,760.2 706.1,765.7 708.6,770.9 710.1,775.0 710.1,778.6 710.0,781.9 710.1,785.6 710.1,790.2 709.8,793.8 708.5,797.3 707.1,801.2 708.7,806.6 707.7,809.9 708.0,813.1 706.3,815.6 706.2,819.8 704.6,822.9 705.4,825.9 703.5,829.1 703.5,832.1 701.9,835.3M684.6,852.8 682.5,850.3 680.1,848.9 677.0,847.9 674.7,844.3 671.2,841.7 667.3,841.6 664.5,839.8 660.4,840.1 656.9,838.5 653.4,838.0 650.0,836.1 646.7,836.0 642.8,834.9 639.5,833.7 636.3,831.1 632.3,828.6 628.0,828.7 623.7,826.8 621.3,825.2 618.1,824.4 615.2,822.4 612.0,820.6 608.6,820.8 605.2,818.6 602.5,819.3 600.7,815.9 599.4,812.5 600.0,815.9 601.4,820.0 601.3,821.3 595.7,820.8 592.2,819.1 589.9,816.5 592.6,820.0 595.2,820.8 598.2,822.2 601.7,824.7 604.1,827.2 608.2,828.8 611.8,831.1 615.3,833.2 618.6,835.8 622.1,837.5 624.8,837.2 628.3,838.4 630.9,841.2 634.7,843.6 638.3,847.6 643.2,847.6 646.9,849.3 650.7,851.1 653.9,853.0 657.9,855.2 661.0,857.4 665.3,858.3 668.6,858.0 672.5,856.9 676.4,857.9 679.6,857.4M589.9,816.5 586.9,814.5 585.2,811.5M587.6,717.0 584.8,722.2 585.1,726.3 586.2,731.3 590.4,733.1 593.6,736.0 598.5,737.0 603.7,737.7 607.4,737.4 609.4,742.6 611.7,746.0 616.2,747.0 619.0,745.7 622.1,744.9 623.6,742.2 626.5,740.0 628.3,736.0 623.9,733.6 619.0,731.3 615.1,730.6 615.2,727.1 615.2,724.4 612.7,726.5 609.5,727.1 606.5,725.3 600.7,726.4 597.2,725.1 594.4,725.2 594.5,721.8 596.4,717.2 592.8,713.7 589.3,714.7 587.6,717.0M358.3,627.3 360.0,625.3 361.5,627.8 359.7,628.9 358.3,627.3M357.1,632.1 359.2,630.8 359.9,632.5 357.7,633.3 357.1,632.1M357.5,654.8 359.0,654.4 358.7,655.6 357.5,654.8M363.8,658.5 364.9,657.4 365.4,659.2 363.8,658.5M379.7,635.5 382.1,635.6 381.3,636.9 379.7,635.5M364.4,635.5 365.7,635.7 365.1,636.8 364.4,635.5M363.1,634.6 364.2,634.3 364.0,635.1 363.1,634.6M399.3,659.1 399.8,656.6 401.9,656.3 402.2,659.3 399.3,659.1M492.2,488.0 491.1,485.7 488.3,484.2M329.6,891.7 330.6,893.4M339.7,898.1 339.7,899.3M339.4,901.6 338.4,902.5M332.6,904.9 332.9,907.0M328.5,904.4 328.8,905.1M187.5,762.0 184.5,762.4 186.5,763.8 187.5,762.0M183.3,764.9 181.5,766.5M179.8,768.1 178.6,770.7M189.7,759.0 189.5,759.7M188.7,753.5 188.2,754.9M188.8,741.1 188.7,742.3M358.7,781.6 358.8,782.2M364.2,789.4 365.6,791.2 365.1,789.9M369.0,790.9 369.2,792.0M371.9,796.8 373.4,798.6M372.4,801.6 372.5,802.2M393.4,830.0 394.9,831.9 394.4,830.8M384.7,847.8 384.7,849.4M400.7,852.9 398.7,855.5M393.0,853.4 393.7,855.7 392.7,854.4"/>
<path stroke-width="3.2" d="M365.6,657.0 365.3,652.3 365.2,649.9 366.2,647.2 368.0,643.0 368.9,639.2 369.4,637.0 368.5,634.3 367.2,633.7 370.1,632.7 371.5,635.0 373.3,638.0 377.6,639.2 381.2,638.1 384.2,635.0 385.0,633.2 387.1,630.8 388.5,628.5 387.3,626.1 389.6,623.8 390.3,621.9 392.9,619.8 396.5,618.4 400.2,618.6 401.7,622.1 398.9,623.6 397.4,625.6 399.0,628.0 396.9,631.5 395.9,634.8 393.4,638.9 392.6,642.0 389.1,643.4 387.5,645.5 387.1,648.0 386.9,650.7 385.3,653.0 384.6,655.0 379.9,654.9 380.5,651.6 378.7,647.7 377.1,650.3 377.1,653.6 373.3,654.5 370.2,656.9 368.1,656.9 365.6,657.0M412.0,623.3 411.4,619.0 413.0,615.6 416.6,615.0 420.3,616.0 424.0,615.8 427.6,613.3 431.2,614.9 434.5,618.4 436.5,621.6 436.5,625.5 434.6,627.5 430.4,627.2 426.1,626.3 421.6,624.3 418.0,624.8 414.0,623.7 412.0,623.3M417.3,613.2 420.2,612.0 422.2,611.2 425.9,610.9 428.7,612.2 425.8,614.5 421.4,615.3 417.3,613.2M404.9,623.7 404.3,620.8 404.2,617.8 405.5,614.4 405.6,612.0 410.4,611.3 412.2,613.9 410.9,616.7 409.5,618.3 409.3,622.9 404.9,623.7M384.9,597.9 385.6,594.9 384.9,592.5 385.2,589.5 385.5,586.3 388.3,583.4 389.9,580.6 392.4,580.0 396.9,580.9 401.1,581.1 403.8,583.9 404.8,585.9 404.6,589.1 401.2,592.4 402.9,595.0 402.4,597.3 399.4,598.2 394.6,597.5 391.7,598.2 390.2,600.3 387.2,599.7 384.9,597.9M402.6,576.4 406.7,575.7 408.8,577.1 410.6,579.8 412.5,582.9 409.8,585.9 407.3,586.8 404.5,586.7 402.9,584.4 403.0,581.5 402.1,578.4 402.6,576.4M406.3,598.4 409.0,596.5 409.6,593.4 411.3,590.7 413.2,589.9 415.7,592.2 415.6,595.1 414.5,598.1 411.1,600.3 408.4,600.6 406.3,598.4M392.5,604.4 395.1,602.4 397.7,600.6 400.3,601.5 402.0,603.6 400.5,606.6 396.0,606.6 392.5,604.4M394.6,609.3 396.7,607.2 399.5,606.7 402.1,608.8 401.9,612.9 398.2,613.9 395.6,612.4 394.6,609.3M362.0,622.5 364.5,618.9 369.1,620.3 371.7,623.2 369.0,626.7 365.5,628.9 363.1,625.8 362.0,622.5M416.1,588.4 419.3,590.2 418.8,592.7 415.8,591.2 416.1,588.4M406.8,606.4 410.4,603.3 412.6,605.5 411.5,607.5 407.8,607.5 406.8,606.4M382.3,604.3 384.9,602.0 387.0,603.6 384.4,606.6 382.3,604.3M417.3,606.3 419.0,603.6 421.5,604.2 419.7,607.5 417.3,606.3M404.7,609.0 407.0,607.8 407.9,609.8 406.0,610.6 404.7,609.0M416.1,609.3 418.1,608.0 419.8,609.3 417.8,610.6 416.1,609.3M419.9,599.2 422.2,597.4 422.2,599.3 420.7,600.3 419.9,599.2M417.3,597.8 419.4,595.7 419.6,597.9 418.2,598.6 417.3,597.8M414.6,601.6 416.8,601.6 417.3,602.8 415.1,602.6 414.6,601.6M407.3,600.2 408.6,599.8 408.6,601.2 407.3,600.2M398.4,624.8 400.0,623.4 401.9,625.3 400.6,628.2 398.8,627.0 398.4,624.8M379.2,633.4 380.7,631.6 382.6,633.3 381.1,634.8 379.2,633.4M401.3,597.0 403.2,597.0 402.3,598.9 401.0,598.0 401.3,597.0M414.6,588.0 415.7,589.2 414.7,590.2 414.1,588.8 414.6,588.0M415.0,609.5 416.0,610.0 415.2,611.1 414.5,610.3 415.0,609.5M413.7,613.1 415.1,613.1 414.8,614.3 413.7,613.9 413.7,613.1M423.8,607.5 425.2,608.0 424.3,608.5 423.8,607.5M423.0,487.8 425.5,485.9 427.4,483.7 428.9,482.1 430.4,480.1 432.7,478.4 435.1,476.7 437.8,475.0 441.0,473.3 444.4,472.1 447.6,471.7 450.8,470.7 453.8,470.1 456.8,469.2 460.3,468.7 463.3,469.2 466.3,470.5 470.7,472.4 473.2,472.7 475.9,474.9 478.3,475.6"/>
<path stroke-width="3.4" d="M382.5,694.7 381.0,692.9 381.6,689.9 381.7,688.1 379.8,685.1 380.7,683.2 381.3,680.9 380.8,677.5 383.7,674.8 386.2,671.8 388.1,669.3 389.3,666.5 391.1,662.8 393.6,662.7 397.1,663.3 398.7,662.0 401.3,661.7 399.6,659.7 400.6,656.5 404.0,654.8 406.0,651.2 407.2,647.7 410.0,647.2 410.9,645.0 413.9,642.9 414.5,639.6 415.2,637.9 415.5,635.8 413.3,633.8 414.4,631.5 417.3,628.7 419.3,626.8 423.2,628.9 426.8,628.1 431.1,628.8 434.3,627.9 435.6,629.3 439.4,631.4 441.9,632.2 443.8,632.3 447.6,633.4 449.5,636.1 450.3,640.0 452.3,643.7 453.5,645.9 453.1,648.0 449.7,648.7 447.3,651.7 445.7,655.1 445.3,658.8 442.8,661.9 442.5,665.6 439.8,668.6 437.0,671.5 435.1,674.7 434.2,678.4 433.0,679.9 429.1,679.4 430.3,682.8 427.9,682.7 425.4,683.9 421.9,685.4 419.9,683.9 416.2,683.7 413.6,684.4 410.8,686.6 408.6,685.6 404.7,685.0 401.1,684.5 398.9,687.8 396.1,687.8 393.6,689.2 390.5,690.6 387.7,692.1 386.5,693.1 382.5,694.7M428.3,706.8 425.7,706.0 423.0,703.1 422.5,698.8 423.2,696.2 426.4,693.8 428.6,696.4 429.0,698.6 430.7,698.1 433.2,697.2 436.5,697.0 438.0,698.2 439.1,701.6 437.5,705.2 436.2,707.1 432.8,706.7 431.2,708.3 428.3,706.8M341.0,695.9 338.9,697.4 335.9,696.2 332.7,695.2 330.3,695.1 328.1,695.6 324.7,694.9 322.0,696.0 323.2,699.8 325.1,701.7 325.0,703.7 324.0,706.2 323.6,708.8 326.2,711.2 328.2,712.7 332.0,711.6 334.5,708.7 337.0,705.1 333.8,703.4 333.9,700.8 336.6,697.4 339.4,697.9 341.0,695.9M518.9,654.1 516.5,655.7 514.0,655.1 511.1,652.8 509.7,649.8 507.3,648.4 507.1,645.7 505.1,641.9 506.5,640.0 504.4,637.3 505.5,634.4 504.2,631.6 507.1,632.3 506.4,635.7 508.3,637.8 510.1,641.2 509.7,643.6 510.7,644.9 512.4,647.7 514.8,650.9 518.6,651.8 518.9,654.1M331.3,529.5 332.9,528.7 336.1,527.5 338.0,526.6 340.9,525.6 342.1,524.8 345.6,524.9 349.0,523.6 349.9,526.1 352.7,525.8 355.3,525.8 358.4,527.1 360.2,529.3 363.6,530.0 365.6,529.2 367.8,529.0 370.2,529.9 371.6,532.3 375.7,531.0 377.9,532.4 379.9,532.4 379.6,528.9 380.3,526.6 383.9,527.6 386.2,525.6 388.0,527.7 391.4,526.9 392.5,525.5 395.5,523.5 397.1,523.6 400.5,523.6 402.3,521.1 403.6,517.6 404.7,515.7 405.9,513.6 404.9,515.6 408.1,517.7 406.9,521.5M331.9,532.4 334.7,532.1 336.6,530.4 338.9,528.7 340.3,528.2 342.5,527.7 346.0,527.8 348.6,528.5 350.2,528.8 352.8,527.7 355.6,528.5 358.7,529.8 360.6,532.0 363.3,531.6 365.9,531.8 367.7,533.3 370.5,532.5 372.9,534.2 376.0,533.6 377.7,534.1 380.2,534.9 379.8,531.4 380.4,529.1"/>
<path stroke-width="2.5" fill="#3a0048" fill-opacity="0.8" d="M473.8,660.8 471.3,658.1 468.6,654.9 467.4,650.7 469.7,649.0 471.9,647.6 472.1,650.2 474.5,647.4 476.3,645.3 476.4,648.5 474.6,651.3 476.3,653.4 475.9,656.7 474.5,659.1 473.8,660.8ZM487.6,636.8 485.2,636.3 486.5,632.2 489.2,629.3 490.8,631.5 490.2,634.8 487.6,636.8ZM503.3,606.3 501.1,608.4 498.4,610.6 493.7,611.6 492.1,610.6 493.3,608.3 496.0,607.0 499.1,604.2 503.3,606.3Z"/>
<path stroke-width="2.2" d="M487.3,686.1 485.1,689.2 483.6,694.0 482.4,699.4 482.3,703.4 481.1,707.6 481.2,711.5 482.2,715.2 483.8,718.8 484.2,722.7 483.3,726.9 482.3,727.1M487.3,686.1 490.5,686.8 492.5,688.0 494.3,691.3 496.0,694.7 496.7,695.3M487.3,686.1 488.1,684.5 491.5,685.6 494.1,684.8 492.9,680.8 494.7,678.6 497.3,680.6 498.2,677.5M497.9,679.0 498.2,683.1 501.0,685.0 502.9,689.2 506.0,694.0 508.7,696.8 512.1,699.2 513.7,702.7 512.4,707.9 511.3,710.7M513.9,714.2 515.3,719.6 516.2,721.4 520.0,725.2 525.4,724.4 528.2,726.9 533.3,728.5 532.6,731.8 535.3,734.9 539.7,731.6 542.6,734.5 548.5,735.3 553.5,733.1 558.1,730.4 560.7,733.6 562.7,736.8 561.3,742.3M509.7,722.8 512.9,721.7 516.2,721.4M505.7,732.2 509.3,729.4 513.5,728.0 517.7,728.6 520.0,725.2M517.7,728.6 517.7,732.6 518.4,735.8 514.3,738.1M507.5,734.9 510.7,734.9 512.0,736.9M493.4,744.8 494.7,748.7 496.6,752.4 498.4,756.1 498.0,756.6M498.0,756.6 502.9,757.8 507.1,757.8 510.4,759.3 514.4,758.7 519.1,756.0M519.1,756.0 521.2,750.6 518.4,746.9 516.4,744.2 514.3,738.1 512.0,736.9 505.5,739.5M518.4,746.9 522.7,745.4 526.2,743.2 530.0,741.4 534.2,739.3 535.3,734.9M477.6,750.7 477.5,754.0 475.8,757.0 475.8,761.1M468.9,759.2 473.0,758.9 475.8,761.1M475.8,761.1 477.1,766.3 482.5,767.7 481.6,773.7M466.7,760.6 469.4,762.9 472.2,764.7 475.8,766.5 477.1,766.3M481.6,773.7 487.3,773.3 489.9,775.4 489.2,778.1 486.6,779.8 480.8,781.0 477.8,780.1 480.1,775.2 481.6,773.7M480.8,781.0 481.3,784.8 483.5,788.0 483.4,789.7M454.7,792.8 460.3,795.5 465.7,796.7 470.5,797.0M431.9,797.2 439.3,798.2 437.9,802.0 436.7,806.3 435.4,810.6 435.4,814.2 433.7,818.5M487.3,773.3 494.4,771.5 496.5,770.6 497.8,766.4M497.8,766.4 493.5,763.6 492.0,760.6 498.0,756.6M497.8,766.4 500.7,764.8 505.8,763.8M505.8,763.8 510.4,759.3M505.8,763.8 507.2,766.4 506.8,770.9 505.8,772.5M489.9,775.4 495.4,774.7 499.6,775.0 505.8,772.5M499.6,775.0 500.8,778.6M507.2,766.4 512.0,765.7 515.5,761.4 520.0,760.1 522.3,761.4 519.9,765.8 518.3,770.6 514.6,773.3 510.1,772.5 505.8,772.5M520.0,760.1 519.1,756.0M522.3,761.4 526.6,759.5 531.4,755.8 534.7,758.1 538.7,760.1 540.7,763.8 545.2,762.7M531.4,755.8 534.4,753.3 539.9,754.6 543.4,757.9 540.7,763.8M518.3,770.6 523.4,774.1 527.0,774.9 528.2,776.3 534.0,775.6 540.4,771.1 545.2,769.6M514.6,773.3 516.8,777.0 518.3,779.6 523.6,783.2 524.7,786.0 525.6,787.6 527.6,791.0 528.8,791.5 533.2,787.3 538.1,784.7 543.2,780.8M528.1,775.9 530.3,779.6 530.3,783.8 533.2,787.3M543.2,780.8 547.2,777.3M524.7,786.0 521.9,788.9M528.8,791.5 527.1,797.3M500.6,779.1 505.2,777.9 507.5,773.3 514.6,773.3M507.0,778.8 510.6,778.6 516.2,776.3 516.8,777.0M517.9,787.1 512.5,784.7 507.4,780.4 507.0,778.8M523.6,783.2 518.3,787.4M530.3,783.8 527.8,785.3 525.6,787.6M584.3,784.5 585.9,780.5 591.6,776.0 596.0,770.0 599.8,766.6M599.8,766.6 602.7,763.6 605.4,760.0 600.3,757.4 597.0,755.0 597.8,752.4 590.7,751.3 584.3,753.6M575.4,751.0 579.6,748.4 583.6,746.1 587.2,744.5 590.8,742.1 595.6,741.4 600.0,740.6 599.6,737.1M590.7,751.3 593.6,747.2 596.8,743.4M593.6,747.2 599.3,749.0 604.1,750.4M605.4,760.0 611.4,762.4 616.6,766.9 623.2,770.1 630.7,769.0 636.9,772.9 640.1,772.9M597.8,752.4 604.4,750.7 605.5,745.6 611.7,746.0M626.3,735.0 627.7,729.4 629.6,723.8 636.0,719.5 639.7,717.1 643.5,714.6 647.5,716.8M647.5,716.8 652.9,722.4 658.4,724.2 663.9,726.8 670.2,730.3 672.6,732.0 676.4,730.2 679.7,728.1 686.8,728.3 687.4,734.7 692.4,739.4M599.8,766.6 598.9,771.7 601.9,775.3 604.1,779.3 602.2,783.5 600.6,788.3 605.0,791.4 605.3,793.0 612.4,792.6 616.2,791.9 620.2,790.6 624.0,789.6 628.0,788.2 631.9,787.3 637.6,782.1 640.5,776.8M637.6,782.1 642.6,780.3 645.2,778.1M600.6,788.3 599.1,792.9 597.5,797.3 593.2,798.1M588.6,790.5 591.5,790.6 591.5,795.8 589.8,798.2M591.5,795.8 592.5,798.6 595.5,803.4 597.5,807.9 599.4,812.5M592.0,807.0 595.9,809.5 599.0,812.7M605.0,791.4 602.8,795.5 600.4,799.8 606.4,804.3 603.7,811.2 599.6,812.9M671.6,842.1 670.9,835.8 674.4,832.5 677.1,829.1 680.3,825.7 683.6,822.2 685.0,817.8 686.7,813.5 688.7,809.5 690.6,805.3 692.5,800.7 694.0,796.5 695.1,792.8 696.3,788.7 697.9,785.1 698.7,780.9 695.0,777.4 691.3,774.6 687.5,771.8 684.9,775.4 681.9,778.3 679.3,781.3 675.4,780.7 671.1,780.9M667.4,782.2 669.0,781.1M694.0,796.5 698.8,797.9 703.4,798.3 708.1,799.9M687.5,771.8 685.4,768.4 682.7,765.1 680.6,760.8M559.2,824.1 560.9,829.6 563.4,834.9 564.7,838.6 566.9,842.5 568.7,845.7 570.2,849.6 572.3,853.0 574.1,857.0 575.3,860.9 577.4,864.3 578.8,868.0M578.8,868.0 582.6,865.6 586.7,863.9 590.8,862.0 594.8,859.5 598.5,857.0 602.5,855.5 606.4,853.2 610.2,851.0 614.1,848.6 617.6,845.5 621.1,843.2 624.9,841.0 628.7,838.1M578.8,868.0 580.7,872.9 583.3,877.7 578.7,879.8 579.8,882.3 575.5,881.5 571.7,881.0 567.9,880.8 563.8,880.4 559.7,879.3 555.4,878.8 551.6,878.6 547.8,877.5 543.5,877.6 539.5,876.9 535.4,875.9 531.5,879.7M531.5,879.7 528.3,882.7 522.5,881.8 517.0,880.5 512.8,879.2 508.3,878.0 505.6,872.8 502.8,867.6 502.8,860.0 500.9,854.7 499.8,849.7 502.4,845.3 506.1,838.8 505.1,834.2M499.8,849.7 497.9,845.8 496.3,841.5 490.5,837.6 488.8,830.7 491.3,826.7 491.4,819.3M517.0,880.5 514.0,883.4 510.3,885.5 507.6,888.3 504.5,891.3 501.1,893.4 497.8,896.0 494.3,898.4 491.5,901.6 488.6,904.2 485.3,906.5 482.0,909.1 476.8,908.3 472.9,905.5 469.4,902.5 466.3,899.0 463.1,896.1 459.0,893.9 455.6,891.0 452.5,888.2 448.6,886.0 444.6,883.3 441.6,880.2 438.0,877.8 434.4,875.3 431.8,872.2 428.7,869.5 425.3,867.3 422.1,864.3M422.4,862.3 424.1,858.2 426.6,854.0 430.9,853.8 435.2,854.2 439.3,854.0 442.5,851.5 445.5,848.6 450.5,846.3 455.5,843.8 453.7,837.2 453.5,831.1 452.0,829.7M422.4,862.3 417.6,861.1 412.6,860.6 408.0,859.0 402.9,858.5M422.1,864.3 421.1,870.7 416.5,869.5 411.3,869.1 406.3,868.0 405.1,872.3 404.3,876.2 403.6,880.5 399.0,879.5 397.3,884.9 396.4,890.7 391.3,889.6 386.8,888.0 381.8,886.7 377.2,885.6M438.0,877.8 430.3,877.0 430.3,881.5 430.1,885.8 430.3,890.0 430.1,894.1 430.5,898.6 430.6,903.0 430.5,906.8 430.5,911.6 430.2,915.5 430.5,919.7 429.8,924.3 430.0,928.6M482.0,909.1 482.1,914.0 483.1,918.7 483.0,923.5 479.7,930.6 474.9,930.9 470.2,930.6 465.8,931.1 460.3,932.9M531.5,879.7 533.7,883.3 534.8,887.3 537.1,890.3 538.6,894.3 540.1,898.6 540.6,903.9 542.0,908.5 543.3,913.0 540.7,916.5 538.8,920.3 535.8,923.8 536.5,931.4M579.8,882.3 581.2,886.1 583.4,889.9 585.3,893.6 586.9,897.8 588.4,901.6 583.8,904.9 584.2,908.9 583.9,913.1 584.7,917.1M648.3,850.3 646.5,854.9 645.4,859.6 647.8,864.3 649.4,869.4 652.4,873.6M371.5,913.7 377.2,913.7 382.7,913.9 386.7,918.0 390.3,922.2 392.6,926.8 396.7,926.0 401.0,925.0 408.6,926.3 412.6,927.1 417.0,927.5 421.3,927.1 425.9,928.4 430.0,928.6M392.6,926.8 394.3,930.8 395.0,935.0M586.1,723.3 580.6,722.3 575.5,721.3 571.3,717.4 572.6,712.2 572.2,705.1 577.0,700.2 581.9,699.0 583.6,694.8 585.8,690.8 590.4,684.5 586.1,682.8 582.2,680.9 579.0,678.3 580.4,674.2 582.0,670.6 581.6,665.7 581.5,660.4 583.5,656.3 587.3,654.0 590.9,651.4 592.3,646.9 594.3,642.9 599.7,641.4 605.0,640.7 606.4,636.2 607.2,631.9 609.8,628.5 612.1,624.8 614.7,621.2M614.7,621.2 618.3,624.1 622.7,626.7 622.8,633.9 629.8,636.2 629.9,643.8 637.7,643.6 641.8,645.3M641.8,645.3 640.0,648.8 639.1,653.1 636.9,656.8 635.7,660.9 635.0,665.3 634.3,669.3 633.2,673.5 634.8,677.6 636.3,681.5 634.5,685.3 633.2,689.1 627.5,690.1 621.5,690.8 618.3,693.6 614.8,695.5 612.0,698.2 608.4,700.2 605.3,702.8 603.1,710.2 607.7,712.8 611.5,716.4 616.3,719.1 612.3,723.3 607.8,727.1M616.3,719.1 617.0,714.8 617.0,711.0 617.9,706.7 621.8,705.1 626.0,703.9 630.0,702.9 634.2,701.7 638.5,700.8 643.9,698.7 648.7,695.8M641.8,645.3 643.8,651.0 644.9,656.5 645.7,660.8 645.8,665.3 648.6,668.6 647.1,676.4 643.0,678.6 636.3,681.5M648.6,668.6 653.8,666.5 659.4,668.0M643.0,678.6 642.1,683.1 642.1,687.3 646.2,689.6 650.5,691.5M647.5,716.8 651.1,714.1 649.6,709.1 648.5,704.4 647.7,699.3 648.7,695.8 652.5,691.5 652.9,684.0 650.1,680.0 657.0,679.3 659.4,674.8 659.4,668.0M660.0,669.3 660.7,675.0 661.2,681.1 667.1,685.1 669.6,689.1 671.7,692.9 676.3,696.8 675.3,701.9 674.7,707.1 680.5,710.6 679.2,715.3 678.2,720.2 676.1,723.9 673.4,727.4 671.1,730.7M660.0,669.3 664.7,666.0 668.9,662.1 673.4,667.0 677.1,670.1 680.6,672.9 686.9,676.8 690.4,682.1 694.1,686.4 697.9,691.1 696.7,697.6 700.8,700.0 704.7,701.9 709.0,701.7 713.1,701.0 711.5,706.0 710.5,711.0 712.6,714.3M668.9,662.1 669.7,658.4 674.5,658.2 679.4,657.6 684.2,657.4 687.9,655.0 692.2,653.5 695.9,651.2M695.9,651.2 698.2,648.0 700.4,644.3 702.8,641.0 705.0,637.5 707.6,633.2 709.6,629.1 710.4,622.2M695.9,651.2 699.5,653.5 702.5,656.2 704.8,652.9 706.8,649.1 708.4,645.6 710.9,642.5 712.7,638.6 715.3,635.6 716.9,631.8 717.0,627.1 717.9,622.4 710.4,622.2M710.4,622.2 710.0,617.9 709.6,613.9 710.5,606.5 715.9,605.0 715.9,609.8 715.6,614.5 716.0,619.3 710.5,619.1M710.5,606.5 710.9,604.3 708.0,600.3 705.2,596.6 702.8,592.7 701.8,587.7 707.1,582.3M718.5,620.7 723.6,614.8 723.6,608.9 723.9,603.3 730.1,605.4 734.0,603.2 737.8,601.8 744.7,602.5M718.5,620.7 725.0,622.2 730.2,620.0 735.4,619.7 742.2,618.3M707.1,582.3 713.2,583.3 716.1,586.6 719.0,590.4 722.9,591.4 726.9,592.9 730.8,597.8 735.6,597.8 740.3,598.7 744.7,602.5M707.1,582.3 708.8,576.8 713.6,575.7 718.1,574.9 722.9,576.1 727.8,577.7 727.6,572.5 732.2,569.8 736.8,567.6 738.7,563.5 739.6,559.1M739.6,559.1 745.3,563.1 747.6,566.9 749.2,570.7 753.0,572.6 757.0,574.8 760.7,571.8 764.7,569.5 769.5,568.8 774.1,567.6 779.0,564.5 783.8,561.5M745.3,563.1 748.5,556.8 752.8,556.0 756.7,555.8 755.6,547.9 751.9,541.7 755.1,536.6 758.8,533.7 762.4,531.2 767.7,528.7 771.9,526.9 775.6,524.7M732.3,555.1 730.3,551.2 728.3,547.1 724.2,541.7 725.3,534.4 727.4,530.6 729.5,526.4M739.6,559.1 736.2,556.8 732.3,555.1M732.3,555.1 735.0,550.9 736.9,546.2 739.5,541.7 745.4,542.8 747.0,539.0 749.0,534.9 751.8,530.3 755.2,526.5 759.1,519.7 764.3,517.5 768.3,516.0 772.7,514.8M614.7,621.2 609.5,615.2 610.7,608.6 607.9,602.3 611.3,595.4 606.9,594.2 602.7,592.6 603.0,587.4 604.9,583.7 606.9,580.0 604.2,572.6 605.7,568.9 606.9,564.8 603.5,558.9 600.4,554.9 596.9,551.7 596.2,545.5M614.7,621.2 619.9,615.3 626.1,611.0 632.5,610.9 631.3,603.4 634.4,599.7 638.3,597.1 641.2,593.6 640.4,588.6 640.5,584.1 639.9,579.0 639.7,574.3 640.6,570.2 640.8,565.5 637.8,561.7 635.1,557.1 632.7,552.8 629.3,550.1 625.9,547.0 620.2,550.0 617.8,546.3 615.1,543.4 611.8,540.7 609.3,537.6 606.5,534.7 603.6,532.1 601.3,537.4 603.2,541.3 605.5,544.7 600.8,545.4 596.2,545.5M596.2,545.5 596.0,542.4 590.9,541.8 586.0,541.3 578.5,542.9 574.6,538.2 574.5,531.0 577.1,526.4 579.7,522.3 579.2,517.7 578.5,513.0 581.7,508.4 577.3,505.8 572.8,502.5 579.6,498.7 586.2,496.5 590.0,500.0 593.0,497.5 596.3,494.8 599.2,494.9M599.2,494.9 605.1,498.7 608.2,498.3 609.2,502.5 614.3,502.8 620.8,504.4M618.1,488.8 622.6,492.4 625.0,493.4"/>
<path stroke-width="2.6" d="M403.0,603.6l-4.0,1.0M406.5,605.2l3.6,2.4M414.3,617.6l3.4,1.0M415.9,606.9l2.2,1.2M403.7,596.4l-3.8,2.1M415.0,600.0l-2.0,3.6M378.7,607.8l1.9,2.1M409.8,596.8l4.2,2.9M387.5,593.7l-1.2,2.6M411.3,584.6l1.6,3.8M410.8,622.0l2.6,1.7M386.1,614.4l4.7,3.4M392.8,580.5l3.2,0.7M409.8,621.1l-1.2,3.3M385.3,592.1l3.5,1.5M416.0,611.5l-0.8,2.9M414.7,598.9l-2.4,2.7M409.0,614.2l-4.8,1.6M419.0,617.6l-3.6,1.0M417.8,624.1l1.4,5.1M414.0,592.9l-1.2,4.5M379.1,608.4l-4.7,1.9M398.9,614.1l1.0,5.3M404.8,583.8l0.0,4.7M416.2,596.5l-3.4,1.2M401.6,618.4l-3.6,1.4M411.3,589.0l3.9,1.8M427.6,620.9l-3.4,0.5M387.7,594.8l0.1,3.6M410.5,588.5l-2.0,1.6M414.3,596.8l-1.9,4.4M404.2,612.9l2.9,1.8M396.1,611.8l-1.8,4.8M399.2,617.5l5.5,1.6M403.0,607.5l-3.7,1.1M410.4,622.8l-4.1,0.7M420.2,619.1l-2.2,4.5M408.4,617.4l3.0,4.8M379.3,596.5l-3.1,2.8M385.1,590.1l2.7,1.3M407.1,613.4l-4.3,2.4M420.6,608.3l-0.4,5.4M409.8,588.7l2.0,5.1M407.6,604.4l3.5,2.6M406.2,606.3l5.9,0.5M407.0,594.0l-3.6,2.6M405.4,611.5l4.3,0.9M426.2,624.0l1.7,2.7M386.4,583.6l2.0,3.2M407.9,596.2l1.5,3.6M414.4,608.3l-0.5,5.5M413.1,621.4l3.8,3.4M399.8,611.1l3.2,0.2M417.7,624.7l4.0,1.5M422.5,600.2l2.3,1.5M409.3,600.9l-0.6,2.9M385.8,582.2l-5.7,0.2M403.9,600.9l1.0,4.5M403.1,614.4l0.9,3.0M431.2,618.1l-4.3,2.0M399.9,606.0l-0.1,5.9M423.8,618.9l1.6,5.4M423.1,615.9l1.5,4.8M396.8,608.3l4.3,3.9M416.6,590.3l-0.9,4.3M415.1,612.1l-4.3,4.0M409.2,600.5l-4.5,0.5M412.2,615.6l5.7,0.8M405.7,606.7l5.7,1.1M400.9,601.6l-1.1,3.6M392.3,609.3l3.1,3.9M401.5,598.7l-3.3,0.3M407.5,626.2l0.6,5.9M414.0,597.3l2.2,1.6M402.3,610.1l0.5,3.4M411.3,595.2l-3.3,2.8M391.4,611.1l-1.3,4.5M401.2,607.4l4.2,1.4M417.3,603.0l-1.5,3.5M421.7,620.3l2.8,0.7M425.8,607.4l3.1,2.5M394.8,602.9l-3.9,1.0M397.6,575.8l2.7,0.7M410.1,599.1l-1.9,3.0M393.4,613.5l1.9,2.3M381.5,612.6l-5.6,1.5M394.3,594.0l-3.2,1.1M399.3,593.3l3.7,2.6M385.3,615.5l1.6,2.0M407.0,602.6l-1.2,5.8M415.7,618.3l4.3,0.9M421.7,608.9l2.3,2.3M423.0,601.3l1.2,3.5M405.6,602.2l-3.2,3.8M426.9,610.0l-4.4,3.1M415.0,601.4l-3.3,4.2M401.0,595.2l4.6,2.3M381.3,608.9l2.3,1.5M403.4,605.0l-2.5,0.7M389.1,613.0l2.4,2.0M392.0,580.4l2.5,3.7M407.8,600.9l3.9,4.5M397.8,617.8l-1.0,2.9M426.6,620.8l3.3,0.9M404.7,598.1l-4.5,0.6M408.8,601.5l4.8,2.6M393.6,598.0l2.1,4.4M380.8,593.7l-5.4,0.6M410.1,597.5l6.0,0.2M408.5,587.9l1.9,3.4M417.4,612.5l3.3,2.1M406.7,608.8l-4.0,3.6M398.7,589.9l0.7,2.5M399.6,612.0l-5.3,0.3M416.3,606.5l3.7,0.2M398.2,600.6l-4.2,3.3M423.1,624.2l1.9,3.8M383.1,612.8l-0.3,5.0M389.7,604.6l2.9,4.9M397.1,597.8l5.5,2.2M408.8,603.6l-0.6,3.4M410.7,619.8l3.7,2.4M393.7,610.3l1.7,4.3M398.7,604.2l3.7,2.2M404.1,594.7l-1.9,4.5M422.5,615.1l0.3,6.0M401.8,604.0l-4.1,1.3M407.6,595.9l-3.5,1.1M412.2,615.1l2.6,3.7M402.6,600.2l0.9,2.5M418.5,601.6l2.6,2.4M416.6,622.0l1.3,5.2M388.2,614.8l-2.7,0.9M393.7,599.9l-4.1,0.3M387.2,587.7l-3.0,1.0M404.2,580.3l-3.2,0.0M431.6,622.2l4.5,2.0M385.6,584.1l-3.0,2.3M416.4,623.1l2.7,2.3M407.8,601.8l4.6,0.7M392.2,585.1l3.4,0.9M385.5,603.4l2.1,4.3M424.1,601.0l-4.3,2.3M423.5,617.2l-2.6,2.0M405.3,583.3l0.0,2.6M412.2,612.9l-1.3,5.4M405.8,596.1l0.6,3.4M408.8,617.5l2.2,2.0M394.1,607.3l3.1,3.4M418.2,619.9l-2.1,1.7M400.3,591.9l4.6,3.7M383.3,597.3l3.3,0.4M399.8,609.0l3.6,0.7M418.5,621.9l-1.6,5.4M403.6,593.6l-3.4,1.8M396.2,581.0l2.8,1.6M417.5,621.8l3.1,2.3M423.0,613.4l-2.5,0.7M394.0,595.4l4.5,2.1M390.7,613.5l2.9,1.4M414.3,604.0l-4.9,3.3M393.1,610.2l3.8,3.1M416.7,627.3l3.5,3.2M384.2,594.1l4.2,2.4M411.3,612.1l-0.8,4.9M405.7,605.2l0.4,3.6M396.2,623.5l3.3,3.5M385.9,598.2l-3.7,0.5M410.9,626.5l-1.8,4.3M400.3,594.9l3.5,4.1"/>
<path stroke-width="2.6" d="M390.2,620.4 379.5,617.8 370.1,620.4 358.0,617.8 355.4,625.8 366.1,627.2 376.8,625.8 384.9,631.2 374.1,633.9 363.4,636.5 358.0,644.6 368.8,647.3 379.5,641.9 387.5,636.5 390.2,644.6 380.8,652.6 370.1,655.3 363.4,658.0"/>
</g>
<path d="M460.3 294.9V932.9M141.3 614.2H779.3" stroke="#3a0048" stroke-width="1.9" fill="none"/>
</g>
<circle cx="460.3" cy="613.9" r="319.0" fill="none" stroke="#3a0048" stroke-width="2"/>
<rect x="754" y="611" width="23.6" height="325" fill="#fff"/>
<text transform="translate(762.8,614.8) rotate(90)" font-size="15.5" class="t" style="fill:#111"><tspan x="0.0" textLength="91.8" lengthAdjust="spacingAndGlyphs">NOAA/ESRL</tspan> <tspan x="100.5" textLength="65.9" lengthAdjust="spacingAndGlyphs">Physical</tspan> <tspan x="174.6" textLength="70.2" lengthAdjust="spacingAndGlyphs">Sciences</tspan> <tspan x="253.4" textLength="60.7" lengthAdjust="spacingAndGlyphs">Division</tspan></text>
<text transform="translate(92.2,223.6) rotate(90)" font-size="18.8" class="t"><tspan x="0.0" textLength="66.7" lengthAdjust="spacingAndGlyphs">500mb</tspan> <tspan x="79.1" textLength="117.2" lengthAdjust="spacingAndGlyphs">Geopotential</tspan> <tspan x="208.3" textLength="61.4" lengthAdjust="spacingAndGlyphs">Height</tspan> <tspan x="278.7" textLength="37.1" lengthAdjust="spacingAndGlyphs">(m)</tspan> <tspan x="326.5" textLength="100.2" lengthAdjust="spacingAndGlyphs">Composite</tspan> <tspan x="436.5" textLength="80.6" lengthAdjust="spacingAndGlyphs">Anomaly</tspan> <tspan x="524.4" textLength="127.1" lengthAdjust="spacingAndGlyphs">(1981-2010</tspan> <tspan x="663.1" textLength="118.8" lengthAdjust="spacingAndGlyphs">Climatology)</tspan></text>
<text transform="translate(71.0,425.8) rotate(90)" font-size="18.8" class="t"><tspan x="0.0" textLength="38.8" lengthAdjust="spacingAndGlyphs">July</tspan> <tspan x="49.6" textLength="14.5" lengthAdjust="spacingAndGlyphs">-</tspan> <tspan x="76.5" textLength="71.9" lengthAdjust="spacingAndGlyphs">Neutral</tspan> <tspan x="153.9" textLength="54.1" lengthAdjust="spacingAndGlyphs">ENSO</tspan> <tspan x="217.8" textLength="15.4" lengthAdjust="spacingAndGlyphs">-</tspan> <tspan x="244.8" textLength="39.7" lengthAdjust="spacingAndGlyphs">MJO</tspan> <tspan x="294.3" textLength="57.1" lengthAdjust="spacingAndGlyphs">Phase</tspan> <tspan x="362.2" textLength="14.2" lengthAdjust="spacingAndGlyphs">6</tspan></text>
<text transform="translate(41.1,502.3) rotate(90)" font-size="18.8" class="t"><tspan x="0.0" textLength="114.1" lengthAdjust="spacingAndGlyphs">NCEP/NCAR</tspan> <tspan x="125.7" textLength="98.8" lengthAdjust="spacingAndGlyphs">Reanalysis</tspan></text>
<polygon points="118.2,1026.3 96.6,1036.0 118.2,1045.7" fill="#4b004b" stroke="#000" stroke-width="1.6" stroke-linejoin="miter"/>
<polygon points="775.2,1026.3 796.6,1036.0 775.2,1045.7" fill="#c80000" stroke="#000" stroke-width="1.6" stroke-linejoin="miter"/>
<rect x="118.2" y="1026.3" width="21.9" height="19.4" fill="#5a005a" stroke="#000" stroke-width="1.6"/>
<rect x="140.1" y="1026.3" width="21.9" height="19.4" fill="#780078" stroke="#000" stroke-width="1.6"/>
<rect x="162.0" y="1026.3" width="21.9" height="19.4" fill="#960096" stroke="#000" stroke-width="1.6"/>
<rect x="183.9" y="1026.3" width="21.9" height="19.4" fill="#b400b4" stroke="#000" stroke-width="1.6"/>
<rect x="205.8" y="1026.3" width="21.9" height="19.4" fill="#c800c8" stroke="#000" stroke-width="1.6"/>
<rect x="227.7" y="1026.3" width="21.9" height="19.4" fill="#9600c8" stroke="#000" stroke-width="1.6"/>
<rect x="249.6" y="1026.3" width="21.9" height="19.4" fill="#7800dc" stroke="#000" stroke-width="1.6"/>
<rect x="271.5" y="1026.3" width="21.9" height="19.4" fill="#6400e6" stroke="#000" stroke-width="1.6"/>
<rect x="293.4" y="1026.3" width="21.9" height="19.4" fill="#3200dc" stroke="#000" stroke-width="1.6"/>
<rect x="315.3" y="1026.3" width="21.9" height="19.4" fill="#0032dc" stroke="#000" stroke-width="1.6"/>
<rect x="337.2" y="1026.3" width="21.9" height="19.4" fill="#0064c8" stroke="#000" stroke-width="1.6"/>
<rect x="359.1" y="1026.3" width="21.9" height="19.4" fill="#0096dc" stroke="#000" stroke-width="1.6"/>
<rect x="381.0" y="1026.3" width="21.9" height="19.4" fill="#00c8f0" stroke="#000" stroke-width="1.6"/>
<rect x="402.9" y="1026.3" width="21.9" height="19.4" fill="#00ffff" stroke="#000" stroke-width="1.6"/>
<rect x="424.8" y="1026.3" width="21.9" height="19.4" fill="#ffffff" stroke="#000" stroke-width="1.6"/>
<rect x="446.7" y="1026.3" width="21.9" height="19.4" fill="#ffffff" stroke="#000" stroke-width="1.6"/>
<rect x="468.6" y="1026.3" width="21.9" height="19.4" fill="#32dc0a" stroke="#000" stroke-width="1.6"/>
<rect x="490.5" y="1026.3" width="21.9" height="19.4" fill="#64dc0a" stroke="#000" stroke-width="1.6"/>
<rect x="512.4" y="1026.3" width="21.9" height="19.4" fill="#96dc00" stroke="#000" stroke-width="1.6"/>
<rect x="534.3" y="1026.3" width="21.9" height="19.4" fill="#c8dc00" stroke="#000" stroke-width="1.6"/>
<rect x="556.2" y="1026.3" width="21.9" height="19.4" fill="#e6e600" stroke="#000" stroke-width="1.6"/>
<rect x="578.1" y="1026.3" width="21.9" height="19.4" fill="#ffe100" stroke="#000" stroke-width="1.6"/>
<rect x="600.0" y="1026.3" width="21.9" height="19.4" fill="#ffff00" stroke="#000" stroke-width="1.6"/>
<rect x="621.9" y="1026.3" width="21.9" height="19.4" fill="#ffe600" stroke="#000" stroke-width="1.6"/>
<rect x="643.8" y="1026.3" width="21.9" height="19.4" fill="#ffc800" stroke="#000" stroke-width="1.6"/>
<rect x="665.7" y="1026.3" width="21.9" height="19.4" fill="#ffaa00" stroke="#000" stroke-width="1.6"/>
<rect x="687.6" y="1026.3" width="21.9" height="19.4" fill="#ff8c00" stroke="#000" stroke-width="1.6"/>
<rect x="709.5" y="1026.3" width="21.9" height="19.4" fill="#ff6400" stroke="#000" stroke-width="1.6"/>
<rect x="731.4" y="1026.3" width="21.9" height="19.4" fill="#ff3200" stroke="#000" stroke-width="1.6"/>
<rect x="753.3" y="1026.3" width="21.9" height="19.4" fill="#ff0a0a" stroke="#000" stroke-width="1.6"/>
<text transform="translate(110.8,1051.0) rotate(90)" font-size="19.6" class="t"><tspan textLength="18" lengthAdjust="spacingAndGlyphs">-</tspan><tspan dx="-1.1" textLength="37.7" lengthAdjust="spacing">150</tspan></text>
<text transform="translate(154.6,1051.0) rotate(90)" font-size="19.6" class="t"><tspan textLength="18" lengthAdjust="spacingAndGlyphs">-</tspan><tspan dx="-1.1" textLength="37.7" lengthAdjust="spacing">130</tspan></text>
<text transform="translate(198.4,1051.0) rotate(90)" font-size="19.6" class="t"><tspan textLength="18" lengthAdjust="spacingAndGlyphs">-</tspan><tspan dx="-1.1" textLength="37.7" lengthAdjust="spacing">110</tspan></text>
<text transform="translate(242.2,1051.0) rotate(90)" font-size="19.6" class="t"><tspan textLength="18" lengthAdjust="spacingAndGlyphs">-</tspan><tspan dx="-1.1" textLength="25.4" lengthAdjust="spacing">90</tspan></text>
<text transform="translate(286.0,1051.0) rotate(90)" font-size="19.6" class="t"><tspan textLength="18" lengthAdjust="spacingAndGlyphs">-</tspan><tspan dx="-1.1" textLength="25.4" lengthAdjust="spacing">70</tspan></text>
<text transform="translate(329.8,1051.0) rotate(90)" font-size="19.6" class="t"><tspan textLength="18" lengthAdjust="spacingAndGlyphs">-</tspan><tspan dx="-1.1" textLength="25.4" lengthAdjust="spacing">50</tspan></text>
<text transform="translate(373.6,1051.0) rotate(90)" font-size="19.6" class="t"><tspan textLength="18" lengthAdjust="spacingAndGlyphs">-</tspan><tspan dx="-1.1" textLength="25.4" lengthAdjust="spacing">30</tspan></text>
<text transform="translate(417.4,1051.0) rotate(90)" font-size="19.6" class="t"><tspan textLength="18" lengthAdjust="spacingAndGlyphs">-</tspan><tspan dx="-1.1" textLength="25.4" lengthAdjust="spacing">10</tspan></text>
<text transform="translate(461.2,1052.6) rotate(90)" font-size="19.6" class="t" textLength="25.4" lengthAdjust="spacing">10</text>
<text transform="translate(505.0,1052.6) rotate(90)" font-size="19.6" class="t" textLength="25.4" lengthAdjust="spacing">30</text>
<text transform="translate(548.8,1052.6) rotate(90)" font-size="19.6" class="t" textLength="25.4" lengthAdjust="spacing">50</text>
<text transform="translate(592.6,1052.6) rotate(90)" font-size="19.6" class="t" textLength="25.4" lengthAdjust="spacing">70</text>
<text transform="translate(636.4,1052.6) rotate(90)" font-size="19.6" class="t" textLength="25.4" lengthAdjust="spacing">90</text>
<text transform="translate(680.2,1052.6) rotate(90)" font-size="19.6" class="t" textLength="37.7" lengthAdjust="spacing">110</text>
<text transform="translate(724.0,1052.6) rotate(90)" font-size="19.6" class="t" textLength="37.7" lengthAdjust="spacing">130</text>
<text transform="translate(767.8,1052.6) rotate(90)" font-size="19.6" class="t" textLength="37.7" lengthAdjust="spacing">150</text>
</svg>
</body></html>
